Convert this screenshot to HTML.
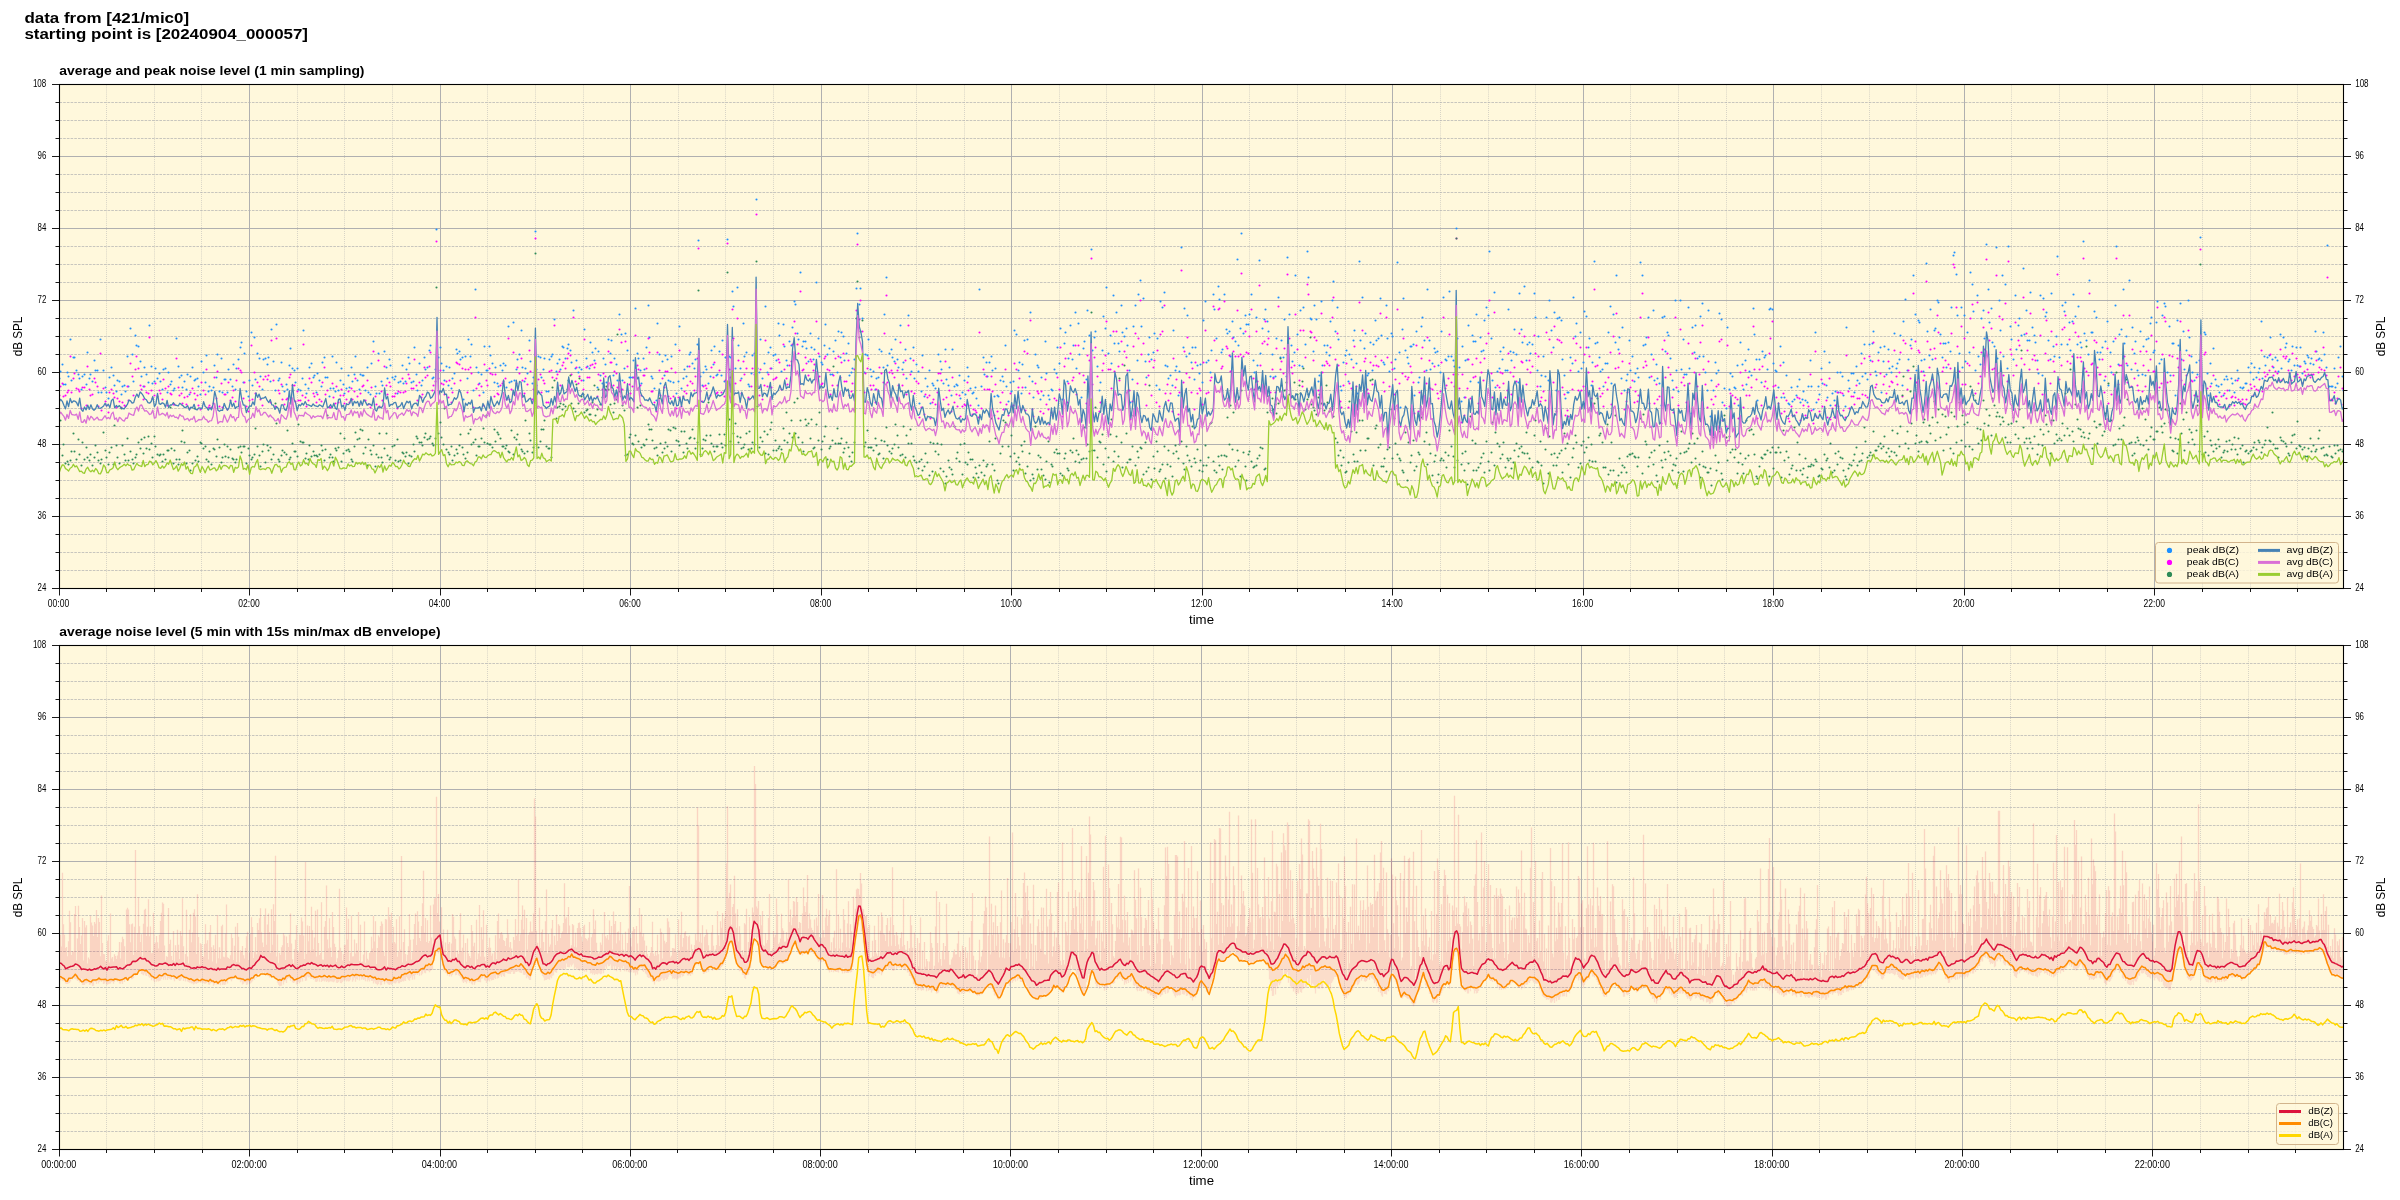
<!DOCTYPE html><html><head><meta charset="utf-8"><style>html,body{margin:0;padding:0;background:#fff}svg{display:block}text{font-family:"Liberation Sans",sans-serif;-webkit-font-smoothing:antialiased}svg{will-change:transform}</style></head><body><svg xmlns="http://www.w3.org/2000/svg" width="2400" height="1200" viewBox="0 0 2400 1200" font-family="Liberation Sans, sans-serif"><rect width="2400" height="1200" fill="#fff"/><text x="24.40" y="22.90" font-size="14" text-anchor="start" font-weight="bold" textLength="164.7" lengthAdjust="spacingAndGlyphs">data from [421/mic0]</text><text x="24.40" y="38.70" font-size="14" text-anchor="start" font-weight="bold" textLength="283.6" lengthAdjust="spacingAndGlyphs">starting point is [20240904_000057]</text><defs><clipPath id="c1"><rect x="59.5" y="84.5" width="2284" height="504"/></clipPath><clipPath id="c2"><rect x="59.5" y="645.5" width="2284" height="504"/></clipPath></defs><rect x="59" y="84.0" width="2285" height="505" fill="#fff8dc"/><path d="M59.5 570.5H2343.5M59.5 552.5H2343.5M59.5 534.5H2343.5M59.5 498.5H2343.5M59.5 480.5H2343.5M59.5 462.5H2343.5M59.5 426.5H2343.5M59.5 408.5H2343.5M59.5 390.5H2343.5M59.5 354.5H2343.5M59.5 336.5H2343.5M59.5 318.5H2343.5M59.5 282.5H2343.5M59.5 264.5H2343.5M59.5 246.5H2343.5M59.5 210.5H2343.5M59.5 192.5H2343.5M59.5 174.5H2343.5M59.5 138.5H2343.5M59.5 120.5H2343.5M59.5 102.5H2343.5" stroke="#b0b0b0" stroke-width="0.7" stroke-dasharray="2.6,1.1" fill="none"/><path d="M106.5 588.5V84.5M154.5 588.5V84.5M201.5 588.5V84.5M297.5 588.5V84.5M344.5 588.5V84.5M392.5 588.5V84.5M487.5 588.5V84.5M535.5 588.5V84.5M583.5 588.5V84.5M678.5 588.5V84.5M725.5 588.5V84.5M773.5 588.5V84.5M868.5 588.5V84.5M916.5 588.5V84.5M964.5 588.5V84.5M1059.5 588.5V84.5M1106.5 588.5V84.5M1154.5 588.5V84.5M1249.5 588.5V84.5M1297.5 588.5V84.5M1345.5 588.5V84.5M1440.5 588.5V84.5M1488.5 588.5V84.5M1535.5 588.5V84.5M1630.5 588.5V84.5M1678.5 588.5V84.5M1726.5 588.5V84.5M1821.5 588.5V84.5M1869.5 588.5V84.5M1916.5 588.5V84.5M2011.5 588.5V84.5M2059.5 588.5V84.5M2107.5 588.5V84.5M2202.5 588.5V84.5M2250.5 588.5V84.5M2297.5 588.5V84.5" stroke="#b0b0b0" stroke-width="0.7" stroke-dasharray="0.7,1.35" fill="none"/><path d="M59.5 516.5H2343.5M59.5 444.5H2343.5M59.5 372.5H2343.5M59.5 300.5H2343.5M59.5 228.5H2343.5M59.5 156.5H2343.5M249.5 84.5V588.5M440.5 84.5V588.5M630.5 84.5V588.5M821.5 84.5V588.5M1011.5 84.5V588.5M1202.5 84.5V588.5M1392.5 84.5V588.5M1583.5 84.5V588.5M1773.5 84.5V588.5M1964.5 84.5V588.5M2154.5 84.5V588.5" stroke="#b0b0b0" stroke-width="1" fill="none"/><g clip-path="url(#c1)"><path d="M59.5 378.5h0M60.5 371.5h0M62.5 364.5h0M63.5 384.5h0M65.5 384.5h0M67.5 372.5h0M68.5 376.5h0M70.5 339.5h0M71.5 380.5h0M73.5 357.5h0M74.5 357.5h0M76.5 370.5h0M78.5 374.5h0M79.5 378.5h0M81.5 389.5h0M82.5 376.5h0M84.5 374.5h0M86.5 384.5h0M87.5 352.5h0M89.5 378.5h0M90.5 374.5h0M92.5 381.5h0M94.5 360.5h0M95.5 370.5h0M97.5 370.5h0M98.5 392.5h0M100.5 339.5h0M101.5 392.5h0M103.5 370.5h0M105.5 387.5h0M106.5 392.5h0M108.5 398.5h0M109.5 377.5h0M111.5 367.5h0M113.5 375.5h0M114.5 385.5h0M116.5 391.5h0M117.5 380.5h0M119.5 381.5h0M121.5 394.5h0M122.5 386.5h0M124.5 385.5h0M125.5 391.5h0M127.5 356.5h0M128.5 386.5h0M130.5 328.5h0M132.5 354.5h0M133.5 381.5h0M135.5 335.5h0M136.5 345.5h0M138.5 346.5h0M140.5 361.5h0M141.5 376.5h0M143.5 386.5h0M144.5 367.5h0M146.5 374.5h0M148.5 382.5h0M149.5 325.5h0M151.5 366.5h0M152.5 383.5h0M154.5 381.5h0M155.5 368.5h0M157.5 378.5h0M159.5 373.5h0M160.5 381.5h0M162.5 389.5h0M163.5 369.5h0M165.5 368.5h0M167.5 392.5h0M168.5 372.5h0M170.5 384.5h0M171.5 381.5h0M173.5 390.5h0M174.5 388.5h0M176.5 338.5h0M178.5 366.5h0M179.5 377.5h0M181.5 375.5h0M182.5 387.5h0M184.5 381.5h0M186.5 389.5h0M187.5 374.5h0M189.5 394.5h0M190.5 376.5h0M192.5 367.5h0M194.5 380.5h0M195.5 379.5h0M197.5 378.5h0M198.5 386.5h0M200.5 394.5h0M201.5 361.5h0M203.5 372.5h0M205.5 382.5h0M206.5 355.5h0M208.5 391.5h0M209.5 386.5h0M211.5 390.5h0M213.5 387.5h0M214.5 365.5h0M216.5 377.5h0M217.5 354.5h0M219.5 391.5h0M221.5 358.5h0M222.5 392.5h0M224.5 379.5h0M225.5 379.5h0M227.5 392.5h0M228.5 369.5h0M230.5 379.5h0M232.5 386.5h0M233.5 364.5h0M235.5 389.5h0M236.5 368.5h0M238.5 359.5h0M240.5 347.5h0M241.5 342.5h0M243.5 382.5h0M244.5 353.5h0M246.5 391.5h0M248.5 396.5h0M249.5 380.5h0M251.5 332.5h0M252.5 385.5h0M254.5 337.5h0M255.5 379.5h0M257.5 353.5h0M259.5 358.5h0M260.5 376.5h0M262.5 389.5h0M263.5 359.5h0M265.5 358.5h0M267.5 364.5h0M268.5 357.5h0M270.5 381.5h0M271.5 329.5h0M273.5 361.5h0M275.5 390.5h0M276.5 324.5h0M278.5 380.5h0M279.5 378.5h0M281.5 362.5h0M282.5 386.5h0M284.5 391.5h0M286.5 384.5h0M287.5 389.5h0M289.5 365.5h0M290.5 348.5h0M292.5 368.5h0M294.5 370.5h0M295.5 382.5h0M297.5 368.5h0M298.5 389.5h0M300.5 390.5h0M302.5 378.5h0M303.5 330.5h0M305.5 384.5h0M306.5 393.5h0M308.5 388.5h0M309.5 367.5h0M311.5 363.5h0M313.5 377.5h0M314.5 375.5h0M316.5 392.5h0M317.5 373.5h0M319.5 380.5h0M321.5 386.5h0M322.5 362.5h0M324.5 357.5h0M325.5 377.5h0M327.5 377.5h0M329.5 396.5h0M330.5 388.5h0M332.5 356.5h0M333.5 388.5h0M335.5 391.5h0M336.5 362.5h0M338.5 390.5h0M340.5 380.5h0M341.5 368.5h0M343.5 384.5h0M344.5 393.5h0M346.5 388.5h0M348.5 375.5h0M349.5 387.5h0M351.5 367.5h0M352.5 381.5h0M354.5 374.5h0M355.5 356.5h0M357.5 380.5h0M359.5 389.5h0M360.5 374.5h0M362.5 375.5h0M363.5 375.5h0M365.5 390.5h0M367.5 367.5h0M368.5 392.5h0M370.5 394.5h0M371.5 363.5h0M373.5 341.5h0M375.5 386.5h0M376.5 393.5h0M378.5 353.5h0M379.5 393.5h0M381.5 381.5h0M382.5 385.5h0M384.5 351.5h0M386.5 367.5h0M387.5 378.5h0M389.5 359.5h0M390.5 365.5h0M392.5 377.5h0M394.5 379.5h0M395.5 376.5h0M397.5 393.5h0M398.5 382.5h0M400.5 381.5h0M402.5 365.5h0M403.5 383.5h0M405.5 381.5h0M406.5 369.5h0M408.5 357.5h0M409.5 363.5h0M411.5 382.5h0M413.5 381.5h0M414.5 347.5h0M416.5 374.5h0M417.5 390.5h0M419.5 363.5h0M421.5 385.5h0M422.5 380.5h0M424.5 357.5h0M425.5 369.5h0M427.5 367.5h0M429.5 350.5h0M430.5 345.5h0M432.5 378.5h0M433.5 377.5h0M435.5 369.5h0M436.5 229.5h0M438.5 357.5h0M440.5 347.5h0M441.5 363.5h0M443.5 370.5h0M444.5 380.5h0M446.5 366.5h0M448.5 385.5h0M449.5 367.5h0M451.5 388.5h0M452.5 378.5h0M454.5 373.5h0M456.5 349.5h0M457.5 353.5h0M459.5 351.5h0M460.5 359.5h0M462.5 357.5h0M463.5 399.5h0M465.5 356.5h0M467.5 378.5h0M468.5 339.5h0M470.5 356.5h0M471.5 344.5h0M473.5 390.5h0M475.5 289.5h0M476.5 367.5h0M478.5 372.5h0M479.5 383.5h0M481.5 374.5h0M483.5 392.5h0M484.5 346.5h0M486.5 370.5h0M487.5 370.5h0M489.5 346.5h0M490.5 355.5h0M492.5 363.5h0M494.5 382.5h0M495.5 367.5h0M497.5 383.5h0M498.5 386.5h0M500.5 365.5h0M502.5 370.5h0M503.5 363.5h0M505.5 365.5h0M506.5 387.5h0M508.5 326.5h0M509.5 382.5h0M511.5 381.5h0M513.5 322.5h0M514.5 380.5h0M516.5 369.5h0M517.5 359.5h0M519.5 354.5h0M521.5 330.5h0M522.5 367.5h0M524.5 381.5h0M525.5 368.5h0M527.5 373.5h0M529.5 340.5h0M530.5 361.5h0M532.5 383.5h0M533.5 377.5h0M535.5 231.5h0M536.5 369.5h0M538.5 356.5h0M540.5 357.5h0M541.5 377.5h0M543.5 369.5h0M544.5 358.5h0M546.5 391.5h0M548.5 391.5h0M549.5 359.5h0M551.5 356.5h0M552.5 354.5h0M554.5 319.5h0M556.5 371.5h0M557.5 363.5h0M559.5 359.5h0M560.5 369.5h0M562.5 346.5h0M563.5 347.5h0M565.5 358.5h0M567.5 348.5h0M568.5 344.5h0M570.5 350.5h0M571.5 362.5h0M573.5 310.5h0M575.5 368.5h0M576.5 360.5h0M578.5 372.5h0M579.5 367.5h0M581.5 369.5h0M583.5 380.5h0M584.5 329.5h0M586.5 358.5h0M587.5 366.5h0M589.5 368.5h0M590.5 342.5h0M592.5 352.5h0M594.5 360.5h0M595.5 348.5h0M597.5 387.5h0M598.5 351.5h0M600.5 375.5h0M602.5 383.5h0M603.5 358.5h0M605.5 364.5h0M606.5 382.5h0M608.5 339.5h0M610.5 353.5h0M611.5 340.5h0M613.5 375.5h0M614.5 358.5h0M616.5 364.5h0M617.5 380.5h0M619.5 314.5h0M621.5 334.5h0M622.5 380.5h0M624.5 368.5h0M625.5 333.5h0M627.5 350.5h0M629.5 377.5h0M630.5 377.5h0M632.5 377.5h0M633.5 360.5h0M635.5 308.5h0M637.5 353.5h0M638.5 358.5h0M640.5 370.5h0M641.5 383.5h0M643.5 358.5h0M644.5 369.5h0M646.5 347.5h0M648.5 305.5h0M649.5 337.5h0M651.5 376.5h0M652.5 378.5h0M654.5 388.5h0M656.5 400.5h0M657.5 323.5h0M659.5 354.5h0M660.5 383.5h0M662.5 361.5h0M664.5 375.5h0M665.5 355.5h0M667.5 359.5h0M668.5 380.5h0M670.5 381.5h0M671.5 356.5h0M673.5 382.5h0M675.5 344.5h0M676.5 393.5h0M678.5 381.5h0M679.5 326.5h0M681.5 388.5h0M683.5 378.5h0M684.5 369.5h0M686.5 376.5h0M687.5 366.5h0M689.5 354.5h0M690.5 352.5h0M692.5 363.5h0M694.5 368.5h0M695.5 359.5h0M697.5 344.5h0M698.5 240.5h0M700.5 376.5h0M702.5 385.5h0M703.5 372.5h0M705.5 366.5h0M706.5 369.5h0M708.5 383.5h0M710.5 376.5h0M711.5 350.5h0M713.5 364.5h0M714.5 346.5h0M716.5 375.5h0M717.5 374.5h0M719.5 351.5h0M721.5 375.5h0M722.5 340.5h0M724.5 381.5h0M725.5 357.5h0M727.5 239.5h0M729.5 356.5h0M730.5 357.5h0M732.5 291.5h0M733.5 306.5h0M735.5 368.5h0M737.5 287.5h0M738.5 345.5h0M740.5 368.5h0M741.5 378.5h0M743.5 323.5h0M744.5 356.5h0M746.5 352.5h0M748.5 384.5h0M749.5 386.5h0M751.5 373.5h0M752.5 355.5h0M754.5 353.5h0M756.5 199.5h0M757.5 368.5h0M759.5 372.5h0M760.5 339.5h0M762.5 378.5h0M764.5 363.5h0M765.5 306.5h0M767.5 372.5h0M768.5 352.5h0M770.5 347.5h0M771.5 368.5h0M773.5 355.5h0M775.5 354.5h0M776.5 360.5h0M778.5 323.5h0M779.5 335.5h0M781.5 371.5h0M783.5 324.5h0M784.5 346.5h0M786.5 360.5h0M787.5 365.5h0M789.5 341.5h0M791.5 345.5h0M792.5 327.5h0M794.5 301.5h0M795.5 304.5h0M797.5 333.5h0M798.5 339.5h0M800.5 272.5h0M802.5 346.5h0M803.5 341.5h0M805.5 341.5h0M806.5 348.5h0M808.5 361.5h0M810.5 333.5h0M811.5 347.5h0M813.5 359.5h0M814.5 349.5h0M816.5 282.5h0M818.5 338.5h0M819.5 356.5h0M821.5 362.5h0M822.5 364.5h0M824.5 345.5h0M825.5 324.5h0M827.5 354.5h0M829.5 348.5h0M830.5 374.5h0M832.5 374.5h0M833.5 351.5h0M835.5 340.5h0M837.5 372.5h0M838.5 331.5h0M840.5 357.5h0M841.5 332.5h0M843.5 336.5h0M844.5 360.5h0M846.5 353.5h0M848.5 343.5h0M849.5 375.5h0M851.5 372.5h0M852.5 368.5h0M854.5 359.5h0M856.5 288.5h0M857.5 233.5h0M859.5 304.5h0M860.5 288.5h0M862.5 318.5h0M864.5 372.5h0M865.5 354.5h0M867.5 355.5h0M868.5 339.5h0M870.5 369.5h0M871.5 376.5h0M873.5 371.5h0M875.5 389.5h0M876.5 378.5h0M878.5 377.5h0M879.5 349.5h0M881.5 351.5h0M883.5 367.5h0M884.5 314.5h0M886.5 277.5h0M887.5 365.5h0M889.5 353.5h0M891.5 349.5h0M892.5 357.5h0M894.5 361.5h0M895.5 339.5h0M897.5 359.5h0M898.5 367.5h0M900.5 325.5h0M902.5 369.5h0M903.5 362.5h0M905.5 349.5h0M906.5 378.5h0M908.5 315.5h0M910.5 358.5h0M911.5 371.5h0M913.5 347.5h0M914.5 378.5h0M916.5 364.5h0M918.5 371.5h0M919.5 403.5h0M921.5 391.5h0M922.5 355.5h0M924.5 396.5h0M925.5 378.5h0M927.5 386.5h0M929.5 370.5h0M930.5 403.5h0M932.5 383.5h0M933.5 385.5h0M935.5 388.5h0M937.5 380.5h0M938.5 354.5h0M940.5 361.5h0M941.5 369.5h0M943.5 383.5h0M945.5 349.5h0M946.5 379.5h0M948.5 385.5h0M949.5 367.5h0M951.5 395.5h0M952.5 349.5h0M954.5 386.5h0M956.5 384.5h0M957.5 385.5h0M959.5 375.5h0M960.5 398.5h0M962.5 392.5h0M964.5 380.5h0M965.5 394.5h0M967.5 367.5h0M968.5 376.5h0M970.5 388.5h0M972.5 393.5h0M973.5 392.5h0M975.5 387.5h0M976.5 398.5h0M978.5 405.5h0M979.5 289.5h0M981.5 386.5h0M983.5 357.5h0M984.5 374.5h0M986.5 362.5h0M987.5 376.5h0M989.5 362.5h0M991.5 356.5h0M992.5 370.5h0M994.5 396.5h0M995.5 368.5h0M997.5 395.5h0M998.5 396.5h0M1000.5 380.5h0M1002.5 376.5h0M1003.5 381.5h0M1005.5 345.5h0M1006.5 386.5h0M1008.5 401.5h0M1010.5 382.5h0M1011.5 391.5h0M1013.5 381.5h0M1014.5 330.5h0M1016.5 334.5h0M1018.5 370.5h0M1019.5 362.5h0M1021.5 393.5h0M1022.5 364.5h0M1024.5 340.5h0M1025.5 387.5h0M1027.5 339.5h0M1029.5 376.5h0M1030.5 312.5h0M1032.5 381.5h0M1033.5 397.5h0M1035.5 354.5h0M1037.5 365.5h0M1038.5 367.5h0M1040.5 399.5h0M1041.5 377.5h0M1043.5 395.5h0M1045.5 341.5h0M1046.5 373.5h0M1048.5 395.5h0M1049.5 399.5h0M1051.5 389.5h0M1052.5 390.5h0M1054.5 369.5h0M1056.5 373.5h0M1057.5 347.5h0M1059.5 363.5h0M1060.5 328.5h0M1062.5 399.5h0M1064.5 343.5h0M1065.5 332.5h0M1067.5 381.5h0M1068.5 358.5h0M1070.5 325.5h0M1072.5 359.5h0M1073.5 345.5h0M1075.5 312.5h0M1076.5 368.5h0M1078.5 323.5h0M1079.5 354.5h0M1081.5 397.5h0M1083.5 348.5h0M1084.5 341.5h0M1086.5 379.5h0M1087.5 310.5h0M1089.5 335.5h0M1091.5 249.5h0M1092.5 350.5h0M1094.5 337.5h0M1095.5 331.5h0M1097.5 366.5h0M1099.5 390.5h0M1100.5 382.5h0M1102.5 350.5h0M1103.5 316.5h0M1105.5 328.5h0M1106.5 287.5h0M1108.5 353.5h0M1110.5 335.5h0M1111.5 363.5h0M1113.5 295.5h0M1114.5 343.5h0M1116.5 312.5h0M1118.5 343.5h0M1119.5 351.5h0M1121.5 305.5h0M1122.5 332.5h0M1124.5 336.5h0M1126.5 328.5h0M1127.5 345.5h0M1129.5 370.5h0M1130.5 402.5h0M1132.5 379.5h0M1133.5 326.5h0M1135.5 305.5h0M1137.5 360.5h0M1138.5 294.5h0M1140.5 280.5h0M1141.5 326.5h0M1143.5 298.5h0M1145.5 361.5h0M1146.5 377.5h0M1148.5 354.5h0M1149.5 337.5h0M1151.5 359.5h0M1153.5 352.5h0M1154.5 333.5h0M1156.5 385.5h0M1157.5 338.5h0M1159.5 389.5h0M1160.5 301.5h0M1162.5 307.5h0M1164.5 292.5h0M1165.5 365.5h0M1167.5 366.5h0M1168.5 378.5h0M1170.5 375.5h0M1172.5 385.5h0M1173.5 330.5h0M1175.5 370.5h0M1176.5 366.5h0M1178.5 395.5h0M1179.5 371.5h0M1181.5 247.5h0M1183.5 347.5h0M1184.5 308.5h0M1186.5 356.5h0M1187.5 315.5h0M1189.5 353.5h0M1191.5 362.5h0M1192.5 347.5h0M1194.5 379.5h0M1195.5 347.5h0M1197.5 365.5h0M1199.5 373.5h0M1200.5 364.5h0M1202.5 382.5h0M1203.5 320.5h0M1205.5 301.5h0M1206.5 362.5h0M1208.5 360.5h0M1210.5 372.5h0M1211.5 350.5h0M1213.5 294.5h0M1214.5 309.5h0M1216.5 338.5h0M1218.5 286.5h0M1219.5 299.5h0M1221.5 352.5h0M1222.5 349.5h0M1224.5 294.5h0M1226.5 329.5h0M1227.5 333.5h0M1229.5 331.5h0M1230.5 356.5h0M1232.5 321.5h0M1233.5 337.5h0M1235.5 341.5h0M1237.5 259.5h0M1238.5 345.5h0M1240.5 328.5h0M1241.5 233.5h0M1243.5 333.5h0M1245.5 315.5h0M1246.5 324.5h0M1248.5 324.5h0M1249.5 314.5h0M1251.5 294.5h0M1253.5 360.5h0M1254.5 372.5h0M1256.5 317.5h0M1257.5 365.5h0M1259.5 260.5h0M1260.5 353.5h0M1262.5 328.5h0M1264.5 319.5h0M1265.5 309.5h0M1267.5 321.5h0M1268.5 331.5h0M1270.5 376.5h0M1272.5 354.5h0M1273.5 377.5h0M1275.5 376.5h0M1276.5 338.5h0M1278.5 297.5h0M1280.5 357.5h0M1281.5 340.5h0M1283.5 357.5h0M1284.5 319.5h0M1286.5 376.5h0M1287.5 257.5h0M1289.5 314.5h0M1291.5 345.5h0M1292.5 361.5h0M1294.5 352.5h0M1295.5 275.5h0M1297.5 334.5h0M1299.5 365.5h0M1300.5 310.5h0M1302.5 366.5h0M1303.5 307.5h0M1305.5 344.5h0M1307.5 251.5h0M1308.5 277.5h0M1310.5 318.5h0M1311.5 319.5h0M1313.5 351.5h0M1314.5 305.5h0M1316.5 319.5h0M1318.5 381.5h0M1319.5 375.5h0M1321.5 301.5h0M1322.5 365.5h0M1324.5 345.5h0M1326.5 352.5h0M1327.5 345.5h0M1329.5 355.5h0M1330.5 321.5h0M1332.5 300.5h0M1333.5 281.5h0M1335.5 331.5h0M1337.5 307.5h0M1338.5 339.5h0M1340.5 386.5h0M1341.5 390.5h0M1343.5 362.5h0M1345.5 355.5h0M1346.5 350.5h0M1348.5 381.5h0M1349.5 354.5h0M1351.5 359.5h0M1353.5 340.5h0M1354.5 330.5h0M1356.5 363.5h0M1357.5 393.5h0M1359.5 261.5h0M1360.5 340.5h0M1362.5 297.5h0M1364.5 348.5h0M1365.5 333.5h0M1367.5 375.5h0M1368.5 373.5h0M1370.5 342.5h0M1372.5 370.5h0M1373.5 344.5h0M1375.5 320.5h0M1376.5 340.5h0M1378.5 338.5h0M1380.5 298.5h0M1381.5 335.5h0M1383.5 362.5h0M1384.5 364.5h0M1386.5 305.5h0M1387.5 338.5h0M1389.5 371.5h0M1391.5 333.5h0M1392.5 336.5h0M1394.5 368.5h0M1395.5 359.5h0M1397.5 262.5h0M1399.5 352.5h0M1400.5 407.5h0M1402.5 329.5h0M1403.5 298.5h0M1405.5 350.5h0M1407.5 357.5h0M1408.5 363.5h0M1410.5 346.5h0M1411.5 346.5h0M1413.5 344.5h0M1414.5 395.5h0M1416.5 331.5h0M1418.5 382.5h0M1419.5 377.5h0M1421.5 326.5h0M1422.5 317.5h0M1424.5 340.5h0M1426.5 370.5h0M1427.5 289.5h0M1429.5 340.5h0M1430.5 369.5h0M1432.5 363.5h0M1434.5 348.5h0M1435.5 352.5h0M1437.5 351.5h0M1438.5 365.5h0M1440.5 372.5h0M1441.5 331.5h0M1443.5 297.5h0M1445.5 359.5h0M1446.5 360.5h0M1448.5 356.5h0M1449.5 291.5h0M1451.5 356.5h0M1453.5 360.5h0M1454.5 366.5h0M1456.5 228.5h0M1457.5 338.5h0M1459.5 367.5h0M1461.5 401.5h0M1462.5 346.5h0M1464.5 397.5h0M1465.5 360.5h0M1467.5 359.5h0M1468.5 325.5h0M1470.5 381.5h0M1472.5 335.5h0M1473.5 341.5h0M1475.5 341.5h0M1476.5 314.5h0M1478.5 382.5h0M1480.5 337.5h0M1481.5 351.5h0M1483.5 350.5h0M1484.5 320.5h0M1486.5 307.5h0M1488.5 315.5h0M1489.5 251.5h0M1491.5 338.5h0M1492.5 380.5h0M1494.5 292.5h0M1495.5 387.5h0M1497.5 371.5h0M1499.5 368.5h0M1500.5 351.5h0M1502.5 359.5h0M1503.5 347.5h0M1505.5 370.5h0M1507.5 370.5h0M1508.5 309.5h0M1510.5 351.5h0M1511.5 360.5h0M1513.5 352.5h0M1514.5 329.5h0M1516.5 354.5h0M1518.5 382.5h0M1519.5 293.5h0M1521.5 329.5h0M1522.5 342.5h0M1524.5 286.5h0M1526.5 360.5h0M1527.5 344.5h0M1529.5 342.5h0M1530.5 353.5h0M1532.5 344.5h0M1534.5 293.5h0M1535.5 317.5h0M1537.5 370.5h0M1538.5 336.5h0M1540.5 386.5h0M1541.5 375.5h0M1543.5 356.5h0M1545.5 376.5h0M1546.5 317.5h0M1548.5 380.5h0M1549.5 300.5h0M1551.5 330.5h0M1553.5 347.5h0M1554.5 312.5h0M1556.5 390.5h0M1557.5 318.5h0M1559.5 317.5h0M1561.5 320.5h0M1562.5 359.5h0M1564.5 375.5h0M1565.5 398.5h0M1567.5 392.5h0M1568.5 392.5h0M1570.5 357.5h0M1572.5 363.5h0M1573.5 297.5h0M1575.5 336.5h0M1576.5 323.5h0M1578.5 371.5h0M1580.5 332.5h0M1581.5 368.5h0M1583.5 362.5h0M1584.5 311.5h0M1586.5 316.5h0M1588.5 347.5h0M1589.5 338.5h0M1591.5 385.5h0M1592.5 362.5h0M1594.5 261.5h0M1595.5 343.5h0M1597.5 342.5h0M1599.5 357.5h0M1600.5 371.5h0M1602.5 369.5h0M1603.5 386.5h0M1605.5 363.5h0M1607.5 363.5h0M1608.5 332.5h0M1610.5 306.5h0M1611.5 383.5h0M1613.5 314.5h0M1615.5 342.5h0M1616.5 275.5h0M1618.5 349.5h0M1619.5 337.5h0M1621.5 378.5h0M1622.5 327.5h0M1624.5 390.5h0M1626.5 380.5h0M1627.5 374.5h0M1629.5 340.5h0M1630.5 370.5h0M1632.5 356.5h0M1634.5 381.5h0M1635.5 373.5h0M1637.5 368.5h0M1638.5 377.5h0M1640.5 262.5h0M1642.5 275.5h0M1643.5 345.5h0M1645.5 344.5h0M1646.5 337.5h0M1648.5 317.5h0M1649.5 377.5h0M1651.5 354.5h0M1653.5 310.5h0M1654.5 380.5h0M1656.5 364.5h0M1657.5 378.5h0M1659.5 383.5h0M1661.5 405.5h0M1662.5 317.5h0M1664.5 316.5h0M1665.5 351.5h0M1667.5 332.5h0M1668.5 335.5h0M1670.5 358.5h0M1672.5 380.5h0M1673.5 389.5h0M1675.5 300.5h0M1676.5 370.5h0M1678.5 391.5h0M1680.5 300.5h0M1681.5 369.5h0M1683.5 339.5h0M1684.5 374.5h0M1686.5 374.5h0M1688.5 307.5h0M1689.5 368.5h0M1691.5 413.5h0M1692.5 327.5h0M1694.5 352.5h0M1695.5 325.5h0M1697.5 358.5h0M1699.5 356.5h0M1700.5 316.5h0M1702.5 303.5h0M1703.5 356.5h0M1705.5 372.5h0M1707.5 390.5h0M1708.5 310.5h0M1710.5 416.5h0M1711.5 380.5h0M1713.5 390.5h0M1715.5 362.5h0M1716.5 373.5h0M1718.5 370.5h0M1719.5 313.5h0M1721.5 319.5h0M1722.5 402.5h0M1724.5 388.5h0M1726.5 408.5h0M1727.5 327.5h0M1729.5 389.5h0M1730.5 373.5h0M1732.5 376.5h0M1734.5 387.5h0M1735.5 388.5h0M1737.5 365.5h0M1738.5 405.5h0M1740.5 342.5h0M1742.5 364.5h0M1743.5 389.5h0M1745.5 360.5h0M1746.5 384.5h0M1748.5 349.5h0M1749.5 371.5h0M1751.5 375.5h0M1753.5 308.5h0M1754.5 334.5h0M1756.5 359.5h0M1757.5 400.5h0M1759.5 359.5h0M1761.5 382.5h0M1762.5 351.5h0M1764.5 357.5h0M1765.5 355.5h0M1767.5 369.5h0M1769.5 309.5h0M1770.5 308.5h0M1772.5 309.5h0M1773.5 363.5h0M1775.5 370.5h0M1776.5 371.5h0M1778.5 387.5h0M1780.5 346.5h0M1781.5 397.5h0M1783.5 362.5h0M1784.5 397.5h0M1786.5 375.5h0M1788.5 403.5h0M1789.5 404.5h0M1791.5 387.5h0M1792.5 401.5h0M1794.5 399.5h0M1796.5 395.5h0M1797.5 386.5h0M1799.5 379.5h0M1800.5 402.5h0M1802.5 399.5h0M1803.5 391.5h0M1805.5 400.5h0M1807.5 402.5h0M1808.5 386.5h0M1810.5 360.5h0M1811.5 386.5h0M1813.5 409.5h0M1815.5 332.5h0M1816.5 402.5h0M1818.5 386.5h0M1819.5 394.5h0M1821.5 368.5h0M1822.5 383.5h0M1824.5 351.5h0M1826.5 385.5h0M1827.5 397.5h0M1829.5 362.5h0M1830.5 405.5h0M1832.5 393.5h0M1834.5 400.5h0M1835.5 391.5h0M1837.5 372.5h0M1838.5 392.5h0M1840.5 372.5h0M1842.5 376.5h0M1843.5 395.5h0M1845.5 406.5h0M1846.5 327.5h0M1848.5 380.5h0M1849.5 388.5h0M1851.5 373.5h0M1853.5 373.5h0M1854.5 392.5h0M1856.5 366.5h0M1857.5 380.5h0M1859.5 383.5h0M1861.5 353.5h0M1862.5 376.5h0M1864.5 344.5h0M1865.5 373.5h0M1867.5 379.5h0M1869.5 344.5h0M1870.5 360.5h0M1872.5 343.5h0M1873.5 331.5h0M1875.5 371.5h0M1876.5 375.5h0M1878.5 352.5h0M1880.5 347.5h0M1881.5 392.5h0M1883.5 361.5h0M1884.5 346.5h0M1886.5 374.5h0M1888.5 349.5h0M1889.5 368.5h0M1891.5 372.5h0M1892.5 366.5h0M1894.5 333.5h0M1896.5 368.5h0M1897.5 363.5h0M1899.5 359.5h0M1900.5 335.5h0M1902.5 385.5h0M1903.5 321.5h0M1905.5 299.5h0M1907.5 370.5h0M1908.5 359.5h0M1910.5 345.5h0M1911.5 339.5h0M1913.5 275.5h0M1915.5 314.5h0M1916.5 370.5h0M1918.5 320.5h0M1919.5 322.5h0M1921.5 360.5h0M1923.5 371.5h0M1924.5 359.5h0M1926.5 263.5h0M1927.5 331.5h0M1929.5 355.5h0M1930.5 309.5h0M1932.5 359.5h0M1934.5 330.5h0M1935.5 328.5h0M1937.5 300.5h0M1938.5 302.5h0M1940.5 334.5h0M1942.5 357.5h0M1943.5 343.5h0M1945.5 343.5h0M1946.5 367.5h0M1948.5 342.5h0M1950.5 351.5h0M1951.5 307.5h0M1953.5 255.5h0M1954.5 252.5h0M1956.5 274.5h0M1957.5 315.5h0M1959.5 353.5h0M1961.5 307.5h0M1962.5 367.5h0M1964.5 315.5h0M1965.5 361.5h0M1967.5 332.5h0M1969.5 352.5h0M1970.5 272.5h0M1972.5 284.5h0M1973.5 311.5h0M1975.5 370.5h0M1977.5 295.5h0M1978.5 356.5h0M1980.5 364.5h0M1981.5 318.5h0M1983.5 310.5h0M1984.5 338.5h0M1986.5 244.5h0M1988.5 289.5h0M1989.5 322.5h0M1991.5 308.5h0M1992.5 342.5h0M1994.5 346.5h0M1996.5 247.5h0M1997.5 358.5h0M1999.5 300.5h0M2000.5 330.5h0M2002.5 275.5h0M2003.5 356.5h0M2005.5 284.5h0M2007.5 368.5h0M2008.5 246.5h0M2010.5 326.5h0M2011.5 339.5h0M2013.5 359.5h0M2015.5 295.5h0M2016.5 349.5h0M2018.5 325.5h0M2019.5 318.5h0M2021.5 335.5h0M2023.5 268.5h0M2024.5 334.5h0M2026.5 310.5h0M2027.5 340.5h0M2029.5 340.5h0M2030.5 292.5h0M2032.5 327.5h0M2034.5 335.5h0M2035.5 342.5h0M2037.5 360.5h0M2038.5 373.5h0M2040.5 295.5h0M2042.5 375.5h0M2043.5 298.5h0M2045.5 316.5h0M2046.5 312.5h0M2048.5 340.5h0M2050.5 359.5h0M2051.5 293.5h0M2053.5 346.5h0M2054.5 356.5h0M2056.5 336.5h0M2057.5 256.5h0M2059.5 357.5h0M2061.5 344.5h0M2062.5 305.5h0M2064.5 311.5h0M2065.5 302.5h0M2067.5 344.5h0M2069.5 322.5h0M2070.5 350.5h0M2072.5 321.5h0M2073.5 294.5h0M2075.5 316.5h0M2077.5 344.5h0M2078.5 306.5h0M2080.5 342.5h0M2081.5 347.5h0M2083.5 241.5h0M2084.5 333.5h0M2086.5 340.5h0M2088.5 354.5h0M2089.5 280.5h0M2091.5 332.5h0M2092.5 332.5h0M2094.5 311.5h0M2096.5 317.5h0M2097.5 352.5h0M2099.5 359.5h0M2100.5 352.5h0M2102.5 347.5h0M2104.5 380.5h0M2105.5 341.5h0M2107.5 321.5h0M2108.5 385.5h0M2110.5 352.5h0M2111.5 372.5h0M2113.5 341.5h0M2115.5 305.5h0M2116.5 246.5h0M2118.5 364.5h0M2119.5 334.5h0M2121.5 329.5h0M2123.5 289.5h0M2124.5 343.5h0M2126.5 336.5h0M2127.5 365.5h0M2129.5 280.5h0M2131.5 369.5h0M2132.5 327.5h0M2134.5 353.5h0M2135.5 341.5h0M2137.5 370.5h0M2138.5 375.5h0M2140.5 331.5h0M2142.5 374.5h0M2143.5 346.5h0M2145.5 375.5h0M2146.5 339.5h0M2148.5 338.5h0M2150.5 323.5h0M2151.5 317.5h0M2153.5 352.5h0M2154.5 350.5h0M2156.5 322.5h0M2157.5 301.5h0M2159.5 363.5h0M2161.5 359.5h0M2162.5 315.5h0M2164.5 303.5h0M2165.5 306.5h0M2167.5 372.5h0M2169.5 326.5h0M2170.5 375.5h0M2172.5 343.5h0M2173.5 343.5h0M2175.5 395.5h0M2177.5 320.5h0M2178.5 345.5h0M2180.5 303.5h0M2181.5 359.5h0M2183.5 331.5h0M2184.5 369.5h0M2186.5 350.5h0M2188.5 300.5h0M2189.5 337.5h0M2191.5 356.5h0M2192.5 372.5h0M2194.5 380.5h0M2196.5 362.5h0M2197.5 374.5h0M2199.5 360.5h0M2200.5 237.5h0M2202.5 385.5h0M2204.5 332.5h0M2205.5 334.5h0M2207.5 373.5h0M2208.5 395.5h0M2210.5 363.5h0M2211.5 383.5h0M2213.5 348.5h0M2215.5 379.5h0M2216.5 385.5h0M2218.5 386.5h0M2219.5 392.5h0M2221.5 384.5h0M2223.5 395.5h0M2224.5 379.5h0M2226.5 376.5h0M2227.5 379.5h0M2229.5 390.5h0M2231.5 378.5h0M2232.5 383.5h0M2234.5 392.5h0M2235.5 380.5h0M2237.5 370.5h0M2238.5 378.5h0M2240.5 387.5h0M2242.5 388.5h0M2243.5 387.5h0M2245.5 383.5h0M2246.5 383.5h0M2248.5 367.5h0M2250.5 372.5h0M2251.5 363.5h0M2253.5 379.5h0M2254.5 367.5h0M2256.5 377.5h0M2258.5 372.5h0M2259.5 368.5h0M2261.5 321.5h0M2262.5 378.5h0M2264.5 356.5h0M2265.5 365.5h0M2267.5 357.5h0M2269.5 355.5h0M2270.5 337.5h0M2272.5 359.5h0M2273.5 367.5h0M2275.5 357.5h0M2277.5 360.5h0M2278.5 371.5h0M2280.5 334.5h0M2281.5 368.5h0M2283.5 337.5h0M2285.5 347.5h0M2286.5 343.5h0M2288.5 361.5h0M2289.5 359.5h0M2291.5 370.5h0M2292.5 346.5h0M2294.5 365.5h0M2296.5 347.5h0M2297.5 365.5h0M2299.5 366.5h0M2300.5 347.5h0M2302.5 373.5h0M2304.5 361.5h0M2305.5 363.5h0M2307.5 355.5h0M2308.5 357.5h0M2310.5 363.5h0M2311.5 358.5h0M2313.5 364.5h0M2315.5 331.5h0M2316.5 351.5h0M2318.5 359.5h0M2319.5 358.5h0M2321.5 360.5h0M2323.5 332.5h0M2324.5 354.5h0M2326.5 367.5h0M2327.5 245.5h0M2329.5 386.5h0M2331.5 386.5h0M2332.5 386.5h0M2334.5 368.5h0M2335.5 387.5h0M2337.5 383.5h0M2338.5 357.5h0M2340.5 346.5h0M2342.5 376.5h0M2343.5 390.5h0M2345.5 362.5h0" stroke="#1e90ff" stroke-width="2.1" stroke-linecap="round" fill="none"/><path d="M59.5 395.5h0M60.5 386.5h0M62.5 383.5h0M63.5 396.5h0M65.5 395.5h0M67.5 392.5h0M68.5 390.5h0M70.5 356.5h0M71.5 392.5h0M73.5 378.5h0M74.5 373.5h0M76.5 388.5h0M78.5 389.5h0M79.5 391.5h0M81.5 408.5h0M82.5 387.5h0M84.5 387.5h0M86.5 405.5h0M87.5 366.5h0M89.5 389.5h0M90.5 395.5h0M92.5 394.5h0M94.5 378.5h0M95.5 382.5h0M97.5 386.5h0M98.5 406.5h0M100.5 353.5h0M101.5 410.5h0M103.5 388.5h0M105.5 401.5h0M106.5 405.5h0M108.5 412.5h0M109.5 392.5h0M111.5 389.5h0M113.5 393.5h0M114.5 397.5h0M116.5 407.5h0M117.5 398.5h0M119.5 401.5h0M121.5 407.5h0M122.5 402.5h0M124.5 405.5h0M125.5 406.5h0M127.5 386.5h0M128.5 400.5h0M130.5 363.5h0M132.5 376.5h0M133.5 395.5h0M135.5 369.5h0M136.5 356.5h0M138.5 368.5h0M140.5 385.5h0M141.5 389.5h0M143.5 399.5h0M144.5 386.5h0M146.5 392.5h0M148.5 393.5h0M149.5 337.5h0M151.5 390.5h0M152.5 398.5h0M154.5 395.5h0M155.5 383.5h0M157.5 396.5h0M159.5 390.5h0M160.5 393.5h0M162.5 399.5h0M163.5 379.5h0M165.5 388.5h0M167.5 405.5h0M168.5 386.5h0M170.5 393.5h0M171.5 394.5h0M173.5 404.5h0M174.5 404.5h0M176.5 358.5h0M178.5 387.5h0M179.5 395.5h0M181.5 393.5h0M182.5 403.5h0M184.5 397.5h0M186.5 404.5h0M187.5 396.5h0M189.5 408.5h0M190.5 392.5h0M192.5 388.5h0M194.5 393.5h0M195.5 399.5h0M197.5 395.5h0M198.5 405.5h0M200.5 409.5h0M201.5 382.5h0M203.5 390.5h0M205.5 394.5h0M206.5 369.5h0M208.5 407.5h0M209.5 405.5h0M211.5 407.5h0M213.5 403.5h0M214.5 377.5h0M216.5 398.5h0M217.5 371.5h0M219.5 406.5h0M221.5 383.5h0M222.5 407.5h0M224.5 394.5h0M225.5 394.5h0M227.5 409.5h0M228.5 382.5h0M230.5 400.5h0M232.5 397.5h0M233.5 390.5h0M235.5 401.5h0M236.5 380.5h0M238.5 368.5h0M240.5 370.5h0M241.5 372.5h0M243.5 398.5h0M244.5 382.5h0M246.5 406.5h0M248.5 411.5h0M249.5 400.5h0M251.5 345.5h0M252.5 399.5h0M254.5 372.5h0M255.5 393.5h0M257.5 382.5h0M259.5 386.5h0M260.5 399.5h0M262.5 405.5h0M263.5 379.5h0M265.5 376.5h0M267.5 379.5h0M268.5 375.5h0M270.5 402.5h0M271.5 340.5h0M273.5 380.5h0M275.5 406.5h0M276.5 338.5h0M278.5 390.5h0M279.5 393.5h0M281.5 384.5h0M282.5 399.5h0M284.5 404.5h0M286.5 399.5h0M287.5 398.5h0M289.5 377.5h0M290.5 374.5h0M292.5 385.5h0M294.5 385.5h0M295.5 401.5h0M297.5 391.5h0M298.5 400.5h0M300.5 400.5h0M302.5 395.5h0M303.5 344.5h0M305.5 397.5h0M306.5 406.5h0M308.5 400.5h0M309.5 378.5h0M311.5 382.5h0M313.5 393.5h0M314.5 396.5h0M316.5 402.5h0M317.5 394.5h0M319.5 399.5h0M321.5 401.5h0M322.5 382.5h0M324.5 367.5h0M325.5 394.5h0M327.5 390.5h0M329.5 407.5h0M330.5 407.5h0M332.5 383.5h0M333.5 397.5h0M335.5 403.5h0M336.5 386.5h0M338.5 402.5h0M340.5 395.5h0M341.5 389.5h0M343.5 395.5h0M344.5 403.5h0M346.5 399.5h0M348.5 391.5h0M349.5 402.5h0M351.5 388.5h0M352.5 399.5h0M354.5 391.5h0M355.5 378.5h0M357.5 396.5h0M359.5 404.5h0M360.5 393.5h0M362.5 386.5h0M363.5 385.5h0M365.5 400.5h0M367.5 380.5h0M368.5 404.5h0M370.5 407.5h0M371.5 387.5h0M373.5 351.5h0M375.5 396.5h0M376.5 404.5h0M378.5 360.5h0M379.5 406.5h0M381.5 391.5h0M382.5 400.5h0M384.5 366.5h0M386.5 385.5h0M387.5 394.5h0M389.5 382.5h0M390.5 386.5h0M392.5 396.5h0M394.5 396.5h0M395.5 393.5h0M397.5 408.5h0M398.5 391.5h0M400.5 392.5h0M402.5 378.5h0M403.5 392.5h0M405.5 391.5h0M406.5 383.5h0M408.5 374.5h0M409.5 378.5h0M411.5 388.5h0M413.5 388.5h0M414.5 359.5h0M416.5 385.5h0M417.5 400.5h0M419.5 382.5h0M421.5 397.5h0M422.5 394.5h0M424.5 367.5h0M425.5 377.5h0M427.5 375.5h0M429.5 366.5h0M430.5 352.5h0M432.5 390.5h0M433.5 385.5h0M435.5 381.5h0M436.5 241.5h0M438.5 378.5h0M440.5 370.5h0M441.5 383.5h0M443.5 384.5h0M444.5 394.5h0M446.5 381.5h0M448.5 397.5h0M449.5 380.5h0M451.5 402.5h0M452.5 392.5h0M454.5 383.5h0M456.5 362.5h0M457.5 363.5h0M459.5 364.5h0M460.5 380.5h0M462.5 368.5h0M463.5 411.5h0M465.5 369.5h0M467.5 392.5h0M468.5 369.5h0M470.5 367.5h0M471.5 373.5h0M473.5 407.5h0M475.5 317.5h0M476.5 388.5h0M478.5 384.5h0M479.5 395.5h0M481.5 386.5h0M483.5 405.5h0M484.5 364.5h0M486.5 380.5h0M487.5 385.5h0M489.5 368.5h0M490.5 373.5h0M492.5 374.5h0M494.5 396.5h0M495.5 374.5h0M497.5 393.5h0M498.5 394.5h0M500.5 385.5h0M502.5 383.5h0M503.5 381.5h0M505.5 378.5h0M506.5 399.5h0M508.5 338.5h0M509.5 399.5h0M511.5 389.5h0M513.5 352.5h0M514.5 394.5h0M516.5 383.5h0M517.5 367.5h0M519.5 373.5h0M521.5 358.5h0M522.5 380.5h0M524.5 393.5h0M525.5 378.5h0M527.5 384.5h0M529.5 350.5h0M530.5 371.5h0M532.5 399.5h0M533.5 389.5h0M535.5 238.5h0M536.5 385.5h0M538.5 379.5h0M540.5 374.5h0M541.5 392.5h0M543.5 380.5h0M544.5 383.5h0M546.5 402.5h0M548.5 402.5h0M549.5 371.5h0M551.5 370.5h0M552.5 377.5h0M554.5 325.5h0M556.5 378.5h0M557.5 374.5h0M559.5 371.5h0M560.5 385.5h0M562.5 365.5h0M563.5 362.5h0M565.5 368.5h0M567.5 358.5h0M568.5 353.5h0M570.5 355.5h0M571.5 374.5h0M573.5 317.5h0M575.5 381.5h0M576.5 367.5h0M578.5 383.5h0M579.5 376.5h0M581.5 380.5h0M583.5 389.5h0M584.5 339.5h0M586.5 367.5h0M587.5 377.5h0M589.5 377.5h0M590.5 365.5h0M592.5 364.5h0M594.5 367.5h0M595.5 363.5h0M597.5 396.5h0M598.5 374.5h0M600.5 380.5h0M602.5 389.5h0M603.5 373.5h0M605.5 376.5h0M606.5 390.5h0M608.5 351.5h0M610.5 362.5h0M611.5 362.5h0M613.5 385.5h0M614.5 371.5h0M616.5 373.5h0M617.5 387.5h0M619.5 329.5h0M621.5 342.5h0M622.5 389.5h0M624.5 382.5h0M625.5 341.5h0M627.5 366.5h0M629.5 384.5h0M630.5 393.5h0M632.5 386.5h0M633.5 377.5h0M635.5 335.5h0M637.5 365.5h0M638.5 369.5h0M640.5 385.5h0M641.5 395.5h0M643.5 375.5h0M644.5 375.5h0M646.5 368.5h0M648.5 338.5h0M649.5 352.5h0M651.5 391.5h0M652.5 391.5h0M654.5 402.5h0M656.5 411.5h0M657.5 352.5h0M659.5 370.5h0M660.5 395.5h0M662.5 378.5h0M664.5 387.5h0M665.5 371.5h0M667.5 371.5h0M668.5 396.5h0M670.5 398.5h0M671.5 368.5h0M673.5 396.5h0M675.5 372.5h0M676.5 408.5h0M678.5 397.5h0M679.5 350.5h0M681.5 406.5h0M683.5 396.5h0M684.5 391.5h0M686.5 393.5h0M687.5 385.5h0M689.5 366.5h0M690.5 381.5h0M692.5 383.5h0M694.5 390.5h0M695.5 376.5h0M697.5 358.5h0M698.5 248.5h0M700.5 391.5h0M702.5 401.5h0M703.5 386.5h0M705.5 385.5h0M706.5 388.5h0M708.5 398.5h0M710.5 395.5h0M711.5 367.5h0M713.5 377.5h0M714.5 362.5h0M716.5 393.5h0M717.5 392.5h0M719.5 370.5h0M721.5 392.5h0M722.5 354.5h0M724.5 396.5h0M725.5 380.5h0M727.5 243.5h0M729.5 369.5h0M730.5 377.5h0M732.5 309.5h0M733.5 338.5h0M735.5 383.5h0M737.5 318.5h0M738.5 360.5h0M740.5 380.5h0M741.5 393.5h0M743.5 361.5h0M744.5 374.5h0M746.5 368.5h0M748.5 397.5h0M749.5 399.5h0M751.5 386.5h0M752.5 368.5h0M754.5 374.5h0M756.5 214.5h0M757.5 386.5h0M759.5 395.5h0M760.5 369.5h0M762.5 399.5h0M764.5 385.5h0M765.5 340.5h0M767.5 386.5h0M768.5 374.5h0M770.5 368.5h0M771.5 387.5h0M773.5 379.5h0M775.5 378.5h0M776.5 377.5h0M778.5 359.5h0M779.5 362.5h0M781.5 389.5h0M783.5 344.5h0M784.5 369.5h0M786.5 378.5h0M787.5 384.5h0M789.5 365.5h0M791.5 361.5h0M792.5 344.5h0M794.5 321.5h0M795.5 333.5h0M797.5 344.5h0M798.5 353.5h0M800.5 291.5h0M802.5 370.5h0M803.5 369.5h0M805.5 357.5h0M806.5 363.5h0M808.5 375.5h0M810.5 359.5h0M811.5 361.5h0M813.5 370.5h0M814.5 364.5h0M816.5 321.5h0M818.5 353.5h0M819.5 376.5h0M821.5 384.5h0M822.5 383.5h0M824.5 358.5h0M825.5 356.5h0M827.5 369.5h0M829.5 370.5h0M830.5 394.5h0M832.5 385.5h0M833.5 375.5h0M835.5 358.5h0M837.5 385.5h0M838.5 356.5h0M840.5 377.5h0M841.5 362.5h0M843.5 353.5h0M844.5 381.5h0M846.5 381.5h0M848.5 360.5h0M849.5 395.5h0M851.5 391.5h0M852.5 383.5h0M854.5 369.5h0M856.5 310.5h0M857.5 244.5h0M859.5 319.5h0M860.5 300.5h0M862.5 331.5h0M864.5 392.5h0M865.5 373.5h0M867.5 368.5h0M868.5 358.5h0M870.5 385.5h0M871.5 389.5h0M873.5 385.5h0M875.5 402.5h0M876.5 389.5h0M878.5 391.5h0M879.5 367.5h0M881.5 373.5h0M883.5 382.5h0M884.5 333.5h0M886.5 295.5h0M887.5 382.5h0M889.5 372.5h0M891.5 370.5h0M892.5 373.5h0M894.5 377.5h0M895.5 363.5h0M897.5 370.5h0M898.5 385.5h0M900.5 342.5h0M902.5 385.5h0M903.5 374.5h0M905.5 360.5h0M906.5 394.5h0M908.5 325.5h0M910.5 374.5h0M911.5 391.5h0M913.5 360.5h0M914.5 393.5h0M916.5 381.5h0M918.5 383.5h0M919.5 417.5h0M921.5 407.5h0M922.5 367.5h0M924.5 414.5h0M925.5 394.5h0M927.5 397.5h0M929.5 395.5h0M930.5 418.5h0M932.5 402.5h0M933.5 399.5h0M935.5 404.5h0M937.5 392.5h0M938.5 373.5h0M940.5 373.5h0M941.5 380.5h0M943.5 399.5h0M945.5 361.5h0M946.5 397.5h0M948.5 404.5h0M949.5 390.5h0M951.5 411.5h0M952.5 377.5h0M954.5 402.5h0M956.5 394.5h0M957.5 406.5h0M959.5 395.5h0M960.5 416.5h0M962.5 406.5h0M964.5 404.5h0M965.5 405.5h0M967.5 382.5h0M968.5 390.5h0M970.5 405.5h0M972.5 414.5h0M973.5 409.5h0M975.5 410.5h0M976.5 412.5h0M978.5 417.5h0M979.5 332.5h0M981.5 408.5h0M983.5 369.5h0M984.5 389.5h0M986.5 376.5h0M987.5 389.5h0M989.5 389.5h0M991.5 376.5h0M992.5 391.5h0M994.5 415.5h0M995.5 384.5h0M997.5 411.5h0M998.5 418.5h0M1000.5 402.5h0M1002.5 392.5h0M1003.5 409.5h0M1005.5 369.5h0M1006.5 404.5h0M1008.5 415.5h0M1010.5 393.5h0M1011.5 406.5h0M1013.5 405.5h0M1014.5 363.5h0M1016.5 369.5h0M1018.5 387.5h0M1019.5 378.5h0M1021.5 409.5h0M1022.5 387.5h0M1024.5 351.5h0M1025.5 410.5h0M1027.5 353.5h0M1029.5 393.5h0M1030.5 320.5h0M1032.5 409.5h0M1033.5 416.5h0M1035.5 383.5h0M1037.5 391.5h0M1038.5 393.5h0M1040.5 411.5h0M1041.5 391.5h0M1043.5 413.5h0M1045.5 379.5h0M1046.5 404.5h0M1048.5 409.5h0M1049.5 424.5h0M1051.5 412.5h0M1052.5 415.5h0M1054.5 398.5h0M1056.5 400.5h0M1057.5 377.5h0M1059.5 389.5h0M1060.5 347.5h0M1062.5 416.5h0M1064.5 366.5h0M1065.5 358.5h0M1067.5 402.5h0M1068.5 383.5h0M1070.5 353.5h0M1072.5 380.5h0M1073.5 377.5h0M1075.5 345.5h0M1076.5 394.5h0M1078.5 345.5h0M1079.5 373.5h0M1081.5 420.5h0M1083.5 375.5h0M1084.5 382.5h0M1086.5 403.5h0M1087.5 355.5h0M1089.5 360.5h0M1091.5 258.5h0M1092.5 384.5h0M1094.5 357.5h0M1095.5 347.5h0M1097.5 376.5h0M1099.5 411.5h0M1100.5 402.5h0M1102.5 370.5h0M1103.5 363.5h0M1105.5 355.5h0M1106.5 321.5h0M1108.5 369.5h0M1110.5 369.5h0M1111.5 388.5h0M1113.5 331.5h0M1114.5 371.5h0M1116.5 331.5h0M1118.5 366.5h0M1119.5 380.5h0M1121.5 341.5h0M1122.5 364.5h0M1124.5 351.5h0M1126.5 357.5h0M1127.5 370.5h0M1129.5 390.5h0M1130.5 419.5h0M1132.5 401.5h0M1133.5 346.5h0M1135.5 333.5h0M1137.5 383.5h0M1138.5 338.5h0M1140.5 300.5h0M1141.5 354.5h0M1143.5 343.5h0M1145.5 384.5h0M1146.5 405.5h0M1148.5 375.5h0M1149.5 361.5h0M1151.5 395.5h0M1153.5 367.5h0M1154.5 360.5h0M1156.5 402.5h0M1157.5 350.5h0M1159.5 406.5h0M1160.5 334.5h0M1162.5 331.5h0M1164.5 305.5h0M1165.5 393.5h0M1167.5 384.5h0M1168.5 400.5h0M1170.5 393.5h0M1172.5 411.5h0M1173.5 358.5h0M1175.5 387.5h0M1176.5 379.5h0M1178.5 414.5h0M1179.5 392.5h0M1181.5 270.5h0M1183.5 382.5h0M1184.5 351.5h0M1186.5 373.5h0M1187.5 337.5h0M1189.5 377.5h0M1191.5 392.5h0M1192.5 368.5h0M1194.5 409.5h0M1195.5 362.5h0M1197.5 393.5h0M1199.5 388.5h0M1200.5 390.5h0M1202.5 404.5h0M1203.5 362.5h0M1205.5 330.5h0M1206.5 393.5h0M1208.5 392.5h0M1210.5 380.5h0M1211.5 377.5h0M1213.5 306.5h0M1214.5 340.5h0M1216.5 360.5h0M1218.5 309.5h0M1219.5 308.5h0M1221.5 368.5h0M1222.5 366.5h0M1224.5 301.5h0M1226.5 346.5h0M1227.5 348.5h0M1229.5 355.5h0M1230.5 371.5h0M1232.5 338.5h0M1233.5 351.5h0M1235.5 356.5h0M1237.5 310.5h0M1238.5 356.5h0M1240.5 354.5h0M1241.5 273.5h0M1243.5 356.5h0M1245.5 331.5h0M1246.5 352.5h0M1248.5 353.5h0M1249.5 336.5h0M1251.5 309.5h0M1253.5 378.5h0M1254.5 389.5h0M1256.5 331.5h0M1257.5 381.5h0M1259.5 285.5h0M1260.5 365.5h0M1262.5 343.5h0M1264.5 341.5h0M1265.5 321.5h0M1267.5 344.5h0M1268.5 338.5h0M1270.5 392.5h0M1272.5 369.5h0M1273.5 378.5h0M1275.5 392.5h0M1276.5 348.5h0M1278.5 306.5h0M1280.5 369.5h0M1281.5 361.5h0M1283.5 373.5h0M1284.5 348.5h0M1286.5 389.5h0M1287.5 274.5h0M1289.5 338.5h0M1291.5 367.5h0M1292.5 373.5h0M1294.5 365.5h0M1295.5 314.5h0M1297.5 349.5h0M1299.5 380.5h0M1300.5 330.5h0M1302.5 386.5h0M1303.5 330.5h0M1305.5 357.5h0M1307.5 284.5h0M1308.5 294.5h0M1310.5 331.5h0M1311.5 332.5h0M1313.5 360.5h0M1314.5 337.5h0M1316.5 340.5h0M1318.5 390.5h0M1319.5 394.5h0M1321.5 313.5h0M1322.5 372.5h0M1324.5 365.5h0M1326.5 361.5h0M1327.5 363.5h0M1329.5 365.5h0M1330.5 347.5h0M1332.5 317.5h0M1333.5 297.5h0M1335.5 359.5h0M1337.5 333.5h0M1338.5 365.5h0M1340.5 401.5h0M1341.5 407.5h0M1343.5 385.5h0M1345.5 374.5h0M1346.5 363.5h0M1348.5 407.5h0M1349.5 383.5h0M1351.5 388.5h0M1353.5 367.5h0M1354.5 346.5h0M1356.5 386.5h0M1357.5 409.5h0M1359.5 302.5h0M1360.5 370.5h0M1362.5 330.5h0M1364.5 361.5h0M1365.5 358.5h0M1367.5 389.5h0M1368.5 393.5h0M1370.5 362.5h0M1372.5 384.5h0M1373.5 365.5h0M1375.5 356.5h0M1376.5 365.5h0M1378.5 366.5h0M1380.5 313.5h0M1381.5 360.5h0M1383.5 382.5h0M1384.5 391.5h0M1386.5 317.5h0M1387.5 357.5h0M1389.5 386.5h0M1391.5 362.5h0M1392.5 369.5h0M1394.5 394.5h0M1395.5 379.5h0M1397.5 309.5h0M1399.5 383.5h0M1400.5 426.5h0M1402.5 373.5h0M1403.5 338.5h0M1405.5 376.5h0M1407.5 379.5h0M1408.5 377.5h0M1410.5 366.5h0M1411.5 372.5h0M1413.5 382.5h0M1414.5 413.5h0M1416.5 345.5h0M1418.5 411.5h0M1419.5 392.5h0M1421.5 358.5h0M1422.5 347.5h0M1424.5 371.5h0M1426.5 383.5h0M1427.5 337.5h0M1429.5 360.5h0M1430.5 388.5h0M1432.5 389.5h0M1434.5 366.5h0M1435.5 384.5h0M1437.5 393.5h0M1438.5 398.5h0M1440.5 391.5h0M1441.5 362.5h0M1443.5 317.5h0M1445.5 388.5h0M1446.5 385.5h0M1448.5 378.5h0M1449.5 334.5h0M1451.5 382.5h0M1453.5 374.5h0M1454.5 386.5h0M1456.5 238.5h0M1457.5 374.5h0M1459.5 388.5h0M1461.5 422.5h0M1462.5 374.5h0M1464.5 415.5h0M1465.5 397.5h0M1467.5 388.5h0M1468.5 359.5h0M1470.5 398.5h0M1472.5 364.5h0M1473.5 377.5h0M1475.5 376.5h0M1476.5 358.5h0M1478.5 403.5h0M1480.5 362.5h0M1481.5 372.5h0M1483.5 380.5h0M1484.5 358.5h0M1486.5 343.5h0M1488.5 333.5h0M1489.5 300.5h0M1491.5 373.5h0M1492.5 397.5h0M1494.5 312.5h0M1495.5 408.5h0M1497.5 385.5h0M1499.5 387.5h0M1500.5 372.5h0M1502.5 373.5h0M1503.5 383.5h0M1505.5 397.5h0M1507.5 390.5h0M1508.5 353.5h0M1510.5 372.5h0M1511.5 394.5h0M1513.5 376.5h0M1514.5 367.5h0M1516.5 381.5h0M1518.5 400.5h0M1519.5 333.5h0M1521.5 361.5h0M1522.5 362.5h0M1524.5 336.5h0M1526.5 384.5h0M1527.5 369.5h0M1529.5 360.5h0M1530.5 372.5h0M1532.5 366.5h0M1534.5 335.5h0M1535.5 353.5h0M1537.5 386.5h0M1538.5 356.5h0M1540.5 401.5h0M1541.5 397.5h0M1543.5 391.5h0M1545.5 400.5h0M1546.5 332.5h0M1548.5 408.5h0M1549.5 339.5h0M1551.5 352.5h0M1553.5 382.5h0M1554.5 326.5h0M1556.5 411.5h0M1557.5 339.5h0M1559.5 340.5h0M1561.5 342.5h0M1562.5 387.5h0M1564.5 394.5h0M1565.5 415.5h0M1567.5 410.5h0M1568.5 416.5h0M1570.5 370.5h0M1572.5 389.5h0M1573.5 338.5h0M1575.5 360.5h0M1576.5 343.5h0M1578.5 390.5h0M1580.5 347.5h0M1581.5 390.5h0M1583.5 386.5h0M1584.5 354.5h0M1586.5 347.5h0M1588.5 372.5h0M1589.5 356.5h0M1591.5 398.5h0M1592.5 381.5h0M1594.5 289.5h0M1595.5 366.5h0M1597.5 365.5h0M1599.5 388.5h0M1600.5 396.5h0M1602.5 393.5h0M1603.5 406.5h0M1605.5 382.5h0M1607.5 389.5h0M1608.5 377.5h0M1610.5 352.5h0M1611.5 404.5h0M1613.5 336.5h0M1615.5 368.5h0M1616.5 313.5h0M1618.5 367.5h0M1619.5 353.5h0M1621.5 393.5h0M1622.5 361.5h0M1624.5 409.5h0M1626.5 401.5h0M1627.5 392.5h0M1629.5 363.5h0M1630.5 387.5h0M1632.5 380.5h0M1634.5 402.5h0M1635.5 391.5h0M1637.5 401.5h0M1638.5 395.5h0M1640.5 317.5h0M1642.5 293.5h0M1643.5 367.5h0M1645.5 361.5h0M1646.5 365.5h0M1648.5 337.5h0M1649.5 403.5h0M1651.5 376.5h0M1653.5 359.5h0M1654.5 403.5h0M1656.5 384.5h0M1657.5 399.5h0M1659.5 396.5h0M1661.5 423.5h0M1662.5 349.5h0M1664.5 340.5h0M1665.5 377.5h0M1667.5 353.5h0M1668.5 367.5h0M1670.5 374.5h0M1672.5 397.5h0M1673.5 412.5h0M1675.5 317.5h0M1676.5 387.5h0M1678.5 405.5h0M1680.5 329.5h0M1681.5 382.5h0M1683.5 377.5h0M1684.5 385.5h0M1686.5 402.5h0M1688.5 343.5h0M1689.5 383.5h0M1691.5 428.5h0M1692.5 353.5h0M1694.5 372.5h0M1695.5 358.5h0M1697.5 386.5h0M1699.5 374.5h0M1700.5 342.5h0M1702.5 325.5h0M1703.5 369.5h0M1705.5 384.5h0M1707.5 407.5h0M1708.5 361.5h0M1710.5 434.5h0M1711.5 399.5h0M1713.5 404.5h0M1715.5 396.5h0M1716.5 386.5h0M1718.5 384.5h0M1719.5 341.5h0M1721.5 339.5h0M1722.5 420.5h0M1724.5 405.5h0M1726.5 426.5h0M1727.5 345.5h0M1729.5 406.5h0M1730.5 393.5h0M1732.5 395.5h0M1734.5 403.5h0M1735.5 397.5h0M1737.5 399.5h0M1738.5 418.5h0M1740.5 372.5h0M1742.5 385.5h0M1743.5 407.5h0M1745.5 370.5h0M1746.5 395.5h0M1748.5 377.5h0M1749.5 395.5h0M1751.5 387.5h0M1753.5 326.5h0M1754.5 369.5h0M1756.5 379.5h0M1757.5 418.5h0M1759.5 369.5h0M1761.5 405.5h0M1762.5 366.5h0M1764.5 386.5h0M1765.5 381.5h0M1767.5 388.5h0M1769.5 353.5h0M1770.5 338.5h0M1772.5 321.5h0M1773.5 386.5h0M1775.5 385.5h0M1776.5 397.5h0M1778.5 403.5h0M1780.5 365.5h0M1781.5 413.5h0M1783.5 393.5h0M1784.5 411.5h0M1786.5 400.5h0M1788.5 418.5h0M1789.5 421.5h0M1791.5 406.5h0M1792.5 415.5h0M1794.5 415.5h0M1796.5 412.5h0M1797.5 397.5h0M1799.5 398.5h0M1800.5 420.5h0M1802.5 415.5h0M1803.5 405.5h0M1805.5 415.5h0M1807.5 417.5h0M1808.5 406.5h0M1810.5 374.5h0M1811.5 410.5h0M1813.5 423.5h0M1815.5 351.5h0M1816.5 416.5h0M1818.5 399.5h0M1819.5 411.5h0M1821.5 379.5h0M1822.5 406.5h0M1824.5 384.5h0M1826.5 400.5h0M1827.5 417.5h0M1829.5 378.5h0M1830.5 419.5h0M1832.5 408.5h0M1834.5 417.5h0M1835.5 405.5h0M1837.5 392.5h0M1838.5 406.5h0M1840.5 392.5h0M1842.5 393.5h0M1843.5 410.5h0M1845.5 417.5h0M1846.5 355.5h0M1848.5 391.5h0M1849.5 408.5h0M1851.5 396.5h0M1853.5 396.5h0M1854.5 404.5h0M1856.5 385.5h0M1857.5 398.5h0M1859.5 398.5h0M1861.5 363.5h0M1862.5 394.5h0M1864.5 358.5h0M1865.5 395.5h0M1867.5 397.5h0M1869.5 356.5h0M1870.5 374.5h0M1872.5 361.5h0M1873.5 342.5h0M1875.5 387.5h0M1876.5 384.5h0M1878.5 360.5h0M1880.5 373.5h0M1881.5 405.5h0M1883.5 384.5h0M1884.5 376.5h0M1886.5 393.5h0M1888.5 361.5h0M1889.5 386.5h0M1891.5 381.5h0M1892.5 382.5h0M1894.5 350.5h0M1896.5 376.5h0M1897.5 384.5h0M1899.5 372.5h0M1900.5 352.5h0M1902.5 396.5h0M1903.5 340.5h0M1905.5 343.5h0M1907.5 389.5h0M1908.5 370.5h0M1910.5 378.5h0M1911.5 348.5h0M1913.5 293.5h0M1915.5 341.5h0M1916.5 382.5h0M1918.5 350.5h0M1919.5 352.5h0M1921.5 371.5h0M1923.5 380.5h0M1924.5 375.5h0M1926.5 281.5h0M1927.5 341.5h0M1929.5 367.5h0M1930.5 349.5h0M1932.5 379.5h0M1934.5 348.5h0M1935.5 358.5h0M1937.5 315.5h0M1938.5 332.5h0M1940.5 343.5h0M1942.5 371.5h0M1943.5 367.5h0M1945.5 360.5h0M1946.5 383.5h0M1948.5 364.5h0M1950.5 368.5h0M1951.5 333.5h0M1953.5 264.5h0M1954.5 267.5h0M1956.5 307.5h0M1957.5 346.5h0M1959.5 371.5h0M1961.5 326.5h0M1962.5 384.5h0M1964.5 338.5h0M1965.5 384.5h0M1967.5 363.5h0M1969.5 365.5h0M1970.5 318.5h0M1972.5 304.5h0M1973.5 347.5h0M1975.5 393.5h0M1977.5 302.5h0M1978.5 383.5h0M1980.5 376.5h0M1981.5 352.5h0M1983.5 327.5h0M1984.5 349.5h0M1986.5 259.5h0M1988.5 312.5h0M1989.5 340.5h0M1991.5 328.5h0M1992.5 369.5h0M1994.5 368.5h0M1996.5 275.5h0M1997.5 373.5h0M1999.5 316.5h0M2000.5 352.5h0M2002.5 319.5h0M2003.5 375.5h0M2005.5 303.5h0M2007.5 381.5h0M2008.5 261.5h0M2010.5 349.5h0M2011.5 354.5h0M2013.5 375.5h0M2015.5 322.5h0M2016.5 365.5h0M2018.5 340.5h0M2019.5 345.5h0M2021.5 358.5h0M2023.5 297.5h0M2024.5 364.5h0M2026.5 333.5h0M2027.5 350.5h0M2029.5 369.5h0M2030.5 313.5h0M2032.5 359.5h0M2034.5 355.5h0M2035.5 360.5h0M2037.5 369.5h0M2038.5 383.5h0M2040.5 335.5h0M2042.5 394.5h0M2043.5 309.5h0M2045.5 353.5h0M2046.5 320.5h0M2048.5 360.5h0M2050.5 383.5h0M2051.5 331.5h0M2053.5 361.5h0M2054.5 371.5h0M2056.5 344.5h0M2057.5 274.5h0M2059.5 379.5h0M2061.5 365.5h0M2062.5 329.5h0M2064.5 327.5h0M2065.5 315.5h0M2067.5 361.5h0M2069.5 339.5h0M2070.5 363.5h0M2072.5 356.5h0M2073.5 323.5h0M2075.5 332.5h0M2077.5 357.5h0M2078.5 336.5h0M2080.5 357.5h0M2081.5 361.5h0M2083.5 258.5h0M2084.5 368.5h0M2086.5 371.5h0M2088.5 375.5h0M2089.5 293.5h0M2091.5 364.5h0M2092.5 363.5h0M2094.5 340.5h0M2096.5 342.5h0M2097.5 367.5h0M2099.5 374.5h0M2100.5 374.5h0M2102.5 359.5h0M2104.5 392.5h0M2105.5 376.5h0M2107.5 348.5h0M2108.5 403.5h0M2110.5 366.5h0M2111.5 394.5h0M2113.5 374.5h0M2115.5 338.5h0M2116.5 258.5h0M2118.5 384.5h0M2119.5 365.5h0M2121.5 365.5h0M2123.5 315.5h0M2124.5 356.5h0M2126.5 363.5h0M2127.5 382.5h0M2129.5 315.5h0M2131.5 386.5h0M2132.5 349.5h0M2134.5 378.5h0M2135.5 363.5h0M2137.5 385.5h0M2138.5 390.5h0M2140.5 351.5h0M2142.5 391.5h0M2143.5 365.5h0M2145.5 386.5h0M2146.5 351.5h0M2148.5 370.5h0M2150.5 359.5h0M2151.5 335.5h0M2153.5 371.5h0M2154.5 371.5h0M2156.5 341.5h0M2157.5 307.5h0M2159.5 387.5h0M2161.5 383.5h0M2162.5 354.5h0M2164.5 317.5h0M2165.5 321.5h0M2167.5 382.5h0M2169.5 355.5h0M2170.5 381.5h0M2172.5 356.5h0M2173.5 375.5h0M2175.5 408.5h0M2177.5 358.5h0M2178.5 367.5h0M2180.5 321.5h0M2181.5 380.5h0M2183.5 360.5h0M2184.5 384.5h0M2186.5 375.5h0M2188.5 330.5h0M2189.5 355.5h0M2191.5 380.5h0M2192.5 381.5h0M2194.5 395.5h0M2196.5 377.5h0M2197.5 396.5h0M2199.5 376.5h0M2200.5 249.5h0M2202.5 404.5h0M2204.5 354.5h0M2205.5 352.5h0M2207.5 388.5h0M2208.5 407.5h0M2210.5 386.5h0M2211.5 400.5h0M2213.5 375.5h0M2215.5 396.5h0M2216.5 396.5h0M2218.5 400.5h0M2219.5 404.5h0M2221.5 396.5h0M2223.5 407.5h0M2224.5 393.5h0M2226.5 398.5h0M2227.5 390.5h0M2229.5 406.5h0M2231.5 397.5h0M2232.5 396.5h0M2234.5 405.5h0M2235.5 397.5h0M2237.5 380.5h0M2238.5 399.5h0M2240.5 401.5h0M2242.5 399.5h0M2243.5 403.5h0M2245.5 404.5h0M2246.5 399.5h0M2248.5 390.5h0M2250.5 384.5h0M2251.5 388.5h0M2253.5 395.5h0M2254.5 386.5h0M2256.5 389.5h0M2258.5 390.5h0M2259.5 379.5h0M2261.5 350.5h0M2262.5 391.5h0M2264.5 372.5h0M2265.5 376.5h0M2267.5 374.5h0M2269.5 370.5h0M2270.5 354.5h0M2272.5 366.5h0M2273.5 375.5h0M2275.5 371.5h0M2277.5 373.5h0M2278.5 380.5h0M2280.5 349.5h0M2281.5 380.5h0M2283.5 356.5h0M2285.5 358.5h0M2286.5 356.5h0M2288.5 370.5h0M2289.5 373.5h0M2291.5 380.5h0M2292.5 353.5h0M2294.5 376.5h0M2296.5 358.5h0M2297.5 374.5h0M2299.5 377.5h0M2300.5 366.5h0M2302.5 383.5h0M2304.5 371.5h0M2305.5 375.5h0M2307.5 369.5h0M2308.5 374.5h0M2310.5 377.5h0M2311.5 374.5h0M2313.5 374.5h0M2315.5 351.5h0M2316.5 360.5h0M2318.5 372.5h0M2319.5 367.5h0M2321.5 369.5h0M2323.5 347.5h0M2324.5 370.5h0M2326.5 375.5h0M2327.5 277.5h0M2329.5 400.5h0M2331.5 399.5h0M2332.5 400.5h0M2334.5 392.5h0M2335.5 403.5h0M2337.5 398.5h0M2338.5 376.5h0M2340.5 367.5h0M2342.5 388.5h0M2343.5 404.5h0M2345.5 378.5h0" stroke="#ff00ff" stroke-width="2.1" stroke-linecap="round" fill="none"/><path d="M59.5 448.5h0M60.5 420.5h0M62.5 455.5h0M63.5 444.5h0M65.5 463.5h0M67.5 461.5h0M68.5 464.5h0M70.5 460.5h0M71.5 451.5h0M73.5 433.5h0M74.5 451.5h0M76.5 459.5h0M78.5 439.5h0M79.5 454.5h0M81.5 465.5h0M82.5 442.5h0M84.5 459.5h0M86.5 447.5h0M87.5 457.5h0M89.5 460.5h0M90.5 454.5h0M92.5 465.5h0M94.5 457.5h0M95.5 445.5h0M97.5 452.5h0M98.5 460.5h0M100.5 463.5h0M101.5 459.5h0M103.5 432.5h0M105.5 450.5h0M106.5 457.5h0M108.5 464.5h0M109.5 452.5h0M111.5 447.5h0M113.5 464.5h0M114.5 425.5h0M116.5 445.5h0M117.5 457.5h0M119.5 463.5h0M121.5 408.5h0M122.5 445.5h0M124.5 454.5h0M125.5 460.5h0M127.5 438.5h0M128.5 460.5h0M130.5 451.5h0M132.5 459.5h0M133.5 463.5h0M135.5 457.5h0M136.5 454.5h0M138.5 442.5h0M140.5 448.5h0M141.5 439.5h0M143.5 453.5h0M144.5 437.5h0M146.5 448.5h0M148.5 436.5h0M149.5 449.5h0M151.5 443.5h0M152.5 457.5h0M154.5 436.5h0M155.5 446.5h0M157.5 454.5h0M159.5 455.5h0M160.5 454.5h0M162.5 461.5h0M163.5 454.5h0M165.5 459.5h0M167.5 450.5h0M168.5 450.5h0M170.5 407.5h0M171.5 448.5h0M173.5 463.5h0M174.5 450.5h0M176.5 459.5h0M178.5 464.5h0M179.5 459.5h0M181.5 441.5h0M182.5 430.5h0M184.5 442.5h0M186.5 463.5h0M187.5 452.5h0M189.5 450.5h0M190.5 470.5h0M192.5 463.5h0M194.5 408.5h0M195.5 460.5h0M197.5 456.5h0M198.5 461.5h0M200.5 442.5h0M201.5 443.5h0M203.5 448.5h0M205.5 446.5h0M206.5 459.5h0M208.5 461.5h0M209.5 451.5h0M211.5 464.5h0M213.5 448.5h0M214.5 449.5h0M216.5 456.5h0M217.5 439.5h0M219.5 447.5h0M221.5 462.5h0M222.5 457.5h0M224.5 444.5h0M225.5 456.5h0M227.5 446.5h0M228.5 457.5h0M230.5 449.5h0M232.5 458.5h0M233.5 459.5h0M235.5 462.5h0M236.5 459.5h0M238.5 447.5h0M240.5 446.5h0M241.5 452.5h0M243.5 446.5h0M244.5 446.5h0M246.5 463.5h0M248.5 448.5h0M249.5 455.5h0M251.5 459.5h0M252.5 457.5h0M254.5 454.5h0M255.5 428.5h0M257.5 446.5h0M259.5 455.5h0M260.5 466.5h0M262.5 451.5h0M263.5 444.5h0M265.5 462.5h0M267.5 445.5h0M268.5 450.5h0M270.5 447.5h0M271.5 459.5h0M273.5 454.5h0M275.5 403.5h0M276.5 423.5h0M278.5 459.5h0M279.5 461.5h0M281.5 455.5h0M282.5 450.5h0M284.5 452.5h0M286.5 454.5h0M287.5 430.5h0M289.5 459.5h0M290.5 457.5h0M292.5 443.5h0M294.5 451.5h0M295.5 451.5h0M297.5 456.5h0M298.5 424.5h0M300.5 441.5h0M302.5 442.5h0M303.5 442.5h0M305.5 458.5h0M306.5 453.5h0M308.5 459.5h0M309.5 445.5h0M311.5 456.5h0M313.5 451.5h0M314.5 455.5h0M316.5 455.5h0M317.5 456.5h0M319.5 454.5h0M321.5 445.5h0M322.5 450.5h0M324.5 460.5h0M325.5 449.5h0M327.5 415.5h0M329.5 457.5h0M330.5 454.5h0M332.5 457.5h0M333.5 461.5h0M335.5 448.5h0M336.5 450.5h0M338.5 447.5h0M340.5 433.5h0M341.5 461.5h0M343.5 453.5h0M344.5 438.5h0M346.5 450.5h0M348.5 449.5h0M349.5 451.5h0M351.5 459.5h0M352.5 461.5h0M354.5 446.5h0M355.5 432.5h0M357.5 439.5h0M359.5 438.5h0M360.5 429.5h0M362.5 430.5h0M363.5 453.5h0M365.5 447.5h0M367.5 465.5h0M368.5 439.5h0M370.5 450.5h0M371.5 454.5h0M373.5 445.5h0M375.5 466.5h0M376.5 454.5h0M378.5 457.5h0M379.5 433.5h0M381.5 457.5h0M382.5 462.5h0M384.5 448.5h0M386.5 433.5h0M387.5 455.5h0M389.5 459.5h0M390.5 457.5h0M392.5 446.5h0M394.5 445.5h0M395.5 460.5h0M397.5 439.5h0M398.5 461.5h0M400.5 460.5h0M402.5 452.5h0M403.5 453.5h0M405.5 456.5h0M406.5 452.5h0M408.5 463.5h0M409.5 455.5h0M411.5 456.5h0M413.5 444.5h0M414.5 451.5h0M416.5 436.5h0M417.5 438.5h0M419.5 442.5h0M421.5 442.5h0M422.5 445.5h0M424.5 437.5h0M425.5 433.5h0M427.5 439.5h0M429.5 438.5h0M430.5 436.5h0M432.5 443.5h0M433.5 445.5h0M435.5 438.5h0M436.5 287.5h0M438.5 433.5h0M440.5 422.5h0M441.5 437.5h0M443.5 444.5h0M444.5 408.5h0M446.5 449.5h0M448.5 452.5h0M449.5 454.5h0M451.5 446.5h0M452.5 460.5h0M454.5 455.5h0M456.5 449.5h0M457.5 453.5h0M459.5 445.5h0M460.5 434.5h0M462.5 447.5h0M463.5 454.5h0M465.5 458.5h0M467.5 452.5h0M468.5 433.5h0M470.5 429.5h0M471.5 444.5h0M473.5 442.5h0M475.5 439.5h0M476.5 455.5h0M478.5 446.5h0M479.5 446.5h0M481.5 438.5h0M483.5 428.5h0M484.5 442.5h0M486.5 415.5h0M487.5 443.5h0M489.5 444.5h0M490.5 444.5h0M492.5 447.5h0M494.5 429.5h0M495.5 441.5h0M497.5 432.5h0M498.5 434.5h0M500.5 438.5h0M502.5 446.5h0M503.5 446.5h0M505.5 448.5h0M506.5 445.5h0M508.5 451.5h0M509.5 452.5h0M511.5 430.5h0M513.5 454.5h0M514.5 437.5h0M516.5 439.5h0M517.5 434.5h0M519.5 444.5h0M521.5 449.5h0M522.5 451.5h0M524.5 453.5h0M525.5 420.5h0M527.5 451.5h0M529.5 433.5h0M530.5 440.5h0M532.5 452.5h0M533.5 447.5h0M535.5 253.5h0M536.5 444.5h0M538.5 447.5h0M540.5 441.5h0M541.5 429.5h0M543.5 429.5h0M544.5 420.5h0M546.5 446.5h0M548.5 448.5h0M549.5 448.5h0M551.5 457.5h0M552.5 387.5h0M554.5 380.5h0M556.5 418.5h0M557.5 407.5h0M559.5 406.5h0M560.5 403.5h0M562.5 409.5h0M563.5 404.5h0M565.5 406.5h0M567.5 389.5h0M568.5 380.5h0M570.5 375.5h0M571.5 403.5h0M573.5 408.5h0M575.5 411.5h0M576.5 384.5h0M578.5 403.5h0M579.5 378.5h0M581.5 396.5h0M583.5 394.5h0M584.5 412.5h0M586.5 410.5h0M587.5 409.5h0M589.5 414.5h0M590.5 414.5h0M592.5 402.5h0M594.5 385.5h0M595.5 415.5h0M597.5 409.5h0M598.5 389.5h0M600.5 404.5h0M602.5 397.5h0M603.5 393.5h0M605.5 389.5h0M606.5 386.5h0M608.5 389.5h0M610.5 404.5h0M611.5 387.5h0M613.5 412.5h0M614.5 403.5h0M616.5 399.5h0M617.5 334.5h0M619.5 391.5h0M621.5 396.5h0M622.5 405.5h0M624.5 410.5h0M625.5 455.5h0M627.5 454.5h0M629.5 437.5h0M630.5 434.5h0M632.5 443.5h0M633.5 444.5h0M635.5 435.5h0M637.5 407.5h0M638.5 441.5h0M640.5 405.5h0M641.5 447.5h0M643.5 444.5h0M644.5 445.5h0M646.5 439.5h0M648.5 424.5h0M649.5 429.5h0M651.5 429.5h0M652.5 440.5h0M654.5 448.5h0M656.5 447.5h0M657.5 455.5h0M659.5 398.5h0M660.5 443.5h0M662.5 452.5h0M664.5 448.5h0M665.5 442.5h0M667.5 446.5h0M668.5 429.5h0M670.5 430.5h0M671.5 451.5h0M673.5 427.5h0M675.5 428.5h0M676.5 440.5h0M678.5 441.5h0M679.5 445.5h0M681.5 431.5h0M683.5 452.5h0M684.5 431.5h0M686.5 443.5h0M687.5 448.5h0M689.5 438.5h0M690.5 437.5h0M692.5 429.5h0M694.5 438.5h0M695.5 448.5h0M697.5 442.5h0M698.5 290.5h0M700.5 454.5h0M702.5 448.5h0M703.5 439.5h0M705.5 440.5h0M706.5 435.5h0M708.5 402.5h0M710.5 435.5h0M711.5 443.5h0M713.5 446.5h0M714.5 451.5h0M716.5 446.5h0M717.5 446.5h0M719.5 434.5h0M721.5 443.5h0M722.5 447.5h0M724.5 434.5h0M725.5 445.5h0M727.5 272.5h0M729.5 419.5h0M730.5 441.5h0M732.5 340.5h0M733.5 433.5h0M735.5 423.5h0M737.5 436.5h0M738.5 442.5h0M740.5 437.5h0M741.5 448.5h0M743.5 447.5h0M744.5 444.5h0M746.5 433.5h0M748.5 449.5h0M749.5 431.5h0M751.5 448.5h0M752.5 442.5h0M754.5 444.5h0M756.5 261.5h0M757.5 406.5h0M759.5 447.5h0M760.5 437.5h0M762.5 441.5h0M764.5 431.5h0M765.5 453.5h0M767.5 434.5h0M768.5 454.5h0M770.5 429.5h0M771.5 422.5h0M773.5 450.5h0M775.5 440.5h0M776.5 450.5h0M778.5 448.5h0M779.5 446.5h0M781.5 449.5h0M783.5 428.5h0M784.5 440.5h0M786.5 412.5h0M787.5 442.5h0M789.5 433.5h0M791.5 420.5h0M792.5 437.5h0M794.5 402.5h0M795.5 433.5h0M797.5 398.5h0M798.5 437.5h0M800.5 420.5h0M802.5 442.5h0M803.5 451.5h0M805.5 419.5h0M806.5 425.5h0M808.5 423.5h0M810.5 438.5h0M811.5 419.5h0M813.5 448.5h0M814.5 447.5h0M816.5 424.5h0M818.5 440.5h0M819.5 412.5h0M821.5 449.5h0M822.5 441.5h0M824.5 436.5h0M825.5 426.5h0M827.5 459.5h0M829.5 448.5h0M830.5 446.5h0M832.5 440.5h0M833.5 366.5h0M835.5 443.5h0M837.5 428.5h0M838.5 443.5h0M840.5 443.5h0M841.5 438.5h0M843.5 452.5h0M844.5 448.5h0M846.5 442.5h0M848.5 447.5h0M849.5 456.5h0M851.5 461.5h0M852.5 452.5h0M854.5 442.5h0M856.5 318.5h0M857.5 281.5h0M859.5 337.5h0M860.5 331.5h0M862.5 320.5h0M864.5 446.5h0M865.5 442.5h0M867.5 430.5h0M868.5 447.5h0M870.5 447.5h0M871.5 447.5h0M873.5 450.5h0M875.5 438.5h0M876.5 445.5h0M878.5 454.5h0M879.5 453.5h0M881.5 440.5h0M883.5 458.5h0M884.5 441.5h0M886.5 427.5h0M887.5 445.5h0M889.5 451.5h0M891.5 453.5h0M892.5 448.5h0M894.5 444.5h0M895.5 424.5h0M897.5 435.5h0M898.5 447.5h0M900.5 455.5h0M902.5 454.5h0M903.5 426.5h0M905.5 457.5h0M906.5 435.5h0M908.5 443.5h0M910.5 429.5h0M911.5 443.5h0M913.5 456.5h0M914.5 460.5h0M916.5 462.5h0M918.5 468.5h0M919.5 461.5h0M921.5 459.5h0M922.5 470.5h0M924.5 466.5h0M925.5 453.5h0M927.5 462.5h0M929.5 475.5h0M930.5 442.5h0M932.5 471.5h0M933.5 443.5h0M935.5 451.5h0M937.5 443.5h0M938.5 454.5h0M940.5 468.5h0M941.5 444.5h0M943.5 471.5h0M945.5 483.5h0M946.5 476.5h0M948.5 460.5h0M949.5 467.5h0M951.5 469.5h0M952.5 474.5h0M954.5 426.5h0M956.5 458.5h0M957.5 452.5h0M959.5 461.5h0M960.5 444.5h0M962.5 474.5h0M964.5 443.5h0M965.5 462.5h0M967.5 464.5h0M968.5 452.5h0M970.5 459.5h0M972.5 459.5h0M973.5 477.5h0M975.5 467.5h0M976.5 473.5h0M978.5 477.5h0M979.5 465.5h0M981.5 472.5h0M983.5 460.5h0M984.5 475.5h0M986.5 466.5h0M987.5 464.5h0M989.5 441.5h0M991.5 418.5h0M992.5 464.5h0M994.5 470.5h0M995.5 438.5h0M997.5 480.5h0M998.5 483.5h0M1000.5 453.5h0M1002.5 446.5h0M1003.5 420.5h0M1005.5 422.5h0M1006.5 424.5h0M1008.5 446.5h0M1010.5 456.5h0M1011.5 435.5h0M1013.5 470.5h0M1014.5 453.5h0M1016.5 461.5h0M1018.5 457.5h0M1019.5 464.5h0M1021.5 445.5h0M1022.5 451.5h0M1024.5 441.5h0M1025.5 473.5h0M1027.5 466.5h0M1029.5 453.5h0M1030.5 480.5h0M1032.5 474.5h0M1033.5 478.5h0M1035.5 426.5h0M1037.5 469.5h0M1038.5 455.5h0M1040.5 457.5h0M1041.5 469.5h0M1043.5 475.5h0M1045.5 479.5h0M1046.5 461.5h0M1048.5 441.5h0M1049.5 482.5h0M1051.5 464.5h0M1052.5 466.5h0M1054.5 452.5h0M1056.5 449.5h0M1057.5 453.5h0M1059.5 453.5h0M1060.5 473.5h0M1062.5 475.5h0M1064.5 458.5h0M1065.5 453.5h0M1067.5 468.5h0M1068.5 470.5h0M1070.5 450.5h0M1072.5 452.5h0M1073.5 438.5h0M1075.5 461.5h0M1076.5 450.5h0M1078.5 454.5h0M1079.5 462.5h0M1081.5 459.5h0M1083.5 458.5h0M1084.5 427.5h0M1086.5 458.5h0M1087.5 444.5h0M1089.5 451.5h0M1091.5 312.5h0M1092.5 450.5h0M1094.5 450.5h0M1095.5 407.5h0M1097.5 457.5h0M1099.5 441.5h0M1100.5 442.5h0M1102.5 434.5h0M1103.5 464.5h0M1105.5 448.5h0M1106.5 471.5h0M1108.5 457.5h0M1110.5 434.5h0M1111.5 419.5h0M1113.5 461.5h0M1114.5 451.5h0M1116.5 436.5h0M1118.5 456.5h0M1119.5 378.5h0M1121.5 442.5h0M1122.5 467.5h0M1124.5 365.5h0M1126.5 433.5h0M1127.5 462.5h0M1129.5 459.5h0M1130.5 459.5h0M1132.5 446.5h0M1133.5 415.5h0M1135.5 465.5h0M1137.5 451.5h0M1138.5 457.5h0M1140.5 447.5h0M1141.5 448.5h0M1143.5 474.5h0M1145.5 442.5h0M1146.5 471.5h0M1148.5 467.5h0M1149.5 385.5h0M1151.5 479.5h0M1153.5 456.5h0M1154.5 468.5h0M1156.5 441.5h0M1157.5 451.5h0M1159.5 471.5h0M1160.5 469.5h0M1162.5 464.5h0M1164.5 446.5h0M1165.5 478.5h0M1167.5 464.5h0M1168.5 450.5h0M1170.5 466.5h0M1172.5 476.5h0M1173.5 453.5h0M1175.5 445.5h0M1176.5 451.5h0M1178.5 458.5h0M1179.5 444.5h0M1181.5 441.5h0M1183.5 463.5h0M1184.5 469.5h0M1186.5 446.5h0M1187.5 455.5h0M1189.5 460.5h0M1191.5 466.5h0M1192.5 426.5h0M1194.5 458.5h0M1195.5 462.5h0M1197.5 449.5h0M1199.5 470.5h0M1200.5 460.5h0M1202.5 471.5h0M1203.5 465.5h0M1205.5 445.5h0M1206.5 465.5h0M1208.5 457.5h0M1210.5 423.5h0M1211.5 422.5h0M1213.5 461.5h0M1214.5 470.5h0M1216.5 472.5h0M1218.5 456.5h0M1219.5 465.5h0M1221.5 455.5h0M1222.5 469.5h0M1224.5 455.5h0M1226.5 456.5h0M1227.5 417.5h0M1229.5 444.5h0M1230.5 405.5h0M1232.5 449.5h0M1233.5 412.5h0M1235.5 466.5h0M1237.5 450.5h0M1238.5 460.5h0M1240.5 476.5h0M1241.5 390.5h0M1243.5 452.5h0M1245.5 466.5h0M1246.5 480.5h0M1248.5 454.5h0M1249.5 451.5h0M1251.5 461.5h0M1253.5 467.5h0M1254.5 466.5h0M1256.5 465.5h0M1257.5 458.5h0M1259.5 455.5h0M1260.5 447.5h0M1262.5 448.5h0M1264.5 469.5h0M1265.5 468.5h0M1267.5 412.5h0M1268.5 396.5h0M1270.5 410.5h0M1272.5 398.5h0M1273.5 409.5h0M1275.5 404.5h0M1276.5 413.5h0M1278.5 403.5h0M1280.5 358.5h0M1281.5 385.5h0M1283.5 396.5h0M1284.5 390.5h0M1286.5 382.5h0M1287.5 354.5h0M1289.5 394.5h0M1291.5 397.5h0M1292.5 396.5h0M1294.5 382.5h0M1295.5 399.5h0M1297.5 394.5h0M1299.5 385.5h0M1300.5 393.5h0M1302.5 381.5h0M1303.5 368.5h0M1305.5 409.5h0M1307.5 399.5h0M1308.5 394.5h0M1310.5 337.5h0M1311.5 404.5h0M1313.5 407.5h0M1314.5 410.5h0M1316.5 414.5h0M1318.5 397.5h0M1319.5 408.5h0M1321.5 403.5h0M1322.5 403.5h0M1324.5 410.5h0M1326.5 385.5h0M1327.5 402.5h0M1329.5 411.5h0M1330.5 408.5h0M1332.5 406.5h0M1333.5 416.5h0M1335.5 438.5h0M1337.5 442.5h0M1338.5 455.5h0M1340.5 450.5h0M1341.5 465.5h0M1343.5 457.5h0M1345.5 472.5h0M1346.5 471.5h0M1348.5 462.5h0M1349.5 401.5h0M1351.5 431.5h0M1353.5 454.5h0M1354.5 461.5h0M1356.5 432.5h0M1357.5 461.5h0M1359.5 420.5h0M1360.5 450.5h0M1362.5 420.5h0M1364.5 395.5h0M1365.5 450.5h0M1367.5 438.5h0M1368.5 438.5h0M1370.5 380.5h0M1372.5 379.5h0M1373.5 465.5h0M1375.5 428.5h0M1376.5 425.5h0M1378.5 447.5h0M1380.5 444.5h0M1381.5 466.5h0M1383.5 466.5h0M1384.5 458.5h0M1386.5 471.5h0M1387.5 449.5h0M1389.5 447.5h0M1391.5 409.5h0M1392.5 458.5h0M1394.5 418.5h0M1395.5 443.5h0M1397.5 454.5h0M1399.5 458.5h0M1400.5 460.5h0M1402.5 470.5h0M1403.5 472.5h0M1405.5 432.5h0M1407.5 480.5h0M1408.5 442.5h0M1410.5 462.5h0M1411.5 455.5h0M1413.5 440.5h0M1414.5 470.5h0M1416.5 466.5h0M1418.5 452.5h0M1419.5 454.5h0M1421.5 417.5h0M1422.5 414.5h0M1424.5 441.5h0M1426.5 432.5h0M1427.5 464.5h0M1429.5 444.5h0M1430.5 453.5h0M1432.5 475.5h0M1434.5 461.5h0M1435.5 455.5h0M1437.5 482.5h0M1438.5 474.5h0M1440.5 460.5h0M1441.5 458.5h0M1443.5 460.5h0M1445.5 452.5h0M1446.5 467.5h0M1448.5 455.5h0M1449.5 430.5h0M1451.5 446.5h0M1453.5 456.5h0M1454.5 467.5h0M1456.5 238.5h0M1457.5 460.5h0M1459.5 408.5h0M1461.5 464.5h0M1462.5 453.5h0M1464.5 470.5h0M1465.5 451.5h0M1467.5 484.5h0M1468.5 463.5h0M1470.5 416.5h0M1472.5 440.5h0M1473.5 470.5h0M1475.5 443.5h0M1476.5 470.5h0M1478.5 467.5h0M1480.5 463.5h0M1481.5 457.5h0M1483.5 453.5h0M1484.5 472.5h0M1486.5 441.5h0M1488.5 461.5h0M1489.5 470.5h0M1491.5 452.5h0M1492.5 422.5h0M1494.5 465.5h0M1495.5 432.5h0M1497.5 443.5h0M1499.5 446.5h0M1500.5 458.5h0M1502.5 454.5h0M1503.5 442.5h0M1505.5 467.5h0M1507.5 458.5h0M1508.5 460.5h0M1510.5 458.5h0M1511.5 468.5h0M1513.5 462.5h0M1514.5 450.5h0M1516.5 443.5h0M1518.5 456.5h0M1519.5 448.5h0M1521.5 446.5h0M1522.5 452.5h0M1524.5 453.5h0M1526.5 432.5h0M1527.5 453.5h0M1529.5 458.5h0M1530.5 407.5h0M1532.5 467.5h0M1534.5 435.5h0M1535.5 420.5h0M1537.5 461.5h0M1538.5 462.5h0M1540.5 441.5h0M1541.5 465.5h0M1543.5 483.5h0M1545.5 449.5h0M1546.5 428.5h0M1548.5 473.5h0M1549.5 436.5h0M1551.5 454.5h0M1553.5 465.5h0M1554.5 453.5h0M1556.5 465.5h0M1557.5 457.5h0M1559.5 453.5h0M1561.5 450.5h0M1562.5 472.5h0M1564.5 433.5h0M1565.5 448.5h0M1567.5 443.5h0M1568.5 464.5h0M1570.5 477.5h0M1572.5 457.5h0M1573.5 448.5h0M1575.5 435.5h0M1576.5 442.5h0M1578.5 467.5h0M1580.5 463.5h0M1581.5 445.5h0M1583.5 441.5h0M1584.5 452.5h0M1586.5 447.5h0M1588.5 437.5h0M1589.5 460.5h0M1591.5 444.5h0M1592.5 461.5h0M1594.5 403.5h0M1595.5 461.5h0M1597.5 398.5h0M1599.5 435.5h0M1600.5 433.5h0M1602.5 442.5h0M1603.5 467.5h0M1605.5 467.5h0M1607.5 424.5h0M1608.5 474.5h0M1610.5 470.5h0M1611.5 442.5h0M1613.5 470.5h0M1615.5 415.5h0M1616.5 482.5h0M1618.5 475.5h0M1619.5 458.5h0M1621.5 472.5h0M1622.5 465.5h0M1624.5 467.5h0M1626.5 472.5h0M1627.5 456.5h0M1629.5 454.5h0M1630.5 454.5h0M1632.5 453.5h0M1634.5 456.5h0M1635.5 457.5h0M1637.5 466.5h0M1638.5 457.5h0M1640.5 418.5h0M1642.5 473.5h0M1643.5 414.5h0M1645.5 441.5h0M1646.5 444.5h0M1648.5 466.5h0M1649.5 457.5h0M1651.5 452.5h0M1653.5 464.5h0M1654.5 450.5h0M1656.5 475.5h0M1657.5 481.5h0M1659.5 445.5h0M1661.5 460.5h0M1662.5 467.5h0M1664.5 452.5h0M1665.5 459.5h0M1667.5 441.5h0M1668.5 451.5h0M1670.5 455.5h0M1672.5 470.5h0M1673.5 464.5h0M1675.5 465.5h0M1676.5 458.5h0M1678.5 472.5h0M1680.5 453.5h0M1681.5 431.5h0M1683.5 471.5h0M1684.5 452.5h0M1686.5 451.5h0M1688.5 448.5h0M1689.5 443.5h0M1691.5 462.5h0M1692.5 433.5h0M1694.5 443.5h0M1695.5 458.5h0M1697.5 438.5h0M1699.5 464.5h0M1700.5 477.5h0M1702.5 451.5h0M1703.5 466.5h0M1705.5 467.5h0M1707.5 472.5h0M1708.5 472.5h0M1710.5 468.5h0M1711.5 485.5h0M1713.5 437.5h0M1715.5 455.5h0M1716.5 470.5h0M1718.5 462.5h0M1719.5 431.5h0M1721.5 473.5h0M1722.5 479.5h0M1724.5 415.5h0M1726.5 437.5h0M1727.5 460.5h0M1729.5 436.5h0M1730.5 452.5h0M1732.5 449.5h0M1734.5 457.5h0M1735.5 449.5h0M1737.5 473.5h0M1738.5 462.5h0M1740.5 453.5h0M1742.5 464.5h0M1743.5 473.5h0M1745.5 458.5h0M1746.5 420.5h0M1748.5 455.5h0M1749.5 430.5h0M1751.5 429.5h0M1753.5 434.5h0M1754.5 454.5h0M1756.5 476.5h0M1757.5 478.5h0M1759.5 466.5h0M1761.5 457.5h0M1762.5 458.5h0M1764.5 454.5h0M1765.5 454.5h0M1767.5 450.5h0M1769.5 476.5h0M1770.5 452.5h0M1772.5 447.5h0M1773.5 468.5h0M1775.5 452.5h0M1776.5 452.5h0M1778.5 447.5h0M1780.5 452.5h0M1781.5 477.5h0M1783.5 430.5h0M1784.5 460.5h0M1786.5 451.5h0M1788.5 457.5h0M1789.5 474.5h0M1791.5 468.5h0M1792.5 465.5h0M1794.5 427.5h0M1796.5 470.5h0M1797.5 442.5h0M1799.5 454.5h0M1800.5 470.5h0M1802.5 474.5h0M1803.5 468.5h0M1805.5 458.5h0M1807.5 477.5h0M1808.5 466.5h0M1810.5 466.5h0M1811.5 464.5h0M1813.5 465.5h0M1815.5 459.5h0M1816.5 461.5h0M1818.5 476.5h0M1819.5 475.5h0M1821.5 468.5h0M1822.5 469.5h0M1824.5 454.5h0M1826.5 460.5h0M1827.5 458.5h0M1829.5 467.5h0M1830.5 443.5h0M1832.5 472.5h0M1834.5 470.5h0M1835.5 453.5h0M1837.5 464.5h0M1838.5 451.5h0M1840.5 457.5h0M1842.5 458.5h0M1843.5 470.5h0M1845.5 476.5h0M1846.5 479.5h0M1848.5 468.5h0M1849.5 464.5h0M1851.5 465.5h0M1853.5 460.5h0M1854.5 454.5h0M1856.5 447.5h0M1857.5 465.5h0M1859.5 461.5h0M1861.5 460.5h0M1862.5 453.5h0M1864.5 427.5h0M1865.5 441.5h0M1867.5 457.5h0M1869.5 455.5h0M1870.5 452.5h0M1872.5 455.5h0M1873.5 431.5h0M1875.5 450.5h0M1876.5 450.5h0M1878.5 446.5h0M1880.5 443.5h0M1881.5 448.5h0M1883.5 446.5h0M1884.5 436.5h0M1886.5 452.5h0M1888.5 448.5h0M1889.5 456.5h0M1891.5 451.5h0M1892.5 430.5h0M1894.5 452.5h0M1896.5 455.5h0M1897.5 433.5h0M1899.5 446.5h0M1900.5 426.5h0M1902.5 395.5h0M1903.5 376.5h0M1905.5 443.5h0M1907.5 431.5h0M1908.5 448.5h0M1910.5 391.5h0M1911.5 423.5h0M1913.5 366.5h0M1915.5 443.5h0M1916.5 435.5h0M1918.5 451.5h0M1919.5 442.5h0M1921.5 441.5h0M1923.5 422.5h0M1924.5 419.5h0M1926.5 441.5h0M1927.5 442.5h0M1929.5 425.5h0M1930.5 433.5h0M1932.5 417.5h0M1934.5 401.5h0M1935.5 440.5h0M1937.5 422.5h0M1938.5 409.5h0M1940.5 437.5h0M1942.5 414.5h0M1943.5 450.5h0M1945.5 416.5h0M1946.5 434.5h0M1948.5 427.5h0M1950.5 448.5h0M1951.5 412.5h0M1953.5 453.5h0M1954.5 416.5h0M1956.5 442.5h0M1957.5 426.5h0M1959.5 402.5h0M1961.5 440.5h0M1962.5 415.5h0M1964.5 424.5h0M1965.5 446.5h0M1967.5 422.5h0M1969.5 446.5h0M1970.5 386.5h0M1972.5 449.5h0M1973.5 395.5h0M1975.5 400.5h0M1977.5 428.5h0M1978.5 443.5h0M1980.5 429.5h0M1981.5 440.5h0M1983.5 400.5h0M1984.5 423.5h0M1986.5 409.5h0M1988.5 425.5h0M1989.5 415.5h0M1991.5 435.5h0M1992.5 398.5h0M1994.5 405.5h0M1996.5 416.5h0M1997.5 412.5h0M1999.5 416.5h0M2000.5 424.5h0M2002.5 417.5h0M2003.5 421.5h0M2005.5 437.5h0M2007.5 442.5h0M2008.5 424.5h0M2010.5 442.5h0M2011.5 423.5h0M2013.5 417.5h0M2015.5 434.5h0M2016.5 421.5h0M2018.5 438.5h0M2019.5 409.5h0M2021.5 350.5h0M2023.5 427.5h0M2024.5 442.5h0M2026.5 438.5h0M2027.5 448.5h0M2029.5 438.5h0M2030.5 442.5h0M2032.5 448.5h0M2034.5 436.5h0M2035.5 410.5h0M2037.5 454.5h0M2038.5 444.5h0M2040.5 429.5h0M2042.5 445.5h0M2043.5 434.5h0M2045.5 415.5h0M2046.5 424.5h0M2048.5 431.5h0M2050.5 453.5h0M2051.5 420.5h0M2053.5 420.5h0M2054.5 443.5h0M2056.5 434.5h0M2057.5 440.5h0M2059.5 438.5h0M2061.5 440.5h0M2062.5 423.5h0M2064.5 435.5h0M2065.5 393.5h0M2067.5 428.5h0M2069.5 435.5h0M2070.5 369.5h0M2072.5 431.5h0M2073.5 441.5h0M2075.5 404.5h0M2077.5 419.5h0M2078.5 428.5h0M2080.5 429.5h0M2081.5 436.5h0M2083.5 432.5h0M2084.5 437.5h0M2086.5 346.5h0M2088.5 438.5h0M2089.5 433.5h0M2091.5 396.5h0M2092.5 448.5h0M2094.5 421.5h0M2096.5 427.5h0M2097.5 443.5h0M2099.5 424.5h0M2100.5 424.5h0M2102.5 435.5h0M2104.5 431.5h0M2105.5 413.5h0M2107.5 419.5h0M2108.5 383.5h0M2110.5 420.5h0M2111.5 420.5h0M2113.5 445.5h0M2115.5 444.5h0M2116.5 372.5h0M2118.5 439.5h0M2119.5 428.5h0M2121.5 439.5h0M2123.5 425.5h0M2124.5 417.5h0M2126.5 379.5h0M2127.5 399.5h0M2129.5 443.5h0M2131.5 442.5h0M2132.5 455.5h0M2134.5 453.5h0M2135.5 442.5h0M2137.5 437.5h0M2138.5 440.5h0M2140.5 444.5h0M2142.5 408.5h0M2143.5 445.5h0M2145.5 419.5h0M2146.5 440.5h0M2148.5 449.5h0M2150.5 436.5h0M2151.5 427.5h0M2153.5 439.5h0M2154.5 439.5h0M2156.5 431.5h0M2157.5 431.5h0M2159.5 407.5h0M2161.5 426.5h0M2162.5 432.5h0M2164.5 423.5h0M2165.5 409.5h0M2167.5 410.5h0M2169.5 422.5h0M2170.5 437.5h0M2172.5 450.5h0M2173.5 451.5h0M2175.5 438.5h0M2177.5 453.5h0M2178.5 439.5h0M2180.5 403.5h0M2181.5 433.5h0M2183.5 419.5h0M2184.5 450.5h0M2186.5 412.5h0M2188.5 442.5h0M2189.5 429.5h0M2191.5 432.5h0M2192.5 439.5h0M2194.5 444.5h0M2196.5 430.5h0M2197.5 405.5h0M2199.5 451.5h0M2200.5 264.5h0M2202.5 454.5h0M2204.5 436.5h0M2205.5 452.5h0M2207.5 431.5h0M2208.5 455.5h0M2210.5 440.5h0M2211.5 445.5h0M2213.5 451.5h0M2215.5 444.5h0M2216.5 448.5h0M2218.5 439.5h0M2219.5 446.5h0M2221.5 457.5h0M2223.5 452.5h0M2224.5 450.5h0M2226.5 441.5h0M2227.5 451.5h0M2229.5 440.5h0M2231.5 449.5h0M2232.5 444.5h0M2234.5 437.5h0M2235.5 449.5h0M2237.5 454.5h0M2238.5 438.5h0M2240.5 448.5h0M2242.5 445.5h0M2243.5 462.5h0M2245.5 451.5h0M2246.5 450.5h0M2248.5 453.5h0M2250.5 451.5h0M2251.5 450.5h0M2253.5 447.5h0M2254.5 442.5h0M2256.5 449.5h0M2258.5 440.5h0M2259.5 442.5h0M2261.5 452.5h0M2262.5 447.5h0M2264.5 444.5h0M2265.5 440.5h0M2267.5 427.5h0M2269.5 440.5h0M2270.5 441.5h0M2272.5 412.5h0M2273.5 444.5h0M2275.5 448.5h0M2277.5 448.5h0M2278.5 457.5h0M2280.5 437.5h0M2281.5 440.5h0M2283.5 441.5h0M2285.5 443.5h0M2286.5 446.5h0M2288.5 453.5h0M2289.5 455.5h0M2291.5 442.5h0M2292.5 435.5h0M2294.5 434.5h0M2296.5 448.5h0M2297.5 421.5h0M2299.5 445.5h0M2300.5 446.5h0M2302.5 449.5h0M2304.5 447.5h0M2305.5 456.5h0M2307.5 456.5h0M2308.5 448.5h0M2310.5 438.5h0M2311.5 451.5h0M2313.5 445.5h0M2315.5 451.5h0M2316.5 449.5h0M2318.5 438.5h0M2319.5 430.5h0M2321.5 448.5h0M2323.5 447.5h0M2324.5 455.5h0M2326.5 454.5h0M2327.5 455.5h0M2329.5 446.5h0M2331.5 456.5h0M2332.5 457.5h0M2334.5 445.5h0M2335.5 453.5h0M2337.5 445.5h0M2338.5 450.5h0M2340.5 449.5h0M2342.5 451.5h0M2343.5 449.5h0M2345.5 443.5h0" stroke="#2e8b57" stroke-width="2.1" stroke-linecap="round" fill="none"/><path d="M59.1 402.2 60.7 399.3 62.3 401.3 63.9 405.2 65.5 408.8 67.0 401.0 68.6 406.7 70.2 398.5 71.8 402.7 73.4 401.0 75.0 401.2 76.6 402.6 78.2 406.0 79.7 398.2 81.3 409.5 82.9 411.2 84.5 407.0 86.1 409.9 87.7 405.1 89.3 409.4 90.9 404.8 92.4 408.7 94.0 410.3 95.6 408.8 97.2 404.7 98.8 408.1 100.4 408.3 102.0 407.3 103.6 406.0 105.1 403.2 106.7 406.1 108.3 404.3 109.9 407.7 111.5 400.4 113.1 398.9 114.7 407.9 116.3 405.5 117.8 407.0 119.4 405.6 121.0 407.8 122.6 408.5 124.2 408.9 125.8 406.5 127.4 404.4 129.0 400.1 130.5 400.9 132.1 403.0 133.7 402.6 135.3 397.2 136.9 394.0 138.5 397.3 140.1 391.9 141.7 393.5 143.2 395.7 144.8 398.8 146.4 399.8 148.0 402.6 149.6 403.2 151.2 401.5 152.8 396.5 154.4 406.7 155.9 404.2 157.5 393.4 159.1 403.6 160.7 404.3 162.3 402.8 163.9 403.6 165.5 407.2 167.1 400.4 168.6 407.3 170.2 405.0 171.8 405.0 173.4 402.6 175.0 405.0 176.6 405.3 178.2 406.0 179.8 403.2 181.4 404.6 182.9 405.6 184.5 407.5 186.1 407.3 187.7 405.7 189.3 410.1 190.9 407.1 192.5 408.0 194.1 404.3 195.6 409.4 197.2 409.8 198.8 407.8 200.4 408.1 202.0 408.8 203.6 401.7 205.2 406.5 206.8 407.7 208.3 410.1 209.9 407.6 211.5 409.8 213.1 404.1 214.7 391.4 216.3 397.7 217.9 410.2 219.5 411.3 221.0 410.1 222.6 410.3 224.2 403.3 225.8 407.4 227.4 410.1 229.0 407.8 230.6 400.3 232.2 406.6 233.7 403.2 235.3 408.5 236.9 406.8 238.5 406.7 240.1 388.5 241.7 399.2 243.3 405.0 244.9 405.2 246.4 412.6 248.0 408.6 249.6 405.9 251.2 406.3 252.8 401.9 254.4 404.9 256.0 392.8 257.6 397.4 259.1 394.1 260.7 399.0 262.3 398.1 263.9 398.1 265.5 396.7 267.1 400.2 268.7 402.5 270.3 399.6 271.8 404.9 273.4 405.1 275.0 409.4 276.6 406.6 278.2 408.5 279.8 413.2 281.4 404.8 283.0 404.9 284.5 409.4 286.1 410.4 287.7 405.3 289.3 390.8 290.9 404.1 292.5 384.3 294.1 399.5 295.7 403.1 297.2 410.6 298.8 404.6 300.4 405.8 302.0 403.3 303.6 405.0 305.2 401.5 306.8 404.7 308.4 404.9 310.0 405.7 311.5 406.4 313.1 403.9 314.7 405.7 316.3 406.1 317.9 406.6 319.5 404.8 321.1 405.7 322.7 406.9 324.2 403.1 325.8 398.5 327.4 407.6 329.0 406.9 330.6 404.5 332.2 407.9 333.8 403.2 335.4 408.2 336.9 409.4 338.5 399.3 340.1 399.0 341.7 407.2 343.3 405.1 344.9 410.4 346.5 403.7 348.1 404.7 349.6 403.6 351.2 398.3 352.8 405.7 354.4 401.3 356.0 403.1 357.6 401.4 359.2 406.4 360.8 400.8 362.3 405.4 363.9 399.7 365.5 401.9 367.1 405.2 368.7 403.6 370.3 404.3 371.9 405.9 373.5 397.8 375.0 409.6 376.6 411.1 378.2 407.0 379.8 407.1 381.4 407.8 383.0 405.4 384.6 388.0 386.2 399.0 387.7 396.5 389.3 406.4 390.9 404.3 392.5 404.7 394.1 402.6 395.7 402.4 397.3 407.9 398.9 406.6 400.4 405.7 402.0 402.5 403.6 408.6 405.2 404.6 406.8 401.2 408.4 402.8 410.0 401.1 411.6 408.8 413.1 404.8 414.7 403.3 416.3 403.2 417.9 405.9 419.5 395.3 421.1 397.6 422.7 402.4 424.3 398.1 425.9 396.1 427.4 392.1 429.0 393.1 430.6 398.3 432.2 397.0 433.8 393.9 435.4 390.3 437.0 317.3 438.6 395.3 440.1 390.7 441.7 392.2 443.3 388.3 444.9 394.3 446.5 394.2 448.1 405.7 449.7 404.3 451.3 404.2 452.8 401.5 454.4 397.7 456.0 399.4 457.6 397.2 459.2 389.6 460.8 392.9 462.4 399.9 464.0 411.6 465.5 403.1 467.1 405.5 468.7 402.5 470.3 404.0 471.9 400.0 473.5 412.3 475.1 407.9 476.7 408.2 478.2 408.0 479.8 406.8 481.4 410.9 483.0 403.5 484.6 406.7 486.2 410.5 487.8 401.0 489.4 408.1 490.9 396.5 492.5 402.6 494.1 406.6 495.7 404.3 497.3 401.2 498.9 404.8 500.5 399.4 502.1 393.5 503.6 379.9 505.2 394.2 506.8 400.2 508.4 395.4 510.0 402.8 511.6 401.3 513.2 390.1 514.8 395.7 516.3 380.1 517.9 390.6 519.5 381.5 521.1 382.2 522.7 397.4 524.3 395.1 525.9 402.0 527.5 401.0 529.0 399.0 530.6 398.2 532.2 403.7 533.8 399.8 535.4 328.1 537.0 394.6 538.6 391.2 540.2 394.0 541.8 395.5 543.3 405.3 544.9 406.5 546.5 408.6 548.1 406.8 549.7 406.0 551.3 398.6 552.9 405.0 554.5 396.3 556.0 402.0 557.6 382.1 559.2 395.2 560.8 392.6 562.4 384.8 564.0 393.9 565.6 392.5 567.2 391.5 568.7 377.0 570.3 387.1 571.9 380.3 573.5 385.6 575.1 391.4 576.7 387.2 578.3 394.6 579.9 396.2 581.4 395.3 583.0 392.8 584.6 399.9 586.2 397.0 587.8 394.3 589.4 400.5 591.0 396.2 592.6 401.8 594.1 397.8 595.7 399.0 597.3 396.7 598.9 400.5 600.5 403.8 602.1 405.3 603.7 378.0 605.3 397.4 606.8 395.6 608.4 377.4 610.0 375.6 611.6 386.1 613.2 388.8 614.8 397.5 616.4 390.0 618.0 397.8 619.5 373.4 621.1 388.7 622.7 400.4 624.3 395.9 625.9 398.3 627.5 383.7 629.1 400.1 630.7 397.4 632.2 398.7 633.8 401.8 635.4 357.7 637.0 379.0 638.6 377.1 640.2 391.5 641.8 395.7 643.4 396.9 644.9 400.2 646.5 399.8 648.1 400.9 649.7 397.9 651.3 401.8 652.9 404.8 654.5 404.7 656.1 410.9 657.7 401.8 659.2 388.9 660.8 397.7 662.4 403.9 664.0 386.5 665.6 382.4 667.2 391.1 668.8 402.1 670.4 404.1 671.9 400.8 673.5 405.7 675.1 397.3 676.7 405.8 678.3 405.4 679.9 396.9 681.5 406.4 683.1 396.1 684.6 400.0 686.2 400.1 687.8 399.7 689.4 403.6 691.0 392.5 692.6 396.7 694.2 393.4 695.8 392.9 697.3 392.3 698.9 338.3 700.5 400.7 702.1 402.0 703.7 402.5 705.3 399.2 706.9 392.0 708.5 400.2 710.0 396.6 711.6 392.6 713.2 386.8 714.8 392.2 716.4 398.2 718.0 394.8 719.6 396.1 721.2 395.3 722.7 394.4 724.3 391.4 725.9 388.3 727.5 324.5 729.1 381.4 730.7 392.2 732.3 327.5 733.9 395.2 735.4 393.0 737.0 393.4 738.6 392.0 740.2 402.5 741.8 392.2 743.4 397.0 745.0 399.6 746.6 408.5 748.1 398.5 749.7 399.2 751.3 398.2 752.9 395.8 754.5 399.7 756.1 277.1 757.7 388.1 759.3 388.3 760.8 384.4 762.4 396.7 764.0 393.0 765.6 393.6 767.2 396.7 768.8 390.1 770.4 382.3 772.0 399.6 773.6 392.9 775.1 394.5 776.7 392.2 778.3 390.3 779.9 385.2 781.5 389.9 783.1 389.5 784.7 380.0 786.3 388.6 787.8 386.8 789.4 387.5 791.0 375.4 792.6 348.5 794.2 337.7 795.8 359.7 797.4 359.8 799.0 364.6 800.5 384.4 802.1 383.6 803.7 384.8 805.3 375.0 806.9 379.8 808.5 381.0 810.1 378.4 811.7 383.1 813.2 379.9 814.8 379.6 816.4 359.4 818.0 375.1 819.6 389.1 821.2 385.6 822.8 387.9 824.4 386.8 825.9 372.7 827.5 389.5 829.1 398.1 830.7 395.4 832.3 400.3 833.9 388.7 835.5 396.6 837.1 396.9 838.6 382.4 840.2 375.7 841.8 387.5 843.4 396.3 845.0 387.4 846.6 391.1 848.2 389.2 849.8 398.2 851.3 398.1 852.9 393.7 854.5 401.0 856.1 338.9 857.7 303.5 859.3 326.8 860.9 332.2 862.5 341.3 864.0 401.8 865.6 402.1 867.2 387.7 868.8 393.0 870.4 402.8 872.0 406.1 873.6 393.6 875.2 400.4 876.7 404.5 878.3 389.9 879.9 397.4 881.5 398.3 883.1 407.7 884.7 370.4 886.3 369.1 887.9 378.7 889.4 382.9 891.0 397.8 892.6 385.6 894.2 391.5 895.8 394.5 897.4 401.1 899.0 383.8 900.6 391.6 902.2 390.7 903.7 397.8 905.3 391.9 906.9 392.7 908.5 390.4 910.1 403.6 911.7 410.2 913.3 395.3 914.9 407.0 916.4 410.3 918.0 415.4 919.6 414.2 921.2 408.9 922.8 406.9 924.4 415.5 926.0 420.7 927.6 416.2 929.1 417.0 930.7 416.9 932.3 417.8 933.9 418.2 935.5 425.5 937.1 416.8 938.7 388.1 940.3 401.1 941.8 410.7 943.4 408.2 945.0 417.3 946.6 412.5 948.2 409.9 949.8 413.9 951.4 411.4 953.0 406.1 954.5 414.0 956.1 418.3 957.7 419.2 959.3 417.5 960.9 422.4 962.5 418.8 964.1 420.0 965.7 418.3 967.2 399.5 968.8 407.4 970.4 415.5 972.0 416.3 973.6 413.9 975.2 414.0 976.8 416.2 978.4 424.2 979.9 414.4 981.5 419.8 983.1 410.0 984.7 413.1 986.3 409.6 987.9 411.7 989.5 417.2 991.1 393.5 992.6 408.9 994.2 415.1 995.8 422.9 997.4 426.2 999.0 430.1 1000.6 421.7 1002.2 414.6 1003.8 415.3 1005.3 408.9 1006.9 409.1 1008.5 414.2 1010.1 412.0 1011.7 402.7 1013.3 412.8 1014.9 394.7 1016.5 408.6 1018.1 391.1 1019.6 404.4 1021.2 412.8 1022.8 405.5 1024.4 409.8 1026.0 413.8 1027.6 414.2 1029.2 416.6 1030.8 430.8 1032.3 408.6 1033.9 420.2 1035.5 423.4 1037.1 421.7 1038.7 416.3 1040.3 424.7 1041.9 417.2 1043.5 423.9 1045.0 421.1 1046.6 424.7 1048.2 422.4 1049.8 424.0 1051.4 407.8 1053.0 419.0 1054.6 407.2 1056.2 420.2 1057.7 411.8 1059.3 393.9 1060.9 400.2 1062.5 414.2 1064.1 380.0 1065.7 385.3 1067.3 411.2 1068.9 401.9 1070.4 385.9 1072.0 390.9 1073.6 392.6 1075.2 388.5 1076.8 393.7 1078.4 405.2 1080.0 399.4 1081.6 422.1 1083.1 409.5 1084.7 414.5 1086.3 428.7 1087.9 376.0 1089.5 405.7 1091.1 332.0 1092.7 409.6 1094.3 421.9 1095.8 412.6 1097.4 421.6 1099.0 413.2 1100.6 412.3 1102.2 396.2 1103.8 414.3 1105.4 399.4 1107.0 414.2 1108.5 423.8 1110.1 404.0 1111.7 410.7 1113.3 397.7 1114.9 372.2 1116.5 378.9 1118.1 395.3 1119.7 394.0 1121.2 394.8 1122.8 410.4 1124.4 404.7 1126.0 376.0 1127.6 373.0 1129.2 398.9 1130.8 418.6 1132.4 408.0 1134.0 390.9 1135.5 415.9 1137.1 392.3 1138.7 396.5 1140.3 414.9 1141.9 422.6 1143.5 415.4 1145.1 416.1 1146.7 421.1 1148.2 418.1 1149.8 427.6 1151.4 430.3 1153.0 413.7 1154.6 417.0 1156.2 421.7 1157.8 422.1 1159.4 410.3 1160.9 416.0 1162.5 421.1 1164.1 407.2 1165.7 401.5 1167.3 409.5 1168.9 412.0 1170.5 403.0 1172.1 403.1 1173.6 414.2 1175.2 421.2 1176.8 418.9 1178.4 418.1 1180.0 432.1 1181.6 380.2 1183.2 408.0 1184.8 394.2 1186.3 388.3 1187.9 411.9 1189.5 408.4 1191.1 421.9 1192.7 414.5 1194.3 428.8 1195.9 426.9 1197.5 419.1 1199.0 418.6 1200.6 397.4 1202.2 413.8 1203.8 407.0 1205.4 398.1 1207.0 416.4 1208.6 411.7 1210.2 415.1 1211.7 412.6 1213.3 408.5 1214.9 373.6 1216.5 381.8 1218.1 382.9 1219.7 382.0 1221.3 375.9 1222.9 393.9 1224.4 400.2 1226.0 398.2 1227.6 388.7 1229.2 401.9 1230.8 387.7 1232.4 352.8 1234.0 390.8 1235.6 402.2 1237.1 387.6 1238.7 399.9 1240.3 395.1 1241.9 357.3 1243.5 376.0 1245.1 365.7 1246.7 383.0 1248.3 389.8 1249.8 376.9 1251.4 376.0 1253.0 391.4 1254.6 401.9 1256.2 371.4 1257.8 390.1 1259.4 386.4 1261.0 391.8 1262.6 370.6 1264.1 395.7 1265.7 375.5 1267.3 396.4 1268.9 386.5 1270.5 405.0 1272.1 406.0 1273.7 417.6 1275.3 400.6 1276.8 386.4 1278.4 387.0 1280.0 392.2 1281.6 378.6 1283.2 394.7 1284.8 399.7 1286.4 395.7 1288.0 326.6 1289.5 371.9 1291.1 397.7 1292.7 395.7 1294.3 399.9 1295.9 393.7 1297.5 395.2 1299.1 409.4 1300.7 392.8 1302.2 395.3 1303.8 401.8 1305.4 395.4 1307.0 388.2 1308.6 397.7 1310.2 391.0 1311.8 386.9 1313.4 395.8 1314.9 378.1 1316.5 397.0 1318.1 408.4 1319.7 401.1 1321.3 372.0 1322.9 405.8 1324.5 403.3 1326.1 409.0 1327.6 403.8 1329.2 403.2 1330.8 394.1 1332.4 410.3 1334.0 395.9 1335.6 375.6 1337.2 364.2 1338.8 394.6 1340.3 411.2 1341.9 414.7 1343.5 411.7 1345.1 422.1 1346.7 428.0 1348.3 419.4 1349.9 427.3 1351.5 408.6 1353.0 382.0 1354.6 416.4 1356.2 386.2 1357.8 409.9 1359.4 384.3 1361.0 391.3 1362.6 374.9 1364.2 398.1 1365.7 370.4 1367.3 404.9 1368.9 394.5 1370.5 399.9 1372.1 401.4 1373.7 393.1 1375.3 380.2 1376.9 391.0 1378.5 392.4 1380.0 408.2 1381.6 395.5 1383.2 420.9 1384.8 412.3 1386.4 412.3 1388.0 437.4 1389.6 410.4 1391.2 396.8 1392.7 384.6 1394.3 409.8 1395.9 392.9 1397.5 390.2 1399.1 420.8 1400.7 425.7 1402.3 417.6 1403.9 414.9 1405.4 406.2 1407.0 408.5 1408.6 419.4 1410.2 429.7 1411.8 386.4 1413.4 407.9 1415.0 420.3 1416.6 425.4 1418.1 412.1 1419.7 420.9 1421.3 390.3 1422.9 404.0 1424.5 376.9 1426.1 407.2 1427.7 399.4 1429.3 378.0 1430.8 404.0 1432.4 403.5 1434.0 421.2 1435.6 426.2 1437.2 437.2 1438.8 429.4 1440.4 414.5 1442.0 396.3 1443.5 373.1 1445.1 388.8 1446.7 398.4 1448.3 407.4 1449.9 409.0 1451.5 400.8 1453.1 413.3 1454.7 419.3 1456.2 290.3 1457.8 409.5 1459.4 398.0 1461.0 414.0 1462.6 422.8 1464.2 415.5 1465.8 420.3 1467.4 422.6 1468.9 399.1 1470.5 412.3 1472.1 396.1 1473.7 413.8 1475.3 414.3 1476.9 411.1 1478.5 414.0 1480.1 376.9 1481.6 396.6 1483.2 400.5 1484.8 406.5 1486.4 385.9 1488.0 369.7 1489.6 375.9 1491.2 408.7 1492.8 409.8 1494.4 391.9 1495.9 414.9 1497.5 398.4 1499.1 410.4 1500.7 392.6 1502.3 408.5 1503.9 398.9 1505.5 404.8 1507.1 405.5 1508.6 381.5 1510.2 410.9 1511.8 406.1 1513.4 386.4 1515.0 381.0 1516.6 385.7 1518.2 408.6 1519.8 378.6 1521.3 402.2 1522.9 385.2 1524.5 400.7 1526.1 408.8 1527.7 415.9 1529.3 408.0 1530.9 408.0 1532.5 399.6 1534.0 405.1 1535.6 399.0 1537.2 391.0 1538.8 406.7 1540.4 403.7 1542.0 406.1 1543.6 421.0 1545.2 406.5 1546.7 414.2 1548.3 423.4 1549.9 370.7 1551.5 390.7 1553.1 424.9 1554.7 413.7 1556.3 415.3 1557.9 369.7 1559.4 374.7 1561.0 408.1 1562.6 428.7 1564.2 421.3 1565.8 424.9 1567.4 416.0 1569.0 425.3 1570.6 414.5 1572.1 419.5 1573.7 404.6 1575.3 396.5 1576.9 400.3 1578.5 397.7 1580.1 391.4 1581.7 409.0 1583.3 401.3 1584.8 408.9 1586.4 368.0 1588.0 396.9 1589.6 390.6 1591.2 411.8 1592.8 385.5 1594.4 395.1 1596.0 396.7 1597.5 393.3 1599.1 414.7 1600.7 412.5 1602.3 413.7 1603.9 419.7 1605.5 424.1 1607.1 411.2 1608.7 418.3 1610.3 417.6 1611.8 412.9 1613.4 386.1 1615.0 384.0 1616.6 396.2 1618.2 405.5 1619.8 420.7 1621.4 418.5 1623.0 423.0 1624.5 425.5 1626.1 407.2 1627.7 388.9 1629.3 389.1 1630.9 411.2 1632.5 411.1 1634.1 413.4 1635.7 422.6 1637.2 417.8 1638.8 406.4 1640.4 389.1 1642.0 403.3 1643.6 403.1 1645.2 409.9 1646.8 406.7 1648.4 389.1 1649.9 410.6 1651.5 412.5 1653.1 426.8 1654.7 426.3 1656.3 408.2 1657.9 410.4 1659.5 424.0 1661.1 422.3 1662.6 366.4 1664.2 402.7 1665.8 410.8 1667.4 386.9 1669.0 387.4 1670.6 409.7 1672.2 410.4 1673.8 409.0 1675.3 420.9 1676.9 435.7 1678.5 408.4 1680.1 413.2 1681.7 410.2 1683.3 420.3 1684.9 421.2 1686.5 410.2 1688.0 383.3 1689.6 410.6 1691.2 427.7 1692.8 393.1 1694.4 399.6 1696.0 372.9 1697.6 400.2 1699.2 417.7 1700.7 421.7 1702.3 385.4 1703.9 414.3 1705.5 424.5 1707.1 424.2 1708.7 426.5 1710.3 435.0 1711.9 410.1 1713.4 435.8 1715.0 414.8 1716.6 430.1 1718.2 410.7 1719.8 429.5 1721.4 411.2 1723.0 421.3 1724.6 418.6 1726.2 433.2 1727.7 428.0 1729.3 429.0 1730.9 395.8 1732.5 418.6 1734.1 412.9 1735.7 437.8 1737.3 434.8 1738.9 433.0 1740.4 397.3 1742.0 421.1 1743.6 423.1 1745.2 422.9 1746.8 418.9 1748.4 416.8 1750.0 416.5 1751.6 414.0 1753.1 407.4 1754.7 414.4 1756.3 401.2 1757.9 410.7 1759.5 414.3 1761.1 420.0 1762.7 410.2 1764.3 405.6 1765.8 396.6 1767.4 408.9 1769.0 406.2 1770.6 409.1 1772.2 400.8 1773.8 389.8 1775.4 407.7 1777.0 419.5 1778.5 403.0 1780.1 415.5 1781.7 420.0 1783.3 422.9 1784.9 424.4 1786.5 416.0 1788.1 416.5 1789.7 413.5 1791.2 409.2 1792.8 416.8 1794.4 415.2 1796.0 419.8 1797.6 422.1 1799.2 425.5 1800.8 421.2 1802.4 413.6 1803.9 420.0 1805.5 417.4 1807.1 418.5 1808.7 409.7 1810.3 412.5 1811.9 420.9 1813.5 420.1 1815.1 413.3 1816.6 417.4 1818.2 418.5 1819.8 413.9 1821.4 417.3 1823.0 419.7 1824.6 406.4 1826.2 419.1 1827.8 425.0 1829.3 418.4 1830.9 416.7 1832.5 409.0 1834.1 415.2 1835.7 418.2 1837.3 395.8 1838.9 411.6 1840.5 415.8 1842.0 415.2 1843.6 418.4 1845.2 420.6 1846.8 417.1 1848.4 415.6 1850.0 410.6 1851.6 406.5 1853.2 409.6 1854.8 414.4 1856.3 411.7 1857.9 412.8 1859.5 407.6 1861.1 408.2 1862.7 401.5 1864.3 404.6 1865.9 407.1 1867.5 406.9 1869.0 401.4 1870.6 386.6 1872.2 385.2 1873.8 394.1 1875.4 397.2 1877.0 399.0 1878.6 398.8 1880.2 399.5 1881.7 402.4 1883.3 402.9 1884.9 402.6 1886.5 398.5 1888.1 401.9 1889.7 396.8 1891.3 397.3 1892.9 397.3 1894.4 389.5 1896.0 402.0 1897.6 395.2 1899.2 403.3 1900.8 403.3 1902.4 402.0 1904.0 405.0 1905.6 401.1 1907.1 400.3 1908.7 410.5 1910.3 413.9 1911.9 398.2 1913.5 398.1 1915.1 374.3 1916.7 412.0 1918.3 365.5 1919.8 388.9 1921.4 398.7 1923.0 412.5 1924.6 402.2 1926.2 381.4 1927.8 408.2 1929.4 386.7 1931.0 381.6 1932.5 374.0 1934.1 386.0 1935.7 405.3 1937.3 368.2 1938.9 376.5 1940.5 397.0 1942.1 397.7 1943.7 394.5 1945.2 394.0 1946.8 394.0 1948.4 401.5 1950.0 385.7 1951.6 386.3 1953.2 381.7 1954.8 367.4 1956.4 406.2 1957.9 362.5 1959.5 400.2 1961.1 387.9 1962.7 403.7 1964.3 395.5 1965.9 404.9 1967.5 401.5 1969.1 400.4 1970.7 395.7 1972.2 389.5 1973.8 400.1 1975.4 401.3 1977.0 403.8 1978.6 404.4 1980.2 394.1 1981.8 386.6 1983.4 346.1 1984.9 365.7 1986.5 331.9 1988.1 341.2 1989.7 376.1 1991.3 384.6 1992.9 392.3 1994.5 388.2 1996.1 349.6 1997.6 375.7 1999.2 397.9 2000.8 360.6 2002.4 384.6 2004.0 388.6 2005.6 402.8 2007.2 393.1 2008.8 374.6 2010.3 390.3 2011.9 393.0 2013.5 410.3 2015.1 394.8 2016.7 403.4 2018.3 406.1 2019.9 382.8 2021.5 369.1 2023.0 392.7 2024.6 388.7 2026.2 379.5 2027.8 408.0 2029.4 400.7 2031.0 413.0 2032.6 399.1 2034.2 387.3 2035.7 403.6 2037.3 410.8 2038.9 407.5 2040.5 399.9 2042.1 411.6 2043.7 409.1 2045.3 378.1 2046.9 402.1 2048.4 399.0 2050.0 409.8 2051.6 414.3 2053.2 395.7 2054.8 392.8 2056.4 409.5 2058.0 376.7 2059.6 388.4 2061.1 389.7 2062.7 396.8 2064.3 406.1 2065.9 381.5 2067.5 392.5 2069.1 387.9 2070.7 391.6 2072.3 396.1 2073.8 353.7 2075.4 384.9 2077.0 396.8 2078.6 390.7 2080.2 402.9 2081.8 387.9 2083.4 362.0 2085.0 399.1 2086.6 391.8 2088.1 408.7 2089.7 404.3 2091.3 393.6 2092.9 400.3 2094.5 350.4 2096.1 366.3 2097.7 395.8 2099.3 396.7 2100.8 386.0 2102.4 395.6 2104.0 410.5 2105.6 419.3 2107.2 405.2 2108.8 421.4 2110.4 421.7 2112.0 411.4 2113.5 406.6 2115.1 374.1 2116.7 400.8 2118.3 380.2 2119.9 403.6 2121.5 398.8 2123.1 343.2 2124.7 384.5 2126.2 374.5 2127.8 379.9 2129.4 387.8 2131.0 387.0 2132.6 386.8 2134.2 400.6 2135.8 402.8 2137.4 398.4 2138.9 409.8 2140.5 396.6 2142.1 404.5 2143.7 400.5 2145.3 401.8 2146.9 395.5 2148.5 403.8 2150.1 375.7 2151.6 385.2 2153.2 381.3 2154.8 390.1 2156.4 365.8 2158.0 404.2 2159.6 401.2 2161.2 410.5 2162.8 407.6 2164.3 358.5 2165.9 385.6 2167.5 402.4 2169.1 408.4 2170.7 425.2 2172.3 407.8 2173.9 413.4 2175.5 414.5 2177.0 407.3 2178.6 385.5 2180.2 339.5 2181.8 402.8 2183.4 385.9 2185.0 391.6 2186.6 375.8 2188.2 372.4 2189.7 364.9 2191.3 400.4 2192.9 408.3 2194.5 400.7 2196.1 391.2 2197.7 402.4 2199.3 399.1 2200.9 320.0 2202.4 403.9 2204.0 380.9 2205.6 383.8 2207.2 398.3 2208.8 410.1 2210.4 392.8 2212.0 402.2 2213.6 396.6 2215.2 402.5 2216.7 402.3 2218.3 406.5 2219.9 407.0 2221.5 406.9 2223.1 407.2 2224.7 404.4 2226.3 410.2 2227.9 408.0 2229.4 404.4 2231.0 405.2 2232.6 401.7 2234.2 403.2 2235.8 401.4 2237.4 403.4 2239.0 401.9 2240.6 404.8 2242.1 403.1 2243.7 407.2 2245.3 409.5 2246.9 405.3 2248.5 403.4 2250.1 402.6 2251.7 396.2 2253.3 396.7 2254.8 392.1 2256.4 397.4 2258.0 396.0 2259.6 391.6 2261.2 386.4 2262.8 389.4 2264.4 380.1 2266.0 380.8 2267.5 381.3 2269.1 377.4 2270.7 377.5 2272.3 376.9 2273.9 380.8 2275.5 379.4 2277.1 382.9 2278.7 377.7 2280.2 382.6 2281.8 381.2 2283.4 378.4 2285.0 382.8 2286.6 381.6 2288.2 383.3 2289.8 372.4 2291.4 384.0 2292.9 382.5 2294.5 381.4 2296.1 371.4 2297.7 382.1 2299.3 380.9 2300.9 378.7 2302.5 386.4 2304.1 379.0 2305.6 380.6 2307.2 376.2 2308.8 375.8 2310.4 375.2 2312.0 374.8 2313.6 381.1 2315.2 382.4 2316.8 380.3 2318.3 378.7 2319.9 380.0 2321.5 377.4 2323.1 376.5 2324.7 372.5 2326.3 379.3 2327.9 379.9 2329.5 400.0 2331.1 400.8 2332.6 399.6 2334.2 395.7 2335.8 404.0 2337.4 400.0 2339.0 398.5 2340.6 399.9 2342.2 409.0 2343.8 407.1 2345.3 400.3" stroke="#4682b4" stroke-width="1.3" fill="none" stroke-linejoin="round"/><path d="M59.1 414.9 60.7 412.2 62.3 414.4 63.9 416.3 65.5 420.2 67.0 414.5 68.6 418.4 70.2 410.5 71.8 414.5 73.4 414.8 75.0 415.1 76.6 414.1 78.2 419.3 79.7 411.8 81.3 422.0 82.9 422.4 84.5 419.6 86.1 423.2 87.7 415.6 89.3 420.1 90.9 416.3 92.4 417.7 94.0 420.1 95.6 418.8 97.2 417.1 98.8 419.8 100.4 419.9 102.0 420.0 103.6 417.7 105.1 415.7 106.7 418.8 108.3 417.4 109.9 418.9 111.5 413.9 113.1 412.1 114.7 419.3 116.3 417.9 117.8 421.7 119.4 417.3 121.0 418.6 122.6 420.4 124.2 421.1 125.8 418.0 127.4 418.4 129.0 413.0 130.5 414.2 132.1 414.8 133.7 415.3 135.3 409.7 136.9 407.0 138.5 411.1 140.1 405.4 141.7 405.0 143.2 408.4 144.8 411.1 146.4 410.6 148.0 412.3 149.6 414.5 151.2 413.8 152.8 410.0 154.4 418.1 155.9 417.7 157.5 407.0 159.1 414.9 160.7 414.6 162.3 413.2 163.9 414.1 165.5 415.9 167.1 412.4 168.6 418.2 170.2 415.0 171.8 416.5 173.4 415.3 175.0 417.3 176.6 417.1 178.2 418.8 179.8 414.4 181.4 416.1 182.9 416.1 184.5 419.8 186.1 419.1 187.7 418.3 189.3 420.9 190.9 418.8 192.5 419.3 194.1 416.3 195.6 422.0 197.2 421.0 198.8 419.5 200.4 419.8 202.0 419.5 203.6 416.2 205.2 419.2 206.8 419.9 208.3 422.4 209.9 420.8 211.5 420.7 213.1 416.3 214.7 403.5 216.3 411.9 217.9 423.6 219.5 421.8 221.0 421.5 222.6 422.1 224.2 414.8 225.8 418.4 227.4 422.2 229.0 418.8 230.6 414.4 232.2 417.6 233.7 416.6 235.3 421.1 236.9 417.7 238.5 417.4 240.1 401.6 241.7 412.2 243.3 416.0 244.9 416.8 246.4 422.6 248.0 419.8 249.6 418.5 251.2 418.1 252.8 413.1 254.4 417.5 256.0 406.6 257.6 411.9 259.1 409.7 260.7 415.2 262.3 414.8 263.9 412.4 265.5 412.5 267.1 414.8 268.7 417.0 270.3 415.0 271.8 417.1 273.4 418.3 275.0 420.9 276.6 420.7 278.2 418.5 279.8 423.3 281.4 414.6 283.0 416.1 284.5 418.2 286.1 419.3 287.7 415.0 289.3 402.7 290.9 417.1 292.5 398.0 294.1 412.1 295.7 415.6 297.2 420.4 298.8 415.1 300.4 415.7 302.0 415.4 303.6 416.3 305.2 412.1 306.8 413.7 308.4 414.8 310.0 415.7 311.5 418.6 313.1 415.7 314.7 417.4 316.3 416.5 317.9 415.9 319.5 416.4 321.1 416.0 322.7 418.7 324.2 414.0 325.8 408.8 327.4 418.8 329.0 417.3 330.6 417.9 332.2 417.6 333.8 412.5 335.4 419.4 336.9 419.5 338.5 409.4 340.1 411.6 341.7 417.2 343.3 416.6 344.9 420.5 346.5 414.6 348.1 414.4 349.6 414.0 351.2 409.9 352.8 415.9 354.4 411.2 356.0 413.1 357.6 411.7 359.2 417.7 360.8 411.7 362.3 416.2 363.9 409.4 365.5 412.3 367.1 414.4 368.7 415.4 370.3 416.6 371.9 417.2 373.5 409.5 375.0 420.0 376.6 420.0 378.2 415.6 379.8 417.9 381.4 417.9 383.0 419.4 384.6 403.1 386.2 412.9 387.7 410.2 389.3 419.5 390.9 416.9 392.5 415.1 394.1 412.5 395.7 413.0 397.3 418.6 398.9 415.1 400.4 414.5 402.0 412.9 403.6 415.4 405.2 412.9 406.8 409.5 408.4 411.2 410.0 410.0 411.6 415.7 413.1 411.8 414.7 412.8 416.3 413.6 417.9 416.5 419.5 407.2 421.1 408.1 422.7 412.7 424.3 407.2 425.9 403.1 427.4 401.1 429.0 401.4 430.6 406.4 432.2 403.5 433.8 402.6 435.4 400.7 437.0 331.1 438.6 404.3 440.1 399.6 441.7 403.1 443.3 400.6 444.9 407.8 446.5 406.3 448.1 418.3 449.7 416.7 451.3 416.4 452.8 413.7 454.4 408.6 456.0 410.9 457.6 408.2 459.2 401.8 460.8 405.5 462.4 411.2 464.0 421.2 465.5 415.7 467.1 417.4 468.7 416.5 470.3 416.1 471.9 413.9 473.5 423.9 475.1 418.6 476.7 419.7 478.2 418.7 479.8 416.8 481.4 420.9 483.0 414.5 484.6 416.2 486.2 417.8 487.8 411.4 489.4 416.3 490.9 406.2 492.5 411.0 494.1 413.0 495.7 413.6 497.3 411.5 498.9 412.7 500.5 410.9 502.1 406.9 503.6 392.3 505.2 404.0 506.8 408.4 508.4 404.0 510.0 413.7 511.6 410.4 513.2 401.4 514.8 405.0 516.3 391.7 517.9 400.0 519.5 392.8 521.1 393.2 522.7 406.0 524.3 404.1 525.9 411.4 527.5 411.5 529.0 410.2 530.6 409.2 532.2 416.4 533.8 411.8 535.4 339.5 537.0 408.0 538.6 406.1 540.2 407.8 541.8 407.1 543.3 415.2 544.9 416.5 546.5 416.8 548.1 416.2 549.7 415.8 551.3 408.0 552.9 413.9 554.5 405.8 556.0 408.2 557.6 392.6 559.2 401.5 560.8 401.7 562.4 394.8 564.0 401.0 565.6 398.9 567.2 399.5 568.7 384.3 570.3 393.6 571.9 388.4 573.5 392.3 575.1 397.3 576.7 394.7 578.3 399.8 579.9 402.1 581.4 399.3 583.0 399.1 584.6 404.7 586.2 403.0 587.8 400.6 589.4 405.7 591.0 403.0 592.6 408.6 594.1 403.7 595.7 405.4 597.3 405.1 598.9 408.2 600.5 409.6 602.1 410.7 603.7 389.0 605.3 403.4 606.8 400.7 608.4 382.7 610.0 383.3 611.6 392.5 613.2 394.5 614.8 400.7 616.4 395.8 618.0 402.7 619.5 382.0 621.1 396.2 622.7 405.0 624.3 401.0 625.9 404.2 627.5 394.4 629.1 407.6 630.7 407.1 632.2 408.8 633.8 412.5 635.4 369.5 637.0 390.4 638.6 387.2 640.2 401.6 641.8 404.8 643.4 406.6 644.9 407.1 646.5 407.7 648.1 410.7 649.7 407.7 651.3 413.9 652.9 415.3 654.5 417.1 656.1 421.1 657.7 413.5 659.2 399.5 660.8 409.3 662.4 413.4 664.0 396.4 665.6 395.4 667.2 402.3 668.8 413.0 670.4 416.2 671.9 410.8 673.5 415.6 675.1 407.2 676.7 417.0 678.3 414.7 679.9 407.1 681.5 418.3 683.1 408.2 684.6 411.6 686.2 412.4 687.8 411.2 689.4 415.2 691.0 407.9 692.6 411.2 694.2 407.4 695.8 405.4 697.3 406.6 698.9 350.3 700.5 413.4 702.1 413.8 703.7 414.3 705.3 410.8 706.9 404.2 708.5 412.5 710.0 409.8 711.6 405.9 713.2 400.4 714.8 405.6 716.4 410.5 718.0 408.9 719.6 408.5 721.2 406.8 722.7 405.1 724.3 404.2 725.9 400.3 727.5 335.3 729.1 394.9 730.7 402.8 732.3 339.5 733.9 407.1 735.4 403.5 737.0 404.6 738.6 404.9 740.2 412.5 741.8 405.4 743.4 410.2 745.0 410.3 746.6 418.5 748.1 408.6 749.7 410.1 751.3 409.6 752.9 408.5 754.5 411.8 756.1 289.1 757.7 403.8 759.3 405.8 760.8 403.1 762.4 413.0 764.0 409.0 765.6 408.6 767.2 410.9 768.8 404.3 770.4 396.7 772.0 414.9 773.6 405.6 775.1 406.9 776.7 406.2 778.3 403.9 779.9 401.6 781.5 403.7 783.1 401.6 784.7 396.6 786.3 402.9 787.8 400.6 789.4 400.4 791.0 391.1 792.6 366.7 794.2 351.5 795.8 375.2 797.4 370.9 799.0 377.7 800.5 395.9 802.1 397.0 803.7 398.4 805.3 390.5 806.9 393.6 808.5 393.6 810.1 392.9 811.7 395.2 813.2 392.4 814.8 392.5 816.4 371.6 818.0 387.7 819.6 400.8 821.2 399.7 822.8 401.7 824.4 400.2 825.9 389.4 827.5 402.7 829.1 412.0 830.7 409.0 832.3 412.3 833.9 403.9 835.5 410.7 837.1 411.0 838.6 397.2 840.2 391.5 841.8 401.8 843.4 408.8 845.0 404.4 846.6 406.2 848.2 403.5 849.8 411.8 851.3 411.6 852.9 408.2 854.5 412.2 856.1 352.1 857.7 315.5 859.3 339.8 860.9 344.6 862.5 352.8 864.0 413.2 865.6 414.0 867.2 400.9 868.8 402.9 870.4 412.9 872.0 417.7 873.6 407.4 875.2 411.4 876.7 413.2 878.3 402.5 879.9 407.7 881.5 409.3 883.1 416.4 884.7 385.5 886.3 383.3 887.9 391.5 889.4 395.3 891.0 407.7 892.6 397.1 894.2 402.5 895.8 405.7 897.4 412.4 899.0 397.2 900.6 403.5 902.2 403.9 903.7 408.8 905.3 404.7 906.9 403.9 908.5 402.6 910.1 414.9 911.7 418.9 913.3 406.5 914.9 417.7 916.4 420.8 918.0 426.1 919.6 424.9 921.2 421.9 922.8 418.9 924.4 427.8 926.0 430.6 927.6 429.1 929.1 428.2 930.7 429.3 932.3 430.6 933.9 429.1 935.5 435.5 937.1 428.4 938.7 401.8 940.3 412.9 941.8 422.0 943.4 420.9 945.0 428.2 946.6 422.5 948.2 423.3 949.8 427.3 951.4 425.7 953.0 421.6 954.5 426.6 956.1 429.4 957.7 429.8 959.3 429.6 960.9 433.0 962.5 429.5 964.1 431.8 965.7 430.3 967.2 415.7 968.8 421.6 970.4 429.0 972.0 431.9 973.6 428.9 975.2 427.4 976.8 431.0 978.4 435.9 979.9 428.2 981.5 433.3 983.1 424.5 984.7 427.9 986.3 424.9 987.9 425.9 989.5 432.0 991.1 408.9 992.6 420.7 994.2 427.8 995.8 435.4 997.4 438.2 999.0 443.8 1000.6 436.7 1002.2 432.3 1003.8 432.4 1005.3 424.6 1006.9 423.8 1008.5 427.2 1010.1 422.3 1011.7 416.9 1013.3 426.9 1014.9 409.1 1016.5 420.6 1018.1 406.0 1019.6 414.3 1021.2 422.5 1022.8 416.4 1024.4 423.8 1026.0 428.7 1027.6 430.7 1029.2 432.0 1030.8 445.3 1032.3 428.4 1033.9 435.5 1035.5 439.2 1037.1 437.0 1038.7 430.8 1040.3 436.8 1041.9 433.1 1043.5 437.1 1045.0 437.5 1046.6 438.9 1048.2 436.8 1049.8 440.3 1051.4 425.9 1053.0 434.4 1054.6 423.6 1056.2 434.7 1057.7 427.5 1059.3 410.8 1060.9 416.3 1062.5 428.9 1064.1 399.4 1065.7 405.7 1067.3 426.8 1068.9 421.4 1070.4 406.1 1072.0 411.8 1073.6 413.5 1075.2 409.8 1076.8 414.4 1078.4 424.8 1080.0 418.2 1081.6 436.5 1083.1 424.7 1084.7 431.8 1086.3 446.2 1087.9 399.1 1089.5 423.1 1091.1 343.7 1092.7 427.2 1094.3 436.2 1095.8 429.2 1097.4 434.3 1099.0 429.9 1100.6 427.5 1102.2 413.6 1103.8 430.0 1105.4 415.9 1107.0 427.4 1108.5 436.8 1110.1 422.3 1111.7 427.3 1113.3 414.9 1114.9 390.7 1116.5 395.8 1118.1 409.6 1119.7 410.2 1121.2 409.4 1122.8 424.5 1124.4 419.6 1126.0 394.1 1127.6 390.2 1129.2 414.0 1130.8 430.1 1132.4 420.3 1134.0 408.9 1135.5 429.3 1137.1 407.1 1138.7 413.1 1140.3 427.0 1141.9 435.8 1143.5 430.8 1145.1 432.8 1146.7 439.4 1148.2 432.4 1149.8 440.6 1151.4 443.8 1153.0 427.5 1154.6 430.6 1156.2 434.2 1157.8 435.2 1159.4 426.5 1160.9 431.0 1162.5 435.9 1164.1 424.2 1165.7 418.6 1167.3 426.8 1168.9 427.3 1170.5 420.8 1172.1 423.6 1173.6 430.0 1175.2 435.0 1176.8 432.1 1178.4 429.9 1180.0 444.4 1181.6 397.8 1183.2 423.0 1184.8 411.3 1186.3 405.9 1187.9 426.3 1189.5 425.3 1191.1 436.0 1192.7 431.5 1194.3 442.8 1195.9 441.2 1197.5 433.8 1199.0 434.7 1200.6 415.1 1202.2 428.0 1203.8 422.3 1205.4 414.8 1207.0 431.6 1208.6 427.4 1210.2 423.5 1211.7 422.1 1213.3 416.7 1214.9 385.0 1216.5 392.4 1218.1 390.5 1219.7 392.5 1221.3 385.9 1222.9 401.1 1224.4 406.5 1226.0 405.8 1227.6 398.1 1229.2 407.9 1230.8 396.8 1232.4 371.0 1234.0 400.8 1235.6 409.5 1237.1 399.7 1238.7 408.5 1240.3 404.0 1241.9 369.8 1243.5 386.6 1245.1 381.0 1246.7 395.7 1248.3 401.6 1249.8 390.2 1251.4 388.2 1253.0 400.5 1254.6 409.9 1256.2 383.4 1257.8 398.5 1259.4 398.3 1261.0 402.2 1262.6 384.5 1264.1 403.1 1265.7 386.3 1267.3 404.2 1268.9 396.4 1270.5 412.2 1272.1 413.6 1273.7 420.4 1275.3 408.5 1276.8 397.3 1278.4 399.9 1280.0 402.7 1281.6 391.7 1283.2 405.3 1284.8 408.2 1286.4 406.1 1288.0 344.3 1289.5 383.2 1291.1 406.0 1292.7 406.1 1294.3 409.5 1295.9 402.8 1297.5 404.4 1299.1 415.7 1300.7 402.8 1302.2 407.2 1303.8 412.0 1305.4 408.1 1307.0 401.4 1308.6 409.2 1310.2 403.4 1311.8 399.1 1313.4 406.9 1314.9 389.9 1316.5 403.9 1318.1 416.3 1319.7 411.5 1321.3 386.7 1322.9 413.9 1324.5 412.7 1326.1 417.6 1327.6 414.2 1329.2 411.1 1330.8 407.9 1332.4 418.1 1334.0 411.0 1335.6 392.8 1337.2 382.5 1338.8 411.3 1340.3 426.9 1341.9 433.0 1343.5 430.6 1345.1 439.1 1346.7 440.9 1348.3 435.7 1349.9 442.5 1351.5 426.5 1353.0 403.9 1354.6 430.5 1356.2 404.4 1357.8 422.2 1359.4 399.4 1361.0 406.5 1362.6 393.1 1364.2 412.6 1365.7 390.9 1367.3 419.3 1368.9 411.2 1370.5 414.9 1372.1 416.4 1373.7 407.1 1375.3 398.4 1376.9 404.1 1378.5 409.2 1380.0 421.6 1381.6 414.1 1383.2 437.1 1384.8 429.6 1386.4 427.6 1388.0 447.9 1389.6 425.8 1391.2 415.1 1392.7 404.2 1394.3 425.2 1395.9 406.5 1397.5 404.6 1399.1 432.5 1400.7 439.8 1402.3 435.3 1403.9 432.0 1405.4 425.2 1407.0 428.3 1408.6 435.8 1410.2 444.1 1411.8 404.8 1413.4 425.1 1415.0 437.1 1416.6 441.5 1418.1 430.4 1419.7 436.8 1421.3 406.1 1422.9 419.4 1424.5 395.5 1426.1 420.5 1427.7 414.0 1429.3 397.8 1430.8 419.3 1432.4 418.7 1434.0 435.5 1435.6 439.3 1437.2 451.0 1438.8 442.0 1440.4 430.8 1442.0 413.3 1443.5 393.6 1445.1 408.9 1446.7 418.3 1448.3 423.6 1449.9 425.1 1451.5 419.7 1453.1 428.7 1454.7 434.5 1456.2 305.3 1457.8 425.7 1459.4 416.1 1461.0 431.4 1462.6 437.3 1464.2 431.2 1465.8 437.2 1467.4 437.8 1468.9 418.0 1470.5 427.6 1472.1 412.8 1473.7 429.0 1475.3 429.8 1476.9 427.8 1478.5 429.8 1480.1 397.4 1481.6 416.8 1483.2 418.5 1484.8 423.8 1486.4 405.8 1488.0 388.3 1489.6 395.4 1491.2 423.4 1492.8 424.9 1494.4 411.8 1495.9 430.2 1497.5 413.2 1499.1 423.8 1500.7 410.5 1502.3 424.4 1503.9 419.6 1505.5 420.3 1507.1 421.5 1508.6 403.2 1510.2 426.6 1511.8 424.1 1513.4 404.3 1515.0 401.8 1516.6 405.3 1518.2 425.9 1519.8 397.4 1521.3 416.8 1522.9 399.5 1524.5 414.4 1526.1 421.3 1527.7 428.7 1529.3 421.4 1530.9 421.6 1532.5 415.0 1534.0 420.4 1535.6 417.2 1537.2 407.4 1538.8 422.9 1540.4 419.8 1542.0 422.7 1543.6 435.4 1545.2 424.9 1546.7 430.9 1548.3 437.5 1549.9 391.0 1551.5 410.1 1553.1 438.7 1554.7 429.8 1556.3 430.2 1557.9 391.0 1559.4 391.6 1561.0 422.7 1562.6 443.2 1564.2 435.0 1565.8 437.7 1567.4 433.0 1569.0 439.6 1570.6 430.1 1572.1 434.7 1573.7 422.2 1575.3 415.1 1576.9 416.3 1578.5 415.1 1580.1 406.8 1581.7 421.5 1583.3 418.8 1584.8 422.5 1586.4 387.4 1588.0 412.6 1589.6 407.3 1591.2 423.9 1592.8 402.9 1594.4 409.6 1596.0 413.3 1597.5 411.9 1599.1 428.1 1600.7 426.3 1602.3 427.1 1603.9 433.6 1605.5 439.2 1607.1 427.8 1608.7 434.6 1610.3 434.7 1611.8 431.4 1613.4 407.6 1615.0 405.9 1616.6 416.3 1618.2 425.9 1619.8 436.4 1621.4 433.3 1623.0 435.7 1624.5 437.9 1626.1 423.7 1627.7 405.0 1629.3 408.9 1630.9 427.4 1632.5 427.6 1634.1 430.4 1635.7 439.1 1637.2 436.2 1638.8 425.3 1640.4 411.0 1642.0 422.3 1643.6 421.6 1645.2 428.0 1646.8 423.4 1648.4 410.0 1649.9 427.6 1651.5 426.2 1653.1 438.7 1654.7 440.1 1656.3 423.0 1657.9 427.1 1659.5 437.8 1661.1 437.0 1662.6 388.0 1664.2 418.7 1665.8 425.0 1667.4 404.8 1669.0 404.5 1670.6 424.5 1672.2 425.5 1673.8 425.3 1675.3 435.8 1676.9 446.0 1678.5 421.6 1680.1 427.3 1681.7 424.4 1683.3 432.4 1684.9 434.0 1686.5 425.9 1688.0 400.9 1689.6 425.7 1691.2 439.0 1692.8 406.6 1694.4 416.9 1696.0 392.7 1697.6 417.1 1699.2 433.3 1700.7 435.9 1702.3 401.7 1703.9 427.8 1705.5 436.5 1707.1 438.1 1708.7 440.3 1710.3 448.8 1711.9 426.7 1713.4 448.1 1715.0 431.1 1716.6 443.0 1718.2 425.8 1719.8 441.6 1721.4 427.9 1723.0 437.3 1724.6 434.2 1726.2 445.8 1727.7 440.3 1729.3 441.0 1730.9 410.0 1732.5 432.0 1734.1 427.5 1735.7 446.8 1737.3 448.4 1738.9 446.5 1740.4 415.3 1742.0 434.3 1743.6 436.6 1745.2 435.2 1746.8 429.2 1748.4 428.3 1750.0 427.6 1751.6 424.5 1753.1 418.0 1754.7 424.2 1756.3 415.4 1757.9 424.4 1759.5 427.1 1761.1 430.1 1762.7 421.0 1764.3 418.6 1765.8 411.8 1767.4 422.0 1769.0 420.0 1770.6 421.8 1772.2 416.4 1773.8 405.4 1775.4 421.1 1777.0 431.1 1778.5 419.1 1780.1 428.6 1781.7 431.5 1783.3 434.4 1784.9 435.5 1786.5 430.1 1788.1 431.5 1789.7 428.9 1791.2 425.4 1792.8 430.6 1794.4 429.8 1796.0 432.7 1797.6 434.4 1799.2 437.0 1800.8 433.3 1802.4 428.5 1803.9 431.7 1805.5 429.3 1807.1 431.2 1808.7 423.6 1810.3 427.0 1811.9 434.4 1813.5 432.5 1815.1 427.4 1816.6 430.5 1818.2 429.6 1819.8 428.0 1821.4 428.7 1823.0 432.0 1824.6 422.4 1826.2 430.3 1827.8 435.6 1829.3 430.5 1830.9 429.5 1832.5 422.7 1834.1 428.3 1835.7 431.2 1837.3 410.6 1838.9 423.5 1840.5 428.0 1842.0 426.7 1843.6 431.3 1845.2 431.3 1846.8 428.3 1848.4 426.5 1850.0 424.4 1851.6 419.8 1853.2 422.5 1854.8 424.8 1856.3 424.9 1857.9 425.2 1859.5 421.8 1861.1 419.6 1862.7 416.1 1864.3 418.4 1865.9 419.8 1867.5 420.5 1869.0 415.1 1870.6 400.7 1872.2 399.6 1873.8 404.5 1875.4 408.0 1877.0 406.7 1878.6 408.7 1880.2 410.7 1881.7 412.8 1883.3 413.6 1884.9 414.8 1886.5 409.7 1888.1 411.6 1889.7 407.5 1891.3 407.0 1892.9 404.9 1894.4 399.8 1896.0 410.8 1897.6 407.7 1899.2 413.8 1900.8 413.0 1902.4 412.6 1904.0 414.2 1905.6 412.4 1907.1 414.3 1908.7 422.7 1910.3 423.4 1911.9 410.1 1913.5 409.0 1915.1 392.5 1916.7 420.5 1918.3 379.8 1919.8 400.8 1921.4 410.8 1923.0 420.2 1924.6 413.6 1926.2 397.0 1927.8 420.6 1929.4 398.4 1931.0 396.4 1932.5 388.9 1934.1 400.3 1935.7 417.0 1937.3 382.1 1938.9 390.5 1940.5 406.8 1942.1 408.5 1943.7 409.0 1945.2 410.4 1946.8 405.6 1948.4 416.1 1950.0 403.1 1951.6 402.5 1953.2 395.7 1954.8 384.8 1956.4 419.6 1957.9 379.0 1959.5 410.4 1961.1 398.5 1962.7 413.5 1964.3 409.6 1965.9 415.8 1967.5 413.7 1969.1 414.4 1970.7 409.5 1972.2 403.2 1973.8 412.7 1975.4 414.0 1977.0 415.2 1978.6 415.6 1980.2 406.2 1981.8 397.7 1983.4 357.5 1984.9 376.9 1986.5 351.0 1988.1 358.5 1989.7 387.5 1991.3 395.8 1992.9 402.4 1994.5 397.5 1996.1 363.3 1997.6 387.0 1999.2 402.8 2000.8 372.6 2002.4 395.5 2004.0 398.5 2005.6 413.5 2007.2 405.5 2008.8 389.7 2010.3 404.1 2011.9 405.6 2013.5 422.1 2015.1 408.3 2016.7 414.5 2018.3 417.3 2019.9 396.9 2021.5 383.9 2023.0 404.7 2024.6 403.9 2026.2 395.9 2027.8 419.0 2029.4 412.9 2031.0 423.6 2032.6 412.6 2034.2 402.7 2035.7 417.1 2037.3 422.5 2038.9 417.7 2040.5 408.8 2042.1 419.8 2043.7 422.5 2045.3 394.0 2046.9 413.3 2048.4 410.7 2050.0 420.7 2051.6 425.4 2053.2 409.4 2054.8 406.0 2056.4 420.7 2058.0 393.7 2059.6 400.1 2061.1 404.7 2062.7 408.9 2064.3 416.0 2065.9 396.1 2067.5 405.5 2069.1 402.1 2070.7 405.0 2072.3 409.0 2073.8 372.5 2075.4 399.0 2077.0 408.1 2078.6 403.6 2080.2 413.8 2081.8 401.8 2083.4 381.0 2085.0 412.1 2086.6 405.1 2088.1 419.8 2089.7 416.7 2091.3 409.0 2092.9 412.5 2094.5 366.2 2096.1 383.0 2097.7 409.2 2099.3 410.4 2100.8 400.5 2102.4 407.7 2104.0 421.4 2105.6 429.3 2107.2 418.5 2108.8 429.5 2110.4 431.0 2112.0 421.9 2113.5 418.4 2115.1 388.0 2116.7 409.9 2118.3 395.8 2119.9 414.3 2121.5 411.4 2123.1 359.9 2124.7 398.1 2126.2 390.3 2127.8 395.4 2129.4 405.0 2131.0 402.4 2132.6 401.6 2134.2 414.5 2135.8 414.7 2137.4 410.2 2138.9 418.7 2140.5 410.0 2142.1 415.1 2143.7 410.6 2145.3 412.3 2146.9 408.0 2148.5 415.3 2150.1 393.5 2151.6 399.8 2153.2 395.6 2154.8 402.3 2156.4 382.4 2158.0 414.8 2159.6 413.8 2161.2 419.7 2162.8 417.6 2164.3 372.7 2165.9 397.4 2167.5 412.9 2169.1 419.3 2170.7 433.2 2172.3 419.2 2173.9 422.9 2175.5 425.0 2177.0 419.7 2178.6 400.4 2180.2 351.5 2181.8 413.6 2183.4 399.5 2185.0 404.8 2186.6 393.0 2188.2 388.9 2189.7 382.1 2191.3 411.8 2192.9 418.6 2194.5 412.8 2196.1 405.5 2197.7 415.7 2199.3 413.0 2200.9 335.0 2202.4 417.6 2204.0 395.3 2205.6 399.4 2207.2 412.4 2208.8 420.2 2210.4 408.0 2212.0 413.5 2213.6 408.5 2215.2 414.1 2216.7 413.8 2218.3 417.8 2219.9 415.9 2221.5 418.0 2223.1 418.2 2224.7 415.4 2226.3 422.0 2227.9 418.7 2229.4 417.0 2231.0 415.4 2232.6 414.1 2234.2 414.9 2235.8 414.8 2237.4 413.3 2239.0 414.9 2240.6 416.9 2242.1 414.9 2243.7 419.3 2245.3 421.2 2246.9 417.9 2248.5 414.9 2250.1 413.9 2251.7 410.3 2253.3 409.5 2254.8 403.9 2256.4 406.9 2258.0 407.2 2259.6 403.2 2261.2 398.9 2262.8 399.6 2264.4 389.5 2266.0 387.6 2267.5 389.7 2269.1 385.4 2270.7 386.0 2272.3 382.1 2273.9 387.0 2275.5 388.8 2277.1 389.4 2278.7 387.4 2280.2 388.3 2281.8 388.8 2283.4 388.2 2285.0 390.9 2286.6 389.6 2288.2 389.4 2289.8 381.9 2291.4 390.9 2292.9 390.8 2294.5 389.8 2296.1 382.8 2297.7 390.4 2299.3 389.4 2300.9 387.5 2302.5 394.3 2304.1 387.9 2305.6 389.7 2307.2 385.9 2308.8 386.7 2310.4 385.6 2312.0 385.6 2313.6 390.6 2315.2 391.2 2316.8 390.0 2318.3 386.6 2319.9 387.7 2321.5 386.0 2323.1 384.8 2324.7 383.4 2326.3 388.3 2327.9 388.6 2329.5 412.2 2331.1 412.4 2332.6 411.4 2334.2 410.3 2335.8 415.6 2337.4 411.0 2339.0 410.7 2340.6 411.7 2342.2 421.4 2343.8 418.7 2345.3 413.8" stroke="#da70d6" stroke-width="1.3" fill="none" stroke-linejoin="round"/><path d="M59.1 473.1 60.7 468.2 62.3 464.9 63.9 465.2 65.5 468.6 67.0 469.5 68.6 471.0 70.2 468.2 71.8 467.3 73.4 464.3 75.0 466.9 76.6 465.9 78.2 468.8 79.7 471.6 81.3 471.1 82.9 472.8 84.5 473.3 86.1 469.1 87.7 467.3 89.3 470.4 90.9 471.7 92.4 470.3 94.0 471.7 95.6 468.5 97.2 470.2 98.8 473.7 100.4 473.9 102.0 470.6 103.6 464.9 105.1 466.8 106.7 472.3 108.3 472.8 109.9 469.8 111.5 469.2 113.1 467.8 114.7 462.0 116.3 467.7 117.8 469.7 119.4 467.9 121.0 466.8 122.6 465.9 124.2 464.2 125.8 465.8 127.4 463.8 129.0 465.4 130.5 465.3 132.1 470.2 133.7 469.7 135.3 466.2 136.9 463.3 138.5 465.3 140.1 465.8 141.7 466.5 143.2 460.5 144.8 466.7 146.4 464.7 148.0 464.6 149.6 461.1 151.2 461.8 152.8 464.9 154.4 463.2 155.9 460.6 157.5 463.5 159.1 467.7 160.7 468.4 162.3 465.9 163.9 468.0 165.5 466.1 167.1 462.9 168.6 464.4 170.2 460.0 171.8 464.7 173.4 469.6 175.0 468.2 176.6 465.8 178.2 471.2 179.8 468.2 181.4 463.7 182.9 465.6 184.5 462.0 186.1 469.2 187.7 466.5 189.3 471.2 190.9 473.3 192.5 473.6 194.1 467.1 195.6 466.5 197.2 463.5 198.8 468.3 200.4 472.4 202.0 466.5 203.6 469.3 205.2 472.9 206.8 468.5 208.3 466.1 209.9 470.1 211.5 469.4 213.1 468.2 214.7 467.8 216.3 470.9 217.9 469.3 219.5 464.7 221.0 469.4 222.6 466.2 224.2 465.3 225.8 465.6 227.4 466.7 229.0 468.7 230.6 465.3 232.2 465.9 233.7 472.3 235.3 467.3 236.9 468.3 238.5 467.0 240.1 455.9 241.7 460.5 243.3 469.3 244.9 468.4 246.4 469.8 248.0 464.8 249.6 474.4 251.2 467.8 252.8 466.5 254.4 467.1 256.0 462.5 257.6 459.5 259.1 468.9 260.7 469.6 262.3 468.8 263.9 468.8 265.5 469.6 267.1 467.6 268.7 467.6 270.3 469.0 271.8 473.3 273.4 468.2 275.0 464.7 276.6 464.5 278.2 466.9 279.8 466.2 281.4 472.3 283.0 468.5 284.5 467.4 286.1 467.2 287.7 463.0 289.3 461.7 290.9 464.5 292.5 463.0 294.1 469.5 295.7 469.8 297.2 464.7 298.8 462.0 300.4 466.1 302.0 464.8 303.6 459.7 305.2 463.8 306.8 463.1 308.4 465.4 310.0 458.5 311.5 462.0 313.1 463.8 314.7 464.3 316.3 467.5 317.9 459.6 319.5 460.4 321.1 458.4 322.7 469.3 324.2 466.1 325.8 467.7 327.4 470.7 329.0 468.1 330.6 462.5 332.2 461.5 333.8 466.1 335.4 457.2 336.9 460.1 338.5 464.4 340.1 468.7 341.7 468.9 343.3 467.8 344.9 468.2 346.5 468.4 348.1 463.8 349.6 466.1 351.2 464.9 352.8 466.7 354.4 466.4 356.0 462.3 357.6 464.0 359.2 462.6 360.8 464.4 362.3 462.0 363.9 464.6 365.5 462.6 367.1 468.8 368.7 464.8 370.3 465.2 371.9 468.8 373.5 469.3 375.0 473.0 376.6 469.5 378.2 465.6 379.8 467.5 381.4 464.2 383.0 472.0 384.6 465.9 386.2 470.3 387.7 468.1 389.3 465.2 390.9 466.3 392.5 462.4 394.1 464.0 395.7 466.6 397.3 466.3 398.9 469.0 400.4 467.8 402.0 464.7 403.6 460.1 405.2 463.3 406.8 464.3 408.4 466.4 410.0 466.5 411.6 462.6 413.1 460.5 414.7 458.7 416.3 459.4 417.9 455.3 419.5 461.0 421.1 457.9 422.7 454.1 424.3 454.8 425.9 452.8 427.4 454.1 429.0 455.0 430.6 453.9 432.2 456.0 433.8 455.3 435.4 453.3 437.0 402.5 438.6 454.4 440.1 451.9 441.7 449.6 443.3 455.6 444.9 454.6 446.5 463.7 448.1 466.8 449.7 463.2 451.3 464.8 452.8 464.7 454.4 464.5 456.0 462.2 457.6 462.9 459.2 461.6 460.8 462.5 462.4 465.4 464.0 465.7 465.5 462.1 467.1 460.8 468.7 462.3 470.3 463.6 471.9 463.9 473.5 465.8 475.1 462.0 476.7 461.1 478.2 457.0 479.8 457.0 481.4 458.7 483.0 454.9 484.6 457.1 486.2 457.7 487.8 455.7 489.4 454.7 490.9 454.6 492.5 451.5 494.1 450.7 495.7 451.4 497.3 452.9 498.9 452.5 500.5 457.7 502.1 452.1 503.6 457.7 505.2 460.0 506.8 462.0 508.4 459.4 510.0 459.9 511.6 457.5 513.2 460.2 514.8 453.4 516.3 447.0 517.9 456.8 519.5 455.0 521.1 460.5 522.7 459.6 524.3 457.5 525.9 459.3 527.5 465.1 529.0 466.5 530.6 460.6 532.2 460.2 533.8 457.9 535.4 356.9 537.0 458.5 538.6 457.0 540.2 459.0 541.8 453.1 543.3 457.9 544.9 458.6 546.5 461.8 548.1 460.5 549.7 459.6 551.3 461.1 552.9 419.4 554.5 418.8 556.0 419.7 557.6 423.4 559.2 416.5 560.8 416.2 562.4 414.7 564.0 417.0 565.6 410.9 567.2 410.2 568.7 405.4 570.3 404.8 571.9 408.8 573.5 414.8 575.1 420.7 576.7 415.6 578.3 415.8 579.9 414.1 581.4 412.0 583.0 415.2 584.6 418.5 586.2 415.9 587.8 418.0 589.4 421.1 591.0 419.7 592.6 421.9 594.1 421.4 595.7 424.6 597.3 422.3 598.9 421.1 600.5 419.3 602.1 419.7 603.7 415.8 605.3 419.3 606.8 415.3 608.4 406.4 610.0 412.1 611.6 415.4 613.2 419.8 614.8 419.1 616.4 418.4 618.0 418.9 619.5 414.5 621.1 416.0 622.7 418.0 624.3 424.6 625.9 461.5 627.5 458.8 629.1 451.2 630.7 451.2 632.2 454.9 633.8 457.6 635.4 448.5 637.0 451.1 638.6 451.8 640.2 453.4 641.8 457.3 643.4 457.9 644.9 459.8 646.5 461.0 648.1 461.2 649.7 457.8 651.3 459.6 652.9 459.2 654.5 464.3 656.1 462.3 657.7 463.2 659.2 456.9 660.8 458.0 662.4 462.6 664.0 456.0 665.6 455.7 667.2 454.9 668.8 458.0 670.4 461.5 671.9 461.6 673.5 460.8 675.1 453.7 676.7 459.4 678.3 459.8 679.9 458.9 681.5 459.1 683.1 458.4 684.6 455.7 686.2 458.3 687.8 452.1 689.4 450.8 691.0 454.2 692.6 452.5 694.2 454.5 695.8 457.2 697.3 460.5 698.9 400.1 700.5 456.7 702.1 456.0 703.7 452.1 705.3 450.6 706.9 452.0 708.5 454.7 710.0 451.0 711.6 454.8 713.2 460.7 714.8 459.5 716.4 457.3 718.0 456.2 719.6 455.3 721.2 453.9 722.7 463.0 724.3 452.6 725.9 453.3 727.5 380.9 729.1 458.7 730.7 454.5 732.3 370.7 733.9 462.5 735.4 456.5 737.0 454.1 738.6 455.2 740.2 458.5 741.8 456.3 743.4 456.8 745.0 455.1 746.6 453.3 748.1 457.3 749.7 448.9 751.3 453.6 752.9 451.1 754.5 453.2 756.1 324.5 757.7 450.3 759.3 453.1 760.8 455.0 762.4 455.4 764.0 450.9 765.6 463.7 767.2 459.2 768.8 459.1 770.4 456.3 772.0 458.7 773.6 459.3 775.1 457.3 776.7 458.0 778.3 460.5 779.9 458.7 781.5 452.6 783.1 453.7 784.7 462.5 786.3 458.4 787.8 457.1 789.4 449.5 791.0 451.0 792.6 441.9 794.2 432.5 795.8 445.2 797.4 446.9 799.0 451.0 800.5 448.9 802.1 454.5 803.7 453.7 805.3 455.5 806.9 454.2 808.5 451.6 810.1 451.7 811.7 450.8 813.2 457.1 814.8 456.5 816.4 452.4 818.0 465.5 819.6 459.7 821.2 459.5 822.8 461.9 824.4 458.3 825.9 456.8 827.5 468.0 829.1 465.3 830.7 459.1 832.3 461.8 833.9 461.1 835.5 468.0 837.1 470.1 838.6 467.3 840.2 456.7 841.8 457.9 843.4 469.0 845.0 463.1 846.6 469.3 848.2 469.8 849.8 466.0 851.3 466.3 852.9 464.5 854.5 463.0 856.1 355.8 857.7 355.7 859.3 359.5 860.9 361.8 862.5 353.3 864.0 457.1 865.6 457.0 867.2 455.0 868.8 458.8 870.4 457.5 872.0 461.5 873.6 467.4 875.2 469.8 876.7 458.1 878.3 464.0 879.9 467.0 881.5 468.5 883.1 464.6 884.7 462.4 886.3 458.3 887.9 458.6 889.4 463.0 891.0 461.4 892.6 458.1 894.2 459.7 895.8 460.5 897.4 459.5 899.0 460.8 900.6 462.4 902.2 463.1 903.7 459.2 905.3 465.0 906.9 465.9 908.5 461.8 910.1 460.3 911.7 464.9 913.3 468.2 914.9 476.8 916.4 475.7 918.0 476.8 919.6 475.8 921.2 475.1 922.8 479.1 924.4 480.0 926.0 478.8 927.6 478.9 929.1 483.6 930.7 484.6 932.3 482.2 933.9 476.7 935.5 471.7 937.1 476.6 938.7 473.9 940.3 477.0 941.8 479.5 943.4 482.8 945.0 490.8 946.6 483.1 948.2 482.1 949.8 480.2 951.4 482.7 953.0 481.9 954.5 480.3 956.1 484.7 957.7 485.0 959.3 481.5 960.9 480.0 962.5 487.9 964.1 483.1 965.7 479.9 967.2 477.9 968.8 480.8 970.4 482.6 972.0 482.1 973.6 484.0 975.2 477.9 976.8 481.9 978.4 488.6 979.9 484.9 981.5 482.1 983.1 479.1 984.7 484.7 986.3 481.0 987.9 489.6 989.5 478.0 991.1 475.5 992.6 485.0 994.2 493.1 995.8 484.1 997.4 487.5 999.0 492.8 1000.6 486.3 1002.2 481.3 1003.8 480.0 1005.3 476.9 1006.9 474.5 1008.5 477.9 1010.1 476.1 1011.7 474.9 1013.3 477.1 1014.9 471.3 1016.5 469.6 1018.1 474.2 1019.6 468.1 1021.2 470.3 1022.8 469.4 1024.4 477.5 1026.0 481.1 1027.6 481.9 1029.2 485.7 1030.8 487.5 1032.3 491.3 1033.9 483.2 1035.5 483.5 1037.1 480.1 1038.7 474.0 1040.3 479.7 1041.9 475.6 1043.5 487.9 1045.0 486.2 1046.6 486.1 1048.2 484.5 1049.8 487.4 1051.4 481.2 1053.0 473.6 1054.6 475.2 1056.2 474.3 1057.7 484.8 1059.3 479.9 1060.9 479.8 1062.5 483.4 1064.1 475.8 1065.7 480.2 1067.3 479.2 1068.9 484.0 1070.4 475.2 1072.0 473.3 1073.6 475.7 1075.2 471.8 1076.8 478.1 1078.4 477.3 1080.0 485.5 1081.6 480.1 1083.1 475.1 1084.7 480.0 1086.3 475.4 1087.9 475.4 1089.5 477.3 1091.1 398.9 1092.7 479.6 1094.3 480.0 1095.8 471.2 1097.4 472.5 1099.0 476.9 1100.6 476.7 1102.2 478.3 1103.8 480.7 1105.4 478.0 1107.0 483.1 1108.5 487.3 1110.1 483.1 1111.7 480.7 1113.3 468.3 1114.9 471.4 1116.5 467.2 1118.1 464.7 1119.7 466.9 1121.2 472.7 1122.8 476.5 1124.4 472.5 1126.0 466.3 1127.6 470.3 1129.2 474.2 1130.8 475.5 1132.4 469.8 1134.0 483.4 1135.5 482.0 1137.1 469.6 1138.7 482.9 1140.3 483.1 1141.9 478.5 1143.5 485.4 1145.1 485.2 1146.7 486.6 1148.2 483.1 1149.8 485.3 1151.4 488.0 1153.0 481.0 1154.6 481.9 1156.2 479.4 1157.8 483.4 1159.4 485.9 1160.9 488.6 1162.5 482.7 1164.1 480.2 1165.7 487.5 1167.3 495.6 1168.9 480.0 1170.5 491.1 1172.1 495.2 1173.6 492.1 1175.2 481.0 1176.8 479.9 1178.4 485.1 1180.0 482.7 1181.6 478.8 1183.2 476.2 1184.8 481.2 1186.3 466.6 1187.9 471.4 1189.5 478.2 1191.1 488.5 1192.7 483.9 1194.3 485.0 1195.9 491.0 1197.5 491.5 1199.0 487.8 1200.6 481.0 1202.2 479.2 1203.8 480.3 1205.4 481.4 1207.0 484.8 1208.6 477.7 1210.2 486.8 1211.7 492.3 1213.3 489.2 1214.9 485.8 1216.5 484.5 1218.1 481.0 1219.7 478.6 1221.3 479.2 1222.9 487.6 1224.4 477.9 1226.0 475.5 1227.6 467.2 1229.2 466.8 1230.8 470.0 1232.4 468.3 1234.0 476.1 1235.6 479.5 1237.1 478.7 1238.7 479.8 1240.3 489.3 1241.9 474.2 1243.5 479.0 1245.1 480.6 1246.7 489.8 1248.3 488.0 1249.8 488.2 1251.4 487.7 1253.0 483.3 1254.6 484.4 1256.2 476.9 1257.8 475.1 1259.4 474.0 1261.0 482.4 1262.6 485.6 1264.1 481.6 1265.7 475.5 1267.3 481.7 1268.9 420.7 1270.5 425.1 1272.1 424.3 1273.7 423.2 1275.3 421.3 1276.8 418.5 1278.4 420.9 1280.0 416.0 1281.6 420.6 1283.2 415.7 1284.8 413.2 1286.4 415.5 1288.0 395.4 1289.5 407.9 1291.1 415.8 1292.7 420.4 1294.3 419.4 1295.9 417.4 1297.5 423.9 1299.1 420.8 1300.7 416.4 1302.2 411.9 1303.8 414.6 1305.4 419.9 1307.0 424.4 1308.6 421.8 1310.2 418.7 1311.8 411.5 1313.4 421.5 1314.9 419.9 1316.5 426.5 1318.1 424.2 1319.7 420.4 1321.3 423.7 1322.9 426.1 1324.5 429.4 1326.1 422.7 1327.6 430.1 1329.2 424.8 1330.8 425.4 1332.4 432.8 1334.0 432.5 1335.6 468.2 1337.2 464.6 1338.8 471.7 1340.3 469.5 1341.9 477.4 1343.5 484.9 1345.1 488.1 1346.7 486.7 1348.3 481.2 1349.9 484.0 1351.5 476.3 1353.0 469.7 1354.6 473.4 1356.2 467.4 1357.8 473.9 1359.4 465.9 1361.0 465.6 1362.6 464.5 1364.2 473.8 1365.7 469.8 1367.3 473.3 1368.9 474.9 1370.5 476.0 1372.1 467.8 1373.7 479.8 1375.3 480.0 1376.9 470.7 1378.5 476.2 1380.0 477.7 1381.6 479.0 1383.2 481.3 1384.8 481.1 1386.4 482.7 1388.0 479.7 1389.6 474.7 1391.2 471.3 1392.7 471.2 1394.3 475.0 1395.9 475.0 1397.5 484.9 1399.1 483.7 1400.7 486.7 1402.3 487.4 1403.9 487.5 1405.4 486.9 1407.0 487.3 1408.6 488.9 1410.2 495.0 1411.8 485.7 1413.4 489.7 1415.0 497.3 1416.6 497.3 1418.1 491.5 1419.7 479.5 1421.3 464.5 1422.9 458.9 1424.5 466.3 1426.1 466.8 1427.7 480.1 1429.3 475.2 1430.8 481.5 1432.4 486.0 1434.0 487.0 1435.6 490.8 1437.2 497.1 1438.8 486.6 1440.4 485.9 1442.0 476.0 1443.5 474.6 1445.1 478.9 1446.7 482.1 1448.3 482.8 1449.9 478.9 1451.5 476.9 1453.1 484.7 1454.7 481.4 1456.2 316.7 1457.8 482.6 1459.4 479.6 1461.0 482.6 1462.6 479.8 1464.2 482.5 1465.8 481.8 1467.4 495.5 1468.9 489.4 1470.5 484.9 1472.1 479.0 1473.7 481.8 1475.3 487.1 1476.9 482.7 1478.5 488.0 1480.1 481.0 1481.6 477.2 1483.2 477.3 1484.8 478.6 1486.4 486.7 1488.0 484.5 1489.6 483.6 1491.2 481.0 1492.8 479.7 1494.4 478.7 1495.9 468.2 1497.5 465.7 1499.1 471.5 1500.7 475.9 1502.3 479.0 1503.9 477.3 1505.5 476.5 1507.1 473.2 1508.6 477.3 1510.2 475.1 1511.8 477.0 1513.4 478.6 1515.0 461.8 1516.6 471.9 1518.2 479.5 1519.8 474.1 1521.3 475.4 1522.9 469.8 1524.5 466.1 1526.1 467.7 1527.7 470.9 1529.3 474.7 1530.9 468.6 1532.5 477.3 1534.0 473.7 1535.6 472.2 1537.2 480.6 1538.8 479.0 1540.4 469.9 1542.0 480.0 1543.6 490.7 1545.2 493.8 1546.7 489.1 1548.3 484.3 1549.9 471.8 1551.5 480.3 1553.1 488.6 1554.7 489.2 1556.3 483.8 1557.9 476.7 1559.4 478.8 1561.0 479.2 1562.6 477.8 1564.2 481.1 1565.8 482.0 1567.4 488.8 1569.0 486.4 1570.6 490.1 1572.1 490.3 1573.7 481.1 1575.3 478.1 1576.9 477.9 1578.5 481.6 1580.1 475.5 1581.7 465.9 1583.3 471.0 1584.8 474.8 1586.4 465.0 1588.0 463.1 1589.6 468.0 1591.2 466.6 1592.8 467.8 1594.4 468.2 1596.0 469.0 1597.5 467.7 1599.1 475.7 1600.7 477.5 1602.3 480.5 1603.9 485.7 1605.5 492.1 1607.1 486.0 1608.7 487.2 1610.3 491.3 1611.8 483.6 1613.4 486.4 1615.0 481.4 1616.6 493.8 1618.2 490.2 1619.8 482.7 1621.4 487.7 1623.0 484.9 1624.5 490.4 1626.1 493.6 1627.7 484.4 1629.3 483.9 1630.9 482.6 1632.5 479.7 1634.1 480.7 1635.7 485.8 1637.2 496.0 1638.8 495.6 1640.4 481.2 1642.0 489.2 1643.6 483.7 1645.2 481.3 1646.8 487.5 1648.4 483.8 1649.9 485.4 1651.5 481.9 1653.1 485.2 1654.7 487.5 1656.3 487.5 1657.9 495.3 1659.5 484.5 1661.1 490.5 1662.6 476.7 1664.2 482.2 1665.8 484.4 1667.4 480.0 1669.0 473.3 1670.6 478.2 1672.2 482.4 1673.8 484.9 1675.3 482.9 1676.9 488.6 1678.5 479.0 1680.1 474.4 1681.7 473.1 1683.3 475.2 1684.9 484.4 1686.5 479.0 1688.0 471.3 1689.6 469.6 1691.2 476.5 1692.8 468.9 1694.4 467.9 1696.0 465.5 1697.6 468.9 1699.2 474.9 1700.7 488.5 1702.3 477.6 1703.9 482.6 1705.5 489.9 1707.1 495.8 1708.7 491.1 1710.3 494.0 1711.9 493.8 1713.4 493.0 1715.0 489.1 1716.6 483.9 1718.2 480.8 1719.8 480.5 1721.4 485.1 1723.0 487.1 1724.6 485.8 1726.2 482.6 1727.7 486.3 1729.3 492.3 1730.9 479.7 1732.5 481.3 1734.1 486.7 1735.7 482.0 1737.3 485.3 1738.9 484.3 1740.4 478.9 1742.0 475.1 1743.6 483.6 1745.2 478.5 1746.8 474.1 1748.4 474.7 1750.0 469.5 1751.6 473.1 1753.1 481.0 1754.7 484.9 1756.3 483.6 1757.9 484.4 1759.5 477.0 1761.1 474.5 1762.7 478.2 1764.3 469.6 1765.8 471.6 1767.4 480.5 1769.0 486.1 1770.6 482.3 1772.2 476.3 1773.8 475.9 1775.4 474.3 1777.0 471.4 1778.5 472.9 1780.1 476.8 1781.7 482.7 1783.3 483.4 1784.9 477.9 1786.5 479.5 1788.1 483.1 1789.7 482.8 1791.2 482.6 1792.8 478.9 1794.4 482.9 1796.0 477.6 1797.6 480.0 1799.2 480.3 1800.8 484.5 1802.4 482.1 1803.9 482.2 1805.5 481.3 1807.1 485.7 1808.7 484.0 1810.3 488.0 1811.9 487.6 1813.5 477.3 1815.1 481.9 1816.6 484.8 1818.2 481.1 1819.8 482.9 1821.4 474.8 1823.0 479.0 1824.6 478.5 1826.2 481.0 1827.8 477.4 1829.3 478.9 1830.9 471.0 1832.5 477.9 1834.1 477.2 1835.7 476.4 1837.3 477.0 1838.9 480.1 1840.5 482.4 1842.0 485.4 1843.6 480.1 1845.2 487.2 1846.8 485.0 1848.4 483.7 1850.0 478.8 1851.6 476.0 1853.2 473.1 1854.8 471.0 1856.3 472.8 1857.9 476.3 1859.5 472.2 1861.1 474.7 1862.7 474.3 1864.3 472.8 1865.9 467.6 1867.5 460.8 1869.0 460.6 1870.6 461.8 1872.2 458.2 1873.8 454.1 1875.4 459.0 1877.0 457.6 1878.6 459.4 1880.2 461.1 1881.7 460.3 1883.3 460.5 1884.9 462.3 1886.5 460.3 1888.1 463.0 1889.7 461.1 1891.3 459.4 1892.9 460.8 1894.4 463.3 1896.0 465.0 1897.6 462.5 1899.2 460.2 1900.8 459.8 1902.4 459.3 1904.0 455.5 1905.6 462.2 1907.1 458.3 1908.7 464.6 1910.3 456.5 1911.9 457.0 1913.5 462.5 1915.1 461.0 1916.7 458.7 1918.3 455.3 1919.8 457.8 1921.4 457.8 1923.0 453.6 1924.6 461.8 1926.2 456.1 1927.8 464.8 1929.4 459.4 1931.0 455.6 1932.5 452.3 1934.1 462.2 1935.7 456.4 1937.3 451.2 1938.9 456.8 1940.5 462.1 1942.1 475.1 1943.7 469.5 1945.2 463.3 1946.8 462.1 1948.4 461.7 1950.0 464.5 1951.6 458.8 1953.2 465.5 1954.8 461.4 1956.4 466.4 1957.9 454.8 1959.5 455.7 1961.1 451.1 1962.7 454.4 1964.3 455.1 1965.9 464.1 1967.5 462.2 1969.1 470.7 1970.7 461.5 1972.2 467.5 1973.8 458.1 1975.4 457.7 1977.0 458.8 1978.6 460.2 1980.2 453.3 1981.8 452.0 1983.4 430.1 1984.9 440.6 1986.5 439.9 1988.1 435.8 1989.7 447.2 1991.3 454.1 1992.9 441.9 1994.5 439.7 1996.1 433.6 1997.6 440.7 1999.2 443.9 2000.8 441.8 2002.4 437.8 2004.0 444.1 2005.6 450.5 2007.2 454.5 2008.8 452.0 2010.3 450.7 2011.9 455.3 2013.5 457.4 2015.1 452.9 2016.7 453.1 2018.3 453.7 2019.9 444.8 2021.5 449.2 2023.0 459.4 2024.6 466.2 2026.2 462.2 2027.8 459.0 2029.4 454.4 2031.0 462.6 2032.6 465.5 2034.2 461.8 2035.7 460.5 2037.3 464.6 2038.9 460.9 2040.5 455.6 2042.1 457.4 2043.7 448.0 2045.3 447.0 2046.9 457.7 2048.4 459.8 2050.0 465.9 2051.6 453.0 2053.2 458.6 2054.8 461.3 2056.4 458.3 2058.0 460.6 2059.6 459.0 2061.1 457.8 2062.7 452.6 2064.3 450.1 2065.9 457.5 2067.5 462.4 2069.1 455.6 2070.7 456.0 2072.3 456.7 2073.8 447.4 2075.4 449.7 2077.0 455.0 2078.6 450.9 2080.2 453.9 2081.8 453.3 2083.4 444.2 2085.0 449.8 2086.6 449.1 2088.1 454.4 2089.7 458.5 2091.3 464.4 2092.9 464.3 2094.5 444.0 2096.1 445.4 2097.7 453.0 2099.3 455.6 2100.8 457.6 2102.4 456.2 2104.0 452.3 2105.6 447.5 2107.2 454.4 2108.8 458.7 2110.4 455.8 2112.0 458.1 2113.5 462.0 2115.1 455.3 2116.7 454.8 2118.3 454.3 2119.9 463.4 2121.5 464.9 2123.1 439.9 2124.7 445.0 2126.2 445.7 2127.8 452.6 2129.4 461.5 2131.0 463.1 2132.6 462.4 2134.2 465.4 2135.8 459.4 2137.4 461.1 2138.9 471.5 2140.5 462.6 2142.1 457.6 2143.7 459.6 2145.3 455.8 2146.9 453.9 2148.5 469.0 2150.1 463.1 2151.6 465.5 2153.2 455.1 2154.8 458.4 2156.4 452.4 2158.0 459.6 2159.6 464.3 2161.2 462.6 2162.8 452.7 2164.3 444.0 2165.9 460.3 2167.5 464.6 2169.1 467.5 2170.7 461.8 2172.3 464.6 2173.9 466.9 2175.5 464.7 2177.0 466.7 2178.6 461.8 2180.2 433.7 2181.8 463.7 2183.4 459.3 2185.0 463.3 2186.6 464.3 2188.2 460.4 2189.7 451.1 2191.3 454.5 2192.9 459.0 2194.5 457.4 2196.1 455.2 2197.7 460.4 2199.3 464.0 2200.9 391.7 2202.4 461.8 2204.0 452.9 2205.6 461.6 2207.2 462.7 2208.8 466.0 2210.4 459.5 2212.0 459.1 2213.6 457.9 2215.2 458.1 2216.7 461.5 2218.3 460.0 2219.9 458.4 2221.5 462.1 2223.1 460.1 2224.7 460.4 2226.3 460.3 2227.9 462.0 2229.4 461.9 2231.0 460.4 2232.6 460.5 2234.2 459.2 2235.8 463.5 2237.4 459.3 2239.0 462.5 2240.6 459.4 2242.1 464.6 2243.7 464.9 2245.3 463.1 2246.9 462.2 2248.5 462.1 2250.1 462.0 2251.7 457.1 2253.3 454.1 2254.8 457.4 2256.4 459.1 2258.0 458.1 2259.6 456.3 2261.2 459.3 2262.8 458.5 2264.4 453.8 2266.0 455.5 2267.5 456.3 2269.1 451.1 2270.7 450.0 2272.3 450.5 2273.9 453.7 2275.5 455.3 2277.1 456.6 2278.7 460.4 2280.2 464.0 2281.8 460.8 2283.4 461.5 2285.0 458.8 2286.6 456.5 2288.2 461.2 2289.8 462.5 2291.4 458.7 2292.9 453.9 2294.5 451.1 2296.1 454.8 2297.7 454.7 2299.3 452.2 2300.9 456.9 2302.5 459.8 2304.1 455.8 2305.6 459.0 2307.2 461.5 2308.8 455.9 2310.4 457.8 2312.0 459.7 2313.6 458.4 2315.2 456.4 2316.8 457.8 2318.3 460.2 2319.9 461.3 2321.5 461.6 2323.1 461.9 2324.7 466.9 2326.3 464.0 2327.9 466.8 2329.5 465.4 2331.1 463.2 2332.6 462.9 2334.2 461.6 2335.8 462.1 2337.4 461.3 2339.0 457.6 2340.6 464.7 2342.2 462.1 2343.8 459.4 2345.3 465.0" stroke="#9acd32" stroke-width="1.3" fill="none" stroke-linejoin="round"/></g><rect x="2155.5" y="542.5" width="183" height="40.5" rx="3" fill="#fff8dc" fill-opacity="0.8" stroke="#d2b48c" stroke-width="1"/><circle cx="2169.5" cy="550.4" r="2.6" fill="#1e90ff"/><text x="2186.80" y="553.10" font-size="9.5" text-anchor="start" textLength="52.1" lengthAdjust="spacingAndGlyphs">peak dB(Z)</text><circle cx="2169.5" cy="562.4" r="2.6" fill="#ff00ff"/><text x="2186.80" y="565.10" font-size="9.5" text-anchor="start" textLength="52.1" lengthAdjust="spacingAndGlyphs">peak dB(C)</text><circle cx="2169.5" cy="574.4" r="2.6" fill="#2e8b57"/><text x="2186.80" y="577.10" font-size="9.5" text-anchor="start" textLength="52.1" lengthAdjust="spacingAndGlyphs">peak dB(A)</text><path d="M2258 550.4H2280" stroke="#4682b4" stroke-width="3"/><text x="2286.50" y="553.10" font-size="9.5" text-anchor="start" textLength="46.5" lengthAdjust="spacingAndGlyphs">avg dB(Z)</text><path d="M2258 562.4H2280" stroke="#da70d6" stroke-width="3"/><text x="2286.50" y="565.10" font-size="9.5" text-anchor="start" textLength="46.5" lengthAdjust="spacingAndGlyphs">avg dB(C)</text><path d="M2258 574.4H2280" stroke="#9acd32" stroke-width="3"/><text x="2286.50" y="577.10" font-size="9.5" text-anchor="start" textLength="46.5" lengthAdjust="spacingAndGlyphs">avg dB(A)</text><rect x="59.5" y="84.5" width="2284" height="504" fill="none" stroke="#000" stroke-width="1.1"/><path d="M52 588.5H59M2344 588.5H2351M52 516.5H59M2344 516.5H2351M52 444.5H59M2344 444.5H2351M52 372.5H59M2344 372.5H2351M52 300.5H59M2344 300.5H2351M52 228.5H59M2344 228.5H2351M52 156.5H59M2344 156.5H2351M52 84.5H59M2344 84.5H2351M59.5 588.5v7M249.5 588.5v7M440.5 588.5v7M630.5 588.5v7M821.5 588.5v7M1011.5 588.5v7M1202.5 588.5v7M1392.5 588.5v7M1583.5 588.5v7M1773.5 588.5v7M1964.5 588.5v7M2154.5 588.5v7" stroke="#000" stroke-width="0.9" fill="none"/><path d="M55.5 570.5H59M2344 570.5H2347.5M55.5 552.5H59M2344 552.5H2347.5M55.5 534.5H59M2344 534.5H2347.5M55.5 498.5H59M2344 498.5H2347.5M55.5 480.5H59M2344 480.5H2347.5M55.5 462.5H59M2344 462.5H2347.5M55.5 426.5H59M2344 426.5H2347.5M55.5 408.5H59M2344 408.5H2347.5M55.5 390.5H59M2344 390.5H2347.5M55.5 354.5H59M2344 354.5H2347.5M55.5 336.5H59M2344 336.5H2347.5M55.5 318.5H59M2344 318.5H2347.5M55.5 282.5H59M2344 282.5H2347.5M55.5 264.5H59M2344 264.5H2347.5M55.5 246.5H59M2344 246.5H2347.5M55.5 210.5H59M2344 210.5H2347.5M55.5 192.5H59M2344 192.5H2347.5M55.5 174.5H59M2344 174.5H2347.5M55.5 138.5H59M2344 138.5H2347.5M55.5 120.5H59M2344 120.5H2347.5M55.5 102.5H59M2344 102.5H2347.5M106.5 588.5v3.5M154.5 588.5v3.5M201.5 588.5v3.5M297.5 588.5v3.5M344.5 588.5v3.5M392.5 588.5v3.5M487.5 588.5v3.5M535.5 588.5v3.5M583.5 588.5v3.5M678.5 588.5v3.5M725.5 588.5v3.5M773.5 588.5v3.5M868.5 588.5v3.5M916.5 588.5v3.5M964.5 588.5v3.5M1059.5 588.5v3.5M1106.5 588.5v3.5M1154.5 588.5v3.5M1249.5 588.5v3.5M1297.5 588.5v3.5M1345.5 588.5v3.5M1440.5 588.5v3.5M1488.5 588.5v3.5M1535.5 588.5v3.5M1630.5 588.5v3.5M1678.5 588.5v3.5M1726.5 588.5v3.5M1821.5 588.5v3.5M1869.5 588.5v3.5M1916.5 588.5v3.5M2011.5 588.5v3.5M2059.5 588.5v3.5M2107.5 588.5v3.5M2202.5 588.5v3.5M2250.5 588.5v3.5M2297.5 588.5v3.5" stroke="#000" stroke-width="0.9" fill="none"/><text x="46.30" y="591.20" font-size="10" text-anchor="end" textLength="8.8" lengthAdjust="spacingAndGlyphs">24</text><text x="2355.20" y="591.20" font-size="10" text-anchor="start" textLength="8.8" lengthAdjust="spacingAndGlyphs">24</text><text x="46.30" y="519.20" font-size="10" text-anchor="end" textLength="8.8" lengthAdjust="spacingAndGlyphs">36</text><text x="2355.20" y="519.20" font-size="10" text-anchor="start" textLength="8.8" lengthAdjust="spacingAndGlyphs">36</text><text x="46.30" y="447.20" font-size="10" text-anchor="end" textLength="8.8" lengthAdjust="spacingAndGlyphs">48</text><text x="2355.20" y="447.20" font-size="10" text-anchor="start" textLength="8.8" lengthAdjust="spacingAndGlyphs">48</text><text x="46.30" y="375.20" font-size="10" text-anchor="end" textLength="8.8" lengthAdjust="spacingAndGlyphs">60</text><text x="2355.20" y="375.20" font-size="10" text-anchor="start" textLength="8.8" lengthAdjust="spacingAndGlyphs">60</text><text x="46.30" y="303.20" font-size="10" text-anchor="end" textLength="8.8" lengthAdjust="spacingAndGlyphs">72</text><text x="2355.20" y="303.20" font-size="10" text-anchor="start" textLength="8.8" lengthAdjust="spacingAndGlyphs">72</text><text x="46.30" y="231.20" font-size="10" text-anchor="end" textLength="8.8" lengthAdjust="spacingAndGlyphs">84</text><text x="2355.20" y="231.20" font-size="10" text-anchor="start" textLength="8.8" lengthAdjust="spacingAndGlyphs">84</text><text x="46.30" y="159.20" font-size="10" text-anchor="end" textLength="8.8" lengthAdjust="spacingAndGlyphs">96</text><text x="2355.20" y="159.20" font-size="10" text-anchor="start" textLength="8.8" lengthAdjust="spacingAndGlyphs">96</text><text x="46.30" y="87.20" font-size="10" text-anchor="end" textLength="13.4" lengthAdjust="spacingAndGlyphs">108</text><text x="2355.20" y="87.20" font-size="10" text-anchor="start" textLength="13.4" lengthAdjust="spacingAndGlyphs">108</text><text x="58.50" y="606.90" font-size="10" text-anchor="middle" textLength="21.4" lengthAdjust="spacingAndGlyphs">00:00</text><text x="249.02" y="606.90" font-size="10" text-anchor="middle" textLength="21.4" lengthAdjust="spacingAndGlyphs">02:00</text><text x="439.54" y="606.90" font-size="10" text-anchor="middle" textLength="21.4" lengthAdjust="spacingAndGlyphs">04:00</text><text x="630.06" y="606.90" font-size="10" text-anchor="middle" textLength="21.4" lengthAdjust="spacingAndGlyphs">06:00</text><text x="820.58" y="606.90" font-size="10" text-anchor="middle" textLength="21.4" lengthAdjust="spacingAndGlyphs">08:00</text><text x="1011.10" y="606.90" font-size="10" text-anchor="middle" textLength="21.4" lengthAdjust="spacingAndGlyphs">10:00</text><text x="1201.62" y="606.90" font-size="10" text-anchor="middle" textLength="21.4" lengthAdjust="spacingAndGlyphs">12:00</text><text x="1392.14" y="606.90" font-size="10" text-anchor="middle" textLength="21.4" lengthAdjust="spacingAndGlyphs">14:00</text><text x="1582.66" y="606.90" font-size="10" text-anchor="middle" textLength="21.4" lengthAdjust="spacingAndGlyphs">16:00</text><text x="1773.18" y="606.90" font-size="10" text-anchor="middle" textLength="21.4" lengthAdjust="spacingAndGlyphs">18:00</text><text x="1963.70" y="606.90" font-size="10" text-anchor="middle" textLength="21.4" lengthAdjust="spacingAndGlyphs">20:00</text><text x="2154.22" y="606.90" font-size="10" text-anchor="middle" textLength="21.4" lengthAdjust="spacingAndGlyphs">22:00</text><text x="1201.50" y="624.00" font-size="12" text-anchor="middle" textLength="25" lengthAdjust="spacingAndGlyphs">time</text><text x="21.50" y="336.50" font-size="12" text-anchor="middle" textLength="39.7" lengthAdjust="spacingAndGlyphs" transform="rotate(-90 21.50 336.50)">dB SPL</text><text x="2385.00" y="336.50" font-size="12" text-anchor="middle" textLength="39.7" lengthAdjust="spacingAndGlyphs" transform="rotate(-90 2385.00 336.50)">dB SPL</text><text x="59.30" y="74.80" font-size="12" text-anchor="start" font-weight="bold" textLength="305.2" lengthAdjust="spacingAndGlyphs">average and peak noise level (1 min sampling)</text><rect x="59" y="645.0" width="2285" height="505" fill="#fff8dc"/><path d="M59.5 1131.5H2343.5M59.5 1113.5H2343.5M59.5 1095.5H2343.5M59.5 1059.5H2343.5M59.5 1041.5H2343.5M59.5 1023.5H2343.5M59.5 987.5H2343.5M59.5 969.5H2343.5M59.5 951.5H2343.5M59.5 915.5H2343.5M59.5 897.5H2343.5M59.5 879.5H2343.5M59.5 843.5H2343.5M59.5 825.5H2343.5M59.5 807.5H2343.5M59.5 771.5H2343.5M59.5 753.5H2343.5M59.5 735.5H2343.5M59.5 699.5H2343.5M59.5 681.5H2343.5M59.5 663.5H2343.5" stroke="#b0b0b0" stroke-width="0.7" stroke-dasharray="2.6,1.1" fill="none"/><path d="M106.5 1149.5V645.5M154.5 1149.5V645.5M202.5 1149.5V645.5M297.5 1149.5V645.5M344.5 1149.5V645.5M392.5 1149.5V645.5M487.5 1149.5V645.5M535.5 1149.5V645.5M582.5 1149.5V645.5M677.5 1149.5V645.5M725.5 1149.5V645.5M773.5 1149.5V645.5M868.5 1149.5V645.5M915.5 1149.5V645.5M963.5 1149.5V645.5M1058.5 1149.5V645.5M1106.5 1149.5V645.5M1153.5 1149.5V645.5M1248.5 1149.5V645.5M1296.5 1149.5V645.5M1344.5 1149.5V645.5M1439.5 1149.5V645.5M1486.5 1149.5V645.5M1534.5 1149.5V645.5M1629.5 1149.5V645.5M1677.5 1149.5V645.5M1724.5 1149.5V645.5M1819.5 1149.5V645.5M1867.5 1149.5V645.5M1915.5 1149.5V645.5M2010.5 1149.5V645.5M2057.5 1149.5V645.5M2105.5 1149.5V645.5M2200.5 1149.5V645.5M2248.5 1149.5V645.5M2295.5 1149.5V645.5" stroke="#b0b0b0" stroke-width="0.7" stroke-dasharray="0.7,1.35" fill="none"/><path d="M59.5 1077.5H2343.5M59.5 1005.5H2343.5M59.5 933.5H2343.5M59.5 861.5H2343.5M59.5 789.5H2343.5M59.5 717.5H2343.5M249.5 645.5V1149.5M440.5 645.5V1149.5M630.5 645.5V1149.5M820.5 645.5V1149.5M1010.5 645.5V1149.5M1201.5 645.5V1149.5M1391.5 645.5V1149.5M1581.5 645.5V1149.5M1772.5 645.5V1149.5M1962.5 645.5V1149.5M2152.5 645.5V1149.5" stroke="#b0b0b0" stroke-width="1" fill="none"/><g clip-path="url(#c2)"><path d="M58.85 945.8h1.3V963.3h-1.3ZM59.85 934.7h1.3V964.0h-1.3ZM60.85 946.6h1.3V964.6h-1.3ZM61.85 872.8h1.3V965.3h-1.3ZM62.85 924.2h1.3V966.0h-1.3ZM63.85 934.8h1.3V966.7h-1.3ZM64.85 948.0h1.3V967.4h-1.3ZM65.85 947.1h1.3V968.0h-1.3ZM66.85 956.2h1.3V968.2h-1.3ZM67.85 941.2h1.3V967.7h-1.3ZM68.85 910.7h1.3V967.2h-1.3ZM69.85 922.2h1.3V966.6h-1.3ZM70.85 955.0h1.3V966.1h-1.3ZM71.85 951.1h1.3V965.6h-1.3ZM72.85 951.5h1.3V965.0h-1.3ZM73.85 914.1h1.3V964.5h-1.3ZM74.85 906.0h1.3V964.2h-1.3ZM75.85 960.5h1.3V964.8h-1.3ZM76.85 938.4h1.3V965.4h-1.3ZM77.85 905.7h1.3V966.1h-1.3ZM78.85 926.9h1.3V966.8h-1.3ZM79.85 944.1h1.3V967.5h-1.3ZM80.85 935.4h1.3V968.2h-1.3ZM81.85 918.0h1.3V968.5h-1.3ZM82.85 960.4h1.3V968.7h-1.3ZM83.85 921.0h1.3V968.9h-1.3ZM84.85 927.5h1.3V969.0h-1.3ZM85.85 925.2h1.3V969.1h-1.3ZM86.85 963.5h1.3V969.3h-1.3ZM87.85 957.6h1.3V969.4h-1.3ZM88.85 959.3h1.3V969.6h-1.3ZM89.85 915.8h1.3V969.7h-1.3ZM90.85 922.4h1.3V969.8h-1.3ZM91.85 925.5h1.3V969.9h-1.3ZM92.85 936.1h1.3V969.6h-1.3ZM93.85 922.0h1.3V969.2h-1.3ZM94.85 923.8h1.3V968.8h-1.3ZM95.85 909.9h1.3V968.4h-1.3ZM96.85 936.9h1.3V968.0h-1.3ZM97.85 918.1h1.3V967.6h-1.3ZM98.85 922.1h1.3V967.3h-1.3ZM99.85 956.2h1.3V967.2h-1.3ZM100.85 895.6h1.3V967.3h-1.3ZM101.85 942.9h1.3V967.6h-1.3ZM102.85 954.0h1.3V967.8h-1.3ZM103.85 954.3h1.3V968.0h-1.3ZM104.85 960.8h1.3V968.3h-1.3ZM105.85 961.1h1.3V968.4h-1.3ZM106.85 940.8h1.3V968.3h-1.3ZM107.85 935.3h1.3V968.1h-1.3ZM108.85 962.6h1.3V968.0h-1.3ZM109.85 913.5h1.3V967.8h-1.3ZM110.85 958.5h1.3V967.6h-1.3ZM111.85 957.0h1.3V967.4h-1.3ZM112.85 961.6h1.3V967.3h-1.3ZM113.85 954.3h1.3V967.1h-1.3ZM114.85 956.1h1.3V967.1h-1.3ZM115.85 958.9h1.3V967.2h-1.3ZM116.85 955.4h1.3V967.3h-1.3ZM117.85 951.3h1.3V967.4h-1.3ZM118.85 942.1h1.3V967.5h-1.3ZM119.85 958.5h1.3V967.6h-1.3ZM120.85 942.2h1.3V967.6h-1.3ZM121.85 936.7h1.3V967.5h-1.3ZM122.85 939.0h1.3V967.2h-1.3ZM123.85 946.3h1.3V966.7h-1.3ZM124.85 964.0h1.3V966.2h-1.3ZM125.85 909.5h1.3V965.7h-1.3ZM126.85 907.7h1.3V965.2h-1.3ZM127.85 909.5h1.3V964.7h-1.3ZM128.85 924.2h1.3V964.2h-1.3ZM129.85 942.2h1.3V963.7h-1.3ZM130.85 924.2h1.3V963.1h-1.3ZM131.85 923.5h1.3V962.6h-1.3ZM132.85 954.9h1.3V962.0h-1.3ZM133.85 926.7h1.3V961.4h-1.3ZM134.85 850.0h1.3V960.9h-1.3ZM135.85 949.9h1.3V960.3h-1.3ZM136.85 933.0h1.3V959.7h-1.3ZM137.85 897.4h1.3V959.1h-1.3ZM138.85 926.3h1.3V958.6h-1.3ZM139.85 942.0h1.3V958.2h-1.3ZM140.85 934.2h1.3V958.3h-1.3ZM141.85 955.9h1.3V958.5h-1.3ZM142.85 923.8h1.3V958.7h-1.3ZM143.85 909.7h1.3V959.0h-1.3ZM144.85 908.8h1.3V959.3h-1.3ZM145.85 935.9h1.3V959.6h-1.3ZM146.85 926.7h1.3V960.3h-1.3ZM147.85 899.3h1.3V961.2h-1.3ZM148.85 936.3h1.3V962.0h-1.3ZM149.85 926.5h1.3V962.9h-1.3ZM150.85 953.3h1.3V963.7h-1.3ZM151.85 952.7h1.3V964.6h-1.3ZM152.85 912.8h1.3V965.4h-1.3ZM153.85 943.7h1.3V966.2h-1.3ZM154.85 942.6h1.3V965.9h-1.3ZM155.85 936.0h1.3V965.5h-1.3ZM156.85 942.2h1.3V965.2h-1.3ZM157.85 948.4h1.3V964.8h-1.3ZM158.85 934.7h1.3V964.5h-1.3ZM159.85 920.9h1.3V964.1h-1.3ZM160.85 912.7h1.3V963.8h-1.3ZM161.85 902.5h1.3V963.4h-1.3ZM162.85 903.7h1.3V963.4h-1.3ZM163.85 945.4h1.3V963.4h-1.3ZM164.85 960.4h1.3V963.6h-1.3ZM165.85 956.3h1.3V963.7h-1.3ZM166.85 957.0h1.3V963.8h-1.3ZM167.85 908.0h1.3V963.9h-1.3ZM168.85 944.1h1.3V964.1h-1.3ZM169.85 939.7h1.3V964.2h-1.3ZM170.85 955.9h1.3V964.3h-1.3ZM171.85 959.9h1.3V964.4h-1.3ZM172.85 931.0h1.3V964.6h-1.3ZM173.85 961.6h1.3V964.7h-1.3ZM174.85 945.2h1.3V964.7h-1.3ZM175.85 951.5h1.3V964.6h-1.3ZM176.85 929.8h1.3V964.5h-1.3ZM177.85 944.7h1.3V964.4h-1.3ZM178.85 958.9h1.3V964.3h-1.3ZM179.85 931.0h1.3V964.2h-1.3ZM180.85 935.7h1.3V964.1h-1.3ZM181.85 898.3h1.3V964.2h-1.3ZM182.85 946.2h1.3V964.4h-1.3ZM183.85 963.0h1.3V964.9h-1.3ZM184.85 954.1h1.3V965.3h-1.3ZM185.85 909.7h1.3V965.7h-1.3ZM186.85 956.6h1.3V966.1h-1.3ZM187.85 963.5h1.3V966.6h-1.3ZM188.85 929.8h1.3V967.0h-1.3ZM189.85 914.2h1.3V967.4h-1.3ZM190.85 942.2h1.3V967.9h-1.3ZM191.85 932.4h1.3V968.3h-1.3ZM192.85 912.7h1.3V968.3h-1.3ZM193.85 909.3h1.3V968.3h-1.3ZM194.85 916.4h1.3V968.1h-1.3ZM195.85 953.9h1.3V967.9h-1.3ZM196.85 894.2h1.3V967.8h-1.3ZM197.85 937.1h1.3V967.6h-1.3ZM198.85 964.6h1.3V967.5h-1.3ZM199.85 943.3h1.3V967.3h-1.3ZM200.85 944.2h1.3V967.2h-1.3ZM201.85 956.0h1.3V967.1h-1.3ZM202.85 957.0h1.3V967.3h-1.3ZM203.85 944.0h1.3V967.5h-1.3ZM204.85 924.2h1.3V967.7h-1.3ZM205.85 943.4h1.3V967.9h-1.3ZM206.85 940.2h1.3V968.2h-1.3ZM207.85 959.6h1.3V968.4h-1.3ZM208.85 932.1h1.3V968.6h-1.3ZM209.85 924.9h1.3V968.9h-1.3ZM210.85 947.2h1.3V969.1h-1.3ZM211.85 961.4h1.3V969.3h-1.3ZM212.85 945.2h1.3V969.5h-1.3ZM213.85 949.0h1.3V969.8h-1.3ZM214.85 934.8h1.3V969.9h-1.3ZM215.85 963.6h1.3V969.9h-1.3ZM216.85 914.9h1.3V969.7h-1.3ZM217.85 958.2h1.3V969.6h-1.3ZM218.85 947.3h1.3V969.4h-1.3ZM219.85 958.8h1.3V969.3h-1.3ZM220.85 926.3h1.3V969.1h-1.3ZM221.85 924.7h1.3V969.0h-1.3ZM222.85 956.7h1.3V968.9h-1.3ZM223.85 957.2h1.3V968.7h-1.3ZM224.85 933.6h1.3V968.6h-1.3ZM225.85 904.5h1.3V968.3h-1.3ZM226.85 957.3h1.3V967.9h-1.3ZM227.85 957.9h1.3V967.5h-1.3ZM228.85 959.0h1.3V967.0h-1.3ZM229.85 955.2h1.3V966.6h-1.3ZM230.85 933.5h1.3V966.2h-1.3ZM231.85 938.1h1.3V965.8h-1.3ZM232.85 959.9h1.3V965.4h-1.3ZM233.85 945.8h1.3V965.1h-1.3ZM234.85 926.8h1.3V965.0h-1.3ZM235.85 962.0h1.3V965.4h-1.3ZM236.85 923.1h1.3V965.8h-1.3ZM237.85 936.7h1.3V966.2h-1.3ZM238.85 962.5h1.3V966.7h-1.3ZM239.85 950.3h1.3V967.1h-1.3ZM240.85 951.0h1.3V967.5h-1.3ZM241.85 946.1h1.3V968.0h-1.3ZM242.85 955.2h1.3V968.4h-1.3ZM243.85 958.4h1.3V968.8h-1.3ZM244.85 948.0h1.3V969.0h-1.3ZM245.85 936.2h1.3V969.0h-1.3ZM246.85 931.7h1.3V968.8h-1.3ZM247.85 959.9h1.3V968.5h-1.3ZM248.85 952.7h1.3V968.2h-1.3ZM249.85 934.0h1.3V967.6h-1.3ZM250.85 917.2h1.3V966.8h-1.3ZM251.85 927.1h1.3V966.1h-1.3ZM252.85 957.9h1.3V965.3h-1.3ZM253.85 952.0h1.3V964.5h-1.3ZM254.85 937.0h1.3V963.4h-1.3ZM255.85 954.2h1.3V962.2h-1.3ZM256.85 923.0h1.3V960.8h-1.3ZM257.85 930.0h1.3V959.5h-1.3ZM258.85 918.3h1.3V958.1h-1.3ZM259.85 908.3h1.3V956.8h-1.3ZM260.85 932.2h1.3V956.7h-1.3ZM261.85 942.5h1.3V957.1h-1.3ZM262.85 947.0h1.3V957.6h-1.3ZM263.85 916.3h1.3V958.1h-1.3ZM264.85 908.4h1.3V958.6h-1.3ZM265.85 944.7h1.3V959.1h-1.3ZM266.85 924.6h1.3V959.7h-1.3ZM267.85 913.5h1.3V960.3h-1.3ZM268.85 932.0h1.3V960.9h-1.3ZM269.85 952.7h1.3V961.6h-1.3ZM270.85 909.3h1.3V962.2h-1.3ZM271.85 944.7h1.3V962.8h-1.3ZM272.85 904.3h1.3V963.5h-1.3ZM273.85 920.9h1.3V964.6h-1.3ZM274.85 855.7h1.3V965.7h-1.3ZM275.85 956.4h1.3V966.8h-1.3ZM276.85 934.6h1.3V967.9h-1.3ZM277.85 963.1h1.3V968.8h-1.3ZM278.85 952.7h1.3V969.3h-1.3ZM279.85 955.0h1.3V969.4h-1.3ZM280.85 947.3h1.3V969.1h-1.3ZM281.85 945.2h1.3V968.9h-1.3ZM282.85 933.3h1.3V968.7h-1.3ZM283.85 935.4h1.3V968.4h-1.3ZM284.85 960.0h1.3V967.5h-1.3ZM285.85 936.5h1.3V966.5h-1.3ZM286.85 942.9h1.3V965.2h-1.3ZM287.85 947.0h1.3V964.8h-1.3ZM288.85 934.4h1.3V964.8h-1.3ZM289.85 913.5h1.3V965.3h-1.3ZM290.85 943.4h1.3V965.9h-1.3ZM291.85 959.2h1.3V966.4h-1.3ZM292.85 963.3h1.3V967.0h-1.3ZM293.85 949.2h1.3V967.5h-1.3ZM294.85 939.8h1.3V968.0h-1.3ZM295.85 925.2h1.3V968.2h-1.3ZM296.85 951.6h1.3V968.2h-1.3ZM297.85 952.5h1.3V967.7h-1.3ZM298.85 934.4h1.3V967.1h-1.3ZM299.85 935.0h1.3V966.6h-1.3ZM300.85 917.4h1.3V966.0h-1.3ZM301.85 921.4h1.3V965.5h-1.3ZM302.85 935.6h1.3V965.0h-1.3ZM303.85 959.1h1.3V964.7h-1.3ZM304.85 862.1h1.3V964.5h-1.3ZM305.85 954.1h1.3V964.2h-1.3ZM306.85 925.4h1.3V964.0h-1.3ZM307.85 941.3h1.3V963.8h-1.3ZM308.85 926.1h1.3V963.5h-1.3ZM309.85 950.4h1.3V963.3h-1.3ZM310.85 906.8h1.3V963.0h-1.3ZM311.85 930.3h1.3V963.5h-1.3ZM312.85 949.3h1.3V964.0h-1.3ZM313.85 937.6h1.3V964.6h-1.3ZM314.85 910.7h1.3V965.2h-1.3ZM315.85 956.5h1.3V965.7h-1.3ZM316.85 909.5h1.3V965.7h-1.3ZM317.85 943.0h1.3V965.7h-1.3ZM318.85 954.9h1.3V965.7h-1.3ZM319.85 953.1h1.3V965.6h-1.3ZM320.85 902.3h1.3V965.5h-1.3ZM321.85 959.6h1.3V965.5h-1.3ZM322.85 959.7h1.3V965.4h-1.3ZM323.85 926.7h1.3V965.4h-1.3ZM324.85 920.9h1.3V965.4h-1.3ZM325.85 885.4h1.3V965.5h-1.3ZM326.85 939.6h1.3V965.6h-1.3ZM327.85 948.3h1.3V965.8h-1.3ZM328.85 918.2h1.3V965.9h-1.3ZM329.85 947.4h1.3V966.0h-1.3ZM330.85 957.0h1.3V966.1h-1.3ZM331.85 911.9h1.3V966.3h-1.3ZM332.85 926.9h1.3V966.4h-1.3ZM333.85 943.8h1.3V966.5h-1.3ZM334.85 947.1h1.3V966.6h-1.3ZM335.85 962.1h1.3V966.8h-1.3ZM336.85 958.2h1.3V966.9h-1.3ZM337.85 950.2h1.3V967.0h-1.3ZM338.85 888.7h1.3V966.9h-1.3ZM339.85 947.8h1.3V966.7h-1.3ZM340.85 951.7h1.3V966.6h-1.3ZM341.85 960.5h1.3V966.5h-1.3ZM342.85 954.2h1.3V966.4h-1.3ZM343.85 945.1h1.3V966.3h-1.3ZM344.85 944.7h1.3V966.2h-1.3ZM345.85 907.6h1.3V966.0h-1.3ZM346.85 939.6h1.3V965.9h-1.3ZM347.85 918.7h1.3V965.8h-1.3ZM348.85 960.9h1.3V965.7h-1.3ZM349.85 952.8h1.3V965.6h-1.3ZM350.85 915.7h1.3V965.6h-1.3ZM351.85 956.4h1.3V965.5h-1.3ZM352.85 956.2h1.3V965.4h-1.3ZM353.85 939.5h1.3V965.3h-1.3ZM354.85 953.6h1.3V965.2h-1.3ZM355.85 943.2h1.3V965.1h-1.3ZM356.85 950.6h1.3V965.0h-1.3ZM357.85 912.1h1.3V964.9h-1.3ZM358.85 960.9h1.3V964.9h-1.3ZM359.85 924.7h1.3V964.8h-1.3ZM360.85 962.3h1.3V964.8h-1.3ZM361.85 961.5h1.3V964.8h-1.3ZM362.85 954.4h1.3V965.0h-1.3ZM363.85 921.6h1.3V965.2h-1.3ZM364.85 962.8h1.3V965.3h-1.3ZM365.85 950.8h1.3V965.5h-1.3ZM366.85 958.7h1.3V965.7h-1.3ZM367.85 960.3h1.3V965.9h-1.3ZM368.85 953.1h1.3V966.2h-1.3ZM369.85 951.4h1.3V966.6h-1.3ZM370.85 936.7h1.3V966.9h-1.3ZM371.85 948.4h1.3V967.2h-1.3ZM372.85 915.9h1.3V967.6h-1.3ZM373.85 941.5h1.3V967.9h-1.3ZM374.85 921.3h1.3V968.2h-1.3ZM375.85 964.0h1.3V968.6h-1.3ZM376.85 947.9h1.3V968.9h-1.3ZM377.85 935.4h1.3V969.1h-1.3ZM378.85 937.3h1.3V968.9h-1.3ZM379.85 926.1h1.3V968.7h-1.3ZM380.85 921.4h1.3V968.5h-1.3ZM381.85 923.7h1.3V968.3h-1.3ZM382.85 951.8h1.3V968.1h-1.3ZM383.85 955.9h1.3V967.9h-1.3ZM384.85 919.0h1.3V967.7h-1.3ZM385.85 919.4h1.3V967.7h-1.3ZM386.85 966.1h1.3V967.9h-1.3ZM387.85 907.2h1.3V968.3h-1.3ZM388.85 916.8h1.3V968.7h-1.3ZM389.85 919.9h1.3V969.1h-1.3ZM390.85 912.7h1.3V969.6h-1.3ZM391.85 942.9h1.3V970.0h-1.3ZM392.85 926.7h1.3V969.5h-1.3ZM393.85 942.0h1.3V969.0h-1.3ZM394.85 943.6h1.3V968.5h-1.3ZM395.85 919.3h1.3V968.1h-1.3ZM396.85 956.8h1.3V967.6h-1.3ZM397.85 951.6h1.3V967.2h-1.3ZM398.85 916.3h1.3V966.9h-1.3ZM399.85 949.6h1.3V966.6h-1.3ZM400.85 856.0h1.3V966.4h-1.3ZM401.85 962.4h1.3V966.1h-1.3ZM402.85 941.9h1.3V965.9h-1.3ZM403.85 929.3h1.3V965.6h-1.3ZM404.85 954.1h1.3V965.4h-1.3ZM405.85 961.2h1.3V965.1h-1.3ZM406.85 954.8h1.3V964.9h-1.3ZM407.85 946.2h1.3V964.6h-1.3ZM408.85 913.9h1.3V964.3h-1.3ZM409.85 939.7h1.3V964.0h-1.3ZM410.85 959.4h1.3V963.6h-1.3ZM411.85 952.3h1.3V963.3h-1.3ZM412.85 939.2h1.3V963.0h-1.3ZM413.85 924.0h1.3V962.7h-1.3ZM414.85 913.6h1.3V962.2h-1.3ZM415.85 945.0h1.3V961.6h-1.3ZM416.85 911.3h1.3V961.0h-1.3ZM417.85 921.5h1.3V960.5h-1.3ZM418.85 938.1h1.3V959.9h-1.3ZM419.85 941.1h1.3V959.3h-1.3ZM420.85 926.0h1.3V958.7h-1.3ZM421.85 903.2h1.3V958.1h-1.3ZM422.85 870.8h1.3V957.5h-1.3ZM423.85 932.7h1.3V957.0h-1.3ZM424.85 917.9h1.3V956.7h-1.3ZM425.85 942.1h1.3V956.5h-1.3ZM426.85 920.3h1.3V956.4h-1.3ZM427.85 942.9h1.3V956.2h-1.3ZM428.85 940.9h1.3V956.1h-1.3ZM429.85 905.4h1.3V956.0h-1.3ZM430.85 937.4h1.3V954.6h-1.3ZM431.85 944.5h1.3V951.9h-1.3ZM432.85 904.5h1.3V947.1h-1.3ZM433.85 898.6h1.3V942.9h-1.3ZM434.85 898.0h1.3V939.6h-1.3ZM435.85 796.7h1.3V938.8h-1.3ZM436.85 913.0h1.3V938.0h-1.3ZM437.85 893.9h1.3V937.3h-1.3ZM438.85 921.6h1.3V936.5h-1.3ZM439.85 934.5h1.3V938.9h-1.3ZM440.85 907.3h1.3V945.1h-1.3ZM441.85 941.3h1.3V950.5h-1.3ZM442.85 929.5h1.3V954.7h-1.3ZM443.85 949.5h1.3V956.1h-1.3ZM444.85 942.5h1.3V957.4h-1.3ZM445.85 954.1h1.3V958.8h-1.3ZM446.85 929.7h1.3V960.2h-1.3ZM447.85 944.1h1.3V960.9h-1.3ZM448.85 942.0h1.3V960.9h-1.3ZM449.85 958.1h1.3V960.6h-1.3ZM450.85 943.6h1.3V960.2h-1.3ZM451.85 914.0h1.3V959.8h-1.3ZM452.85 916.8h1.3V959.5h-1.3ZM453.85 936.4h1.3V959.1h-1.3ZM454.85 938.8h1.3V958.8h-1.3ZM455.85 956.9h1.3V958.9h-1.3ZM456.85 950.4h1.3V959.4h-1.3ZM457.85 954.0h1.3V960.6h-1.3ZM458.85 930.1h1.3V961.8h-1.3ZM459.85 913.2h1.3V963.0h-1.3ZM460.85 951.2h1.3V964.2h-1.3ZM461.85 947.7h1.3V965.5h-1.3ZM462.85 934.5h1.3V966.7h-1.3ZM463.85 965.3h1.3V967.2h-1.3ZM464.85 942.9h1.3V967.2h-1.3ZM465.85 961.7h1.3V967.0h-1.3ZM466.85 938.4h1.3V966.9h-1.3ZM467.85 953.5h1.3V966.8h-1.3ZM468.85 955.9h1.3V967.0h-1.3ZM469.85 958.1h1.3V967.3h-1.3ZM470.85 925.0h1.3V967.6h-1.3ZM471.85 931.1h1.3V967.9h-1.3ZM472.85 946.3h1.3V968.2h-1.3ZM473.85 942.7h1.3V968.5h-1.3ZM474.85 966.1h1.3V968.4h-1.3ZM475.85 919.7h1.3V967.9h-1.3ZM476.85 959.2h1.3V967.3h-1.3ZM477.85 953.4h1.3V966.8h-1.3ZM478.85 905.1h1.3V966.2h-1.3ZM479.85 956.5h1.3V965.7h-1.3ZM480.85 927.2h1.3V965.2h-1.3ZM481.85 939.6h1.3V964.6h-1.3ZM482.85 910.3h1.3V964.8h-1.3ZM483.85 956.7h1.3V965.3h-1.3ZM484.85 960.9h1.3V966.3h-1.3ZM485.85 924.8h1.3V966.9h-1.3ZM486.85 956.4h1.3V966.9h-1.3ZM487.85 947.4h1.3V966.4h-1.3ZM488.85 937.8h1.3V965.7h-1.3ZM489.85 947.8h1.3V965.1h-1.3ZM490.85 955.7h1.3V964.5h-1.3ZM491.85 953.5h1.3V963.9h-1.3ZM492.85 960.4h1.3V963.4h-1.3ZM493.85 952.1h1.3V963.0h-1.3ZM494.85 935.2h1.3V962.7h-1.3ZM495.85 959.1h1.3V962.4h-1.3ZM496.85 921.1h1.3V962.1h-1.3ZM497.85 913.6h1.3V961.8h-1.3ZM498.85 938.5h1.3V961.5h-1.3ZM499.85 933.4h1.3V961.2h-1.3ZM500.85 931.9h1.3V960.9h-1.3ZM501.85 934.4h1.3V960.6h-1.3ZM502.85 940.0h1.3V960.4h-1.3ZM503.85 940.9h1.3V960.1h-1.3ZM504.85 945.9h1.3V959.8h-1.3ZM505.85 938.0h1.3V959.6h-1.3ZM506.85 919.3h1.3V959.3h-1.3ZM507.85 934.3h1.3V959.1h-1.3ZM508.85 947.2h1.3V958.8h-1.3ZM509.85 942.0h1.3V958.5h-1.3ZM510.85 948.4h1.3V958.2h-1.3ZM511.85 955.9h1.3V957.8h-1.3ZM512.85 936.9h1.3V957.5h-1.3ZM513.85 940.1h1.3V957.1h-1.3ZM514.85 918.9h1.3V956.8h-1.3ZM515.85 935.8h1.3V956.5h-1.3ZM516.85 934.1h1.3V956.1h-1.3ZM517.85 879.4h1.3V956.0h-1.3ZM518.85 941.1h1.3V956.1h-1.3ZM519.85 934.3h1.3V956.3h-1.3ZM520.85 919.8h1.3V956.5h-1.3ZM521.85 905.5h1.3V956.7h-1.3ZM522.85 929.5h1.3V958.0h-1.3ZM523.85 909.7h1.3V959.3h-1.3ZM524.85 956.5h1.3V960.7h-1.3ZM525.85 917.9h1.3V962.0h-1.3ZM526.85 949.4h1.3V963.3h-1.3ZM527.85 934.7h1.3V964.7h-1.3ZM528.85 932.2h1.3V964.8h-1.3ZM529.85 921.4h1.3V964.0h-1.3ZM530.85 931.4h1.3V958.7h-1.3ZM531.85 931.6h1.3V954.6h-1.3ZM532.85 913.4h1.3V952.1h-1.3ZM533.85 798.5h1.3V950.5h-1.3ZM534.85 816.5h1.3V949.2h-1.3ZM535.85 930.8h1.3V948.0h-1.3ZM536.85 942.8h1.3V948.3h-1.3ZM537.85 946.3h1.3V949.5h-1.3ZM538.85 907.8h1.3V951.7h-1.3ZM539.85 948.1h1.3V954.5h-1.3ZM540.85 932.0h1.3V957.9h-1.3ZM541.85 929.5h1.3V961.3h-1.3ZM542.85 942.0h1.3V963.6h-1.3ZM543.85 951.2h1.3V963.9h-1.3ZM544.85 921.3h1.3V963.9h-1.3ZM545.85 889.5h1.3V963.8h-1.3ZM546.85 953.2h1.3V963.6h-1.3ZM547.85 934.1h1.3V963.5h-1.3ZM548.85 946.8h1.3V963.4h-1.3ZM549.85 944.4h1.3V962.5h-1.3ZM550.85 928.6h1.3V961.5h-1.3ZM551.85 920.0h1.3V960.3h-1.3ZM552.85 952.3h1.3V959.1h-1.3ZM553.85 935.8h1.3V957.9h-1.3ZM554.85 944.9h1.3V956.7h-1.3ZM555.85 914.7h1.3V955.5h-1.3ZM556.85 940.9h1.3V954.4h-1.3ZM557.85 924.3h1.3V953.7h-1.3ZM558.85 925.8h1.3V953.3h-1.3ZM559.85 938.0h1.3V953.2h-1.3ZM560.85 933.3h1.3V953.2h-1.3ZM561.85 931.5h1.3V953.1h-1.3ZM562.85 923.0h1.3V953.1h-1.3ZM563.85 883.2h1.3V953.0h-1.3ZM564.85 918.7h1.3V952.8h-1.3ZM565.85 917.2h1.3V952.3h-1.3ZM566.85 933.7h1.3V951.9h-1.3ZM567.85 906.9h1.3V951.4h-1.3ZM568.85 925.4h1.3V951.0h-1.3ZM569.85 947.7h1.3V950.5h-1.3ZM570.85 945.3h1.3V950.1h-1.3ZM571.85 924.1h1.3V950.5h-1.3ZM572.85 925.3h1.3V951.1h-1.3ZM573.85 946.7h1.3V951.8h-1.3ZM574.85 932.7h1.3V952.4h-1.3ZM575.85 947.6h1.3V953.0h-1.3ZM576.85 928.0h1.3V953.6h-1.3ZM577.85 923.0h1.3V954.1h-1.3ZM578.85 922.6h1.3V954.4h-1.3ZM579.85 928.1h1.3V954.5h-1.3ZM580.85 936.5h1.3V954.7h-1.3ZM581.85 941.4h1.3V954.9h-1.3ZM582.85 926.3h1.3V955.1h-1.3ZM583.85 924.7h1.3V955.3h-1.3ZM584.85 937.9h1.3V955.6h-1.3ZM585.85 939.0h1.3V955.9h-1.3ZM586.85 940.6h1.3V956.3h-1.3ZM587.85 937.7h1.3V956.7h-1.3ZM588.85 921.9h1.3V957.1h-1.3ZM589.85 954.2h1.3V957.5h-1.3ZM590.85 937.2h1.3V957.9h-1.3ZM591.85 934.0h1.3V958.3h-1.3ZM592.85 909.3h1.3V958.5h-1.3ZM593.85 928.9h1.3V958.5h-1.3ZM594.85 920.4h1.3V958.4h-1.3ZM595.85 942.8h1.3V958.2h-1.3ZM596.85 951.6h1.3V958.1h-1.3ZM597.85 953.4h1.3V957.9h-1.3ZM598.85 951.5h1.3V957.8h-1.3ZM599.85 942.5h1.3V957.6h-1.3ZM600.85 944.8h1.3V957.4h-1.3ZM601.85 933.6h1.3V956.8h-1.3ZM602.85 952.5h1.3V956.0h-1.3ZM603.85 912.0h1.3V955.2h-1.3ZM604.85 936.2h1.3V954.4h-1.3ZM605.85 938.3h1.3V953.6h-1.3ZM606.85 934.9h1.3V952.8h-1.3ZM607.85 939.7h1.3V952.0h-1.3ZM608.85 920.4h1.3V951.2h-1.3ZM609.85 934.6h1.3V951.3h-1.3ZM610.85 925.9h1.3V951.8h-1.3ZM611.85 949.4h1.3V952.4h-1.3ZM612.85 911.6h1.3V953.0h-1.3ZM613.85 924.0h1.3V953.6h-1.3ZM614.85 921.0h1.3V954.3h-1.3ZM615.85 943.6h1.3V954.7h-1.3ZM616.85 931.9h1.3V955.0h-1.3ZM617.85 931.6h1.3V955.0h-1.3ZM618.85 940.5h1.3V955.0h-1.3ZM619.85 922.1h1.3V955.0h-1.3ZM620.85 950.0h1.3V955.0h-1.3ZM621.85 934.2h1.3V955.0h-1.3ZM622.85 949.7h1.3V955.0h-1.3ZM623.85 952.5h1.3V955.0h-1.3ZM624.85 931.7h1.3V955.1h-1.3ZM625.85 951.6h1.3V955.2h-1.3ZM626.85 942.9h1.3V955.4h-1.3ZM627.85 928.6h1.3V955.5h-1.3ZM628.85 885.9h1.3V955.7h-1.3ZM629.85 938.1h1.3V955.9h-1.3ZM630.85 946.6h1.3V956.8h-1.3ZM631.85 931.3h1.3V957.7h-1.3ZM632.85 926.9h1.3V958.6h-1.3ZM633.85 929.0h1.3V959.4h-1.3ZM634.85 953.3h1.3V959.5h-1.3ZM635.85 925.9h1.3V958.6h-1.3ZM636.85 943.5h1.3V957.7h-1.3ZM637.85 952.3h1.3V956.7h-1.3ZM638.85 907.9h1.3V955.8h-1.3ZM639.85 931.7h1.3V955.6h-1.3ZM640.85 914.5h1.3V955.7h-1.3ZM641.85 936.5h1.3V956.0h-1.3ZM642.85 933.5h1.3V956.3h-1.3ZM643.85 940.5h1.3V956.5h-1.3ZM644.85 955.3h1.3V957.5h-1.3ZM645.85 945.7h1.3V958.6h-1.3ZM646.85 954.0h1.3V959.9h-1.3ZM647.85 957.9h1.3V961.2h-1.3ZM648.85 956.0h1.3V962.6h-1.3ZM649.85 952.8h1.3V963.9h-1.3ZM650.85 947.1h1.3V965.2h-1.3ZM651.85 921.8h1.3V966.5h-1.3ZM652.85 953.6h1.3V967.8h-1.3ZM653.85 956.0h1.3V968.4h-1.3ZM654.85 951.0h1.3V967.9h-1.3ZM655.85 955.5h1.3V967.3h-1.3ZM656.85 934.8h1.3V966.7h-1.3ZM657.85 954.3h1.3V966.1h-1.3ZM658.85 961.9h1.3V965.5h-1.3ZM659.85 928.6h1.3V964.9h-1.3ZM660.85 931.9h1.3V964.3h-1.3ZM661.85 958.4h1.3V963.9h-1.3ZM662.85 934.0h1.3V963.6h-1.3ZM663.85 940.7h1.3V963.3h-1.3ZM664.85 943.6h1.3V963.0h-1.3ZM665.85 942.0h1.3V962.7h-1.3ZM666.85 918.3h1.3V962.4h-1.3ZM667.85 921.4h1.3V962.1h-1.3ZM668.85 927.6h1.3V961.8h-1.3ZM669.85 957.5h1.3V961.7h-1.3ZM670.85 955.8h1.3V961.9h-1.3ZM671.85 948.0h1.3V962.1h-1.3ZM672.85 948.2h1.3V962.2h-1.3ZM673.85 948.7h1.3V962.4h-1.3ZM674.85 934.2h1.3V962.5h-1.3ZM675.85 951.9h1.3V962.7h-1.3ZM676.85 960.9h1.3V962.9h-1.3ZM677.85 919.6h1.3V962.6h-1.3ZM678.85 950.2h1.3V962.1h-1.3ZM679.85 934.8h1.3V961.3h-1.3ZM680.85 911.7h1.3V960.6h-1.3ZM681.85 946.7h1.3V959.8h-1.3ZM682.85 938.0h1.3V959.5h-1.3ZM683.85 932.7h1.3V959.3h-1.3ZM684.85 931.2h1.3V959.4h-1.3ZM685.85 936.1h1.3V959.5h-1.3ZM686.85 949.8h1.3V959.6h-1.3ZM687.85 936.8h1.3V959.7h-1.3ZM688.85 935.5h1.3V959.8h-1.3ZM689.85 955.7h1.3V959.9h-1.3ZM690.85 944.5h1.3V959.1h-1.3ZM691.85 949.0h1.3V957.5h-1.3ZM692.85 951.8h1.3V954.5h-1.3ZM693.85 945.0h1.3V952.0h-1.3ZM694.85 934.0h1.3V949.8h-1.3ZM695.85 940.2h1.3V949.5h-1.3ZM696.85 807.5h1.3V949.2h-1.3ZM697.85 825.5h1.3V948.8h-1.3ZM698.85 941.7h1.3V948.8h-1.3ZM699.85 933.2h1.3V949.7h-1.3ZM700.85 942.7h1.3V952.5h-1.3ZM701.85 925.3h1.3V955.2h-1.3ZM702.85 955.2h1.3V957.4h-1.3ZM703.85 936.7h1.3V956.9h-1.3ZM704.85 935.1h1.3V956.4h-1.3ZM705.85 929.5h1.3V955.9h-1.3ZM706.85 932.7h1.3V955.4h-1.3ZM707.85 945.2h1.3V954.9h-1.3ZM708.85 950.5h1.3V954.4h-1.3ZM709.85 950.3h1.3V954.3h-1.3ZM710.85 932.4h1.3V954.4h-1.3ZM711.85 925.1h1.3V954.5h-1.3ZM712.85 945.8h1.3V954.6h-1.3ZM713.85 951.7h1.3V954.7h-1.3ZM714.85 949.4h1.3V954.9h-1.3ZM715.85 945.1h1.3V954.7h-1.3ZM716.85 911.0h1.3V954.3h-1.3ZM717.85 935.2h1.3V953.6h-1.3ZM718.85 946.1h1.3V952.9h-1.3ZM719.85 921.3h1.3V952.1h-1.3ZM720.85 927.8h1.3V951.4h-1.3ZM721.85 912.9h1.3V950.5h-1.3ZM722.85 939.9h1.3V949.2h-1.3ZM723.85 918.6h1.3V947.2h-1.3ZM724.85 910.7h1.3V944.8h-1.3ZM725.85 863.3h1.3V942.4h-1.3ZM726.85 806.3h1.3V938.2h-1.3ZM727.85 898.0h1.3V931.2h-1.3ZM728.85 892.7h1.3V928.2h-1.3ZM729.85 884.4h1.3V926.8h-1.3ZM730.85 924.7h1.3V927.6h-1.3ZM731.85 907.0h1.3V930.3h-1.3ZM732.85 903.9h1.3V934.3h-1.3ZM733.85 875.8h1.3V940.3h-1.3ZM734.85 913.5h1.3V945.3h-1.3ZM735.85 927.7h1.3V949.2h-1.3ZM736.85 909.2h1.3V951.2h-1.3ZM737.85 941.5h1.3V952.9h-1.3ZM738.85 926.2h1.3V954.6h-1.3ZM739.85 934.0h1.3V956.3h-1.3ZM740.85 954.4h1.3V958.0h-1.3ZM741.85 949.9h1.3V959.2h-1.3ZM742.85 955.0h1.3V960.4h-1.3ZM743.85 923.2h1.3V961.5h-1.3ZM744.85 924.4h1.3V962.1h-1.3ZM745.85 908.7h1.3V961.7h-1.3ZM746.85 955.6h1.3V959.8h-1.3ZM747.85 942.0h1.3V957.9h-1.3ZM748.85 917.0h1.3V955.1h-1.3ZM749.85 942.8h1.3V948.6h-1.3ZM750.85 936.7h1.3V940.0h-1.3ZM751.85 907.6h1.3V930.1h-1.3ZM752.85 912.4h1.3V925.0h-1.3ZM753.85 766.1h1.3V922.4h-1.3ZM754.85 784.1h1.3V923.1h-1.3ZM755.85 906.5h1.3V923.8h-1.3ZM756.85 908.4h1.3V925.2h-1.3ZM757.85 900.9h1.3V928.8h-1.3ZM758.85 929.0h1.3V936.7h-1.3ZM759.85 916.0h1.3V946.0h-1.3ZM760.85 925.3h1.3V948.9h-1.3ZM761.85 911.1h1.3V950.5h-1.3ZM762.85 945.2h1.3V950.8h-1.3ZM763.85 945.9h1.3V951.0h-1.3ZM764.85 933.3h1.3V951.3h-1.3ZM765.85 943.2h1.3V951.7h-1.3ZM766.85 940.1h1.3V952.3h-1.3ZM767.85 918.0h1.3V953.0h-1.3ZM768.85 894.1h1.3V953.7h-1.3ZM769.85 951.7h1.3V954.5h-1.3ZM770.85 950.8h1.3V955.2h-1.3ZM771.85 948.6h1.3V954.8h-1.3ZM772.85 931.0h1.3V954.2h-1.3ZM773.85 937.2h1.3V953.6h-1.3ZM774.85 934.8h1.3V952.6h-1.3ZM775.85 898.5h1.3V951.3h-1.3ZM776.85 914.5h1.3V950.0h-1.3ZM777.85 944.1h1.3V948.7h-1.3ZM778.85 942.5h1.3V947.4h-1.3ZM779.85 938.5h1.3V947.0h-1.3ZM780.85 913.8h1.3V946.9h-1.3ZM781.85 928.3h1.3V947.0h-1.3ZM782.85 930.7h1.3V947.1h-1.3ZM783.85 941.8h1.3V947.2h-1.3ZM784.85 941.6h1.3V947.4h-1.3ZM785.85 932.3h1.3V946.5h-1.3ZM786.85 938.6h1.3V945.1h-1.3ZM787.85 879.5h1.3V942.3h-1.3ZM788.85 921.9h1.3V939.5h-1.3ZM789.85 909.4h1.3V936.6h-1.3ZM790.85 925.2h1.3V934.2h-1.3ZM791.85 917.6h1.3V932.1h-1.3ZM792.85 901.0h1.3V930.6h-1.3ZM793.85 901.7h1.3V929.7h-1.3ZM794.85 915.3h1.3V929.6h-1.3ZM795.85 897.0h1.3V932.1h-1.3ZM796.85 902.1h1.3V934.6h-1.3ZM797.85 927.9h1.3V937.1h-1.3ZM798.85 922.0h1.3V939.4h-1.3ZM799.85 923.1h1.3V940.3h-1.3ZM800.85 936.5h1.3V939.3h-1.3ZM801.85 913.4h1.3V938.3h-1.3ZM802.85 887.6h1.3V937.6h-1.3ZM803.85 906.1h1.3V937.7h-1.3ZM804.85 912.0h1.3V937.9h-1.3ZM805.85 902.2h1.3V938.0h-1.3ZM806.85 875.1h1.3V938.2h-1.3ZM807.85 928.6h1.3V937.9h-1.3ZM808.85 913.6h1.3V937.1h-1.3ZM809.85 919.4h1.3V936.2h-1.3ZM810.85 927.8h1.3V935.7h-1.3ZM811.85 929.9h1.3V936.4h-1.3ZM812.85 931.9h1.3V937.8h-1.3ZM813.85 919.6h1.3V939.3h-1.3ZM814.85 935.5h1.3V941.1h-1.3ZM815.85 917.6h1.3V943.0h-1.3ZM816.85 925.8h1.3V945.0h-1.3ZM817.85 894.0h1.3V945.6h-1.3ZM818.85 936.9h1.3V945.7h-1.3ZM819.85 940.7h1.3V944.9h-1.3ZM820.85 937.8h1.3V945.1h-1.3ZM821.85 895.1h1.3V945.6h-1.3ZM822.85 930.2h1.3V946.0h-1.3ZM823.85 937.2h1.3V946.9h-1.3ZM824.85 917.4h1.3V948.0h-1.3ZM825.85 908.8h1.3V950.8h-1.3ZM826.85 925.8h1.3V953.3h-1.3ZM827.85 914.8h1.3V955.6h-1.3ZM828.85 910.2h1.3V955.7h-1.3ZM829.85 949.9h1.3V955.6h-1.3ZM830.85 942.3h1.3V955.4h-1.3ZM831.85 953.1h1.3V955.3h-1.3ZM832.85 937.4h1.3V955.2h-1.3ZM833.85 930.7h1.3V955.1h-1.3ZM834.85 948.2h1.3V955.1h-1.3ZM835.85 869.2h1.3V955.3h-1.3ZM836.85 952.4h1.3V955.5h-1.3ZM837.85 914.6h1.3V955.7h-1.3ZM838.85 948.6h1.3V955.9h-1.3ZM839.85 928.7h1.3V956.1h-1.3ZM840.85 952.2h1.3V956.3h-1.3ZM841.85 942.5h1.3V956.3h-1.3ZM842.85 909.1h1.3V956.4h-1.3ZM843.85 919.7h1.3V956.4h-1.3ZM844.85 933.9h1.3V956.5h-1.3ZM845.85 947.3h1.3V956.5h-1.3ZM846.85 923.4h1.3V956.5h-1.3ZM847.85 901.3h1.3V956.6h-1.3ZM848.85 948.2h1.3V956.6h-1.3ZM849.85 924.3h1.3V956.6h-1.3ZM850.85 931.4h1.3V954.0h-1.3ZM851.85 944.4h1.3V949.6h-1.3ZM852.85 896.8h1.3V941.1h-1.3ZM853.85 922.3h1.3V932.8h-1.3ZM854.85 908.8h1.3V924.8h-1.3ZM855.85 889.6h1.3V917.5h-1.3ZM856.85 888.6h1.3V910.9h-1.3ZM857.85 889.1h1.3V905.8h-1.3ZM858.85 894.7h1.3V905.3h-1.3ZM859.85 872.9h1.3V907.1h-1.3ZM860.85 883.4h1.3V912.3h-1.3ZM861.85 908.7h1.3V918.7h-1.3ZM862.85 909.2h1.3V925.9h-1.3ZM863.85 914.4h1.3V933.2h-1.3ZM864.85 916.1h1.3V941.2h-1.3ZM865.85 915.5h1.3V950.2h-1.3ZM866.85 927.7h1.3V955.8h-1.3ZM867.85 941.8h1.3V959.6h-1.3ZM868.85 924.8h1.3V960.0h-1.3ZM869.85 958.3h1.3V960.5h-1.3ZM870.85 957.4h1.3V960.9h-1.3ZM871.85 940.8h1.3V961.3h-1.3ZM872.85 956.3h1.3V961.3h-1.3ZM873.85 925.8h1.3V960.9h-1.3ZM874.85 940.0h1.3V960.2h-1.3ZM875.85 953.5h1.3V959.6h-1.3ZM876.85 955.7h1.3V958.9h-1.3ZM877.85 916.0h1.3V958.5h-1.3ZM878.85 955.9h1.3V958.3h-1.3ZM879.85 930.7h1.3V958.2h-1.3ZM880.85 912.4h1.3V958.1h-1.3ZM881.85 916.7h1.3V958.1h-1.3ZM882.85 933.5h1.3V957.5h-1.3ZM883.85 934.5h1.3V956.7h-1.3ZM884.85 941.1h1.3V955.6h-1.3ZM885.85 925.1h1.3V954.6h-1.3ZM886.85 918.0h1.3V953.5h-1.3ZM887.85 946.6h1.3V952.4h-1.3ZM888.85 930.7h1.3V952.2h-1.3ZM889.85 917.3h1.3V952.5h-1.3ZM890.85 945.7h1.3V953.1h-1.3ZM891.85 867.3h1.3V953.6h-1.3ZM892.85 925.1h1.3V954.0h-1.3ZM893.85 935.0h1.3V953.7h-1.3ZM894.85 946.0h1.3V953.4h-1.3ZM895.85 932.1h1.3V953.0h-1.3ZM896.85 935.4h1.3V952.6h-1.3ZM897.85 944.5h1.3V952.2h-1.3ZM898.85 948.9h1.3V951.9h-1.3ZM899.85 937.9h1.3V951.9h-1.3ZM900.85 932.2h1.3V952.2h-1.3ZM901.85 946.5h1.3V952.6h-1.3ZM902.85 898.6h1.3V953.0h-1.3ZM903.85 944.9h1.3V953.4h-1.3ZM904.85 949.7h1.3V953.7h-1.3ZM905.85 949.9h1.3V954.3h-1.3ZM906.85 941.0h1.3V955.8h-1.3ZM907.85 954.3h1.3V957.5h-1.3ZM908.85 948.2h1.3V959.4h-1.3ZM909.85 915.2h1.3V961.2h-1.3ZM910.85 925.3h1.3V963.1h-1.3ZM911.85 947.7h1.3V965.0h-1.3ZM912.85 963.0h1.3V967.0h-1.3ZM913.85 932.8h1.3V969.0h-1.3ZM914.85 948.3h1.3V971.0h-1.3ZM915.85 970.0h1.3V972.4h-1.3ZM916.85 938.1h1.3V973.4h-1.3ZM917.85 966.3h1.3V973.6h-1.3ZM918.85 943.0h1.3V973.7h-1.3ZM919.85 917.4h1.3V973.8h-1.3ZM920.85 968.8h1.3V973.9h-1.3ZM921.85 950.4h1.3V974.1h-1.3ZM922.85 970.5h1.3V974.2h-1.3ZM923.85 942.0h1.3V974.3h-1.3ZM924.85 966.7h1.3V974.4h-1.3ZM925.85 959.1h1.3V974.6h-1.3ZM926.85 961.2h1.3V974.7h-1.3ZM927.85 969.9h1.3V974.8h-1.3ZM928.85 961.4h1.3V975.0h-1.3ZM929.85 932.1h1.3V975.2h-1.3ZM930.85 942.9h1.3V975.7h-1.3ZM931.85 947.7h1.3V976.1h-1.3ZM932.85 970.3h1.3V976.6h-1.3ZM933.85 965.8h1.3V977.0h-1.3ZM934.85 926.5h1.3V977.5h-1.3ZM935.85 891.3h1.3V977.8h-1.3ZM936.85 943.1h1.3V976.5h-1.3ZM937.85 962.5h1.3V975.0h-1.3ZM938.85 902.1h1.3V973.3h-1.3ZM939.85 959.1h1.3V972.4h-1.3ZM940.85 965.8h1.3V971.8h-1.3ZM941.85 950.8h1.3V971.2h-1.3ZM942.85 943.0h1.3V970.8h-1.3ZM943.85 959.4h1.3V970.3h-1.3ZM944.85 946.1h1.3V970.4h-1.3ZM945.85 903.8h1.3V970.6h-1.3ZM946.85 934.1h1.3V971.0h-1.3ZM947.85 951.5h1.3V970.8h-1.3ZM948.85 964.8h1.3V970.4h-1.3ZM949.85 964.7h1.3V969.6h-1.3ZM950.85 959.5h1.3V969.5h-1.3ZM951.85 957.4h1.3V969.8h-1.3ZM952.85 952.1h1.3V971.1h-1.3ZM953.85 949.5h1.3V972.4h-1.3ZM954.85 954.5h1.3V973.7h-1.3ZM955.85 954.3h1.3V975.1h-1.3ZM956.85 943.4h1.3V976.3h-1.3ZM957.85 931.2h1.3V977.3h-1.3ZM958.85 957.1h1.3V977.4h-1.3ZM959.85 951.1h1.3V977.2h-1.3ZM960.85 973.5h1.3V977.1h-1.3ZM961.85 945.7h1.3V977.0h-1.3ZM962.85 949.2h1.3V976.9h-1.3ZM963.85 971.5h1.3V976.7h-1.3ZM964.85 947.0h1.3V976.6h-1.3ZM965.85 958.1h1.3V976.4h-1.3ZM966.85 952.5h1.3V976.2h-1.3ZM967.85 969.2h1.3V976.0h-1.3ZM968.85 937.4h1.3V975.8h-1.3ZM969.85 971.5h1.3V975.6h-1.3ZM970.85 921.1h1.3V975.5h-1.3ZM971.85 892.9h1.3V976.0h-1.3ZM972.85 955.8h1.3V976.6h-1.3ZM973.85 969.3h1.3V977.3h-1.3ZM974.85 960.3h1.3V978.0h-1.3ZM975.85 976.3h1.3V978.7h-1.3ZM976.85 974.4h1.3V979.4h-1.3ZM977.85 960.2h1.3V979.5h-1.3ZM978.85 939.8h1.3V979.2h-1.3ZM979.85 962.6h1.3V978.6h-1.3ZM980.85 956.6h1.3V977.9h-1.3ZM981.85 949.8h1.3V977.2h-1.3ZM982.85 923.6h1.3V976.2h-1.3ZM983.85 910.9h1.3V975.0h-1.3ZM984.85 896.5h1.3V973.6h-1.3ZM985.85 907.4h1.3V972.2h-1.3ZM986.85 969.1h1.3V971.0h-1.3ZM987.85 935.5h1.3V970.2h-1.3ZM988.85 836.6h1.3V970.4h-1.3ZM989.85 954.5h1.3V971.0h-1.3ZM990.85 903.8h1.3V972.0h-1.3ZM991.85 934.7h1.3V973.8h-1.3ZM992.85 922.3h1.3V976.2h-1.3ZM993.85 950.3h1.3V978.6h-1.3ZM994.85 905.6h1.3V980.5h-1.3ZM995.85 945.7h1.3V981.5h-1.3ZM996.85 926.1h1.3V982.5h-1.3ZM997.85 934.2h1.3V983.0h-1.3ZM998.85 957.6h1.3V981.3h-1.3ZM999.85 922.3h1.3V979.5h-1.3ZM1000.85 890.4h1.3V977.8h-1.3ZM1001.85 957.5h1.3V976.0h-1.3ZM1002.85 939.3h1.3V974.1h-1.3ZM1003.85 958.3h1.3V972.3h-1.3ZM1004.85 942.4h1.3V970.5h-1.3ZM1005.85 935.1h1.3V969.1h-1.3ZM1006.85 878.0h1.3V969.0h-1.3ZM1007.85 943.0h1.3V968.9h-1.3ZM1008.85 957.0h1.3V968.8h-1.3ZM1009.85 943.3h1.3V967.9h-1.3ZM1010.85 921.9h1.3V967.1h-1.3ZM1011.85 832.6h1.3V966.4h-1.3ZM1012.85 950.6h1.3V965.9h-1.3ZM1013.85 929.3h1.3V965.5h-1.3ZM1014.85 893.0h1.3V965.1h-1.3ZM1015.85 948.7h1.3V964.9h-1.3ZM1016.85 916.7h1.3V964.9h-1.3ZM1017.85 937.0h1.3V965.1h-1.3ZM1018.85 945.4h1.3V965.3h-1.3ZM1019.85 960.6h1.3V965.6h-1.3ZM1020.85 918.2h1.3V966.1h-1.3ZM1021.85 924.5h1.3V966.9h-1.3ZM1022.85 882.9h1.3V968.3h-1.3ZM1023.85 872.4h1.3V969.6h-1.3ZM1024.85 892.5h1.3V970.9h-1.3ZM1025.85 958.7h1.3V972.3h-1.3ZM1026.85 885.8h1.3V973.7h-1.3ZM1027.85 910.5h1.3V975.2h-1.3ZM1028.85 970.7h1.3V976.7h-1.3ZM1029.85 923.6h1.3V978.2h-1.3ZM1030.85 943.8h1.3V979.7h-1.3ZM1031.85 966.5h1.3V980.8h-1.3ZM1032.85 884.8h1.3V981.7h-1.3ZM1033.85 969.9h1.3V982.6h-1.3ZM1034.85 945.3h1.3V983.6h-1.3ZM1035.85 960.9h1.3V984.3h-1.3ZM1036.85 926.3h1.3V984.0h-1.3ZM1037.85 919.2h1.3V983.4h-1.3ZM1038.85 932.0h1.3V982.8h-1.3ZM1039.85 948.8h1.3V982.1h-1.3ZM1040.85 907.4h1.3V981.6h-1.3ZM1041.85 931.0h1.3V981.2h-1.3ZM1042.85 907.8h1.3V981.0h-1.3ZM1043.85 954.3h1.3V980.8h-1.3ZM1044.85 954.8h1.3V980.6h-1.3ZM1045.85 888.8h1.3V980.4h-1.3ZM1046.85 926.4h1.3V980.2h-1.3ZM1047.85 963.4h1.3V979.3h-1.3ZM1048.85 919.3h1.3V978.1h-1.3ZM1049.85 892.1h1.3V976.4h-1.3ZM1050.85 913.4h1.3V974.7h-1.3ZM1051.85 956.4h1.3V973.2h-1.3ZM1052.85 946.6h1.3V972.0h-1.3ZM1053.85 931.5h1.3V971.7h-1.3ZM1054.85 951.5h1.3V971.7h-1.3ZM1055.85 937.6h1.3V971.7h-1.3ZM1056.85 892.0h1.3V971.8h-1.3ZM1057.85 882.5h1.3V972.0h-1.3ZM1058.85 944.7h1.3V973.3h-1.3ZM1059.85 960.8h1.3V974.7h-1.3ZM1060.85 965.1h1.3V976.1h-1.3ZM1061.85 842.4h1.3V976.2h-1.3ZM1062.85 960.1h1.3V975.7h-1.3ZM1063.85 964.4h1.3V973.9h-1.3ZM1064.85 921.8h1.3V972.1h-1.3ZM1065.85 931.4h1.3V970.3h-1.3ZM1066.85 935.2h1.3V966.8h-1.3ZM1067.85 891.7h1.3V963.3h-1.3ZM1068.85 950.4h1.3V959.6h-1.3ZM1069.85 934.6h1.3V955.9h-1.3ZM1070.85 920.0h1.3V953.0h-1.3ZM1071.85 827.9h1.3V952.5h-1.3ZM1072.85 907.9h1.3V952.6h-1.3ZM1073.85 929.2h1.3V953.2h-1.3ZM1074.85 890.0h1.3V955.3h-1.3ZM1075.85 906.6h1.3V957.8h-1.3ZM1076.85 931.8h1.3V960.8h-1.3ZM1077.85 960.3h1.3V964.1h-1.3ZM1078.85 892.5h1.3V967.4h-1.3ZM1079.85 923.4h1.3V970.9h-1.3ZM1080.85 846.0h1.3V974.4h-1.3ZM1081.85 929.8h1.3V977.5h-1.3ZM1082.85 898.3h1.3V977.5h-1.3ZM1083.85 952.3h1.3V974.7h-1.3ZM1084.85 939.8h1.3V969.5h-1.3ZM1085.85 856.1h1.3V965.2h-1.3ZM1086.85 948.8h1.3V961.9h-1.3ZM1087.85 872.7h1.3V960.1h-1.3ZM1088.85 816.5h1.3V958.2h-1.3ZM1089.85 834.5h1.3V956.2h-1.3ZM1090.85 926.2h1.3V953.5h-1.3ZM1091.85 920.8h1.3V953.4h-1.3ZM1092.85 881.9h1.3V955.1h-1.3ZM1093.85 890.2h1.3V959.3h-1.3ZM1094.85 945.2h1.3V962.8h-1.3ZM1095.85 938.2h1.3V965.4h-1.3ZM1096.85 920.8h1.3V966.7h-1.3ZM1097.85 954.4h1.3V967.7h-1.3ZM1098.85 920.4h1.3V968.7h-1.3ZM1099.85 961.2h1.3V969.2h-1.3ZM1100.85 932.4h1.3V969.4h-1.3ZM1101.85 941.6h1.3V969.6h-1.3ZM1102.85 866.8h1.3V969.8h-1.3ZM1103.85 948.5h1.3V969.9h-1.3ZM1104.85 835.8h1.3V969.6h-1.3ZM1105.85 932.4h1.3V969.2h-1.3ZM1106.85 963.1h1.3V968.8h-1.3ZM1107.85 864.4h1.3V968.2h-1.3ZM1108.85 888.1h1.3V967.7h-1.3ZM1109.85 960.4h1.3V967.1h-1.3ZM1110.85 903.0h1.3V966.5h-1.3ZM1111.85 924.3h1.3V965.8h-1.3ZM1112.85 956.3h1.3V965.2h-1.3ZM1113.85 957.9h1.3V964.4h-1.3ZM1114.85 941.1h1.3V963.6h-1.3ZM1115.85 914.8h1.3V962.7h-1.3ZM1116.85 927.5h1.3V961.7h-1.3ZM1117.85 884.1h1.3V960.7h-1.3ZM1118.85 929.3h1.3V960.1h-1.3ZM1119.85 836.7h1.3V959.8h-1.3ZM1120.85 837.6h1.3V960.9h-1.3ZM1121.85 919.7h1.3V962.1h-1.3ZM1122.85 942.6h1.3V963.2h-1.3ZM1123.85 895.7h1.3V964.2h-1.3ZM1124.85 920.3h1.3V964.7h-1.3ZM1125.85 932.9h1.3V964.1h-1.3ZM1126.85 911.9h1.3V963.4h-1.3ZM1127.85 945.6h1.3V962.8h-1.3ZM1128.85 937.6h1.3V962.2h-1.3ZM1129.85 959.3h1.3V961.6h-1.3ZM1130.85 929.5h1.3V960.9h-1.3ZM1131.85 930.6h1.3V962.3h-1.3ZM1132.85 934.4h1.3V963.8h-1.3ZM1133.85 870.2h1.3V965.4h-1.3ZM1134.85 899.8h1.3V967.1h-1.3ZM1135.85 918.3h1.3V968.7h-1.3ZM1136.85 954.8h1.3V970.3h-1.3ZM1137.85 868.6h1.3V971.1h-1.3ZM1138.85 962.0h1.3V971.4h-1.3ZM1139.85 887.7h1.3V971.1h-1.3ZM1140.85 916.9h1.3V970.9h-1.3ZM1141.85 945.9h1.3V970.6h-1.3ZM1142.85 960.0h1.3V970.4h-1.3ZM1143.85 928.3h1.3V970.3h-1.3ZM1144.85 918.1h1.3V970.7h-1.3ZM1145.85 919.9h1.3V971.5h-1.3ZM1146.85 932.8h1.3V972.5h-1.3ZM1147.85 900.1h1.3V973.5h-1.3ZM1148.85 945.2h1.3V974.5h-1.3ZM1149.85 966.2h1.3V975.5h-1.3ZM1150.85 877.9h1.3V976.4h-1.3ZM1151.85 899.3h1.3V977.2h-1.3ZM1152.85 922.0h1.3V977.8h-1.3ZM1153.85 952.2h1.3V978.4h-1.3ZM1154.85 963.4h1.3V979.1h-1.3ZM1155.85 929.0h1.3V979.7h-1.3ZM1156.85 943.5h1.3V980.2h-1.3ZM1157.85 907.7h1.3V980.6h-1.3ZM1158.85 931.2h1.3V979.5h-1.3ZM1159.85 939.3h1.3V978.4h-1.3ZM1160.85 970.1h1.3V977.3h-1.3ZM1161.85 964.3h1.3V976.1h-1.3ZM1162.85 938.7h1.3V975.0h-1.3ZM1163.85 905.3h1.3V973.9h-1.3ZM1164.85 847.4h1.3V973.2h-1.3ZM1165.85 875.9h1.3V972.8h-1.3ZM1166.85 846.8h1.3V972.5h-1.3ZM1167.85 863.9h1.3V972.2h-1.3ZM1168.85 941.4h1.3V971.8h-1.3ZM1169.85 964.9h1.3V972.4h-1.3ZM1170.85 945.4h1.3V973.2h-1.3ZM1171.85 955.3h1.3V974.2h-1.3ZM1172.85 957.7h1.3V975.2h-1.3ZM1173.85 915.3h1.3V976.2h-1.3ZM1174.85 855.0h1.3V977.2h-1.3ZM1175.85 854.9h1.3V977.6h-1.3ZM1176.85 856.4h1.3V977.5h-1.3ZM1177.85 939.0h1.3V976.5h-1.3ZM1178.85 911.6h1.3V975.5h-1.3ZM1179.85 963.2h1.3V974.5h-1.3ZM1180.85 938.3h1.3V974.0h-1.3ZM1181.85 893.7h1.3V973.8h-1.3ZM1182.85 901.6h1.3V974.2h-1.3ZM1183.85 841.0h1.3V974.8h-1.3ZM1184.85 964.5h1.3V975.2h-1.3ZM1185.85 907.6h1.3V975.8h-1.3ZM1186.85 971.0h1.3V976.3h-1.3ZM1187.85 868.1h1.3V976.9h-1.3ZM1188.85 958.4h1.3V977.8h-1.3ZM1189.85 969.9h1.3V978.8h-1.3ZM1190.85 846.0h1.3V979.8h-1.3ZM1191.85 927.9h1.3V980.8h-1.3ZM1192.85 906.5h1.3V981.5h-1.3ZM1193.85 917.9h1.3V980.2h-1.3ZM1194.85 968.7h1.3V979.0h-1.3ZM1195.85 917.9h1.3V977.7h-1.3ZM1196.85 871.3h1.3V974.9h-1.3ZM1197.85 932.0h1.3V972.0h-1.3ZM1198.85 945.7h1.3V969.0h-1.3ZM1199.85 900.4h1.3V967.0h-1.3ZM1200.85 928.9h1.3V965.7h-1.3ZM1201.85 951.3h1.3V966.5h-1.3ZM1202.85 925.0h1.3V967.3h-1.3ZM1203.85 939.0h1.3V968.0h-1.3ZM1204.85 949.1h1.3V970.0h-1.3ZM1205.85 942.3h1.3V972.2h-1.3ZM1206.85 971.2h1.3V974.8h-1.3ZM1207.85 975.4h1.3V977.2h-1.3ZM1208.85 970.3h1.3V978.4h-1.3ZM1209.85 842.4h1.3V976.2h-1.3ZM1210.85 938.3h1.3V974.0h-1.3ZM1211.85 883.0h1.3V971.8h-1.3ZM1212.85 952.5h1.3V968.6h-1.3ZM1213.85 839.0h1.3V964.9h-1.3ZM1214.85 840.2h1.3V960.5h-1.3ZM1215.85 924.0h1.3V956.1h-1.3ZM1216.85 911.8h1.3V952.8h-1.3ZM1217.85 944.8h1.3V952.1h-1.3ZM1218.85 828.0h1.3V952.0h-1.3ZM1219.85 828.4h1.3V952.1h-1.3ZM1220.85 903.1h1.3V952.2h-1.3ZM1221.85 943.1h1.3V952.3h-1.3ZM1222.85 905.3h1.3V952.3h-1.3ZM1223.85 935.5h1.3V951.1h-1.3ZM1224.85 855.6h1.3V950.0h-1.3ZM1225.85 876.6h1.3V948.8h-1.3ZM1226.85 926.9h1.3V947.6h-1.3ZM1227.85 899.5h1.3V946.5h-1.3ZM1228.85 811.7h1.3V945.5h-1.3ZM1229.85 926.8h1.3V944.5h-1.3ZM1230.85 904.5h1.3V943.5h-1.3ZM1231.85 923.4h1.3V943.3h-1.3ZM1232.85 866.3h1.3V943.7h-1.3ZM1233.85 885.3h1.3V944.9h-1.3ZM1234.85 944.0h1.3V946.1h-1.3ZM1235.85 938.3h1.3V947.3h-1.3ZM1236.85 926.3h1.3V948.3h-1.3ZM1237.85 815.5h1.3V949.3h-1.3ZM1238.85 930.9h1.3V950.3h-1.3ZM1239.85 914.8h1.3V951.2h-1.3ZM1240.85 875.4h1.3V951.5h-1.3ZM1241.85 903.6h1.3V951.3h-1.3ZM1242.85 890.9h1.3V951.1h-1.3ZM1243.85 905.5h1.3V951.1h-1.3ZM1244.85 936.2h1.3V951.3h-1.3ZM1245.85 934.2h1.3V951.8h-1.3ZM1246.85 926.4h1.3V952.5h-1.3ZM1247.85 918.3h1.3V953.2h-1.3ZM1248.85 908.0h1.3V953.6h-1.3ZM1249.85 922.2h1.3V954.0h-1.3ZM1250.85 819.6h1.3V953.7h-1.3ZM1251.85 872.8h1.3V953.3h-1.3ZM1252.85 948.6h1.3V953.0h-1.3ZM1253.85 939.7h1.3V952.7h-1.3ZM1254.85 819.2h1.3V952.3h-1.3ZM1255.85 934.3h1.3V952.0h-1.3ZM1256.85 867.9h1.3V951.6h-1.3ZM1257.85 904.6h1.3V951.3h-1.3ZM1258.85 918.3h1.3V951.2h-1.3ZM1259.85 917.0h1.3V951.1h-1.3ZM1260.85 947.0h1.3V951.0h-1.3ZM1261.85 907.0h1.3V950.9h-1.3ZM1262.85 918.5h1.3V951.2h-1.3ZM1263.85 857.6h1.3V952.4h-1.3ZM1264.85 896.1h1.3V953.7h-1.3ZM1265.85 935.8h1.3V955.1h-1.3ZM1266.85 948.4h1.3V956.4h-1.3ZM1267.85 876.9h1.3V957.9h-1.3ZM1268.85 918.4h1.3V959.6h-1.3ZM1269.85 941.6h1.3V961.4h-1.3ZM1270.85 901.3h1.3V963.1h-1.3ZM1271.85 830.7h1.3V964.5h-1.3ZM1272.85 949.4h1.3V963.8h-1.3ZM1273.85 911.8h1.3V962.6h-1.3ZM1274.85 912.6h1.3V961.4h-1.3ZM1275.85 863.8h1.3V959.8h-1.3ZM1276.85 866.6h1.3V958.0h-1.3ZM1277.85 936.2h1.3V955.6h-1.3ZM1278.85 894.0h1.3V953.2h-1.3ZM1279.85 937.6h1.3V950.8h-1.3ZM1280.85 852.4h1.3V949.0h-1.3ZM1281.85 921.0h1.3V947.3h-1.3ZM1282.85 833.3h1.3V945.7h-1.3ZM1283.85 845.5h1.3V944.6h-1.3ZM1284.85 850.2h1.3V944.0h-1.3ZM1285.85 888.7h1.3V945.2h-1.3ZM1286.85 822.4h1.3V946.5h-1.3ZM1287.85 825.7h1.3V948.0h-1.3ZM1288.85 921.7h1.3V950.4h-1.3ZM1289.85 870.2h1.3V952.9h-1.3ZM1290.85 919.2h1.3V955.4h-1.3ZM1291.85 880.5h1.3V957.9h-1.3ZM1292.85 917.8h1.3V960.1h-1.3ZM1293.85 923.4h1.3V961.2h-1.3ZM1294.85 957.0h1.3V962.2h-1.3ZM1295.85 938.3h1.3V963.2h-1.3ZM1296.85 880.7h1.3V964.2h-1.3ZM1297.85 946.5h1.3V964.2h-1.3ZM1298.85 864.1h1.3V963.0h-1.3ZM1299.85 889.1h1.3V961.4h-1.3ZM1300.85 838.4h1.3V959.7h-1.3ZM1301.85 854.4h1.3V958.1h-1.3ZM1302.85 950.0h1.3V956.8h-1.3ZM1303.85 946.0h1.3V955.7h-1.3ZM1304.85 948.6h1.3V954.9h-1.3ZM1305.85 893.5h1.3V954.0h-1.3ZM1306.85 893.4h1.3V953.2h-1.3ZM1307.85 819.3h1.3V953.1h-1.3ZM1308.85 820.7h1.3V953.3h-1.3ZM1309.85 931.1h1.3V953.9h-1.3ZM1310.85 907.9h1.3V954.6h-1.3ZM1311.85 851.1h1.3V955.4h-1.3ZM1312.85 868.6h1.3V956.5h-1.3ZM1313.85 914.5h1.3V958.2h-1.3ZM1314.85 927.8h1.3V960.2h-1.3ZM1315.85 847.6h1.3V961.3h-1.3ZM1316.85 877.1h1.3V961.4h-1.3ZM1317.85 885.8h1.3V960.1h-1.3ZM1318.85 947.6h1.3V958.7h-1.3ZM1319.85 823.8h1.3V957.4h-1.3ZM1320.85 849.0h1.3V956.3h-1.3ZM1321.85 898.0h1.3V956.0h-1.3ZM1322.85 917.6h1.3V956.3h-1.3ZM1323.85 941.5h1.3V956.5h-1.3ZM1324.85 946.3h1.3V956.8h-1.3ZM1325.85 928.6h1.3V957.0h-1.3ZM1326.85 877.8h1.3V957.3h-1.3ZM1327.85 917.5h1.3V957.4h-1.3ZM1328.85 948.1h1.3V957.4h-1.3ZM1329.85 880.6h1.3V957.3h-1.3ZM1330.85 952.6h1.3V957.2h-1.3ZM1331.85 880.9h1.3V957.1h-1.3ZM1332.85 928.9h1.3V957.1h-1.3ZM1333.85 938.5h1.3V957.1h-1.3ZM1334.85 925.0h1.3V957.3h-1.3ZM1335.85 882.6h1.3V957.5h-1.3ZM1336.85 933.0h1.3V958.1h-1.3ZM1337.85 863.4h1.3V960.9h-1.3ZM1338.85 895.5h1.3V964.3h-1.3ZM1339.85 951.4h1.3V967.7h-1.3ZM1340.85 949.5h1.3V970.7h-1.3ZM1341.85 897.9h1.3V973.5h-1.3ZM1342.85 918.2h1.3V975.8h-1.3ZM1343.85 856.5h1.3V977.5h-1.3ZM1344.85 885.8h1.3V978.7h-1.3ZM1345.85 932.0h1.3V978.4h-1.3ZM1346.85 974.9h1.3V977.8h-1.3ZM1347.85 922.1h1.3V976.7h-1.3ZM1348.85 963.3h1.3V974.9h-1.3ZM1349.85 906.7h1.3V972.7h-1.3ZM1350.85 943.8h1.3V970.7h-1.3ZM1351.85 884.2h1.3V969.3h-1.3ZM1352.85 950.5h1.3V968.5h-1.3ZM1353.85 884.6h1.3V967.6h-1.3ZM1354.85 933.1h1.3V966.8h-1.3ZM1355.85 838.5h1.3V966.0h-1.3ZM1356.85 932.2h1.3V965.0h-1.3ZM1357.85 925.7h1.3V964.0h-1.3ZM1358.85 940.2h1.3V963.0h-1.3ZM1359.85 900.6h1.3V962.0h-1.3ZM1360.85 933.1h1.3V961.0h-1.3ZM1361.85 909.9h1.3V960.9h-1.3ZM1362.85 900.3h1.3V960.8h-1.3ZM1363.85 933.7h1.3V960.8h-1.3ZM1364.85 909.8h1.3V960.8h-1.3ZM1365.85 952.1h1.3V960.8h-1.3ZM1366.85 865.5h1.3V960.5h-1.3ZM1367.85 906.7h1.3V960.2h-1.3ZM1368.85 943.3h1.3V959.9h-1.3ZM1369.85 902.7h1.3V959.6h-1.3ZM1370.85 905.0h1.3V959.6h-1.3ZM1371.85 903.9h1.3V960.1h-1.3ZM1372.85 927.2h1.3V961.0h-1.3ZM1373.85 854.8h1.3V962.2h-1.3ZM1374.85 900.6h1.3V963.7h-1.3ZM1375.85 896.7h1.3V965.8h-1.3ZM1376.85 891.4h1.3V967.9h-1.3ZM1377.85 953.2h1.3V970.1h-1.3ZM1378.85 883.0h1.3V972.0h-1.3ZM1379.85 852.4h1.3V973.8h-1.3ZM1380.85 841.0h1.3V974.8h-1.3ZM1381.85 905.9h1.3V975.7h-1.3ZM1382.85 867.7h1.3V976.2h-1.3ZM1383.85 940.2h1.3V975.5h-1.3ZM1384.85 951.3h1.3V974.5h-1.3ZM1385.85 872.5h1.3V973.5h-1.3ZM1386.85 929.3h1.3V972.3h-1.3ZM1387.85 933.3h1.3V971.0h-1.3ZM1388.85 957.3h1.3V966.7h-1.3ZM1389.85 934.9h1.3V962.5h-1.3ZM1390.85 858.5h1.3V958.2h-1.3ZM1391.85 874.6h1.3V958.5h-1.3ZM1392.85 923.3h1.3V959.9h-1.3ZM1393.85 948.2h1.3V962.3h-1.3ZM1394.85 876.5h1.3V964.7h-1.3ZM1395.85 900.2h1.3V967.2h-1.3ZM1396.85 905.2h1.3V970.2h-1.3ZM1397.85 936.6h1.3V973.4h-1.3ZM1398.85 951.9h1.3V976.6h-1.3ZM1399.85 873.0h1.3V979.0h-1.3ZM1400.85 960.4h1.3V980.2h-1.3ZM1401.85 957.5h1.3V979.2h-1.3ZM1402.85 880.4h1.3V978.2h-1.3ZM1403.85 855.8h1.3V977.3h-1.3ZM1404.85 933.0h1.3V977.3h-1.3ZM1405.85 907.6h1.3V977.7h-1.3ZM1406.85 921.8h1.3V978.3h-1.3ZM1407.85 858.9h1.3V979.0h-1.3ZM1408.85 857.7h1.3V979.8h-1.3ZM1409.85 968.7h1.3V980.9h-1.3ZM1410.85 966.2h1.3V982.4h-1.3ZM1411.85 896.6h1.3V984.0h-1.3ZM1412.85 851.8h1.3V985.6h-1.3ZM1413.85 921.3h1.3V984.7h-1.3ZM1414.85 979.9h1.3V982.4h-1.3ZM1415.85 885.8h1.3V979.2h-1.3ZM1416.85 930.2h1.3V976.0h-1.3ZM1417.85 946.9h1.3V972.9h-1.3ZM1418.85 956.1h1.3V969.8h-1.3ZM1419.85 957.2h1.3V966.8h-1.3ZM1420.85 830.0h1.3V963.8h-1.3ZM1421.85 941.0h1.3V960.9h-1.3ZM1422.85 915.4h1.3V958.8h-1.3ZM1423.85 945.5h1.3V961.4h-1.3ZM1424.85 908.5h1.3V964.1h-1.3ZM1425.85 929.6h1.3V966.8h-1.3ZM1426.85 950.8h1.3V969.4h-1.3ZM1427.85 946.8h1.3V972.0h-1.3ZM1428.85 937.5h1.3V974.4h-1.3ZM1429.85 959.4h1.3V976.7h-1.3ZM1430.85 911.1h1.3V979.1h-1.3ZM1431.85 960.4h1.3V981.4h-1.3ZM1432.85 954.6h1.3V982.6h-1.3ZM1433.85 871.1h1.3V983.1h-1.3ZM1434.85 953.9h1.3V983.0h-1.3ZM1435.85 914.1h1.3V982.8h-1.3ZM1436.85 858.4h1.3V982.6h-1.3ZM1437.85 869.8h1.3V981.1h-1.3ZM1438.85 964.9h1.3V979.0h-1.3ZM1439.85 961.6h1.3V976.0h-1.3ZM1440.85 904.3h1.3V973.0h-1.3ZM1441.85 964.9h1.3V970.1h-1.3ZM1442.85 886.0h1.3V968.0h-1.3ZM1443.85 869.7h1.3V966.6h-1.3ZM1444.85 874.9h1.3V965.9h-1.3ZM1445.85 950.9h1.3V965.8h-1.3ZM1446.85 894.7h1.3V966.2h-1.3ZM1447.85 940.9h1.3V967.8h-1.3ZM1448.85 903.2h1.3V967.6h-1.3ZM1449.85 937.3h1.3V965.5h-1.3ZM1450.85 954.0h1.3V956.5h-1.3ZM1451.85 905.4h1.3V947.8h-1.3ZM1452.85 910.6h1.3V939.3h-1.3ZM1453.85 795.8h1.3V935.2h-1.3ZM1454.85 926.1h1.3V932.4h-1.3ZM1455.85 907.6h1.3V931.6h-1.3ZM1456.85 923.6h1.3V933.2h-1.3ZM1457.85 814.8h1.3V938.0h-1.3ZM1458.85 923.9h1.3V950.7h-1.3ZM1459.85 926.4h1.3V960.9h-1.3ZM1460.85 949.6h1.3V969.1h-1.3ZM1461.85 932.1h1.3V970.3h-1.3ZM1462.85 912.5h1.3V971.5h-1.3ZM1463.85 896.3h1.3V972.7h-1.3ZM1464.85 905.8h1.3V973.0h-1.3ZM1465.85 902.3h1.3V973.0h-1.3ZM1466.85 926.3h1.3V972.7h-1.3ZM1467.85 908.5h1.3V972.5h-1.3ZM1468.85 943.4h1.3V972.2h-1.3ZM1469.85 921.6h1.3V972.0h-1.3ZM1470.85 925.1h1.3V972.0h-1.3ZM1471.85 938.7h1.3V972.2h-1.3ZM1472.85 966.0h1.3V972.9h-1.3ZM1473.85 885.8h1.3V973.6h-1.3ZM1474.85 874.2h1.3V974.2h-1.3ZM1475.85 840.3h1.3V974.1h-1.3ZM1476.85 901.9h1.3V973.5h-1.3ZM1477.85 940.6h1.3V971.6h-1.3ZM1478.85 933.3h1.3V969.8h-1.3ZM1479.85 952.7h1.3V968.0h-1.3ZM1480.85 832.5h1.3V966.3h-1.3ZM1481.85 926.4h1.3V965.0h-1.3ZM1482.85 887.5h1.3V964.0h-1.3ZM1483.85 860.9h1.3V963.0h-1.3ZM1484.85 951.7h1.3V962.0h-1.3ZM1485.85 942.2h1.3V961.0h-1.3ZM1486.85 879.6h1.3V960.0h-1.3ZM1487.85 864.2h1.3V959.2h-1.3ZM1488.85 924.0h1.3V959.8h-1.3ZM1489.85 884.9h1.3V960.2h-1.3ZM1490.85 932.7h1.3V960.8h-1.3ZM1491.85 947.9h1.3V961.2h-1.3ZM1492.85 958.6h1.3V962.1h-1.3ZM1493.85 895.0h1.3V963.4h-1.3ZM1494.85 958.5h1.3V964.9h-1.3ZM1495.85 887.9h1.3V966.4h-1.3ZM1496.85 898.8h1.3V967.9h-1.3ZM1497.85 895.8h1.3V968.8h-1.3ZM1498.85 943.7h1.3V969.4h-1.3ZM1499.85 888.4h1.3V969.5h-1.3ZM1500.85 893.8h1.3V969.7h-1.3ZM1501.85 896.1h1.3V969.9h-1.3ZM1502.85 942.1h1.3V969.7h-1.3ZM1503.85 958.1h1.3V969.4h-1.3ZM1504.85 908.9h1.3V968.9h-1.3ZM1505.85 933.2h1.3V968.2h-1.3ZM1506.85 959.9h1.3V967.4h-1.3ZM1507.85 954.1h1.3V966.2h-1.3ZM1508.85 905.5h1.3V965.0h-1.3ZM1509.85 930.2h1.3V963.9h-1.3ZM1510.85 920.2h1.3V963.2h-1.3ZM1511.85 917.4h1.3V963.1h-1.3ZM1512.85 942.3h1.3V963.7h-1.3ZM1513.85 917.4h1.3V964.4h-1.3ZM1514.85 929.0h1.3V965.1h-1.3ZM1515.85 886.4h1.3V965.8h-1.3ZM1516.85 918.1h1.3V966.7h-1.3ZM1517.85 889.5h1.3V967.7h-1.3ZM1518.85 902.7h1.3V968.6h-1.3ZM1519.85 960.8h1.3V969.1h-1.3ZM1520.85 850.5h1.3V968.9h-1.3ZM1521.85 952.4h1.3V968.8h-1.3ZM1522.85 915.5h1.3V968.6h-1.3ZM1523.85 892.7h1.3V968.4h-1.3ZM1524.85 928.5h1.3V967.6h-1.3ZM1525.85 929.6h1.3V966.3h-1.3ZM1526.85 951.6h1.3V965.0h-1.3ZM1527.85 935.2h1.3V963.7h-1.3ZM1528.85 942.8h1.3V962.3h-1.3ZM1529.85 867.8h1.3V961.9h-1.3ZM1530.85 827.6h1.3V961.7h-1.3ZM1531.85 956.5h1.3V961.7h-1.3ZM1532.85 902.1h1.3V961.7h-1.3ZM1533.85 922.4h1.3V961.7h-1.3ZM1534.85 861.0h1.3V962.3h-1.3ZM1535.85 941.1h1.3V963.2h-1.3ZM1536.85 937.9h1.3V964.2h-1.3ZM1537.85 957.8h1.3V966.0h-1.3ZM1538.85 920.4h1.3V968.1h-1.3ZM1539.85 951.8h1.3V970.8h-1.3ZM1540.85 879.2h1.3V973.4h-1.3ZM1541.85 872.0h1.3V976.0h-1.3ZM1542.85 961.5h1.3V977.9h-1.3ZM1543.85 934.0h1.3V978.9h-1.3ZM1544.85 968.3h1.3V979.4h-1.3ZM1545.85 948.6h1.3V979.9h-1.3ZM1546.85 978.2h1.3V980.4h-1.3ZM1547.85 925.4h1.3V980.9h-1.3ZM1548.85 977.1h1.3V981.4h-1.3ZM1549.85 848.1h1.3V981.9h-1.3ZM1550.85 881.3h1.3V982.4h-1.3ZM1551.85 953.5h1.3V982.9h-1.3ZM1552.85 957.3h1.3V983.2h-1.3ZM1553.85 886.2h1.3V982.6h-1.3ZM1554.85 941.2h1.3V981.9h-1.3ZM1555.85 927.7h1.3V981.2h-1.3ZM1556.85 939.2h1.3V980.6h-1.3ZM1557.85 902.5h1.3V979.9h-1.3ZM1558.85 912.8h1.3V979.2h-1.3ZM1559.85 926.8h1.3V978.6h-1.3ZM1560.85 902.9h1.3V977.9h-1.3ZM1561.85 843.4h1.3V977.2h-1.3ZM1562.85 952.4h1.3V976.8h-1.3ZM1563.85 972.0h1.3V976.5h-1.3ZM1564.85 926.2h1.3V976.4h-1.3ZM1565.85 959.3h1.3V976.3h-1.3ZM1566.85 955.5h1.3V976.1h-1.3ZM1567.85 842.2h1.3V976.0h-1.3ZM1568.85 938.0h1.3V975.5h-1.3ZM1569.85 968.1h1.3V973.5h-1.3ZM1570.85 967.2h1.3V970.6h-1.3ZM1571.85 919.0h1.3V967.1h-1.3ZM1572.85 939.2h1.3V963.6h-1.3ZM1573.85 926.9h1.3V960.8h-1.3ZM1574.85 956.2h1.3V958.9h-1.3ZM1575.85 938.1h1.3V959.1h-1.3ZM1576.85 936.2h1.3V959.5h-1.3ZM1577.85 875.9h1.3V959.5h-1.3ZM1578.85 877.9h1.3V959.5h-1.3ZM1579.85 927.3h1.3V959.8h-1.3ZM1580.85 903.5h1.3V962.8h-1.3ZM1581.85 900.3h1.3V965.5h-1.3ZM1582.85 927.0h1.3V967.9h-1.3ZM1583.85 958.5h1.3V966.5h-1.3ZM1584.85 960.3h1.3V964.9h-1.3ZM1585.85 908.3h1.3V963.3h-1.3ZM1586.85 846.3h1.3V961.7h-1.3ZM1587.85 904.4h1.3V960.1h-1.3ZM1588.85 951.3h1.3V958.5h-1.3ZM1589.85 898.5h1.3V956.9h-1.3ZM1590.85 938.9h1.3V955.3h-1.3ZM1591.85 905.5h1.3V955.8h-1.3ZM1592.85 842.8h1.3V956.5h-1.3ZM1593.85 947.6h1.3V957.3h-1.3ZM1594.85 928.0h1.3V958.5h-1.3ZM1595.85 946.8h1.3V960.1h-1.3ZM1596.85 887.5h1.3V962.7h-1.3ZM1597.85 905.7h1.3V965.3h-1.3ZM1598.85 910.9h1.3V967.8h-1.3ZM1599.85 896.2h1.3V970.1h-1.3ZM1600.85 914.5h1.3V972.2h-1.3ZM1601.85 914.1h1.3V974.2h-1.3ZM1602.85 950.2h1.3V976.2h-1.3ZM1603.85 960.2h1.3V977.6h-1.3ZM1604.85 970.5h1.3V977.9h-1.3ZM1605.85 932.4h1.3V976.7h-1.3ZM1606.85 841.2h1.3V975.0h-1.3ZM1607.85 968.0h1.3V973.3h-1.3ZM1608.85 960.5h1.3V971.7h-1.3ZM1609.85 901.6h1.3V970.0h-1.3ZM1610.85 957.4h1.3V968.4h-1.3ZM1611.85 884.3h1.3V966.8h-1.3ZM1612.85 886.2h1.3V965.2h-1.3ZM1613.85 919.0h1.3V965.2h-1.3ZM1614.85 933.2h1.3V965.8h-1.3ZM1615.85 937.0h1.3V967.0h-1.3ZM1616.85 944.9h1.3V968.2h-1.3ZM1617.85 957.3h1.3V969.4h-1.3ZM1618.85 963.5h1.3V970.9h-1.3ZM1619.85 965.6h1.3V972.4h-1.3ZM1620.85 970.4h1.3V973.9h-1.3ZM1621.85 899.2h1.3V975.4h-1.3ZM1622.85 910.8h1.3V976.4h-1.3ZM1623.85 908.9h1.3V976.2h-1.3ZM1624.85 967.8h1.3V975.9h-1.3ZM1625.85 940.5h1.3V975.6h-1.3ZM1626.85 916.9h1.3V975.3h-1.3ZM1627.85 962.4h1.3V974.5h-1.3ZM1628.85 971.0h1.3V973.2h-1.3ZM1629.85 952.3h1.3V971.8h-1.3ZM1630.85 937.7h1.3V970.7h-1.3ZM1631.85 940.1h1.3V970.6h-1.3ZM1632.85 877.5h1.3V970.9h-1.3ZM1633.85 913.2h1.3V971.4h-1.3ZM1634.85 953.3h1.3V971.9h-1.3ZM1635.85 958.9h1.3V972.0h-1.3ZM1636.85 950.6h1.3V971.9h-1.3ZM1637.85 943.7h1.3V971.1h-1.3ZM1638.85 939.7h1.3V970.4h-1.3ZM1639.85 964.9h1.3V969.8h-1.3ZM1640.85 960.4h1.3V969.4h-1.3ZM1641.85 940.6h1.3V968.9h-1.3ZM1642.85 834.7h1.3V968.5h-1.3ZM1643.85 930.0h1.3V968.1h-1.3ZM1644.85 883.6h1.3V967.8h-1.3ZM1645.85 950.3h1.3V969.5h-1.3ZM1646.85 926.9h1.3V971.5h-1.3ZM1647.85 971.2h1.3V973.9h-1.3ZM1648.85 932.3h1.3V976.2h-1.3ZM1649.85 941.7h1.3V978.0h-1.3ZM1650.85 958.2h1.3V979.0h-1.3ZM1651.85 971.6h1.3V980.0h-1.3ZM1652.85 960.0h1.3V981.0h-1.3ZM1653.85 904.8h1.3V982.0h-1.3ZM1654.85 951.4h1.3V983.0h-1.3ZM1655.85 909.1h1.3V984.0h-1.3ZM1656.85 968.3h1.3V983.1h-1.3ZM1657.85 938.7h1.3V982.0h-1.3ZM1658.85 898.1h1.3V980.9h-1.3ZM1659.85 953.8h1.3V979.7h-1.3ZM1660.85 909.5h1.3V978.4h-1.3ZM1661.85 931.2h1.3V976.8h-1.3ZM1662.85 935.0h1.3V975.0h-1.3ZM1663.85 926.5h1.3V973.3h-1.3ZM1664.85 962.5h1.3V971.8h-1.3ZM1665.85 938.7h1.3V971.4h-1.3ZM1666.85 884.1h1.3V972.2h-1.3ZM1667.85 959.2h1.3V973.0h-1.3ZM1668.85 936.3h1.3V973.8h-1.3ZM1669.85 941.9h1.3V974.8h-1.3ZM1670.85 948.6h1.3V975.9h-1.3ZM1671.85 951.2h1.3V977.1h-1.3ZM1672.85 916.6h1.3V978.2h-1.3ZM1673.85 959.2h1.3V979.0h-1.3ZM1674.85 953.7h1.3V979.3h-1.3ZM1675.85 938.2h1.3V978.0h-1.3ZM1676.85 966.0h1.3V976.7h-1.3ZM1677.85 953.5h1.3V975.3h-1.3ZM1678.85 913.8h1.3V974.3h-1.3ZM1679.85 936.8h1.3V973.7h-1.3ZM1680.85 968.7h1.3V974.3h-1.3ZM1681.85 927.1h1.3V975.0h-1.3ZM1682.85 968.4h1.3V975.7h-1.3ZM1683.85 968.9h1.3V976.3h-1.3ZM1684.85 906.9h1.3V977.2h-1.3ZM1685.85 909.4h1.3V978.2h-1.3ZM1686.85 960.8h1.3V979.2h-1.3ZM1687.85 972.1h1.3V980.2h-1.3ZM1688.85 928.6h1.3V981.2h-1.3ZM1689.85 927.7h1.3V981.2h-1.3ZM1690.85 965.3h1.3V980.7h-1.3ZM1691.85 942.3h1.3V980.0h-1.3ZM1692.85 962.4h1.3V979.3h-1.3ZM1693.85 939.2h1.3V978.7h-1.3ZM1694.85 935.1h1.3V978.7h-1.3ZM1695.85 925.0h1.3V978.9h-1.3ZM1696.85 973.7h1.3V979.3h-1.3ZM1697.85 966.7h1.3V979.6h-1.3ZM1698.85 942.5h1.3V980.0h-1.3ZM1699.85 943.5h1.3V980.4h-1.3ZM1700.85 924.0h1.3V980.8h-1.3ZM1701.85 975.3h1.3V981.2h-1.3ZM1702.85 950.6h1.3V981.8h-1.3ZM1703.85 975.9h1.3V982.3h-1.3ZM1704.85 949.8h1.3V982.8h-1.3ZM1705.85 949.9h1.3V983.2h-1.3ZM1706.85 944.3h1.3V983.8h-1.3ZM1707.85 957.2h1.3V984.2h-1.3ZM1708.85 915.3h1.3V984.8h-1.3ZM1709.85 952.7h1.3V985.2h-1.3ZM1710.85 972.9h1.3V985.1h-1.3ZM1711.85 929.3h1.3V984.0h-1.3ZM1712.85 888.6h1.3V981.8h-1.3ZM1713.85 920.4h1.3V979.6h-1.3ZM1714.85 956.9h1.3V977.8h-1.3ZM1715.85 942.4h1.3V976.9h-1.3ZM1716.85 929.3h1.3V976.7h-1.3ZM1717.85 913.9h1.3V976.7h-1.3ZM1718.85 923.9h1.3V976.7h-1.3ZM1719.85 967.4h1.3V977.7h-1.3ZM1720.85 965.8h1.3V979.7h-1.3ZM1721.85 962.7h1.3V981.7h-1.3ZM1722.85 880.4h1.3V983.7h-1.3ZM1723.85 971.2h1.3V985.7h-1.3ZM1724.85 964.5h1.3V986.7h-1.3ZM1725.85 943.9h1.3V987.4h-1.3ZM1726.85 956.9h1.3V987.9h-1.3ZM1727.85 934.5h1.3V988.4h-1.3ZM1728.85 956.2h1.3V988.9h-1.3ZM1729.85 901.0h1.3V988.4h-1.3ZM1730.85 969.6h1.3V987.7h-1.3ZM1731.85 984.1h1.3V986.7h-1.3ZM1732.85 974.8h1.3V985.7h-1.3ZM1733.85 981.7h1.3V984.7h-1.3ZM1734.85 971.7h1.3V983.7h-1.3ZM1735.85 953.1h1.3V982.9h-1.3ZM1736.85 966.5h1.3V982.0h-1.3ZM1737.85 969.5h1.3V981.1h-1.3ZM1738.85 957.0h1.3V980.2h-1.3ZM1739.85 930.4h1.3V979.4h-1.3ZM1740.85 975.4h1.3V978.4h-1.3ZM1741.85 961.7h1.3V977.4h-1.3ZM1742.85 939.1h1.3V976.3h-1.3ZM1743.85 898.8h1.3V975.1h-1.3ZM1744.85 897.4h1.3V974.0h-1.3ZM1745.85 961.5h1.3V972.9h-1.3ZM1746.85 960.4h1.3V971.9h-1.3ZM1747.85 961.4h1.3V970.9h-1.3ZM1748.85 931.1h1.3V971.2h-1.3ZM1749.85 928.0h1.3V971.6h-1.3ZM1750.85 953.2h1.3V971.9h-1.3ZM1751.85 967.4h1.3V972.2h-1.3ZM1752.85 969.4h1.3V972.4h-1.3ZM1753.85 969.1h1.3V972.1h-1.3ZM1754.85 958.7h1.3V971.8h-1.3ZM1755.85 956.9h1.3V971.4h-1.3ZM1756.85 910.0h1.3V971.1h-1.3ZM1757.85 921.5h1.3V970.5h-1.3ZM1758.85 935.1h1.3V969.7h-1.3ZM1759.85 868.5h1.3V968.7h-1.3ZM1760.85 955.4h1.3V968.0h-1.3ZM1761.85 932.9h1.3V968.0h-1.3ZM1762.85 954.6h1.3V968.4h-1.3ZM1763.85 931.7h1.3V968.9h-1.3ZM1764.85 963.6h1.3V969.4h-1.3ZM1765.85 952.9h1.3V970.0h-1.3ZM1766.85 923.1h1.3V970.6h-1.3ZM1767.85 869.0h1.3V971.2h-1.3ZM1768.85 838.1h1.3V971.9h-1.3ZM1769.85 929.5h1.3V972.6h-1.3ZM1770.85 937.1h1.3V973.3h-1.3ZM1771.85 946.3h1.3V973.9h-1.3ZM1772.85 867.1h1.3V973.4h-1.3ZM1773.85 937.5h1.3V973.1h-1.3ZM1774.85 967.3h1.3V972.8h-1.3ZM1775.85 955.6h1.3V973.5h-1.3ZM1776.85 947.4h1.3V974.1h-1.3ZM1777.85 919.4h1.3V974.8h-1.3ZM1778.85 912.2h1.3V975.5h-1.3ZM1779.85 880.2h1.3V976.3h-1.3ZM1780.85 899.3h1.3V977.0h-1.3ZM1781.85 946.6h1.3V977.7h-1.3ZM1782.85 959.8h1.3V978.2h-1.3ZM1783.85 970.8h1.3V977.6h-1.3ZM1784.85 888.5h1.3V976.9h-1.3ZM1785.85 940.4h1.3V976.2h-1.3ZM1786.85 954.5h1.3V975.6h-1.3ZM1787.85 909.6h1.3V975.1h-1.3ZM1788.85 923.8h1.3V975.1h-1.3ZM1789.85 964.1h1.3V975.2h-1.3ZM1790.85 944.8h1.3V975.5h-1.3ZM1791.85 972.5h1.3V976.4h-1.3ZM1792.85 942.6h1.3V977.4h-1.3ZM1793.85 975.4h1.3V978.5h-1.3ZM1794.85 961.4h1.3V979.4h-1.3ZM1795.85 924.6h1.3V979.8h-1.3ZM1796.85 932.9h1.3V979.6h-1.3ZM1797.85 911.4h1.3V979.4h-1.3ZM1798.85 905.7h1.3V979.2h-1.3ZM1799.85 887.7h1.3V978.9h-1.3ZM1800.85 970.7h1.3V978.8h-1.3ZM1801.85 928.4h1.3V978.8h-1.3ZM1802.85 977.0h1.3V978.9h-1.3ZM1803.85 893.5h1.3V979.1h-1.3ZM1804.85 939.5h1.3V979.2h-1.3ZM1805.85 921.0h1.3V979.4h-1.3ZM1806.85 928.6h1.3V979.5h-1.3ZM1807.85 970.7h1.3V979.6h-1.3ZM1808.85 959.9h1.3V979.5h-1.3ZM1809.85 954.0h1.3V979.3h-1.3ZM1810.85 964.5h1.3V979.2h-1.3ZM1811.85 964.7h1.3V979.0h-1.3ZM1812.85 972.2h1.3V978.9h-1.3ZM1813.85 947.2h1.3V978.8h-1.3ZM1814.85 929.6h1.3V978.8h-1.3ZM1815.85 919.2h1.3V979.2h-1.3ZM1816.85 885.1h1.3V979.5h-1.3ZM1817.85 965.4h1.3V979.8h-1.3ZM1818.85 972.6h1.3V980.1h-1.3ZM1819.85 952.8h1.3V980.5h-1.3ZM1820.85 977.3h1.3V980.8h-1.3ZM1821.85 963.3h1.3V981.0h-1.3ZM1822.85 965.1h1.3V981.1h-1.3ZM1823.85 951.9h1.3V981.3h-1.3ZM1824.85 969.5h1.3V981.5h-1.3ZM1825.85 955.1h1.3V981.3h-1.3ZM1826.85 928.5h1.3V980.5h-1.3ZM1827.85 926.6h1.3V979.4h-1.3ZM1828.85 971.1h1.3V978.2h-1.3ZM1829.85 936.0h1.3V977.6h-1.3ZM1830.85 974.3h1.3V977.2h-1.3ZM1831.85 907.3h1.3V977.1h-1.3ZM1832.85 970.5h1.3V976.9h-1.3ZM1833.85 901.0h1.3V976.8h-1.3ZM1834.85 958.2h1.3V976.8h-1.3ZM1835.85 937.5h1.3V976.9h-1.3ZM1836.85 933.6h1.3V977.1h-1.3ZM1837.85 932.5h1.3V977.2h-1.3ZM1838.85 959.9h1.3V977.3h-1.3ZM1839.85 955.9h1.3V977.2h-1.3ZM1840.85 949.3h1.3V976.6h-1.3ZM1841.85 943.0h1.3V976.1h-1.3ZM1842.85 944.0h1.3V975.5h-1.3ZM1843.85 912.1h1.3V974.9h-1.3ZM1844.85 929.5h1.3V974.3h-1.3ZM1845.85 917.0h1.3V973.8h-1.3ZM1846.85 950.9h1.3V973.6h-1.3ZM1847.85 909.2h1.3V973.5h-1.3ZM1848.85 952.4h1.3V973.4h-1.3ZM1849.85 968.7h1.3V973.3h-1.3ZM1850.85 934.6h1.3V973.2h-1.3ZM1851.85 950.3h1.3V973.1h-1.3ZM1852.85 957.1h1.3V972.8h-1.3ZM1853.85 942.9h1.3V972.3h-1.3ZM1854.85 951.2h1.3V971.8h-1.3ZM1855.85 914.2h1.3V971.2h-1.3ZM1856.85 926.1h1.3V970.6h-1.3ZM1857.85 908.7h1.3V970.0h-1.3ZM1858.85 910.3h1.3V969.5h-1.3ZM1859.85 957.0h1.3V968.8h-1.3ZM1860.85 935.7h1.3V968.2h-1.3ZM1861.85 938.1h1.3V967.5h-1.3ZM1862.85 950.1h1.3V966.8h-1.3ZM1863.85 935.6h1.3V966.1h-1.3ZM1864.85 894.4h1.3V965.0h-1.3ZM1865.85 876.8h1.3V963.7h-1.3ZM1866.85 903.6h1.3V962.3h-1.3ZM1867.85 912.9h1.3V960.9h-1.3ZM1868.85 953.7h1.3V959.3h-1.3ZM1869.85 908.0h1.3V957.3h-1.3ZM1870.85 887.8h1.3V955.3h-1.3ZM1871.85 937.1h1.3V953.9h-1.3ZM1872.85 894.0h1.3V953.7h-1.3ZM1873.85 942.0h1.3V953.8h-1.3ZM1874.85 938.1h1.3V954.2h-1.3ZM1875.85 921.3h1.3V955.6h-1.3ZM1876.85 938.3h1.3V957.2h-1.3ZM1877.85 926.1h1.3V959.0h-1.3ZM1878.85 927.8h1.3V960.6h-1.3ZM1879.85 949.9h1.3V961.8h-1.3ZM1880.85 932.2h1.3V962.0h-1.3ZM1881.85 895.7h1.3V962.3h-1.3ZM1882.85 879.3h1.3V962.2h-1.3ZM1883.85 939.6h1.3V960.6h-1.3ZM1884.85 918.7h1.3V958.9h-1.3ZM1885.85 938.5h1.3V957.3h-1.3ZM1886.85 943.5h1.3V956.9h-1.3ZM1887.85 952.8h1.3V956.6h-1.3ZM1888.85 897.6h1.3V956.3h-1.3ZM1889.85 921.7h1.3V956.1h-1.3ZM1890.85 953.2h1.3V956.0h-1.3ZM1891.85 950.0h1.3V956.3h-1.3ZM1892.85 940.2h1.3V956.8h-1.3ZM1893.85 954.4h1.3V957.2h-1.3ZM1894.85 948.2h1.3V957.8h-1.3ZM1895.85 912.6h1.3V958.3h-1.3ZM1896.85 954.6h1.3V959.0h-1.3ZM1897.85 926.9h1.3V959.9h-1.3ZM1898.85 948.2h1.3V960.7h-1.3ZM1899.85 919.9h1.3V961.5h-1.3ZM1900.85 938.2h1.3V961.9h-1.3ZM1901.85 897.1h1.3V962.1h-1.3ZM1902.85 914.8h1.3V961.6h-1.3ZM1903.85 951.0h1.3V961.1h-1.3ZM1904.85 926.3h1.3V960.6h-1.3ZM1905.85 893.4h1.3V960.4h-1.3ZM1906.85 950.3h1.3V960.6h-1.3ZM1907.85 863.1h1.3V961.4h-1.3ZM1908.85 896.6h1.3V962.0h-1.3ZM1909.85 946.2h1.3V962.3h-1.3ZM1910.85 955.4h1.3V962.0h-1.3ZM1911.85 872.7h1.3V961.7h-1.3ZM1912.85 953.3h1.3V961.3h-1.3ZM1913.85 959.0h1.3V961.0h-1.3ZM1914.85 946.2h1.3V960.8h-1.3ZM1915.85 936.5h1.3V960.8h-1.3ZM1916.85 949.3h1.3V960.8h-1.3ZM1917.85 890.1h1.3V960.8h-1.3ZM1918.85 936.4h1.3V960.8h-1.3ZM1919.85 950.3h1.3V960.8h-1.3ZM1920.85 945.6h1.3V960.8h-1.3ZM1921.85 919.0h1.3V960.5h-1.3ZM1922.85 918.8h1.3V960.1h-1.3ZM1923.85 828.9h1.3V959.8h-1.3ZM1924.85 868.4h1.3V959.4h-1.3ZM1925.85 945.0h1.3V959.0h-1.3ZM1926.85 940.0h1.3V958.6h-1.3ZM1927.85 952.6h1.3V958.4h-1.3ZM1928.85 922.4h1.3V958.1h-1.3ZM1929.85 904.8h1.3V958.0h-1.3ZM1930.85 928.3h1.3V957.8h-1.3ZM1931.85 940.5h1.3V957.6h-1.3ZM1932.85 855.8h1.3V957.2h-1.3ZM1933.85 846.3h1.3V956.6h-1.3ZM1934.85 940.8h1.3V955.9h-1.3ZM1935.85 886.6h1.3V954.9h-1.3ZM1936.85 934.8h1.3V953.8h-1.3ZM1937.85 918.2h1.3V952.3h-1.3ZM1938.85 912.5h1.3V952.3h-1.3ZM1939.85 870.3h1.3V953.0h-1.3ZM1940.85 898.8h1.3V954.3h-1.3ZM1941.85 903.5h1.3V955.7h-1.3ZM1942.85 939.7h1.3V957.1h-1.3ZM1943.85 880.0h1.3V959.2h-1.3ZM1944.85 955.9h1.3V961.4h-1.3ZM1945.85 865.2h1.3V963.6h-1.3ZM1946.85 887.6h1.3V964.8h-1.3ZM1947.85 874.0h1.3V965.4h-1.3ZM1948.85 890.6h1.3V965.0h-1.3ZM1949.85 937.8h1.3V964.5h-1.3ZM1950.85 893.0h1.3V964.1h-1.3ZM1951.85 931.4h1.3V963.7h-1.3ZM1952.85 947.2h1.3V963.2h-1.3ZM1953.85 938.1h1.3V962.7h-1.3ZM1954.85 911.1h1.3V962.2h-1.3ZM1955.85 950.4h1.3V961.8h-1.3ZM1956.85 932.2h1.3V961.2h-1.3ZM1957.85 827.2h1.3V961.0h-1.3ZM1958.85 894.2h1.3V961.0h-1.3ZM1959.85 884.9h1.3V961.1h-1.3ZM1960.85 894.3h1.3V961.2h-1.3ZM1961.85 922.5h1.3V961.3h-1.3ZM1962.85 924.1h1.3V961.5h-1.3ZM1963.85 959.1h1.3V961.4h-1.3ZM1964.85 943.4h1.3V961.0h-1.3ZM1965.85 845.2h1.3V960.2h-1.3ZM1966.85 931.3h1.3V959.2h-1.3ZM1967.85 912.4h1.3V958.4h-1.3ZM1968.85 925.9h1.3V957.8h-1.3ZM1969.85 908.8h1.3V957.2h-1.3ZM1970.85 945.6h1.3V956.8h-1.3ZM1971.85 952.3h1.3V956.2h-1.3ZM1972.85 905.3h1.3V955.7h-1.3ZM1973.85 886.4h1.3V954.9h-1.3ZM1974.85 921.3h1.3V954.1h-1.3ZM1975.85 875.3h1.3V953.3h-1.3ZM1976.85 870.6h1.3V952.0h-1.3ZM1977.85 882.4h1.3V950.5h-1.3ZM1978.85 904.0h1.3V948.5h-1.3ZM1979.85 944.3h1.3V946.7h-1.3ZM1980.85 927.6h1.3V945.2h-1.3ZM1981.85 857.1h1.3V944.2h-1.3ZM1982.85 878.9h1.3V943.1h-1.3ZM1983.85 889.9h1.3V942.0h-1.3ZM1984.85 851.6h1.3V940.7h-1.3ZM1985.85 902.1h1.3V939.7h-1.3ZM1986.85 929.4h1.3V941.1h-1.3ZM1987.85 908.8h1.3V942.8h-1.3ZM1988.85 873.0h1.3V944.8h-1.3ZM1989.85 881.8h1.3V946.2h-1.3ZM1990.85 917.8h1.3V947.3h-1.3ZM1991.85 881.8h1.3V948.3h-1.3ZM1992.85 947.2h1.3V949.1h-1.3ZM1993.85 893.6h1.3V949.5h-1.3ZM1994.85 895.9h1.3V947.9h-1.3ZM1995.85 924.7h1.3V946.3h-1.3ZM1996.85 894.5h1.3V944.7h-1.3ZM1997.85 810.8h1.3V944.6h-1.3ZM1998.85 810.7h1.3V944.5h-1.3ZM1999.85 917.3h1.3V944.4h-1.3ZM2000.85 933.9h1.3V944.3h-1.3ZM2001.85 939.7h1.3V944.5h-1.3ZM2002.85 865.0h1.3V945.6h-1.3ZM2003.85 910.9h1.3V946.7h-1.3ZM2004.85 884.0h1.3V947.7h-1.3ZM2005.85 937.0h1.3V948.0h-1.3ZM2006.85 896.2h1.3V948.3h-1.3ZM2007.85 860.8h1.3V948.7h-1.3ZM2008.85 866.4h1.3V949.1h-1.3ZM2009.85 898.4h1.3V950.0h-1.3ZM2010.85 892.1h1.3V951.8h-1.3ZM2011.85 935.8h1.3V953.5h-1.3ZM2012.85 896.4h1.3V955.3h-1.3ZM2013.85 949.2h1.3V957.0h-1.3ZM2014.85 935.7h1.3V958.8h-1.3ZM2015.85 921.8h1.3V960.5h-1.3ZM2016.85 883.1h1.3V959.2h-1.3ZM2017.85 906.8h1.3V957.6h-1.3ZM2018.85 887.1h1.3V955.9h-1.3ZM2019.85 930.5h1.3V955.3h-1.3ZM2020.85 952.5h1.3V955.0h-1.3ZM2021.85 915.8h1.3V955.0h-1.3ZM2022.85 948.1h1.3V955.0h-1.3ZM2023.85 917.4h1.3V955.0h-1.3ZM2024.85 934.1h1.3V955.3h-1.3ZM2025.85 947.6h1.3V955.6h-1.3ZM2026.85 889.1h1.3V956.0h-1.3ZM2027.85 907.7h1.3V956.4h-1.3ZM2028.85 901.0h1.3V956.8h-1.3ZM2029.85 941.6h1.3V957.0h-1.3ZM2030.85 942.2h1.3V957.1h-1.3ZM2031.85 945.7h1.3V957.2h-1.3ZM2032.85 823.5h1.3V957.3h-1.3ZM2033.85 955.6h1.3V957.5h-1.3ZM2034.85 953.9h1.3V957.8h-1.3ZM2035.85 916.8h1.3V958.2h-1.3ZM2036.85 863.8h1.3V958.6h-1.3ZM2037.85 927.6h1.3V958.6h-1.3ZM2038.85 895.3h1.3V957.4h-1.3ZM2039.85 887.3h1.3V956.0h-1.3ZM2040.85 946.2h1.3V954.7h-1.3ZM2041.85 923.3h1.3V954.5h-1.3ZM2042.85 910.9h1.3V954.9h-1.3ZM2043.85 899.2h1.3V955.3h-1.3ZM2044.85 895.6h1.3V955.7h-1.3ZM2045.85 891.9h1.3V956.2h-1.3ZM2046.85 915.7h1.3V956.8h-1.3ZM2047.85 926.5h1.3V957.4h-1.3ZM2048.85 909.5h1.3V958.0h-1.3ZM2049.85 937.3h1.3V958.6h-1.3ZM2050.85 948.4h1.3V959.1h-1.3ZM2051.85 916.4h1.3V959.6h-1.3ZM2052.85 862.6h1.3V959.6h-1.3ZM2053.85 941.2h1.3V959.0h-1.3ZM2054.85 921.5h1.3V958.2h-1.3ZM2055.85 834.9h1.3V957.4h-1.3ZM2056.85 936.5h1.3V956.5h-1.3ZM2057.85 881.7h1.3V955.9h-1.3ZM2058.85 940.8h1.3V955.3h-1.3ZM2059.85 880.4h1.3V954.8h-1.3ZM2060.85 890.1h1.3V954.3h-1.3ZM2061.85 887.2h1.3V953.8h-1.3ZM2062.85 947.3h1.3V952.9h-1.3ZM2063.85 846.8h1.3V952.0h-1.3ZM2064.85 924.0h1.3V950.8h-1.3ZM2065.85 941.9h1.3V949.6h-1.3ZM2066.85 847.3h1.3V948.6h-1.3ZM2067.85 932.9h1.3V948.0h-1.3ZM2068.85 922.0h1.3V948.1h-1.3ZM2069.85 920.3h1.3V948.6h-1.3ZM2070.85 937.2h1.3V949.2h-1.3ZM2071.85 894.4h1.3V949.9h-1.3ZM2072.85 913.8h1.3V950.7h-1.3ZM2073.85 820.1h1.3V951.5h-1.3ZM2074.85 844.9h1.3V952.3h-1.3ZM2075.85 830.1h1.3V952.9h-1.3ZM2076.85 946.1h1.3V951.7h-1.3ZM2077.85 861.0h1.3V949.7h-1.3ZM2078.85 940.9h1.3V947.7h-1.3ZM2079.85 907.4h1.3V947.2h-1.3ZM2080.85 856.4h1.3V948.2h-1.3ZM2081.85 937.6h1.3V949.2h-1.3ZM2082.85 923.9h1.3V950.3h-1.3ZM2083.85 940.6h1.3V951.8h-1.3ZM2084.85 894.8h1.3V954.0h-1.3ZM2085.85 912.0h1.3V956.4h-1.3ZM2086.85 933.5h1.3V958.8h-1.3ZM2087.85 877.8h1.3V960.3h-1.3ZM2088.85 914.7h1.3V961.2h-1.3ZM2089.85 945.3h1.3V961.6h-1.3ZM2090.85 838.4h1.3V961.9h-1.3ZM2091.85 884.3h1.3V962.2h-1.3ZM2092.85 859.5h1.3V962.0h-1.3ZM2093.85 865.7h1.3V961.5h-1.3ZM2094.85 871.2h1.3V960.7h-1.3ZM2095.85 924.8h1.3V959.9h-1.3ZM2096.85 914.5h1.3V959.1h-1.3ZM2097.85 956.2h1.3V958.9h-1.3ZM2098.85 894.5h1.3V959.3h-1.3ZM2099.85 933.0h1.3V960.1h-1.3ZM2100.85 956.0h1.3V960.9h-1.3ZM2101.85 937.6h1.3V961.8h-1.3ZM2102.85 931.5h1.3V963.1h-1.3ZM2103.85 937.0h1.3V964.5h-1.3ZM2104.85 913.1h1.3V965.8h-1.3ZM2105.85 890.0h1.3V966.7h-1.3ZM2106.85 944.8h1.3V966.4h-1.3ZM2107.85 886.2h1.3V965.1h-1.3ZM2108.85 890.6h1.3V963.7h-1.3ZM2109.85 945.5h1.3V962.4h-1.3ZM2110.85 916.4h1.3V961.1h-1.3ZM2111.85 912.4h1.3V959.5h-1.3ZM2112.85 931.3h1.3V958.0h-1.3ZM2113.85 813.5h1.3V956.4h-1.3ZM2114.85 831.5h1.3V954.8h-1.3ZM2115.85 944.7h1.3V953.3h-1.3ZM2116.85 916.4h1.3V952.8h-1.3ZM2117.85 930.0h1.3V953.3h-1.3ZM2118.85 908.4h1.3V954.9h-1.3ZM2119.85 885.7h1.3V956.5h-1.3ZM2120.85 912.9h1.3V958.0h-1.3ZM2121.85 850.7h1.3V959.4h-1.3ZM2122.85 885.2h1.3V960.8h-1.3ZM2123.85 939.7h1.3V962.1h-1.3ZM2124.85 861.0h1.3V963.4h-1.3ZM2125.85 872.2h1.3V964.5h-1.3ZM2126.85 943.0h1.3V965.3h-1.3ZM2127.85 923.9h1.3V965.6h-1.3ZM2128.85 935.0h1.3V965.9h-1.3ZM2129.85 932.9h1.3V966.3h-1.3ZM2130.85 962.4h1.3V966.3h-1.3ZM2131.85 902.3h1.3V966.2h-1.3ZM2132.85 901.8h1.3V965.7h-1.3ZM2133.85 939.0h1.3V965.0h-1.3ZM2134.85 894.8h1.3V964.0h-1.3ZM2135.85 945.8h1.3V962.0h-1.3ZM2136.85 934.6h1.3V960.1h-1.3ZM2137.85 890.7h1.3V958.2h-1.3ZM2138.85 879.9h1.3V956.9h-1.3ZM2139.85 941.3h1.3V955.7h-1.3ZM2140.85 949.4h1.3V954.5h-1.3ZM2141.85 883.6h1.3V954.1h-1.3ZM2142.85 920.7h1.3V954.1h-1.3ZM2143.85 894.6h1.3V954.9h-1.3ZM2144.85 928.4h1.3V955.7h-1.3ZM2145.85 899.8h1.3V956.5h-1.3ZM2146.85 938.1h1.3V957.5h-1.3ZM2147.85 918.5h1.3V958.5h-1.3ZM2148.85 886.6h1.3V959.5h-1.3ZM2149.85 921.7h1.3V960.3h-1.3ZM2150.85 932.6h1.3V960.8h-1.3ZM2151.85 941.5h1.3V960.9h-1.3ZM2152.85 924.7h1.3V961.2h-1.3ZM2153.85 955.7h1.3V961.5h-1.3ZM2154.85 948.0h1.3V961.5h-1.3ZM2155.85 863.1h1.3V961.5h-1.3ZM2156.85 889.3h1.3V961.5h-1.3ZM2157.85 874.1h1.3V962.0h-1.3ZM2158.85 907.4h1.3V962.7h-1.3ZM2159.85 929.6h1.3V963.4h-1.3ZM2160.85 917.0h1.3V964.3h-1.3ZM2161.85 907.9h1.3V965.3h-1.3ZM2162.85 900.2h1.3V966.6h-1.3ZM2163.85 947.8h1.3V967.9h-1.3ZM2164.85 952.7h1.3V969.3h-1.3ZM2165.85 892.6h1.3V970.2h-1.3ZM2166.85 902.4h1.3V970.9h-1.3ZM2167.85 941.8h1.3V971.0h-1.3ZM2168.85 925.6h1.3V971.1h-1.3ZM2169.85 886.0h1.3V971.0h-1.3ZM2170.85 921.5h1.3V969.8h-1.3ZM2171.85 935.8h1.3V965.2h-1.3ZM2172.85 933.5h1.3V957.8h-1.3ZM2173.85 878.8h1.3V950.6h-1.3ZM2174.85 907.3h1.3V944.4h-1.3ZM2175.85 873.7h1.3V939.9h-1.3ZM2176.85 900.6h1.3V935.4h-1.3ZM2177.85 894.7h1.3V931.9h-1.3ZM2178.85 861.2h1.3V932.5h-1.3ZM2179.85 914.9h1.3V934.1h-1.3ZM2180.85 836.4h1.3V936.5h-1.3ZM2181.85 902.2h1.3V941.3h-1.3ZM2182.85 942.1h1.3V946.1h-1.3ZM2183.85 946.7h1.3V950.9h-1.3ZM2184.85 884.0h1.3V954.1h-1.3ZM2185.85 883.3h1.3V956.8h-1.3ZM2186.85 916.7h1.3V959.2h-1.3ZM2187.85 956.7h1.3V961.5h-1.3ZM2188.85 961.1h1.3V963.7h-1.3ZM2189.85 945.3h1.3V964.4h-1.3ZM2190.85 931.5h1.3V964.6h-1.3ZM2191.85 942.7h1.3V964.4h-1.3ZM2192.85 901.1h1.3V962.2h-1.3ZM2193.85 873.3h1.3V959.2h-1.3ZM2194.85 945.3h1.3V955.0h-1.3ZM2195.85 891.3h1.3V952.2h-1.3ZM2196.85 941.5h1.3V950.4h-1.3ZM2197.85 804.5h1.3V950.9h-1.3ZM2198.85 881.4h1.3V951.4h-1.3ZM2199.85 939.0h1.3V951.9h-1.3ZM2200.85 942.3h1.3V953.3h-1.3ZM2201.85 915.0h1.3V955.6h-1.3ZM2202.85 946.1h1.3V959.4h-1.3ZM2203.85 885.9h1.3V962.6h-1.3ZM2204.85 905.7h1.3V965.1h-1.3ZM2205.85 943.3h1.3V965.2h-1.3ZM2206.85 942.5h1.3V965.3h-1.3ZM2207.85 957.6h1.3V965.4h-1.3ZM2208.85 915.0h1.3V965.6h-1.3ZM2209.85 943.5h1.3V965.7h-1.3ZM2210.85 947.2h1.3V965.8h-1.3ZM2211.85 913.8h1.3V966.0h-1.3ZM2212.85 931.7h1.3V966.2h-1.3ZM2213.85 932.2h1.3V966.3h-1.3ZM2214.85 948.0h1.3V966.5h-1.3ZM2215.85 950.6h1.3V966.7h-1.3ZM2216.85 896.7h1.3V966.9h-1.3ZM2217.85 898.5h1.3V966.9h-1.3ZM2218.85 911.8h1.3V966.9h-1.3ZM2219.85 928.0h1.3V966.8h-1.3ZM2220.85 932.0h1.3V966.7h-1.3ZM2221.85 958.3h1.3V966.6h-1.3ZM2222.85 934.2h1.3V966.5h-1.3ZM2223.85 950.0h1.3V966.3h-1.3ZM2224.85 942.0h1.3V965.8h-1.3ZM2225.85 898.5h1.3V965.2h-1.3ZM2226.85 936.0h1.3V964.4h-1.3ZM2227.85 908.7h1.3V963.7h-1.3ZM2228.85 927.0h1.3V963.1h-1.3ZM2229.85 958.5h1.3V962.7h-1.3ZM2230.85 949.0h1.3V962.8h-1.3ZM2231.85 952.9h1.3V962.9h-1.3ZM2232.85 923.2h1.3V963.1h-1.3ZM2233.85 920.8h1.3V963.3h-1.3ZM2234.85 934.6h1.3V963.6h-1.3ZM2235.85 950.4h1.3V964.2h-1.3ZM2236.85 956.6h1.3V964.7h-1.3ZM2237.85 962.8h1.3V965.3h-1.3ZM2238.85 956.3h1.3V965.8h-1.3ZM2239.85 945.2h1.3V966.3h-1.3ZM2240.85 918.0h1.3V966.9h-1.3ZM2241.85 948.2h1.3V966.7h-1.3ZM2242.85 935.8h1.3V966.4h-1.3ZM2243.85 949.7h1.3V966.0h-1.3ZM2244.85 951.4h1.3V965.2h-1.3ZM2245.85 953.8h1.3V964.1h-1.3ZM2246.85 952.8h1.3V962.9h-1.3ZM2247.85 918.5h1.3V961.8h-1.3ZM2248.85 951.4h1.3V960.6h-1.3ZM2249.85 925.0h1.3V959.8h-1.3ZM2250.85 952.0h1.3V959.1h-1.3ZM2251.85 930.7h1.3V958.5h-1.3ZM2252.85 945.2h1.3V957.9h-1.3ZM2253.85 933.8h1.3V957.3h-1.3ZM2254.85 949.2h1.3V956.4h-1.3ZM2255.85 922.8h1.3V955.4h-1.3ZM2256.85 942.4h1.3V954.3h-1.3ZM2257.85 904.2h1.3V953.3h-1.3ZM2258.85 945.8h1.3V951.8h-1.3ZM2259.85 930.9h1.3V949.4h-1.3ZM2260.85 933.2h1.3V946.0h-1.3ZM2261.85 939.4h1.3V942.2h-1.3ZM2262.85 929.4h1.3V938.4h-1.3ZM2263.85 912.3h1.3V936.5h-1.3ZM2264.85 918.8h1.3V936.1h-1.3ZM2265.85 908.5h1.3V936.3h-1.3ZM2266.85 907.3h1.3V936.5h-1.3ZM2267.85 897.1h1.3V936.8h-1.3ZM2268.85 925.9h1.3V937.4h-1.3ZM2269.85 914.7h1.3V938.1h-1.3ZM2270.85 923.2h1.3V938.8h-1.3ZM2271.85 922.8h1.3V939.4h-1.3ZM2272.85 923.8h1.3V940.0h-1.3ZM2273.85 920.0h1.3V940.2h-1.3ZM2274.85 916.5h1.3V940.4h-1.3ZM2275.85 937.3h1.3V940.5h-1.3ZM2276.85 922.8h1.3V940.7h-1.3ZM2277.85 926.5h1.3V940.9h-1.3ZM2278.85 893.8h1.3V941.4h-1.3ZM2279.85 934.9h1.3V941.9h-1.3ZM2280.85 929.1h1.3V942.4h-1.3ZM2281.85 901.9h1.3V942.9h-1.3ZM2282.85 910.5h1.3V943.1h-1.3ZM2283.85 926.8h1.3V943.1h-1.3ZM2284.85 939.6h1.3V943.0h-1.3ZM2285.85 937.6h1.3V942.8h-1.3ZM2286.85 897.8h1.3V942.6h-1.3ZM2287.85 938.5h1.3V942.5h-1.3ZM2288.85 927.2h1.3V942.4h-1.3ZM2289.85 922.4h1.3V942.2h-1.3ZM2290.85 936.8h1.3V942.1h-1.3ZM2291.85 902.2h1.3V942.0h-1.3ZM2292.85 887.5h1.3V941.9h-1.3ZM2293.85 908.7h1.3V941.8h-1.3ZM2294.85 925.1h1.3V941.8h-1.3ZM2295.85 929.4h1.3V942.0h-1.3ZM2296.85 919.2h1.3V942.3h-1.3ZM2297.85 935.9h1.3V942.5h-1.3ZM2298.85 918.3h1.3V942.8h-1.3ZM2299.85 863.4h1.3V943.0h-1.3ZM2300.85 940.4h1.3V943.2h-1.3ZM2301.85 928.7h1.3V943.2h-1.3ZM2302.85 926.8h1.3V943.0h-1.3ZM2303.85 921.4h1.3V942.9h-1.3ZM2304.85 934.2h1.3V942.7h-1.3ZM2305.85 939.4h1.3V942.5h-1.3ZM2306.85 930.3h1.3V942.3h-1.3ZM2307.85 925.6h1.3V942.1h-1.3ZM2308.85 910.2h1.3V941.8h-1.3ZM2309.85 920.7h1.3V941.6h-1.3ZM2310.85 915.8h1.3V941.4h-1.3ZM2311.85 926.7h1.3V941.2h-1.3ZM2312.85 928.9h1.3V941.1h-1.3ZM2313.85 937.4h1.3V941.0h-1.3ZM2314.85 935.5h1.3V940.8h-1.3ZM2315.85 925.1h1.3V940.7h-1.3ZM2316.85 926.5h1.3V940.6h-1.3ZM2317.85 898.5h1.3V940.4h-1.3ZM2318.85 930.5h1.3V940.3h-1.3ZM2319.85 938.1h1.3V940.2h-1.3ZM2320.85 913.9h1.3V940.7h-1.3ZM2321.85 929.9h1.3V942.1h-1.3ZM2322.85 894.3h1.3V944.3h-1.3ZM2323.85 930.1h1.3V946.6h-1.3ZM2324.85 911.0h1.3V948.9h-1.3ZM2325.85 906.4h1.3V951.2h-1.3ZM2326.85 946.8h1.3V953.5h-1.3ZM2327.85 924.8h1.3V955.6h-1.3ZM2328.85 954.9h1.3V957.8h-1.3ZM2329.85 946.1h1.3V960.0h-1.3ZM2330.85 955.6h1.3V961.6h-1.3ZM2331.85 939.2h1.3V962.8h-1.3ZM2332.85 958.2h1.3V963.1h-1.3ZM2333.85 928.2h1.3V963.4h-1.3ZM2334.85 934.6h1.3V963.8h-1.3ZM2335.85 961.2h1.3V964.2h-1.3ZM2336.85 941.2h1.3V964.7h-1.3ZM2337.85 945.4h1.3V965.3h-1.3ZM2338.85 939.3h1.3V965.9h-1.3ZM2339.85 957.1h1.3V966.3h-1.3ZM2340.85 959.2h1.3V966.5h-1.3ZM2341.85 937.1h1.3V966.4h-1.3Z" fill="#dc143c" fill-opacity="0.155"/><path d="M58.85 963.3h1.3V978.6h-1.3ZM59.85 964.0h1.3V980.0h-1.3ZM60.85 964.6h1.3V978.9h-1.3ZM61.85 965.3h1.3V980.7h-1.3ZM62.85 966.0h1.3V981.3h-1.3ZM63.85 966.7h1.3V978.8h-1.3ZM64.85 967.4h1.3V983.5h-1.3ZM65.85 968.0h1.3V983.9h-1.3ZM66.85 968.2h1.3V983.9h-1.3ZM67.85 967.7h1.3V983.4h-1.3ZM68.85 967.2h1.3V982.9h-1.3ZM69.85 966.6h1.3V981.6h-1.3ZM70.85 966.1h1.3V978.9h-1.3ZM71.85 965.6h1.3V979.4h-1.3ZM72.85 965.0h1.3V975.4h-1.3ZM73.85 964.5h1.3V978.8h-1.3ZM74.85 964.2h1.3V979.3h-1.3ZM75.85 964.8h1.3V979.5h-1.3ZM76.85 965.4h1.3V981.1h-1.3ZM77.85 966.1h1.3V980.4h-1.3ZM78.85 966.8h1.3V982.4h-1.3ZM79.85 967.5h1.3V981.9h-1.3ZM80.85 968.2h1.3V978.5h-1.3ZM81.85 968.5h1.3V985.0h-1.3ZM82.85 968.7h1.3V985.0h-1.3ZM83.85 968.9h1.3V985.1h-1.3ZM84.85 969.0h1.3V983.2h-1.3ZM85.85 969.1h1.3V983.5h-1.3ZM86.85 969.3h1.3V982.8h-1.3ZM87.85 969.4h1.3V982.6h-1.3ZM88.85 969.6h1.3V984.7h-1.3ZM89.85 969.7h1.3V984.4h-1.3ZM90.85 969.8h1.3V983.2h-1.3ZM91.85 969.9h1.3V986.0h-1.3ZM92.85 969.6h1.3V985.8h-1.3ZM93.85 969.2h1.3V981.5h-1.3ZM94.85 968.8h1.3V981.9h-1.3ZM95.85 968.4h1.3V983.9h-1.3ZM96.85 968.0h1.3V980.6h-1.3ZM97.85 967.6h1.3V983.6h-1.3ZM98.85 967.3h1.3V982.1h-1.3ZM99.85 967.2h1.3V980.1h-1.3ZM100.85 967.3h1.3V982.1h-1.3ZM101.85 967.6h1.3V978.7h-1.3ZM102.85 967.8h1.3V983.9h-1.3ZM103.85 968.0h1.3V983.5h-1.3ZM104.85 968.3h1.3V982.1h-1.3ZM105.85 968.4h1.3V984.4h-1.3ZM106.85 968.3h1.3V984.8h-1.3ZM107.85 968.1h1.3V984.0h-1.3ZM108.85 968.0h1.3V983.7h-1.3ZM109.85 967.8h1.3V983.5h-1.3ZM110.85 967.6h1.3V982.0h-1.3ZM111.85 967.4h1.3V981.8h-1.3ZM112.85 967.3h1.3V983.7h-1.3ZM113.85 967.1h1.3V981.9h-1.3ZM114.85 967.1h1.3V980.2h-1.3ZM115.85 967.2h1.3V980.7h-1.3ZM116.85 967.3h1.3V981.7h-1.3ZM117.85 967.4h1.3V979.1h-1.3ZM118.85 967.5h1.3V983.6h-1.3ZM119.85 967.6h1.3V983.8h-1.3ZM120.85 967.6h1.3V981.8h-1.3ZM121.85 967.5h1.3V984.0h-1.3ZM122.85 967.2h1.3V977.8h-1.3ZM123.85 966.7h1.3V982.0h-1.3ZM124.85 966.2h1.3V979.7h-1.3ZM125.85 965.7h1.3V980.0h-1.3ZM126.85 965.2h1.3V978.6h-1.3ZM127.85 964.7h1.3V981.0h-1.3ZM128.85 964.2h1.3V978.0h-1.3ZM129.85 963.7h1.3V977.9h-1.3ZM130.85 963.1h1.3V979.3h-1.3ZM131.85 962.6h1.3V978.9h-1.3ZM132.85 962.0h1.3V978.0h-1.3ZM133.85 961.4h1.3V973.3h-1.3ZM134.85 960.9h1.3V975.8h-1.3ZM135.85 960.3h1.3V975.1h-1.3ZM136.85 959.7h1.3V971.0h-1.3ZM137.85 959.1h1.3V970.6h-1.3ZM138.85 958.6h1.3V970.8h-1.3ZM139.85 958.2h1.3V969.1h-1.3ZM140.85 958.3h1.3V974.1h-1.3ZM141.85 958.5h1.3V974.5h-1.3ZM142.85 958.7h1.3V975.3h-1.3ZM143.85 959.0h1.3V973.5h-1.3ZM144.85 959.3h1.3V975.6h-1.3ZM145.85 959.6h1.3V976.0h-1.3ZM146.85 960.3h1.3V973.7h-1.3ZM147.85 961.2h1.3V976.6h-1.3ZM148.85 962.0h1.3V977.7h-1.3ZM149.85 962.9h1.3V977.5h-1.3ZM150.85 963.7h1.3V980.2h-1.3ZM151.85 964.6h1.3V978.4h-1.3ZM152.85 965.4h1.3V980.7h-1.3ZM153.85 966.2h1.3V982.2h-1.3ZM154.85 965.9h1.3V978.5h-1.3ZM155.85 965.5h1.3V981.8h-1.3ZM156.85 965.2h1.3V980.4h-1.3ZM157.85 964.8h1.3V981.4h-1.3ZM158.85 964.5h1.3V980.9h-1.3ZM159.85 964.1h1.3V980.5h-1.3ZM160.85 963.8h1.3V979.0h-1.3ZM161.85 963.4h1.3V977.1h-1.3ZM162.85 963.4h1.3V979.7h-1.3ZM163.85 963.4h1.3V977.4h-1.3ZM164.85 963.6h1.3V979.8h-1.3ZM165.85 963.7h1.3V975.0h-1.3ZM166.85 963.8h1.3V980.0h-1.3ZM167.85 963.9h1.3V978.0h-1.3ZM168.85 964.1h1.3V978.8h-1.3ZM169.85 964.2h1.3V979.6h-1.3ZM170.85 964.3h1.3V979.7h-1.3ZM171.85 964.4h1.3V977.1h-1.3ZM172.85 964.6h1.3V979.2h-1.3ZM173.85 964.7h1.3V981.2h-1.3ZM174.85 964.7h1.3V978.9h-1.3ZM175.85 964.6h1.3V979.3h-1.3ZM176.85 964.5h1.3V977.7h-1.3ZM177.85 964.4h1.3V979.7h-1.3ZM178.85 964.3h1.3V980.9h-1.3ZM179.85 964.2h1.3V980.7h-1.3ZM180.85 964.1h1.3V979.2h-1.3ZM181.85 964.2h1.3V977.8h-1.3ZM182.85 964.4h1.3V981.0h-1.3ZM183.85 964.9h1.3V977.2h-1.3ZM184.85 965.3h1.3V981.4h-1.3ZM185.85 965.7h1.3V977.3h-1.3ZM186.85 966.1h1.3V981.4h-1.3ZM187.85 966.6h1.3V982.0h-1.3ZM188.85 967.0h1.3V982.7h-1.3ZM189.85 967.4h1.3V982.5h-1.3ZM190.85 967.9h1.3V983.6h-1.3ZM191.85 968.3h1.3V983.2h-1.3ZM192.85 968.3h1.3V984.4h-1.3ZM193.85 968.3h1.3V983.7h-1.3ZM194.85 968.1h1.3V983.3h-1.3ZM195.85 967.9h1.3V983.9h-1.3ZM196.85 967.8h1.3V982.9h-1.3ZM197.85 967.6h1.3V982.8h-1.3ZM198.85 967.5h1.3V978.0h-1.3ZM199.85 967.3h1.3V982.8h-1.3ZM200.85 967.2h1.3V982.2h-1.3ZM201.85 967.1h1.3V982.8h-1.3ZM202.85 967.3h1.3V982.9h-1.3ZM203.85 967.5h1.3V983.7h-1.3ZM204.85 967.7h1.3V983.8h-1.3ZM205.85 967.9h1.3V983.1h-1.3ZM206.85 968.2h1.3V981.7h-1.3ZM207.85 968.4h1.3V984.6h-1.3ZM208.85 968.6h1.3V984.7h-1.3ZM209.85 968.9h1.3V983.2h-1.3ZM210.85 969.1h1.3V982.5h-1.3ZM211.85 969.3h1.3V983.1h-1.3ZM212.85 969.5h1.3V985.7h-1.3ZM213.85 969.8h1.3V984.6h-1.3ZM214.85 969.9h1.3V982.3h-1.3ZM215.85 969.9h1.3V984.4h-1.3ZM216.85 969.7h1.3V984.6h-1.3ZM217.85 969.6h1.3V984.8h-1.3ZM218.85 969.4h1.3V983.5h-1.3ZM219.85 969.3h1.3V985.2h-1.3ZM220.85 969.1h1.3V981.5h-1.3ZM221.85 969.0h1.3V985.0h-1.3ZM222.85 968.9h1.3V984.6h-1.3ZM223.85 968.7h1.3V985.0h-1.3ZM224.85 968.6h1.3V984.5h-1.3ZM225.85 968.3h1.3V980.1h-1.3ZM226.85 967.9h1.3V983.6h-1.3ZM227.85 967.5h1.3V978.5h-1.3ZM228.85 967.0h1.3V979.6h-1.3ZM229.85 966.6h1.3V979.8h-1.3ZM230.85 966.2h1.3V981.3h-1.3ZM231.85 965.8h1.3V979.3h-1.3ZM232.85 965.4h1.3V977.5h-1.3ZM233.85 965.1h1.3V978.7h-1.3ZM234.85 965.0h1.3V978.1h-1.3ZM235.85 965.4h1.3V978.1h-1.3ZM236.85 965.8h1.3V979.7h-1.3ZM237.85 966.2h1.3V979.5h-1.3ZM238.85 966.7h1.3V980.1h-1.3ZM239.85 967.1h1.3V982.3h-1.3ZM240.85 967.5h1.3V981.2h-1.3ZM241.85 968.0h1.3V984.6h-1.3ZM242.85 968.4h1.3V983.8h-1.3ZM243.85 968.8h1.3V982.3h-1.3ZM244.85 969.0h1.3V982.6h-1.3ZM245.85 969.0h1.3V984.9h-1.3ZM246.85 968.8h1.3V984.6h-1.3ZM247.85 968.5h1.3V981.8h-1.3ZM248.85 968.2h1.3V983.7h-1.3ZM249.85 967.6h1.3V983.5h-1.3ZM250.85 966.8h1.3V982.6h-1.3ZM251.85 966.1h1.3V981.3h-1.3ZM252.85 965.3h1.3V977.4h-1.3ZM253.85 964.5h1.3V980.1h-1.3ZM254.85 963.4h1.3V976.3h-1.3ZM255.85 962.2h1.3V978.1h-1.3ZM256.85 960.8h1.3V976.0h-1.3ZM257.85 959.5h1.3V973.4h-1.3ZM258.85 958.1h1.3V973.8h-1.3ZM259.85 956.8h1.3V972.5h-1.3ZM260.85 956.7h1.3V972.4h-1.3ZM261.85 957.1h1.3V973.1h-1.3ZM262.85 957.6h1.3V971.6h-1.3ZM263.85 958.1h1.3V974.0h-1.3ZM264.85 958.6h1.3V972.6h-1.3ZM265.85 959.1h1.3V974.2h-1.3ZM266.85 959.7h1.3V975.9h-1.3ZM267.85 960.3h1.3V974.3h-1.3ZM268.85 960.9h1.3V977.5h-1.3ZM269.85 961.6h1.3V977.0h-1.3ZM270.85 962.2h1.3V977.8h-1.3ZM271.85 962.8h1.3V975.9h-1.3ZM272.85 963.5h1.3V976.8h-1.3ZM273.85 964.6h1.3V978.4h-1.3ZM274.85 965.7h1.3V978.0h-1.3ZM275.85 966.8h1.3V978.9h-1.3ZM276.85 967.9h1.3V982.8h-1.3ZM277.85 968.8h1.3V984.7h-1.3ZM278.85 969.3h1.3V986.2h-1.3ZM279.85 969.4h1.3V985.9h-1.3ZM280.85 969.1h1.3V985.7h-1.3ZM281.85 968.9h1.3V980.8h-1.3ZM282.85 968.7h1.3V984.5h-1.3ZM283.85 968.4h1.3V981.5h-1.3ZM284.85 967.5h1.3V980.3h-1.3ZM285.85 966.5h1.3V982.9h-1.3ZM286.85 965.2h1.3V979.0h-1.3ZM287.85 964.8h1.3V978.1h-1.3ZM288.85 964.8h1.3V978.3h-1.3ZM289.85 965.3h1.3V980.8h-1.3ZM290.85 965.9h1.3V979.0h-1.3ZM291.85 966.4h1.3V982.2h-1.3ZM292.85 967.0h1.3V983.1h-1.3ZM293.85 967.5h1.3V982.3h-1.3ZM294.85 968.0h1.3V980.6h-1.3ZM295.85 968.2h1.3V984.5h-1.3ZM296.85 968.2h1.3V984.2h-1.3ZM297.85 967.7h1.3V981.8h-1.3ZM298.85 967.1h1.3V983.2h-1.3ZM299.85 966.6h1.3V982.1h-1.3ZM300.85 966.0h1.3V978.7h-1.3ZM301.85 965.5h1.3V981.4h-1.3ZM302.85 965.0h1.3V977.4h-1.3ZM303.85 964.7h1.3V978.0h-1.3ZM304.85 964.5h1.3V981.0h-1.3ZM305.85 964.2h1.3V980.5h-1.3ZM306.85 964.0h1.3V976.4h-1.3ZM307.85 963.8h1.3V977.5h-1.3ZM308.85 963.5h1.3V977.0h-1.3ZM309.85 963.3h1.3V978.8h-1.3ZM310.85 963.0h1.3V979.1h-1.3ZM311.85 963.5h1.3V978.6h-1.3ZM312.85 964.0h1.3V979.7h-1.3ZM313.85 964.6h1.3V977.4h-1.3ZM314.85 965.2h1.3V981.8h-1.3ZM315.85 965.7h1.3V982.0h-1.3ZM316.85 965.7h1.3V981.3h-1.3ZM317.85 965.7h1.3V978.6h-1.3ZM318.85 965.7h1.3V981.7h-1.3ZM319.85 965.6h1.3V978.4h-1.3ZM320.85 965.5h1.3V982.0h-1.3ZM321.85 965.5h1.3V981.0h-1.3ZM322.85 965.4h1.3V980.6h-1.3ZM323.85 965.4h1.3V981.4h-1.3ZM324.85 965.4h1.3V980.6h-1.3ZM325.85 965.5h1.3V982.1h-1.3ZM326.85 965.6h1.3V981.0h-1.3ZM327.85 965.8h1.3V982.2h-1.3ZM328.85 965.9h1.3V981.7h-1.3ZM329.85 966.0h1.3V981.3h-1.3ZM330.85 966.1h1.3V981.5h-1.3ZM331.85 966.3h1.3V981.7h-1.3ZM332.85 966.4h1.3V982.2h-1.3ZM333.85 966.5h1.3V981.4h-1.3ZM334.85 966.6h1.3V979.7h-1.3ZM335.85 966.8h1.3V982.7h-1.3ZM336.85 966.9h1.3V983.0h-1.3ZM337.85 967.0h1.3V982.1h-1.3ZM338.85 966.9h1.3V980.4h-1.3ZM339.85 966.7h1.3V983.0h-1.3ZM340.85 966.6h1.3V983.2h-1.3ZM341.85 966.5h1.3V981.9h-1.3ZM342.85 966.4h1.3V980.6h-1.3ZM343.85 966.3h1.3V980.8h-1.3ZM344.85 966.2h1.3V980.1h-1.3ZM345.85 966.0h1.3V981.4h-1.3ZM346.85 965.9h1.3V980.8h-1.3ZM347.85 965.8h1.3V981.6h-1.3ZM348.85 965.7h1.3V981.3h-1.3ZM349.85 965.6h1.3V979.7h-1.3ZM350.85 965.6h1.3V976.8h-1.3ZM351.85 965.5h1.3V981.8h-1.3ZM352.85 965.4h1.3V980.3h-1.3ZM353.85 965.3h1.3V977.9h-1.3ZM354.85 965.2h1.3V981.8h-1.3ZM355.85 965.1h1.3V979.0h-1.3ZM356.85 965.0h1.3V979.8h-1.3ZM357.85 964.9h1.3V976.5h-1.3ZM358.85 964.9h1.3V980.5h-1.3ZM359.85 964.8h1.3V977.3h-1.3ZM360.85 964.8h1.3V979.8h-1.3ZM361.85 964.8h1.3V978.8h-1.3ZM362.85 965.0h1.3V979.9h-1.3ZM363.85 965.2h1.3V979.5h-1.3ZM364.85 965.3h1.3V981.3h-1.3ZM365.85 965.5h1.3V977.8h-1.3ZM366.85 965.7h1.3V981.5h-1.3ZM367.85 965.9h1.3V979.9h-1.3ZM368.85 966.2h1.3V981.4h-1.3ZM369.85 966.6h1.3V978.9h-1.3ZM370.85 966.9h1.3V981.1h-1.3ZM371.85 967.2h1.3V981.1h-1.3ZM372.85 967.6h1.3V983.6h-1.3ZM373.85 967.9h1.3V981.4h-1.3ZM374.85 968.2h1.3V983.5h-1.3ZM375.85 968.6h1.3V984.0h-1.3ZM376.85 968.9h1.3V985.3h-1.3ZM377.85 969.1h1.3V983.9h-1.3ZM378.85 968.9h1.3V981.7h-1.3ZM379.85 968.7h1.3V985.3h-1.3ZM380.85 968.5h1.3V985.1h-1.3ZM381.85 968.3h1.3V982.1h-1.3ZM382.85 968.1h1.3V981.5h-1.3ZM383.85 967.9h1.3V984.2h-1.3ZM384.85 967.7h1.3V981.5h-1.3ZM385.85 967.7h1.3V982.5h-1.3ZM386.85 967.9h1.3V983.4h-1.3ZM387.85 968.3h1.3V984.4h-1.3ZM388.85 968.7h1.3V985.0h-1.3ZM389.85 969.1h1.3V984.0h-1.3ZM390.85 969.6h1.3V984.9h-1.3ZM391.85 970.0h1.3V982.2h-1.3ZM392.85 969.5h1.3V982.8h-1.3ZM393.85 969.0h1.3V983.3h-1.3ZM394.85 968.5h1.3V983.4h-1.3ZM395.85 968.1h1.3V982.6h-1.3ZM396.85 967.6h1.3V981.0h-1.3ZM397.85 967.2h1.3V983.2h-1.3ZM398.85 966.9h1.3V983.2h-1.3ZM399.85 966.6h1.3V982.1h-1.3ZM400.85 966.4h1.3V982.0h-1.3ZM401.85 966.1h1.3V980.9h-1.3ZM402.85 965.9h1.3V981.6h-1.3ZM403.85 965.6h1.3V980.5h-1.3ZM404.85 965.4h1.3V980.9h-1.3ZM405.85 965.1h1.3V976.9h-1.3ZM406.85 964.9h1.3V978.5h-1.3ZM407.85 964.6h1.3V980.0h-1.3ZM408.85 964.3h1.3V980.7h-1.3ZM409.85 964.0h1.3V978.0h-1.3ZM410.85 963.6h1.3V976.5h-1.3ZM411.85 963.3h1.3V979.8h-1.3ZM412.85 963.0h1.3V976.1h-1.3ZM413.85 962.7h1.3V979.4h-1.3ZM414.85 962.2h1.3V975.1h-1.3ZM415.85 961.6h1.3V973.8h-1.3ZM416.85 961.0h1.3V974.9h-1.3ZM417.85 960.5h1.3V973.3h-1.3ZM418.85 959.9h1.3V975.7h-1.3ZM419.85 959.3h1.3V970.9h-1.3ZM420.85 958.7h1.3V975.2h-1.3ZM421.85 958.1h1.3V973.8h-1.3ZM422.85 957.5h1.3V970.7h-1.3ZM423.85 957.0h1.3V972.7h-1.3ZM424.85 956.7h1.3V973.2h-1.3ZM425.85 956.5h1.3V970.8h-1.3ZM426.85 956.4h1.3V970.7h-1.3ZM427.85 956.2h1.3V971.0h-1.3ZM428.85 956.1h1.3V972.3h-1.3ZM429.85 956.0h1.3V970.9h-1.3ZM430.85 954.6h1.3V969.7h-1.3ZM431.85 951.9h1.3V970.1h-1.3ZM432.85 947.1h1.3V960.9h-1.3ZM433.85 942.9h1.3V957.6h-1.3ZM434.85 939.6h1.3V955.8h-1.3ZM435.85 938.8h1.3V952.4h-1.3ZM436.85 938.0h1.3V951.5h-1.3ZM437.85 937.3h1.3V953.6h-1.3ZM438.85 936.5h1.3V947.7h-1.3ZM439.85 938.9h1.3V953.0h-1.3ZM440.85 945.1h1.3V960.0h-1.3ZM441.85 950.5h1.3V966.2h-1.3ZM442.85 954.7h1.3V971.2h-1.3ZM443.85 956.1h1.3V970.4h-1.3ZM444.85 957.4h1.3V973.0h-1.3ZM445.85 958.8h1.3V973.3h-1.3ZM446.85 960.2h1.3V975.6h-1.3ZM447.85 960.9h1.3V973.5h-1.3ZM448.85 960.9h1.3V976.6h-1.3ZM449.85 960.6h1.3V974.4h-1.3ZM450.85 960.2h1.3V976.5h-1.3ZM451.85 959.8h1.3V974.9h-1.3ZM452.85 959.5h1.3V971.5h-1.3ZM453.85 959.1h1.3V972.0h-1.3ZM454.85 958.8h1.3V975.2h-1.3ZM455.85 958.9h1.3V975.0h-1.3ZM456.85 959.4h1.3V972.6h-1.3ZM457.85 960.6h1.3V975.2h-1.3ZM458.85 961.8h1.3V976.0h-1.3ZM459.85 963.0h1.3V977.4h-1.3ZM460.85 964.2h1.3V978.7h-1.3ZM461.85 965.5h1.3V981.6h-1.3ZM462.85 966.7h1.3V982.9h-1.3ZM463.85 967.2h1.3V981.4h-1.3ZM464.85 967.2h1.3V981.9h-1.3ZM465.85 967.0h1.3V983.5h-1.3ZM466.85 966.9h1.3V981.3h-1.3ZM467.85 966.8h1.3V980.3h-1.3ZM468.85 967.0h1.3V982.8h-1.3ZM469.85 967.3h1.3V981.7h-1.3ZM470.85 967.6h1.3V983.8h-1.3ZM471.85 967.9h1.3V984.8h-1.3ZM472.85 968.2h1.3V981.2h-1.3ZM473.85 968.5h1.3V984.7h-1.3ZM474.85 968.4h1.3V982.5h-1.3ZM475.85 967.9h1.3V980.2h-1.3ZM476.85 967.3h1.3V981.4h-1.3ZM477.85 966.8h1.3V981.9h-1.3ZM478.85 966.2h1.3V982.1h-1.3ZM479.85 965.7h1.3V982.2h-1.3ZM480.85 965.2h1.3V978.8h-1.3ZM481.85 964.6h1.3V978.5h-1.3ZM482.85 964.8h1.3V976.6h-1.3ZM483.85 965.3h1.3V980.3h-1.3ZM484.85 966.3h1.3V980.7h-1.3ZM485.85 966.9h1.3V983.0h-1.3ZM486.85 966.9h1.3V981.0h-1.3ZM487.85 966.4h1.3V980.3h-1.3ZM488.85 965.7h1.3V981.4h-1.3ZM489.85 965.1h1.3V979.0h-1.3ZM490.85 964.5h1.3V980.5h-1.3ZM491.85 963.9h1.3V980.1h-1.3ZM492.85 963.4h1.3V980.1h-1.3ZM493.85 963.0h1.3V978.1h-1.3ZM494.85 962.7h1.3V979.1h-1.3ZM495.85 962.4h1.3V974.8h-1.3ZM496.85 962.1h1.3V978.4h-1.3ZM497.85 961.8h1.3V978.0h-1.3ZM498.85 961.5h1.3V975.9h-1.3ZM499.85 961.2h1.3V975.3h-1.3ZM500.85 960.9h1.3V977.1h-1.3ZM501.85 960.6h1.3V974.4h-1.3ZM502.85 960.4h1.3V976.1h-1.3ZM503.85 960.1h1.3V976.8h-1.3ZM504.85 959.8h1.3V972.8h-1.3ZM505.85 959.6h1.3V973.1h-1.3ZM506.85 959.3h1.3V973.5h-1.3ZM507.85 959.1h1.3V973.8h-1.3ZM508.85 958.8h1.3V973.8h-1.3ZM509.85 958.5h1.3V973.9h-1.3ZM510.85 958.2h1.3V971.9h-1.3ZM511.85 957.8h1.3V971.6h-1.3ZM512.85 957.5h1.3V974.1h-1.3ZM513.85 957.1h1.3V973.7h-1.3ZM514.85 956.8h1.3V971.7h-1.3ZM515.85 956.5h1.3V971.9h-1.3ZM516.85 956.1h1.3V971.6h-1.3ZM517.85 956.0h1.3V971.3h-1.3ZM518.85 956.1h1.3V972.3h-1.3ZM519.85 956.3h1.3V972.8h-1.3ZM520.85 956.5h1.3V972.9h-1.3ZM521.85 956.7h1.3V970.6h-1.3ZM522.85 958.0h1.3V974.8h-1.3ZM523.85 959.3h1.3V975.1h-1.3ZM524.85 960.7h1.3V974.6h-1.3ZM525.85 962.0h1.3V978.2h-1.3ZM526.85 963.3h1.3V976.8h-1.3ZM527.85 964.7h1.3V978.5h-1.3ZM528.85 964.8h1.3V980.0h-1.3ZM529.85 964.0h1.3V980.1h-1.3ZM530.85 958.7h1.3V975.6h-1.3ZM531.85 954.6h1.3V968.0h-1.3ZM532.85 952.1h1.3V963.9h-1.3ZM533.85 950.5h1.3V964.4h-1.3ZM534.85 949.2h1.3V964.5h-1.3ZM535.85 948.0h1.3V960.5h-1.3ZM536.85 948.3h1.3V962.9h-1.3ZM537.85 949.5h1.3V962.8h-1.3ZM538.85 951.7h1.3V969.0h-1.3ZM539.85 954.5h1.3V971.4h-1.3ZM540.85 957.9h1.3V973.8h-1.3ZM541.85 961.3h1.3V976.1h-1.3ZM542.85 963.6h1.3V977.6h-1.3ZM543.85 963.9h1.3V980.5h-1.3ZM544.85 963.9h1.3V980.1h-1.3ZM545.85 963.8h1.3V979.9h-1.3ZM546.85 963.6h1.3V979.1h-1.3ZM547.85 963.5h1.3V979.1h-1.3ZM548.85 963.4h1.3V979.7h-1.3ZM549.85 962.5h1.3V977.3h-1.3ZM550.85 961.5h1.3V978.2h-1.3ZM551.85 960.3h1.3V975.8h-1.3ZM552.85 959.1h1.3V975.3h-1.3ZM553.85 957.9h1.3V971.2h-1.3ZM554.85 956.7h1.3V972.2h-1.3ZM555.85 955.5h1.3V972.7h-1.3ZM556.85 954.4h1.3V969.3h-1.3ZM557.85 953.7h1.3V969.9h-1.3ZM558.85 953.3h1.3V969.1h-1.3ZM559.85 953.2h1.3V969.8h-1.3ZM560.85 953.2h1.3V968.6h-1.3ZM561.85 953.1h1.3V969.5h-1.3ZM562.85 953.1h1.3V969.7h-1.3ZM563.85 953.0h1.3V968.3h-1.3ZM564.85 952.8h1.3V969.1h-1.3ZM565.85 952.3h1.3V963.6h-1.3ZM566.85 951.9h1.3V967.1h-1.3ZM567.85 951.4h1.3V967.2h-1.3ZM568.85 951.0h1.3V967.2h-1.3ZM569.85 950.5h1.3V964.7h-1.3ZM570.85 950.1h1.3V966.4h-1.3ZM571.85 950.5h1.3V964.7h-1.3ZM572.85 951.1h1.3V963.6h-1.3ZM573.85 951.8h1.3V968.7h-1.3ZM574.85 952.4h1.3V967.3h-1.3ZM575.85 953.0h1.3V968.9h-1.3ZM576.85 953.6h1.3V968.4h-1.3ZM577.85 954.1h1.3V970.1h-1.3ZM578.85 954.4h1.3V970.9h-1.3ZM579.85 954.5h1.3V970.0h-1.3ZM580.85 954.7h1.3V968.7h-1.3ZM581.85 954.9h1.3V970.5h-1.3ZM582.85 955.1h1.3V970.4h-1.3ZM583.85 955.3h1.3V971.5h-1.3ZM584.85 955.6h1.3V968.7h-1.3ZM585.85 955.9h1.3V971.8h-1.3ZM586.85 956.3h1.3V968.9h-1.3ZM587.85 956.7h1.3V970.1h-1.3ZM588.85 957.1h1.3V969.8h-1.3ZM589.85 957.5h1.3V973.6h-1.3ZM590.85 957.9h1.3V973.1h-1.3ZM591.85 958.3h1.3V974.4h-1.3ZM592.85 958.5h1.3V973.3h-1.3ZM593.85 958.5h1.3V975.0h-1.3ZM594.85 958.4h1.3V973.7h-1.3ZM595.85 958.2h1.3V974.0h-1.3ZM596.85 958.1h1.3V974.4h-1.3ZM597.85 957.9h1.3V973.4h-1.3ZM598.85 957.8h1.3V973.6h-1.3ZM599.85 957.6h1.3V974.2h-1.3ZM600.85 957.4h1.3V973.8h-1.3ZM601.85 956.8h1.3V970.4h-1.3ZM602.85 956.0h1.3V973.2h-1.3ZM603.85 955.2h1.3V969.0h-1.3ZM604.85 954.4h1.3V966.6h-1.3ZM605.85 953.6h1.3V968.8h-1.3ZM606.85 952.8h1.3V964.6h-1.3ZM607.85 952.0h1.3V966.2h-1.3ZM608.85 951.2h1.3V966.0h-1.3ZM609.85 951.3h1.3V964.6h-1.3ZM610.85 951.8h1.3V968.8h-1.3ZM611.85 952.4h1.3V969.1h-1.3ZM612.85 953.0h1.3V966.3h-1.3ZM613.85 953.6h1.3V970.2h-1.3ZM614.85 954.3h1.3V966.3h-1.3ZM615.85 954.7h1.3V971.2h-1.3ZM616.85 955.0h1.3V968.9h-1.3ZM617.85 955.0h1.3V967.1h-1.3ZM618.85 955.0h1.3V969.9h-1.3ZM619.85 955.0h1.3V971.7h-1.3ZM620.85 955.0h1.3V967.8h-1.3ZM621.85 955.0h1.3V968.6h-1.3ZM622.85 955.0h1.3V966.1h-1.3ZM623.85 955.0h1.3V971.2h-1.3ZM624.85 955.1h1.3V969.1h-1.3ZM625.85 955.2h1.3V971.5h-1.3ZM626.85 955.4h1.3V969.9h-1.3ZM627.85 955.5h1.3V972.0h-1.3ZM628.85 955.7h1.3V972.5h-1.3ZM629.85 955.9h1.3V971.6h-1.3ZM630.85 956.8h1.3V972.3h-1.3ZM631.85 957.7h1.3V970.2h-1.3ZM632.85 958.6h1.3V972.8h-1.3ZM633.85 959.4h1.3V972.5h-1.3ZM634.85 959.5h1.3V975.6h-1.3ZM635.85 958.6h1.3V972.4h-1.3ZM636.85 957.7h1.3V974.6h-1.3ZM637.85 956.7h1.3V971.0h-1.3ZM638.85 955.8h1.3V969.3h-1.3ZM639.85 955.6h1.3V967.7h-1.3ZM640.85 955.7h1.3V968.0h-1.3ZM641.85 956.0h1.3V971.1h-1.3ZM642.85 956.3h1.3V971.9h-1.3ZM643.85 956.5h1.3V970.3h-1.3ZM644.85 957.5h1.3V973.5h-1.3ZM645.85 958.6h1.3V974.6h-1.3ZM646.85 959.9h1.3V977.1h-1.3ZM647.85 961.2h1.3V978.1h-1.3ZM648.85 962.6h1.3V977.7h-1.3ZM649.85 963.9h1.3V978.5h-1.3ZM650.85 965.2h1.3V979.6h-1.3ZM651.85 966.5h1.3V981.8h-1.3ZM652.85 967.8h1.3V981.7h-1.3ZM653.85 968.4h1.3V984.6h-1.3ZM654.85 967.9h1.3V978.6h-1.3ZM655.85 967.3h1.3V981.6h-1.3ZM656.85 966.7h1.3V981.0h-1.3ZM657.85 966.1h1.3V981.7h-1.3ZM658.85 965.5h1.3V981.5h-1.3ZM659.85 964.9h1.3V981.0h-1.3ZM660.85 964.3h1.3V979.1h-1.3ZM661.85 963.9h1.3V978.4h-1.3ZM662.85 963.6h1.3V980.6h-1.3ZM663.85 963.3h1.3V980.3h-1.3ZM664.85 963.0h1.3V978.0h-1.3ZM665.85 962.7h1.3V979.8h-1.3ZM666.85 962.4h1.3V978.9h-1.3ZM667.85 962.1h1.3V976.8h-1.3ZM668.85 961.8h1.3V974.7h-1.3ZM669.85 961.7h1.3V975.1h-1.3ZM670.85 961.9h1.3V975.9h-1.3ZM671.85 962.1h1.3V978.8h-1.3ZM672.85 962.2h1.3V977.9h-1.3ZM673.85 962.4h1.3V979.0h-1.3ZM674.85 962.5h1.3V978.0h-1.3ZM675.85 962.7h1.3V979.5h-1.3ZM676.85 962.9h1.3V978.8h-1.3ZM677.85 962.6h1.3V978.4h-1.3ZM678.85 962.1h1.3V977.4h-1.3ZM679.85 961.3h1.3V977.4h-1.3ZM680.85 960.6h1.3V975.0h-1.3ZM681.85 959.8h1.3V976.5h-1.3ZM682.85 959.5h1.3V976.1h-1.3ZM683.85 959.3h1.3V973.7h-1.3ZM684.85 959.4h1.3V972.4h-1.3ZM685.85 959.5h1.3V973.5h-1.3ZM686.85 959.6h1.3V975.5h-1.3ZM687.85 959.7h1.3V975.6h-1.3ZM688.85 959.8h1.3V974.4h-1.3ZM689.85 959.9h1.3V976.1h-1.3ZM690.85 959.1h1.3V974.0h-1.3ZM691.85 957.5h1.3V974.2h-1.3ZM692.85 954.5h1.3V969.8h-1.3ZM693.85 952.0h1.3V967.9h-1.3ZM694.85 949.8h1.3V964.9h-1.3ZM695.85 949.5h1.3V964.7h-1.3ZM696.85 949.2h1.3V960.9h-1.3ZM697.85 948.8h1.3V965.4h-1.3ZM698.85 948.8h1.3V962.0h-1.3ZM699.85 949.7h1.3V965.6h-1.3ZM700.85 952.5h1.3V969.5h-1.3ZM701.85 955.2h1.3V969.4h-1.3ZM702.85 957.4h1.3V974.1h-1.3ZM703.85 956.9h1.3V973.6h-1.3ZM704.85 956.4h1.3V968.1h-1.3ZM705.85 955.9h1.3V972.8h-1.3ZM706.85 955.4h1.3V970.2h-1.3ZM707.85 954.9h1.3V971.7h-1.3ZM708.85 954.4h1.3V966.0h-1.3ZM709.85 954.3h1.3V967.5h-1.3ZM710.85 954.4h1.3V967.0h-1.3ZM711.85 954.5h1.3V970.8h-1.3ZM712.85 954.6h1.3V967.4h-1.3ZM713.85 954.7h1.3V969.9h-1.3ZM714.85 954.9h1.3V968.6h-1.3ZM715.85 954.7h1.3V970.6h-1.3ZM716.85 954.3h1.3V969.4h-1.3ZM717.85 953.6h1.3V966.7h-1.3ZM718.85 952.9h1.3V969.6h-1.3ZM719.85 952.1h1.3V968.5h-1.3ZM720.85 951.4h1.3V967.1h-1.3ZM721.85 950.5h1.3V965.8h-1.3ZM722.85 949.2h1.3V964.4h-1.3ZM723.85 947.2h1.3V961.4h-1.3ZM724.85 944.8h1.3V959.0h-1.3ZM725.85 942.4h1.3V957.5h-1.3ZM726.85 938.2h1.3V953.5h-1.3ZM727.85 931.2h1.3V945.1h-1.3ZM728.85 928.2h1.3V945.8h-1.3ZM729.85 926.8h1.3V941.6h-1.3ZM730.85 927.6h1.3V942.3h-1.3ZM731.85 930.3h1.3V943.7h-1.3ZM732.85 934.3h1.3V949.0h-1.3ZM733.85 940.3h1.3V952.7h-1.3ZM734.85 945.3h1.3V959.0h-1.3ZM735.85 949.2h1.3V964.3h-1.3ZM736.85 951.2h1.3V963.6h-1.3ZM737.85 952.9h1.3V967.2h-1.3ZM738.85 954.6h1.3V971.2h-1.3ZM739.85 956.3h1.3V970.9h-1.3ZM740.85 958.0h1.3V970.0h-1.3ZM741.85 959.2h1.3V974.8h-1.3ZM742.85 960.4h1.3V975.0h-1.3ZM743.85 961.5h1.3V978.1h-1.3ZM744.85 962.1h1.3V979.0h-1.3ZM745.85 961.7h1.3V975.2h-1.3ZM746.85 959.8h1.3V974.9h-1.3ZM747.85 957.9h1.3V974.7h-1.3ZM748.85 955.1h1.3V967.6h-1.3ZM749.85 948.6h1.3V967.9h-1.3ZM750.85 940.0h1.3V958.5h-1.3ZM751.85 930.1h1.3V949.8h-1.3ZM752.85 925.0h1.3V937.2h-1.3ZM753.85 922.4h1.3V938.5h-1.3ZM754.85 923.1h1.3V936.9h-1.3ZM755.85 923.8h1.3V939.4h-1.3ZM756.85 925.2h1.3V937.5h-1.3ZM757.85 928.8h1.3V943.3h-1.3ZM758.85 936.7h1.3V954.2h-1.3ZM759.85 946.0h1.3V961.8h-1.3ZM760.85 948.9h1.3V966.0h-1.3ZM761.85 950.5h1.3V966.4h-1.3ZM762.85 950.8h1.3V967.0h-1.3ZM763.85 951.0h1.3V965.3h-1.3ZM764.85 951.3h1.3V967.7h-1.3ZM765.85 951.7h1.3V966.6h-1.3ZM766.85 952.3h1.3V969.5h-1.3ZM767.85 953.0h1.3V969.4h-1.3ZM768.85 953.7h1.3V969.5h-1.3ZM769.85 954.5h1.3V969.5h-1.3ZM770.85 955.2h1.3V969.8h-1.3ZM771.85 954.8h1.3V966.6h-1.3ZM772.85 954.2h1.3V969.5h-1.3ZM773.85 953.6h1.3V968.4h-1.3ZM774.85 952.6h1.3V968.4h-1.3ZM775.85 951.3h1.3V967.5h-1.3ZM776.85 950.0h1.3V964.2h-1.3ZM777.85 948.7h1.3V964.3h-1.3ZM778.85 947.4h1.3V964.1h-1.3ZM779.85 947.0h1.3V962.6h-1.3ZM780.85 946.9h1.3V963.5h-1.3ZM781.85 947.0h1.3V963.9h-1.3ZM782.85 947.1h1.3V963.7h-1.3ZM783.85 947.2h1.3V960.3h-1.3ZM784.85 947.4h1.3V962.9h-1.3ZM785.85 946.5h1.3V962.5h-1.3ZM786.85 945.1h1.3V960.9h-1.3ZM787.85 942.3h1.3V960.1h-1.3ZM788.85 939.5h1.3V955.4h-1.3ZM789.85 936.6h1.3V949.6h-1.3ZM790.85 934.2h1.3V947.0h-1.3ZM791.85 932.1h1.3V949.0h-1.3ZM792.85 930.6h1.3V945.9h-1.3ZM793.85 929.7h1.3V944.4h-1.3ZM794.85 929.6h1.3V944.0h-1.3ZM795.85 932.1h1.3V947.0h-1.3ZM796.85 934.6h1.3V950.4h-1.3ZM797.85 937.1h1.3V953.7h-1.3ZM798.85 939.4h1.3V953.4h-1.3ZM799.85 940.3h1.3V953.7h-1.3ZM800.85 939.3h1.3V954.2h-1.3ZM801.85 938.3h1.3V955.4h-1.3ZM802.85 937.6h1.3V953.7h-1.3ZM803.85 937.7h1.3V953.8h-1.3ZM804.85 937.9h1.3V951.6h-1.3ZM805.85 938.0h1.3V951.6h-1.3ZM806.85 938.2h1.3V951.7h-1.3ZM807.85 937.9h1.3V951.1h-1.3ZM808.85 937.1h1.3V951.7h-1.3ZM809.85 936.2h1.3V952.6h-1.3ZM810.85 935.7h1.3V952.2h-1.3ZM811.85 936.4h1.3V951.8h-1.3ZM812.85 937.8h1.3V954.1h-1.3ZM813.85 939.3h1.3V953.9h-1.3ZM814.85 941.1h1.3V956.2h-1.3ZM815.85 943.0h1.3V957.2h-1.3ZM816.85 945.0h1.3V959.5h-1.3ZM817.85 945.6h1.3V961.7h-1.3ZM818.85 945.7h1.3V960.9h-1.3ZM819.85 944.9h1.3V960.8h-1.3ZM820.85 945.1h1.3V962.3h-1.3ZM821.85 945.6h1.3V960.0h-1.3ZM822.85 946.0h1.3V962.1h-1.3ZM823.85 946.9h1.3V959.9h-1.3ZM824.85 948.0h1.3V964.3h-1.3ZM825.85 950.8h1.3V966.4h-1.3ZM826.85 953.3h1.3V968.6h-1.3ZM827.85 955.6h1.3V970.5h-1.3ZM828.85 955.7h1.3V972.5h-1.3ZM829.85 955.6h1.3V969.8h-1.3ZM830.85 955.4h1.3V972.1h-1.3ZM831.85 955.3h1.3V968.9h-1.3ZM832.85 955.2h1.3V972.2h-1.3ZM833.85 955.1h1.3V970.5h-1.3ZM834.85 955.1h1.3V971.7h-1.3ZM835.85 955.3h1.3V972.0h-1.3ZM836.85 955.5h1.3V971.8h-1.3ZM837.85 955.7h1.3V972.4h-1.3ZM838.85 955.9h1.3V969.9h-1.3ZM839.85 956.1h1.3V968.8h-1.3ZM840.85 956.3h1.3V971.3h-1.3ZM841.85 956.3h1.3V973.4h-1.3ZM842.85 956.4h1.3V968.0h-1.3ZM843.85 956.4h1.3V973.3h-1.3ZM844.85 956.5h1.3V972.3h-1.3ZM845.85 956.5h1.3V973.0h-1.3ZM846.85 956.5h1.3V973.1h-1.3ZM847.85 956.6h1.3V972.9h-1.3ZM848.85 956.6h1.3V971.7h-1.3ZM849.85 956.6h1.3V972.5h-1.3ZM850.85 954.0h1.3V972.0h-1.3ZM851.85 949.6h1.3V967.1h-1.3ZM852.85 941.1h1.3V959.6h-1.3ZM853.85 932.8h1.3V949.2h-1.3ZM854.85 924.8h1.3V939.8h-1.3ZM855.85 917.5h1.3V931.9h-1.3ZM856.85 910.9h1.3V924.6h-1.3ZM857.85 905.8h1.3V918.2h-1.3ZM858.85 905.3h1.3V920.8h-1.3ZM859.85 907.1h1.3V920.0h-1.3ZM860.85 912.3h1.3V931.2h-1.3ZM861.85 918.7h1.3V930.7h-1.3ZM862.85 925.9h1.3V942.4h-1.3ZM863.85 933.2h1.3V947.9h-1.3ZM864.85 941.2h1.3V956.0h-1.3ZM865.85 950.2h1.3V966.1h-1.3ZM866.85 955.8h1.3V970.6h-1.3ZM867.85 959.6h1.3V972.1h-1.3ZM868.85 960.0h1.3V976.3h-1.3ZM869.85 960.5h1.3V974.0h-1.3ZM870.85 960.9h1.3V977.1h-1.3ZM871.85 961.3h1.3V978.1h-1.3ZM872.85 961.3h1.3V978.2h-1.3ZM873.85 960.9h1.3V974.8h-1.3ZM874.85 960.2h1.3V976.1h-1.3ZM875.85 959.6h1.3V972.6h-1.3ZM876.85 958.9h1.3V973.3h-1.3ZM877.85 958.5h1.3V973.0h-1.3ZM878.85 958.3h1.3V973.7h-1.3ZM879.85 958.2h1.3V970.7h-1.3ZM880.85 958.1h1.3V975.2h-1.3ZM881.85 958.1h1.3V973.3h-1.3ZM882.85 957.5h1.3V970.4h-1.3ZM883.85 956.7h1.3V970.1h-1.3ZM884.85 955.6h1.3V969.8h-1.3ZM885.85 954.6h1.3V969.3h-1.3ZM886.85 953.5h1.3V965.5h-1.3ZM887.85 952.4h1.3V969.1h-1.3ZM888.85 952.2h1.3V967.9h-1.3ZM889.85 952.5h1.3V968.8h-1.3ZM890.85 953.1h1.3V969.2h-1.3ZM891.85 953.6h1.3V970.4h-1.3ZM892.85 954.0h1.3V971.0h-1.3ZM893.85 953.7h1.3V970.2h-1.3ZM894.85 953.4h1.3V965.3h-1.3ZM895.85 953.0h1.3V969.4h-1.3ZM896.85 952.6h1.3V967.5h-1.3ZM897.85 952.2h1.3V967.5h-1.3ZM898.85 951.9h1.3V967.8h-1.3ZM899.85 951.9h1.3V965.6h-1.3ZM900.85 952.2h1.3V969.4h-1.3ZM901.85 952.6h1.3V968.3h-1.3ZM902.85 953.0h1.3V968.4h-1.3ZM903.85 953.4h1.3V970.1h-1.3ZM904.85 953.7h1.3V970.6h-1.3ZM905.85 954.3h1.3V965.0h-1.3ZM906.85 955.8h1.3V972.6h-1.3ZM907.85 957.5h1.3V972.2h-1.3ZM908.85 959.4h1.3V975.9h-1.3ZM909.85 961.2h1.3V975.9h-1.3ZM910.85 963.1h1.3V977.8h-1.3ZM911.85 965.0h1.3V979.2h-1.3ZM912.85 967.0h1.3V984.1h-1.3ZM913.85 969.0h1.3V984.2h-1.3ZM914.85 971.0h1.3V986.2h-1.3ZM915.85 972.4h1.3V986.4h-1.3ZM916.85 973.4h1.3V990.3h-1.3ZM917.85 973.6h1.3V989.9h-1.3ZM918.85 973.7h1.3V985.0h-1.3ZM919.85 973.8h1.3V989.5h-1.3ZM920.85 973.9h1.3V990.8h-1.3ZM921.85 974.1h1.3V990.1h-1.3ZM922.85 974.2h1.3V990.2h-1.3ZM923.85 974.3h1.3V986.5h-1.3ZM924.85 974.4h1.3V988.1h-1.3ZM925.85 974.6h1.3V991.3h-1.3ZM926.85 974.7h1.3V986.8h-1.3ZM927.85 974.8h1.3V990.8h-1.3ZM928.85 975.0h1.3V990.1h-1.3ZM929.85 975.2h1.3V989.9h-1.3ZM930.85 975.7h1.3V992.4h-1.3ZM931.85 976.1h1.3V990.5h-1.3ZM932.85 976.6h1.3V990.5h-1.3ZM933.85 977.0h1.3V990.3h-1.3ZM934.85 977.5h1.3V990.5h-1.3ZM935.85 977.8h1.3V993.5h-1.3ZM936.85 976.5h1.3V993.3h-1.3ZM937.85 975.0h1.3V992.5h-1.3ZM938.85 973.3h1.3V986.4h-1.3ZM939.85 972.4h1.3V988.0h-1.3ZM940.85 971.8h1.3V985.8h-1.3ZM941.85 971.2h1.3V987.9h-1.3ZM942.85 970.8h1.3V987.6h-1.3ZM943.85 970.3h1.3V984.4h-1.3ZM944.85 970.4h1.3V986.9h-1.3ZM945.85 970.6h1.3V986.6h-1.3ZM946.85 971.0h1.3V986.7h-1.3ZM947.85 970.8h1.3V986.3h-1.3ZM948.85 970.4h1.3V985.5h-1.3ZM949.85 969.6h1.3V984.9h-1.3ZM950.85 969.5h1.3V986.4h-1.3ZM951.85 969.8h1.3V985.9h-1.3ZM952.85 971.1h1.3V986.6h-1.3ZM953.85 972.4h1.3V989.0h-1.3ZM954.85 973.7h1.3V989.4h-1.3ZM955.85 975.1h1.3V990.1h-1.3ZM956.85 976.3h1.3V993.2h-1.3ZM957.85 977.3h1.3V994.0h-1.3ZM958.85 977.4h1.3V994.5h-1.3ZM959.85 977.2h1.3V991.2h-1.3ZM960.85 977.1h1.3V993.8h-1.3ZM961.85 977.0h1.3V993.6h-1.3ZM962.85 976.9h1.3V990.6h-1.3ZM963.85 976.7h1.3V993.6h-1.3ZM964.85 976.6h1.3V991.5h-1.3ZM965.85 976.4h1.3V991.3h-1.3ZM966.85 976.2h1.3V991.7h-1.3ZM967.85 976.0h1.3V988.5h-1.3ZM968.85 975.8h1.3V992.5h-1.3ZM969.85 975.6h1.3V989.9h-1.3ZM970.85 975.5h1.3V991.3h-1.3ZM971.85 976.0h1.3V991.8h-1.3ZM972.85 976.6h1.3V993.8h-1.3ZM973.85 977.3h1.3V993.2h-1.3ZM974.85 978.0h1.3V993.9h-1.3ZM975.85 978.7h1.3V995.0h-1.3ZM976.85 979.4h1.3V995.7h-1.3ZM977.85 979.5h1.3V994.6h-1.3ZM978.85 979.2h1.3V995.7h-1.3ZM979.85 978.6h1.3V993.8h-1.3ZM980.85 977.9h1.3V994.4h-1.3ZM981.85 977.2h1.3V994.0h-1.3ZM982.85 976.2h1.3V991.9h-1.3ZM983.85 975.0h1.3V990.5h-1.3ZM984.85 973.6h1.3V988.7h-1.3ZM985.85 972.2h1.3V988.1h-1.3ZM986.85 971.0h1.3V987.0h-1.3ZM987.85 970.2h1.3V987.5h-1.3ZM988.85 970.4h1.3V985.2h-1.3ZM989.85 971.0h1.3V986.6h-1.3ZM990.85 972.0h1.3V988.6h-1.3ZM991.85 973.8h1.3V989.1h-1.3ZM992.85 976.2h1.3V992.0h-1.3ZM993.85 978.6h1.3V995.4h-1.3ZM994.85 980.5h1.3V995.4h-1.3ZM995.85 981.5h1.3V996.7h-1.3ZM996.85 982.5h1.3V998.8h-1.3ZM997.85 983.0h1.3V1000.1h-1.3ZM998.85 981.3h1.3V994.8h-1.3ZM999.85 979.5h1.3V995.5h-1.3ZM1000.85 977.8h1.3V994.9h-1.3ZM1001.85 976.0h1.3V991.9h-1.3ZM1002.85 974.1h1.3V989.7h-1.3ZM1003.85 972.3h1.3V987.4h-1.3ZM1004.85 970.5h1.3V987.4h-1.3ZM1005.85 969.1h1.3V981.2h-1.3ZM1006.85 969.0h1.3V982.1h-1.3ZM1007.85 968.9h1.3V983.3h-1.3ZM1008.85 968.8h1.3V985.9h-1.3ZM1009.85 967.9h1.3V983.1h-1.3ZM1010.85 967.1h1.3V980.2h-1.3ZM1011.85 966.4h1.3V982.8h-1.3ZM1012.85 965.9h1.3V980.9h-1.3ZM1013.85 965.5h1.3V980.0h-1.3ZM1014.85 965.1h1.3V981.5h-1.3ZM1015.85 964.9h1.3V976.9h-1.3ZM1016.85 964.9h1.3V980.6h-1.3ZM1017.85 965.1h1.3V979.1h-1.3ZM1018.85 965.3h1.3V978.9h-1.3ZM1019.85 965.6h1.3V982.1h-1.3ZM1020.85 966.1h1.3V982.0h-1.3ZM1021.85 966.9h1.3V979.3h-1.3ZM1022.85 968.3h1.3V981.7h-1.3ZM1023.85 969.6h1.3V985.5h-1.3ZM1024.85 970.9h1.3V982.7h-1.3ZM1025.85 972.3h1.3V986.6h-1.3ZM1026.85 973.7h1.3V986.3h-1.3ZM1027.85 975.2h1.3V991.6h-1.3ZM1028.85 976.7h1.3V993.1h-1.3ZM1029.85 978.2h1.3V995.4h-1.3ZM1030.85 979.7h1.3V996.6h-1.3ZM1031.85 980.8h1.3V998.2h-1.3ZM1032.85 981.7h1.3V996.0h-1.3ZM1033.85 982.6h1.3V998.1h-1.3ZM1034.85 983.6h1.3V1000.0h-1.3ZM1035.85 984.3h1.3V999.1h-1.3ZM1036.85 984.0h1.3V999.0h-1.3ZM1037.85 983.4h1.3V999.0h-1.3ZM1038.85 982.8h1.3V997.6h-1.3ZM1039.85 982.1h1.3V999.1h-1.3ZM1040.85 981.6h1.3V998.3h-1.3ZM1041.85 981.2h1.3V994.7h-1.3ZM1042.85 981.0h1.3V996.6h-1.3ZM1043.85 980.8h1.3V992.9h-1.3ZM1044.85 980.6h1.3V997.0h-1.3ZM1045.85 980.4h1.3V996.2h-1.3ZM1046.85 980.2h1.3V995.9h-1.3ZM1047.85 979.3h1.3V993.8h-1.3ZM1048.85 978.1h1.3V991.8h-1.3ZM1049.85 976.4h1.3V988.2h-1.3ZM1050.85 974.7h1.3V991.3h-1.3ZM1051.85 973.2h1.3V990.0h-1.3ZM1052.85 972.0h1.3V987.2h-1.3ZM1053.85 971.7h1.3V988.6h-1.3ZM1054.85 971.7h1.3V986.8h-1.3ZM1055.85 971.7h1.3V987.5h-1.3ZM1056.85 971.8h1.3V987.4h-1.3ZM1057.85 972.0h1.3V987.5h-1.3ZM1058.85 973.3h1.3V987.5h-1.3ZM1059.85 974.7h1.3V987.5h-1.3ZM1060.85 976.1h1.3V992.6h-1.3ZM1061.85 976.2h1.3V992.2h-1.3ZM1062.85 975.7h1.3V992.6h-1.3ZM1063.85 973.9h1.3V987.9h-1.3ZM1064.85 972.1h1.3V984.2h-1.3ZM1065.85 970.3h1.3V987.1h-1.3ZM1066.85 966.8h1.3V982.7h-1.3ZM1067.85 963.3h1.3V978.6h-1.3ZM1068.85 959.6h1.3V975.8h-1.3ZM1069.85 955.9h1.3V972.6h-1.3ZM1070.85 953.0h1.3V965.2h-1.3ZM1071.85 952.5h1.3V969.6h-1.3ZM1072.85 952.6h1.3V969.2h-1.3ZM1073.85 953.2h1.3V969.5h-1.3ZM1074.85 955.3h1.3V971.1h-1.3ZM1075.85 957.8h1.3V975.0h-1.3ZM1076.85 960.8h1.3V974.8h-1.3ZM1077.85 964.1h1.3V978.9h-1.3ZM1078.85 967.4h1.3V986.1h-1.3ZM1079.85 970.9h1.3V986.9h-1.3ZM1080.85 974.4h1.3V990.2h-1.3ZM1081.85 977.5h1.3V994.9h-1.3ZM1082.85 977.5h1.3V995.8h-1.3ZM1083.85 974.7h1.3V991.7h-1.3ZM1084.85 969.5h1.3V988.9h-1.3ZM1085.85 965.2h1.3V982.3h-1.3ZM1086.85 961.9h1.3V979.9h-1.3ZM1087.85 960.1h1.3V973.9h-1.3ZM1088.85 958.2h1.3V977.8h-1.3ZM1089.85 956.2h1.3V974.0h-1.3ZM1090.85 953.5h1.3V972.4h-1.3ZM1091.85 953.4h1.3V971.0h-1.3ZM1092.85 955.1h1.3V973.2h-1.3ZM1093.85 959.3h1.3V975.1h-1.3ZM1094.85 962.8h1.3V984.0h-1.3ZM1095.85 965.4h1.3V986.6h-1.3ZM1096.85 966.7h1.3V986.7h-1.3ZM1097.85 967.7h1.3V984.8h-1.3ZM1098.85 968.7h1.3V988.8h-1.3ZM1099.85 969.2h1.3V983.3h-1.3ZM1100.85 969.4h1.3V984.9h-1.3ZM1101.85 969.6h1.3V987.1h-1.3ZM1102.85 969.8h1.3V984.7h-1.3ZM1103.85 969.9h1.3V990.8h-1.3ZM1104.85 969.6h1.3V986.9h-1.3ZM1105.85 969.2h1.3V989.9h-1.3ZM1106.85 968.8h1.3V987.8h-1.3ZM1107.85 968.2h1.3V984.3h-1.3ZM1108.85 967.7h1.3V984.2h-1.3ZM1109.85 967.1h1.3V987.4h-1.3ZM1110.85 966.5h1.3V984.0h-1.3ZM1111.85 965.8h1.3V984.0h-1.3ZM1112.85 965.2h1.3V983.8h-1.3ZM1113.85 964.4h1.3V983.1h-1.3ZM1114.85 963.6h1.3V978.9h-1.3ZM1115.85 962.7h1.3V978.3h-1.3ZM1116.85 961.7h1.3V979.2h-1.3ZM1117.85 960.7h1.3V977.2h-1.3ZM1118.85 960.1h1.3V978.5h-1.3ZM1119.85 959.8h1.3V977.2h-1.3ZM1120.85 960.9h1.3V978.9h-1.3ZM1121.85 962.1h1.3V981.1h-1.3ZM1122.85 963.2h1.3V977.4h-1.3ZM1123.85 964.2h1.3V984.8h-1.3ZM1124.85 964.7h1.3V982.5h-1.3ZM1125.85 964.1h1.3V983.7h-1.3ZM1126.85 963.4h1.3V981.0h-1.3ZM1127.85 962.8h1.3V983.1h-1.3ZM1128.85 962.2h1.3V978.4h-1.3ZM1129.85 961.6h1.3V981.7h-1.3ZM1130.85 960.9h1.3V980.4h-1.3ZM1131.85 962.3h1.3V978.2h-1.3ZM1132.85 963.8h1.3V985.3h-1.3ZM1133.85 965.4h1.3V986.3h-1.3ZM1134.85 967.1h1.3V985.3h-1.3ZM1135.85 968.7h1.3V989.7h-1.3ZM1136.85 970.3h1.3V991.2h-1.3ZM1137.85 971.1h1.3V987.9h-1.3ZM1138.85 971.4h1.3V990.9h-1.3ZM1139.85 971.1h1.3V990.5h-1.3ZM1140.85 970.9h1.3V991.6h-1.3ZM1141.85 970.6h1.3V984.7h-1.3ZM1142.85 970.4h1.3V990.8h-1.3ZM1143.85 970.3h1.3V989.4h-1.3ZM1144.85 970.7h1.3V988.6h-1.3ZM1145.85 971.5h1.3V989.8h-1.3ZM1146.85 972.5h1.3V993.3h-1.3ZM1147.85 973.5h1.3V993.8h-1.3ZM1148.85 974.5h1.3V993.1h-1.3ZM1149.85 975.5h1.3V995.5h-1.3ZM1150.85 976.4h1.3V994.9h-1.3ZM1151.85 977.2h1.3V996.2h-1.3ZM1152.85 977.8h1.3V998.0h-1.3ZM1153.85 978.4h1.3V999.2h-1.3ZM1154.85 979.1h1.3V997.0h-1.3ZM1155.85 979.7h1.3V998.6h-1.3ZM1156.85 980.2h1.3V994.6h-1.3ZM1157.85 980.6h1.3V995.3h-1.3ZM1158.85 979.5h1.3V994.9h-1.3ZM1159.85 978.4h1.3V996.8h-1.3ZM1160.85 977.3h1.3V995.2h-1.3ZM1161.85 976.1h1.3V994.8h-1.3ZM1162.85 975.0h1.3V991.8h-1.3ZM1163.85 973.9h1.3V992.2h-1.3ZM1164.85 973.2h1.3V994.1h-1.3ZM1165.85 972.8h1.3V989.1h-1.3ZM1166.85 972.5h1.3V993.2h-1.3ZM1167.85 972.2h1.3V992.5h-1.3ZM1168.85 971.8h1.3V989.1h-1.3ZM1169.85 972.4h1.3V987.7h-1.3ZM1170.85 973.2h1.3V989.0h-1.3ZM1171.85 974.2h1.3V991.6h-1.3ZM1172.85 975.2h1.3V993.5h-1.3ZM1173.85 976.2h1.3V995.8h-1.3ZM1174.85 977.2h1.3V997.6h-1.3ZM1175.85 977.6h1.3V995.2h-1.3ZM1176.85 977.5h1.3V995.7h-1.3ZM1177.85 976.5h1.3V995.1h-1.3ZM1178.85 975.5h1.3V995.6h-1.3ZM1179.85 974.5h1.3V995.0h-1.3ZM1180.85 974.0h1.3V990.3h-1.3ZM1181.85 973.8h1.3V993.9h-1.3ZM1182.85 974.2h1.3V994.4h-1.3ZM1183.85 974.8h1.3V994.4h-1.3ZM1184.85 975.2h1.3V992.6h-1.3ZM1185.85 975.8h1.3V996.1h-1.3ZM1186.85 976.3h1.3V995.5h-1.3ZM1187.85 976.9h1.3V994.1h-1.3ZM1188.85 977.8h1.3V995.5h-1.3ZM1189.85 978.8h1.3V998.0h-1.3ZM1190.85 979.8h1.3V997.8h-1.3ZM1191.85 980.8h1.3V1000.5h-1.3ZM1192.85 981.5h1.3V997.6h-1.3ZM1193.85 980.2h1.3V997.0h-1.3ZM1194.85 979.0h1.3V997.4h-1.3ZM1195.85 977.7h1.3V994.7h-1.3ZM1196.85 974.9h1.3V989.8h-1.3ZM1197.85 972.0h1.3V991.3h-1.3ZM1198.85 969.0h1.3V987.8h-1.3ZM1199.85 967.0h1.3V987.3h-1.3ZM1200.85 965.7h1.3V986.3h-1.3ZM1201.85 966.5h1.3V985.7h-1.3ZM1202.85 967.3h1.3V987.7h-1.3ZM1203.85 968.0h1.3V986.4h-1.3ZM1204.85 970.0h1.3V985.3h-1.3ZM1205.85 972.2h1.3V992.1h-1.3ZM1206.85 974.8h1.3V991.0h-1.3ZM1207.85 977.2h1.3V992.0h-1.3ZM1208.85 978.4h1.3V989.9h-1.3ZM1209.85 976.2h1.3V985.6h-1.3ZM1210.85 974.0h1.3V981.8h-1.3ZM1211.85 971.8h1.3V980.7h-1.3ZM1212.85 968.6h1.3V976.7h-1.3ZM1213.85 964.9h1.3V973.3h-1.3ZM1214.85 960.5h1.3V970.1h-1.3ZM1215.85 956.1h1.3V964.5h-1.3ZM1216.85 952.8h1.3V959.9h-1.3ZM1217.85 952.1h1.3V960.3h-1.3ZM1218.85 952.0h1.3V959.1h-1.3ZM1219.85 952.1h1.3V961.4h-1.3ZM1220.85 952.2h1.3V960.5h-1.3ZM1221.85 952.3h1.3V960.6h-1.3ZM1222.85 952.3h1.3V960.9h-1.3ZM1223.85 951.1h1.3V958.7h-1.3ZM1224.85 950.0h1.3V959.9h-1.3ZM1225.85 948.8h1.3V956.2h-1.3ZM1226.85 947.6h1.3V957.0h-1.3ZM1227.85 946.5h1.3V955.5h-1.3ZM1228.85 945.5h1.3V955.2h-1.3ZM1229.85 944.5h1.3V954.0h-1.3ZM1230.85 943.5h1.3V952.3h-1.3ZM1231.85 943.3h1.3V951.5h-1.3ZM1232.85 943.7h1.3V951.2h-1.3ZM1233.85 944.9h1.3V952.0h-1.3ZM1234.85 946.1h1.3V956.0h-1.3ZM1235.85 947.3h1.3V957.0h-1.3ZM1236.85 948.3h1.3V957.6h-1.3ZM1237.85 949.3h1.3V958.4h-1.3ZM1238.85 950.3h1.3V959.3h-1.3ZM1239.85 951.2h1.3V960.8h-1.3ZM1240.85 951.5h1.3V960.7h-1.3ZM1241.85 951.3h1.3V960.0h-1.3ZM1242.85 951.1h1.3V957.4h-1.3ZM1243.85 951.1h1.3V959.5h-1.3ZM1244.85 951.3h1.3V960.0h-1.3ZM1245.85 951.8h1.3V960.1h-1.3ZM1246.85 952.5h1.3V960.8h-1.3ZM1247.85 953.2h1.3V961.7h-1.3ZM1248.85 953.6h1.3V961.8h-1.3ZM1249.85 954.0h1.3V962.6h-1.3ZM1250.85 953.7h1.3V962.9h-1.3ZM1251.85 953.3h1.3V961.5h-1.3ZM1252.85 953.0h1.3V962.3h-1.3ZM1253.85 952.7h1.3V961.4h-1.3ZM1254.85 952.3h1.3V960.3h-1.3ZM1255.85 952.0h1.3V961.5h-1.3ZM1256.85 951.6h1.3V961.3h-1.3ZM1257.85 951.3h1.3V959.5h-1.3ZM1258.85 951.2h1.3V960.5h-1.3ZM1259.85 951.1h1.3V959.2h-1.3ZM1260.85 951.0h1.3V960.7h-1.3ZM1261.85 950.9h1.3V959.4h-1.3ZM1262.85 951.2h1.3V960.6h-1.3ZM1263.85 952.4h1.3V961.4h-1.3ZM1264.85 953.7h1.3V960.6h-1.3ZM1265.85 955.1h1.3V962.5h-1.3ZM1266.85 956.4h1.3V966.0h-1.3ZM1267.85 957.9h1.3V970.6h-1.3ZM1268.85 959.6h1.3V979.2h-1.3ZM1269.85 961.4h1.3V984.5h-1.3ZM1270.85 963.1h1.3V990.8h-1.3ZM1271.85 964.5h1.3V995.9h-1.3ZM1272.85 963.8h1.3V995.8h-1.3ZM1273.85 962.6h1.3V986.7h-1.3ZM1274.85 961.4h1.3V994.6h-1.3ZM1275.85 959.8h1.3V985.8h-1.3ZM1276.85 958.0h1.3V988.4h-1.3ZM1277.85 955.6h1.3V983.0h-1.3ZM1278.85 953.2h1.3V985.2h-1.3ZM1279.85 950.8h1.3V983.2h-1.3ZM1280.85 949.0h1.3V980.5h-1.3ZM1281.85 947.3h1.3V979.6h-1.3ZM1282.85 945.7h1.3V969.1h-1.3ZM1283.85 944.6h1.3V977.2h-1.3ZM1284.85 944.0h1.3V974.2h-1.3ZM1285.85 945.2h1.3V973.9h-1.3ZM1286.85 946.5h1.3V972.1h-1.3ZM1287.85 948.0h1.3V982.8h-1.3ZM1288.85 950.4h1.3V975.3h-1.3ZM1289.85 952.9h1.3V986.2h-1.3ZM1290.85 955.4h1.3V988.2h-1.3ZM1291.85 957.9h1.3V986.7h-1.3ZM1292.85 960.1h1.3V991.6h-1.3ZM1293.85 961.2h1.3V989.2h-1.3ZM1294.85 962.2h1.3V993.5h-1.3ZM1295.85 963.2h1.3V994.9h-1.3ZM1296.85 964.2h1.3V992.8h-1.3ZM1297.85 964.2h1.3V993.5h-1.3ZM1298.85 963.0h1.3V989.4h-1.3ZM1299.85 961.4h1.3V992.1h-1.3ZM1300.85 959.7h1.3V992.7h-1.3ZM1301.85 958.1h1.3V989.2h-1.3ZM1302.85 956.8h1.3V988.7h-1.3ZM1303.85 955.7h1.3V981.3h-1.3ZM1304.85 954.9h1.3V987.6h-1.3ZM1305.85 954.0h1.3V986.7h-1.3ZM1306.85 953.2h1.3V978.3h-1.3ZM1307.85 953.1h1.3V984.0h-1.3ZM1308.85 953.3h1.3V983.2h-1.3ZM1309.85 953.9h1.3V975.1h-1.3ZM1310.85 954.6h1.3V987.1h-1.3ZM1311.85 955.4h1.3V983.5h-1.3ZM1312.85 956.5h1.3V984.4h-1.3ZM1313.85 958.2h1.3V988.8h-1.3ZM1314.85 960.2h1.3V993.6h-1.3ZM1315.85 961.3h1.3V986.3h-1.3ZM1316.85 961.4h1.3V988.6h-1.3ZM1317.85 960.1h1.3V988.9h-1.3ZM1318.85 958.7h1.3V989.0h-1.3ZM1319.85 957.4h1.3V984.5h-1.3ZM1320.85 956.3h1.3V988.0h-1.3ZM1321.85 956.0h1.3V988.4h-1.3ZM1322.85 956.3h1.3V980.3h-1.3ZM1323.85 956.5h1.3V979.8h-1.3ZM1324.85 956.8h1.3V983.7h-1.3ZM1325.85 957.0h1.3V987.1h-1.3ZM1326.85 957.3h1.3V987.9h-1.3ZM1327.85 957.4h1.3V988.1h-1.3ZM1328.85 957.4h1.3V984.2h-1.3ZM1329.85 957.3h1.3V989.2h-1.3ZM1330.85 957.2h1.3V983.0h-1.3ZM1331.85 957.1h1.3V981.5h-1.3ZM1332.85 957.1h1.3V979.6h-1.3ZM1333.85 957.1h1.3V977.1h-1.3ZM1334.85 957.3h1.3V977.1h-1.3ZM1335.85 957.5h1.3V977.1h-1.3ZM1336.85 958.1h1.3V972.5h-1.3ZM1337.85 960.9h1.3V980.0h-1.3ZM1338.85 964.3h1.3V983.9h-1.3ZM1339.85 967.7h1.3V985.9h-1.3ZM1340.85 970.7h1.3V986.0h-1.3ZM1341.85 973.5h1.3V990.1h-1.3ZM1342.85 975.8h1.3V995.9h-1.3ZM1343.85 977.5h1.3V998.9h-1.3ZM1344.85 978.7h1.3V996.9h-1.3ZM1345.85 978.4h1.3V998.3h-1.3ZM1346.85 977.8h1.3V994.3h-1.3ZM1347.85 976.7h1.3V995.3h-1.3ZM1348.85 974.9h1.3V990.0h-1.3ZM1349.85 972.7h1.3V993.1h-1.3ZM1350.85 970.7h1.3V988.8h-1.3ZM1351.85 969.3h1.3V990.2h-1.3ZM1352.85 968.5h1.3V987.7h-1.3ZM1353.85 967.6h1.3V985.8h-1.3ZM1354.85 966.8h1.3V984.1h-1.3ZM1355.85 966.0h1.3V981.8h-1.3ZM1356.85 965.0h1.3V985.2h-1.3ZM1357.85 964.0h1.3V984.2h-1.3ZM1358.85 963.0h1.3V982.6h-1.3ZM1359.85 962.0h1.3V977.2h-1.3ZM1360.85 961.0h1.3V980.7h-1.3ZM1361.85 960.9h1.3V978.8h-1.3ZM1362.85 960.8h1.3V978.3h-1.3ZM1363.85 960.8h1.3V981.3h-1.3ZM1364.85 960.8h1.3V981.7h-1.3ZM1365.85 960.8h1.3V981.0h-1.3ZM1366.85 960.5h1.3V979.3h-1.3ZM1367.85 960.2h1.3V976.4h-1.3ZM1368.85 959.9h1.3V980.0h-1.3ZM1369.85 959.6h1.3V976.7h-1.3ZM1370.85 959.6h1.3V978.2h-1.3ZM1371.85 960.1h1.3V978.7h-1.3ZM1372.85 961.0h1.3V979.7h-1.3ZM1373.85 962.2h1.3V983.2h-1.3ZM1374.85 963.7h1.3V981.5h-1.3ZM1375.85 965.8h1.3V985.9h-1.3ZM1376.85 967.9h1.3V983.1h-1.3ZM1377.85 970.1h1.3V991.8h-1.3ZM1378.85 972.0h1.3V989.0h-1.3ZM1379.85 973.8h1.3V993.1h-1.3ZM1380.85 974.8h1.3V995.6h-1.3ZM1381.85 975.7h1.3V996.7h-1.3ZM1382.85 976.2h1.3V991.1h-1.3ZM1383.85 975.5h1.3V993.9h-1.3ZM1384.85 974.5h1.3V994.1h-1.3ZM1385.85 973.5h1.3V994.4h-1.3ZM1386.85 972.3h1.3V990.2h-1.3ZM1387.85 971.0h1.3V991.2h-1.3ZM1388.85 966.7h1.3V980.8h-1.3ZM1389.85 962.5h1.3V979.2h-1.3ZM1390.85 958.2h1.3V971.9h-1.3ZM1391.85 958.5h1.3V972.6h-1.3ZM1392.85 959.9h1.3V977.4h-1.3ZM1393.85 962.3h1.3V978.8h-1.3ZM1394.85 964.7h1.3V981.9h-1.3ZM1395.85 967.2h1.3V984.0h-1.3ZM1396.85 970.2h1.3V986.1h-1.3ZM1397.85 973.4h1.3V991.7h-1.3ZM1398.85 976.6h1.3V995.6h-1.3ZM1399.85 979.0h1.3V997.0h-1.3ZM1400.85 980.2h1.3V998.3h-1.3ZM1401.85 979.2h1.3V998.6h-1.3ZM1402.85 978.2h1.3V996.6h-1.3ZM1403.85 977.3h1.3V996.2h-1.3ZM1404.85 977.3h1.3V997.1h-1.3ZM1405.85 977.7h1.3V997.8h-1.3ZM1406.85 978.3h1.3V998.8h-1.3ZM1407.85 979.0h1.3V998.6h-1.3ZM1408.85 979.8h1.3V999.2h-1.3ZM1409.85 980.9h1.3V999.9h-1.3ZM1410.85 982.4h1.3V1003.2h-1.3ZM1411.85 984.0h1.3V1004.2h-1.3ZM1412.85 985.6h1.3V1006.2h-1.3ZM1413.85 984.7h1.3V1004.3h-1.3ZM1414.85 982.4h1.3V1003.5h-1.3ZM1415.85 979.2h1.3V999.7h-1.3ZM1416.85 976.0h1.3V994.3h-1.3ZM1417.85 972.9h1.3V991.6h-1.3ZM1418.85 969.8h1.3V989.9h-1.3ZM1419.85 966.8h1.3V988.6h-1.3ZM1420.85 963.8h1.3V983.1h-1.3ZM1421.85 960.9h1.3V976.6h-1.3ZM1422.85 958.8h1.3V978.0h-1.3ZM1423.85 961.4h1.3V978.7h-1.3ZM1424.85 964.1h1.3V985.3h-1.3ZM1425.85 966.8h1.3V986.3h-1.3ZM1426.85 969.4h1.3V987.0h-1.3ZM1427.85 972.0h1.3V986.6h-1.3ZM1428.85 974.4h1.3V993.7h-1.3ZM1429.85 976.7h1.3V994.0h-1.3ZM1430.85 979.1h1.3V997.1h-1.3ZM1431.85 981.4h1.3V1001.9h-1.3ZM1432.85 982.6h1.3V1002.9h-1.3ZM1433.85 983.1h1.3V1001.0h-1.3ZM1434.85 983.0h1.3V999.2h-1.3ZM1435.85 982.8h1.3V1003.2h-1.3ZM1436.85 982.6h1.3V1002.4h-1.3ZM1437.85 981.1h1.3V996.9h-1.3ZM1438.85 979.0h1.3V994.1h-1.3ZM1439.85 976.0h1.3V995.5h-1.3ZM1440.85 973.0h1.3V992.9h-1.3ZM1441.85 970.1h1.3V990.5h-1.3ZM1442.85 968.0h1.3V988.4h-1.3ZM1443.85 966.6h1.3V982.8h-1.3ZM1444.85 965.9h1.3V985.3h-1.3ZM1445.85 965.8h1.3V982.1h-1.3ZM1446.85 966.2h1.3V983.2h-1.3ZM1447.85 967.8h1.3V983.5h-1.3ZM1448.85 967.6h1.3V988.7h-1.3ZM1449.85 965.5h1.3V983.8h-1.3ZM1450.85 956.5h1.3V974.8h-1.3ZM1451.85 947.8h1.3V969.6h-1.3ZM1452.85 939.3h1.3V959.6h-1.3ZM1453.85 935.2h1.3V956.2h-1.3ZM1454.85 932.4h1.3V951.6h-1.3ZM1455.85 931.6h1.3V951.0h-1.3ZM1456.85 933.2h1.3V950.7h-1.3ZM1457.85 938.0h1.3V955.8h-1.3ZM1458.85 950.7h1.3V970.9h-1.3ZM1459.85 960.9h1.3V982.0h-1.3ZM1460.85 969.1h1.3V988.8h-1.3ZM1461.85 970.3h1.3V983.6h-1.3ZM1462.85 971.5h1.3V989.7h-1.3ZM1463.85 972.7h1.3V990.7h-1.3ZM1464.85 973.0h1.3V991.8h-1.3ZM1465.85 973.0h1.3V990.4h-1.3ZM1466.85 972.7h1.3V993.4h-1.3ZM1467.85 972.5h1.3V993.4h-1.3ZM1468.85 972.2h1.3V987.0h-1.3ZM1469.85 972.0h1.3V991.2h-1.3ZM1470.85 972.0h1.3V987.5h-1.3ZM1471.85 972.2h1.3V987.9h-1.3ZM1472.85 972.9h1.3V989.5h-1.3ZM1473.85 973.6h1.3V993.6h-1.3ZM1474.85 974.2h1.3V991.1h-1.3ZM1475.85 974.1h1.3V993.5h-1.3ZM1476.85 973.5h1.3V993.1h-1.3ZM1477.85 971.6h1.3V990.9h-1.3ZM1478.85 969.8h1.3V988.1h-1.3ZM1479.85 968.0h1.3V986.6h-1.3ZM1480.85 966.3h1.3V982.1h-1.3ZM1481.85 965.0h1.3V984.0h-1.3ZM1482.85 964.0h1.3V982.2h-1.3ZM1483.85 963.0h1.3V980.1h-1.3ZM1484.85 962.0h1.3V978.6h-1.3ZM1485.85 961.0h1.3V978.4h-1.3ZM1486.85 960.0h1.3V978.6h-1.3ZM1487.85 959.2h1.3V976.4h-1.3ZM1488.85 959.8h1.3V980.0h-1.3ZM1489.85 960.2h1.3V981.0h-1.3ZM1490.85 960.8h1.3V980.8h-1.3ZM1491.85 961.2h1.3V981.9h-1.3ZM1492.85 962.1h1.3V978.9h-1.3ZM1493.85 963.4h1.3V981.8h-1.3ZM1494.85 964.9h1.3V982.1h-1.3ZM1495.85 966.4h1.3V984.1h-1.3ZM1496.85 967.9h1.3V987.6h-1.3ZM1497.85 968.8h1.3V982.5h-1.3ZM1498.85 969.4h1.3V989.9h-1.3ZM1499.85 969.5h1.3V987.0h-1.3ZM1500.85 969.7h1.3V990.0h-1.3ZM1501.85 969.9h1.3V988.6h-1.3ZM1502.85 969.7h1.3V989.6h-1.3ZM1503.85 969.4h1.3V988.6h-1.3ZM1504.85 968.9h1.3V989.2h-1.3ZM1505.85 968.2h1.3V986.6h-1.3ZM1506.85 967.4h1.3V984.9h-1.3ZM1507.85 966.2h1.3V985.6h-1.3ZM1508.85 965.0h1.3V985.3h-1.3ZM1509.85 963.9h1.3V984.5h-1.3ZM1510.85 963.2h1.3V980.2h-1.3ZM1511.85 963.1h1.3V983.1h-1.3ZM1512.85 963.7h1.3V980.5h-1.3ZM1513.85 964.4h1.3V983.6h-1.3ZM1514.85 965.1h1.3V982.7h-1.3ZM1515.85 965.8h1.3V985.6h-1.3ZM1516.85 966.7h1.3V986.6h-1.3ZM1517.85 967.7h1.3V988.1h-1.3ZM1518.85 968.6h1.3V988.1h-1.3ZM1519.85 969.1h1.3V987.2h-1.3ZM1520.85 968.9h1.3V989.5h-1.3ZM1521.85 968.8h1.3V986.7h-1.3ZM1522.85 968.6h1.3V982.5h-1.3ZM1523.85 968.4h1.3V988.2h-1.3ZM1524.85 967.6h1.3V984.3h-1.3ZM1525.85 966.3h1.3V984.7h-1.3ZM1526.85 965.0h1.3V984.4h-1.3ZM1527.85 963.7h1.3V982.2h-1.3ZM1528.85 962.3h1.3V983.1h-1.3ZM1529.85 961.9h1.3V981.0h-1.3ZM1530.85 961.7h1.3V979.4h-1.3ZM1531.85 961.7h1.3V980.8h-1.3ZM1532.85 961.7h1.3V982.6h-1.3ZM1533.85 961.7h1.3V978.4h-1.3ZM1534.85 962.3h1.3V983.5h-1.3ZM1535.85 963.2h1.3V983.8h-1.3ZM1536.85 964.2h1.3V983.5h-1.3ZM1537.85 966.0h1.3V982.1h-1.3ZM1538.85 968.1h1.3V989.6h-1.3ZM1539.85 970.8h1.3V986.2h-1.3ZM1540.85 973.4h1.3V992.5h-1.3ZM1541.85 976.0h1.3V996.1h-1.3ZM1542.85 977.9h1.3V997.0h-1.3ZM1543.85 978.9h1.3V997.7h-1.3ZM1544.85 979.4h1.3V998.0h-1.3ZM1545.85 979.9h1.3V999.8h-1.3ZM1546.85 980.4h1.3V999.3h-1.3ZM1547.85 980.9h1.3V999.8h-1.3ZM1548.85 981.4h1.3V998.7h-1.3ZM1549.85 981.9h1.3V1002.5h-1.3ZM1550.85 982.4h1.3V1002.8h-1.3ZM1551.85 982.9h1.3V1001.5h-1.3ZM1552.85 983.2h1.3V999.7h-1.3ZM1553.85 982.6h1.3V1002.9h-1.3ZM1554.85 981.9h1.3V998.3h-1.3ZM1555.85 981.2h1.3V1001.2h-1.3ZM1556.85 980.6h1.3V997.2h-1.3ZM1557.85 979.9h1.3V1000.1h-1.3ZM1558.85 979.2h1.3V999.8h-1.3ZM1559.85 978.6h1.3V996.7h-1.3ZM1560.85 977.9h1.3V993.4h-1.3ZM1561.85 977.2h1.3V996.5h-1.3ZM1562.85 976.8h1.3V996.2h-1.3ZM1563.85 976.5h1.3V996.2h-1.3ZM1564.85 976.4h1.3V991.5h-1.3ZM1565.85 976.3h1.3V996.8h-1.3ZM1566.85 976.1h1.3V992.1h-1.3ZM1567.85 976.0h1.3V992.2h-1.3ZM1568.85 975.5h1.3V993.2h-1.3ZM1569.85 973.5h1.3V988.5h-1.3ZM1570.85 970.6h1.3V988.0h-1.3ZM1571.85 967.1h1.3V986.8h-1.3ZM1572.85 963.6h1.3V982.9h-1.3ZM1573.85 960.8h1.3V980.0h-1.3ZM1574.85 958.9h1.3V977.2h-1.3ZM1575.85 959.1h1.3V978.5h-1.3ZM1576.85 959.5h1.3V976.1h-1.3ZM1577.85 959.5h1.3V980.4h-1.3ZM1578.85 959.5h1.3V978.0h-1.3ZM1579.85 959.8h1.3V980.0h-1.3ZM1580.85 962.8h1.3V983.6h-1.3ZM1581.85 965.5h1.3V985.6h-1.3ZM1582.85 967.9h1.3V988.2h-1.3ZM1583.85 966.5h1.3V985.0h-1.3ZM1584.85 964.9h1.3V982.3h-1.3ZM1585.85 963.3h1.3V979.9h-1.3ZM1586.85 961.7h1.3V980.3h-1.3ZM1587.85 960.1h1.3V977.4h-1.3ZM1588.85 958.5h1.3V978.9h-1.3ZM1589.85 956.9h1.3V972.0h-1.3ZM1590.85 955.3h1.3V973.6h-1.3ZM1591.85 955.8h1.3V976.4h-1.3ZM1592.85 956.5h1.3V976.2h-1.3ZM1593.85 957.3h1.3V977.5h-1.3ZM1594.85 958.5h1.3V975.6h-1.3ZM1595.85 960.1h1.3V979.9h-1.3ZM1596.85 962.7h1.3V982.0h-1.3ZM1597.85 965.3h1.3V984.9h-1.3ZM1598.85 967.8h1.3V984.9h-1.3ZM1599.85 970.1h1.3V990.5h-1.3ZM1600.85 972.2h1.3V985.5h-1.3ZM1601.85 974.2h1.3V994.0h-1.3ZM1602.85 976.2h1.3V996.2h-1.3ZM1603.85 977.6h1.3V997.0h-1.3ZM1604.85 977.9h1.3V994.3h-1.3ZM1605.85 976.7h1.3V996.7h-1.3ZM1606.85 975.0h1.3V990.0h-1.3ZM1607.85 973.3h1.3V988.3h-1.3ZM1608.85 971.7h1.3V987.1h-1.3ZM1609.85 970.0h1.3V988.9h-1.3ZM1610.85 968.4h1.3V986.3h-1.3ZM1611.85 966.8h1.3V987.0h-1.3ZM1612.85 965.2h1.3V984.9h-1.3ZM1613.85 965.2h1.3V982.8h-1.3ZM1614.85 965.8h1.3V986.4h-1.3ZM1615.85 967.0h1.3V983.0h-1.3ZM1616.85 968.2h1.3V986.5h-1.3ZM1617.85 969.4h1.3V988.7h-1.3ZM1618.85 970.9h1.3V985.7h-1.3ZM1619.85 972.4h1.3V987.9h-1.3ZM1620.85 973.9h1.3V989.4h-1.3ZM1621.85 975.4h1.3V993.0h-1.3ZM1622.85 976.4h1.3V996.7h-1.3ZM1623.85 976.2h1.3V996.7h-1.3ZM1624.85 975.9h1.3V990.5h-1.3ZM1625.85 975.6h1.3V994.6h-1.3ZM1626.85 975.3h1.3V995.3h-1.3ZM1627.85 974.5h1.3V994.5h-1.3ZM1628.85 973.2h1.3V991.5h-1.3ZM1629.85 971.8h1.3V990.5h-1.3ZM1630.85 970.7h1.3V987.4h-1.3ZM1631.85 970.6h1.3V989.1h-1.3ZM1632.85 970.9h1.3V988.8h-1.3ZM1633.85 971.4h1.3V990.0h-1.3ZM1634.85 971.9h1.3V990.1h-1.3ZM1635.85 972.0h1.3V992.4h-1.3ZM1636.85 971.9h1.3V991.2h-1.3ZM1637.85 971.1h1.3V991.2h-1.3ZM1638.85 970.4h1.3V987.1h-1.3ZM1639.85 969.8h1.3V989.9h-1.3ZM1640.85 969.4h1.3V989.0h-1.3ZM1641.85 968.9h1.3V988.8h-1.3ZM1642.85 968.5h1.3V988.2h-1.3ZM1643.85 968.1h1.3V986.6h-1.3ZM1644.85 967.8h1.3V985.3h-1.3ZM1645.85 969.5h1.3V987.6h-1.3ZM1646.85 971.5h1.3V990.0h-1.3ZM1647.85 973.9h1.3V990.9h-1.3ZM1648.85 976.2h1.3V992.0h-1.3ZM1649.85 978.0h1.3V995.8h-1.3ZM1650.85 979.0h1.3V995.4h-1.3ZM1651.85 980.0h1.3V999.0h-1.3ZM1652.85 981.0h1.3V998.5h-1.3ZM1653.85 982.0h1.3V1002.3h-1.3ZM1654.85 983.0h1.3V996.3h-1.3ZM1655.85 984.0h1.3V1003.8h-1.3ZM1656.85 983.1h1.3V1000.7h-1.3ZM1657.85 982.0h1.3V995.6h-1.3ZM1658.85 980.9h1.3V997.4h-1.3ZM1659.85 979.7h1.3V999.9h-1.3ZM1660.85 978.4h1.3V993.3h-1.3ZM1661.85 976.8h1.3V994.4h-1.3ZM1662.85 975.0h1.3V992.8h-1.3ZM1663.85 973.3h1.3V992.3h-1.3ZM1664.85 971.8h1.3V989.2h-1.3ZM1665.85 971.4h1.3V990.1h-1.3ZM1666.85 972.2h1.3V989.7h-1.3ZM1667.85 973.0h1.3V990.6h-1.3ZM1668.85 973.8h1.3V993.4h-1.3ZM1669.85 974.8h1.3V988.7h-1.3ZM1670.85 975.9h1.3V995.2h-1.3ZM1671.85 977.1h1.3V994.7h-1.3ZM1672.85 978.2h1.3V996.8h-1.3ZM1673.85 979.0h1.3V998.2h-1.3ZM1674.85 979.3h1.3V997.2h-1.3ZM1675.85 978.0h1.3V997.6h-1.3ZM1676.85 976.7h1.3V993.6h-1.3ZM1677.85 975.3h1.3V992.4h-1.3ZM1678.85 974.3h1.3V993.5h-1.3ZM1679.85 973.7h1.3V993.6h-1.3ZM1680.85 974.3h1.3V991.6h-1.3ZM1681.85 975.0h1.3V993.8h-1.3ZM1682.85 975.7h1.3V993.3h-1.3ZM1683.85 976.3h1.3V991.2h-1.3ZM1684.85 977.2h1.3V994.8h-1.3ZM1685.85 978.2h1.3V996.8h-1.3ZM1686.85 979.2h1.3V998.7h-1.3ZM1687.85 980.2h1.3V997.5h-1.3ZM1688.85 981.2h1.3V999.1h-1.3ZM1689.85 981.2h1.3V1000.9h-1.3ZM1690.85 980.7h1.3V999.6h-1.3ZM1691.85 980.0h1.3V997.3h-1.3ZM1692.85 979.3h1.3V995.4h-1.3ZM1693.85 978.7h1.3V996.0h-1.3ZM1694.85 978.7h1.3V998.5h-1.3ZM1695.85 978.9h1.3V998.0h-1.3ZM1696.85 979.3h1.3V995.9h-1.3ZM1697.85 979.6h1.3V996.9h-1.3ZM1698.85 980.0h1.3V998.3h-1.3ZM1699.85 980.4h1.3V999.9h-1.3ZM1700.85 980.8h1.3V999.6h-1.3ZM1701.85 981.2h1.3V999.8h-1.3ZM1702.85 981.8h1.3V1001.4h-1.3ZM1703.85 982.3h1.3V998.6h-1.3ZM1704.85 982.8h1.3V996.4h-1.3ZM1705.85 983.2h1.3V1002.4h-1.3ZM1706.85 983.8h1.3V1002.0h-1.3ZM1707.85 984.2h1.3V1001.6h-1.3ZM1708.85 984.8h1.3V1004.0h-1.3ZM1709.85 985.2h1.3V1003.5h-1.3ZM1710.85 985.1h1.3V1001.4h-1.3ZM1711.85 984.0h1.3V1002.5h-1.3ZM1712.85 981.8h1.3V998.0h-1.3ZM1713.85 979.6h1.3V992.8h-1.3ZM1714.85 977.8h1.3V993.7h-1.3ZM1715.85 976.9h1.3V992.1h-1.3ZM1716.85 976.7h1.3V996.3h-1.3ZM1717.85 976.7h1.3V994.6h-1.3ZM1718.85 976.7h1.3V994.4h-1.3ZM1719.85 977.7h1.3V990.8h-1.3ZM1720.85 979.7h1.3V994.7h-1.3ZM1721.85 981.7h1.3V999.3h-1.3ZM1722.85 983.7h1.3V1000.6h-1.3ZM1723.85 985.7h1.3V1004.6h-1.3ZM1724.85 986.7h1.3V1002.4h-1.3ZM1725.85 987.4h1.3V1005.6h-1.3ZM1726.85 987.9h1.3V1006.7h-1.3ZM1727.85 988.4h1.3V1005.4h-1.3ZM1728.85 988.9h1.3V1006.2h-1.3ZM1729.85 988.4h1.3V1004.4h-1.3ZM1730.85 987.7h1.3V1004.7h-1.3ZM1731.85 986.7h1.3V999.8h-1.3ZM1732.85 985.7h1.3V1002.3h-1.3ZM1733.85 984.7h1.3V1003.2h-1.3ZM1734.85 983.7h1.3V999.5h-1.3ZM1735.85 982.9h1.3V1000.8h-1.3ZM1736.85 982.0h1.3V998.8h-1.3ZM1737.85 981.1h1.3V997.9h-1.3ZM1738.85 980.2h1.3V995.9h-1.3ZM1739.85 979.4h1.3V995.7h-1.3ZM1740.85 978.4h1.3V994.6h-1.3ZM1741.85 977.4h1.3V996.3h-1.3ZM1742.85 976.3h1.3V992.2h-1.3ZM1743.85 975.1h1.3V991.8h-1.3ZM1744.85 974.0h1.3V990.4h-1.3ZM1745.85 972.9h1.3V992.8h-1.3ZM1746.85 971.9h1.3V990.0h-1.3ZM1747.85 970.9h1.3V984.5h-1.3ZM1748.85 971.2h1.3V989.1h-1.3ZM1749.85 971.6h1.3V990.6h-1.3ZM1750.85 971.9h1.3V988.0h-1.3ZM1751.85 972.2h1.3V990.7h-1.3ZM1752.85 972.4h1.3V990.6h-1.3ZM1753.85 972.1h1.3V990.8h-1.3ZM1754.85 971.8h1.3V988.3h-1.3ZM1755.85 971.4h1.3V990.5h-1.3ZM1756.85 971.1h1.3V987.2h-1.3ZM1757.85 970.5h1.3V987.8h-1.3ZM1758.85 969.7h1.3V985.9h-1.3ZM1759.85 968.7h1.3V985.6h-1.3ZM1760.85 968.0h1.3V986.9h-1.3ZM1761.85 968.0h1.3V986.9h-1.3ZM1762.85 968.4h1.3V982.7h-1.3ZM1763.85 968.9h1.3V988.3h-1.3ZM1764.85 969.4h1.3V988.7h-1.3ZM1765.85 970.0h1.3V987.7h-1.3ZM1766.85 970.6h1.3V989.3h-1.3ZM1767.85 971.2h1.3V986.9h-1.3ZM1768.85 971.9h1.3V990.8h-1.3ZM1769.85 972.6h1.3V989.7h-1.3ZM1770.85 973.3h1.3V988.1h-1.3ZM1771.85 973.9h1.3V993.2h-1.3ZM1772.85 973.4h1.3V989.6h-1.3ZM1773.85 973.1h1.3V988.4h-1.3ZM1774.85 972.8h1.3V990.7h-1.3ZM1775.85 973.5h1.3V990.4h-1.3ZM1776.85 974.1h1.3V993.0h-1.3ZM1777.85 974.8h1.3V993.3h-1.3ZM1778.85 975.5h1.3V994.5h-1.3ZM1779.85 976.3h1.3V992.7h-1.3ZM1780.85 977.0h1.3V995.3h-1.3ZM1781.85 977.7h1.3V994.2h-1.3ZM1782.85 978.2h1.3V996.9h-1.3ZM1783.85 977.6h1.3V996.3h-1.3ZM1784.85 976.9h1.3V994.9h-1.3ZM1785.85 976.2h1.3V995.3h-1.3ZM1786.85 975.6h1.3V991.5h-1.3ZM1787.85 975.1h1.3V993.2h-1.3ZM1788.85 975.1h1.3V993.7h-1.3ZM1789.85 975.2h1.3V990.9h-1.3ZM1790.85 975.5h1.3V991.1h-1.3ZM1791.85 976.4h1.3V995.7h-1.3ZM1792.85 977.4h1.3V994.8h-1.3ZM1793.85 978.5h1.3V994.4h-1.3ZM1794.85 979.4h1.3V995.5h-1.3ZM1795.85 979.8h1.3V997.3h-1.3ZM1796.85 979.6h1.3V992.0h-1.3ZM1797.85 979.4h1.3V993.1h-1.3ZM1798.85 979.2h1.3V994.4h-1.3ZM1799.85 978.9h1.3V997.0h-1.3ZM1800.85 978.8h1.3V996.8h-1.3ZM1801.85 978.8h1.3V993.0h-1.3ZM1802.85 978.9h1.3V993.1h-1.3ZM1803.85 979.1h1.3V996.1h-1.3ZM1804.85 979.2h1.3V997.6h-1.3ZM1805.85 979.4h1.3V995.9h-1.3ZM1806.85 979.5h1.3V996.8h-1.3ZM1807.85 979.6h1.3V998.0h-1.3ZM1808.85 979.5h1.3V997.7h-1.3ZM1809.85 979.3h1.3V996.1h-1.3ZM1810.85 979.2h1.3V996.8h-1.3ZM1811.85 979.0h1.3V997.2h-1.3ZM1812.85 978.9h1.3V996.0h-1.3ZM1813.85 978.8h1.3V996.8h-1.3ZM1814.85 978.8h1.3V996.1h-1.3ZM1815.85 979.2h1.3V997.3h-1.3ZM1816.85 979.5h1.3V998.0h-1.3ZM1817.85 979.8h1.3V997.2h-1.3ZM1818.85 980.1h1.3V998.1h-1.3ZM1819.85 980.5h1.3V994.6h-1.3ZM1820.85 980.8h1.3V999.5h-1.3ZM1821.85 981.0h1.3V998.3h-1.3ZM1822.85 981.1h1.3V997.8h-1.3ZM1823.85 981.3h1.3V996.2h-1.3ZM1824.85 981.5h1.3V1000.0h-1.3ZM1825.85 981.3h1.3V999.7h-1.3ZM1826.85 980.5h1.3V995.6h-1.3ZM1827.85 979.4h1.3V997.6h-1.3ZM1828.85 978.2h1.3V993.7h-1.3ZM1829.85 977.6h1.3V993.9h-1.3ZM1830.85 977.2h1.3V992.4h-1.3ZM1831.85 977.1h1.3V994.8h-1.3ZM1832.85 976.9h1.3V993.2h-1.3ZM1833.85 976.8h1.3V992.3h-1.3ZM1834.85 976.8h1.3V993.1h-1.3ZM1835.85 976.9h1.3V990.8h-1.3ZM1836.85 977.1h1.3V993.2h-1.3ZM1837.85 977.2h1.3V995.8h-1.3ZM1838.85 977.3h1.3V993.7h-1.3ZM1839.85 977.2h1.3V995.3h-1.3ZM1840.85 976.6h1.3V995.1h-1.3ZM1841.85 976.1h1.3V992.2h-1.3ZM1842.85 975.5h1.3V992.9h-1.3ZM1843.85 974.9h1.3V989.3h-1.3ZM1844.85 974.3h1.3V989.6h-1.3ZM1845.85 973.8h1.3V991.8h-1.3ZM1846.85 973.6h1.3V991.3h-1.3ZM1847.85 973.5h1.3V991.5h-1.3ZM1848.85 973.4h1.3V990.1h-1.3ZM1849.85 973.3h1.3V988.5h-1.3ZM1850.85 973.2h1.3V990.2h-1.3ZM1851.85 973.1h1.3V987.4h-1.3ZM1852.85 972.8h1.3V989.9h-1.3ZM1853.85 972.3h1.3V986.5h-1.3ZM1854.85 971.8h1.3V988.4h-1.3ZM1855.85 971.2h1.3V985.6h-1.3ZM1856.85 970.6h1.3V986.5h-1.3ZM1857.85 970.0h1.3V985.1h-1.3ZM1858.85 969.5h1.3V987.7h-1.3ZM1859.85 968.8h1.3V987.0h-1.3ZM1860.85 968.2h1.3V985.7h-1.3ZM1861.85 967.5h1.3V979.5h-1.3ZM1862.85 966.8h1.3V983.0h-1.3ZM1863.85 966.1h1.3V978.7h-1.3ZM1864.85 965.0h1.3V982.6h-1.3ZM1865.85 963.7h1.3V976.3h-1.3ZM1866.85 962.3h1.3V978.3h-1.3ZM1867.85 960.9h1.3V979.1h-1.3ZM1868.85 959.3h1.3V977.9h-1.3ZM1869.85 957.3h1.3V969.8h-1.3ZM1870.85 955.3h1.3V970.2h-1.3ZM1871.85 953.9h1.3V970.0h-1.3ZM1872.85 953.7h1.3V970.7h-1.3ZM1873.85 953.8h1.3V969.4h-1.3ZM1874.85 954.2h1.3V972.1h-1.3ZM1875.85 955.6h1.3V973.2h-1.3ZM1876.85 957.2h1.3V974.0h-1.3ZM1877.85 959.0h1.3V975.8h-1.3ZM1878.85 960.6h1.3V974.6h-1.3ZM1879.85 961.8h1.3V975.8h-1.3ZM1880.85 962.0h1.3V979.1h-1.3ZM1881.85 962.3h1.3V979.5h-1.3ZM1882.85 962.2h1.3V978.2h-1.3ZM1883.85 960.6h1.3V976.1h-1.3ZM1884.85 958.9h1.3V973.7h-1.3ZM1885.85 957.3h1.3V973.0h-1.3ZM1886.85 956.9h1.3V973.5h-1.3ZM1887.85 956.6h1.3V973.1h-1.3ZM1888.85 956.3h1.3V974.0h-1.3ZM1889.85 956.1h1.3V973.6h-1.3ZM1890.85 956.0h1.3V973.0h-1.3ZM1891.85 956.3h1.3V973.6h-1.3ZM1892.85 956.8h1.3V974.0h-1.3ZM1893.85 957.2h1.3V975.3h-1.3ZM1894.85 957.8h1.3V974.5h-1.3ZM1895.85 958.3h1.3V972.0h-1.3ZM1896.85 959.0h1.3V974.9h-1.3ZM1897.85 959.9h1.3V977.0h-1.3ZM1898.85 960.7h1.3V978.3h-1.3ZM1899.85 961.5h1.3V978.6h-1.3ZM1900.85 961.9h1.3V979.0h-1.3ZM1901.85 962.1h1.3V980.0h-1.3ZM1902.85 961.6h1.3V979.6h-1.3ZM1903.85 961.1h1.3V976.1h-1.3ZM1904.85 960.6h1.3V977.1h-1.3ZM1905.85 960.4h1.3V975.6h-1.3ZM1906.85 960.6h1.3V977.0h-1.3ZM1907.85 961.4h1.3V979.0h-1.3ZM1908.85 962.0h1.3V979.6h-1.3ZM1909.85 962.3h1.3V979.6h-1.3ZM1910.85 962.0h1.3V977.5h-1.3ZM1911.85 961.7h1.3V977.4h-1.3ZM1912.85 961.3h1.3V978.5h-1.3ZM1913.85 961.0h1.3V973.3h-1.3ZM1914.85 960.8h1.3V974.4h-1.3ZM1915.85 960.8h1.3V977.5h-1.3ZM1916.85 960.8h1.3V977.8h-1.3ZM1917.85 960.8h1.3V978.8h-1.3ZM1918.85 960.8h1.3V974.4h-1.3ZM1919.85 960.8h1.3V977.9h-1.3ZM1920.85 960.8h1.3V977.3h-1.3ZM1921.85 960.5h1.3V977.6h-1.3ZM1922.85 960.1h1.3V975.3h-1.3ZM1923.85 959.8h1.3V974.8h-1.3ZM1924.85 959.4h1.3V976.7h-1.3ZM1925.85 959.0h1.3V974.4h-1.3ZM1926.85 958.6h1.3V975.7h-1.3ZM1927.85 958.4h1.3V974.7h-1.3ZM1928.85 958.1h1.3V974.2h-1.3ZM1929.85 958.0h1.3V974.3h-1.3ZM1930.85 957.8h1.3V975.5h-1.3ZM1931.85 957.6h1.3V973.6h-1.3ZM1932.85 957.2h1.3V974.2h-1.3ZM1933.85 956.6h1.3V972.4h-1.3ZM1934.85 955.9h1.3V974.2h-1.3ZM1935.85 954.9h1.3V972.5h-1.3ZM1936.85 953.8h1.3V971.2h-1.3ZM1937.85 952.3h1.3V969.6h-1.3ZM1938.85 952.3h1.3V969.8h-1.3ZM1939.85 953.0h1.3V966.0h-1.3ZM1940.85 954.3h1.3V970.2h-1.3ZM1941.85 955.7h1.3V971.0h-1.3ZM1942.85 957.1h1.3V970.2h-1.3ZM1943.85 959.2h1.3V972.9h-1.3ZM1944.85 961.4h1.3V979.1h-1.3ZM1945.85 963.6h1.3V978.6h-1.3ZM1946.85 964.8h1.3V979.5h-1.3ZM1947.85 965.4h1.3V982.9h-1.3ZM1948.85 965.0h1.3V982.7h-1.3ZM1949.85 964.5h1.3V977.5h-1.3ZM1950.85 964.1h1.3V979.8h-1.3ZM1951.85 963.7h1.3V978.4h-1.3ZM1952.85 963.2h1.3V978.4h-1.3ZM1953.85 962.7h1.3V978.8h-1.3ZM1954.85 962.2h1.3V979.9h-1.3ZM1955.85 961.8h1.3V975.4h-1.3ZM1956.85 961.2h1.3V979.4h-1.3ZM1957.85 961.0h1.3V974.6h-1.3ZM1958.85 961.0h1.3V978.4h-1.3ZM1959.85 961.1h1.3V977.1h-1.3ZM1960.85 961.2h1.3V977.6h-1.3ZM1961.85 961.3h1.3V974.4h-1.3ZM1962.85 961.5h1.3V976.4h-1.3ZM1963.85 961.4h1.3V978.8h-1.3ZM1964.85 961.0h1.3V976.8h-1.3ZM1965.85 960.2h1.3V975.6h-1.3ZM1966.85 959.2h1.3V977.2h-1.3ZM1967.85 958.4h1.3V975.4h-1.3ZM1968.85 957.8h1.3V969.1h-1.3ZM1969.85 957.2h1.3V973.4h-1.3ZM1970.85 956.8h1.3V970.9h-1.3ZM1971.85 956.2h1.3V973.4h-1.3ZM1972.85 955.7h1.3V973.5h-1.3ZM1973.85 954.9h1.3V969.3h-1.3ZM1974.85 954.1h1.3V972.0h-1.3ZM1975.85 953.3h1.3V966.4h-1.3ZM1976.85 952.0h1.3V967.9h-1.3ZM1977.85 950.5h1.3V966.1h-1.3ZM1978.85 948.5h1.3V966.0h-1.3ZM1979.85 946.7h1.3V962.1h-1.3ZM1980.85 945.2h1.3V960.6h-1.3ZM1981.85 944.2h1.3V961.6h-1.3ZM1982.85 943.1h1.3V957.0h-1.3ZM1983.85 942.0h1.3V956.8h-1.3ZM1984.85 940.7h1.3V957.7h-1.3ZM1985.85 939.7h1.3V953.4h-1.3ZM1986.85 941.1h1.3V958.6h-1.3ZM1987.85 942.8h1.3V959.1h-1.3ZM1988.85 944.8h1.3V962.0h-1.3ZM1989.85 946.2h1.3V964.3h-1.3ZM1990.85 947.3h1.3V962.9h-1.3ZM1991.85 948.3h1.3V964.0h-1.3ZM1992.85 949.1h1.3V962.8h-1.3ZM1993.85 949.5h1.3V967.2h-1.3ZM1994.85 947.9h1.3V966.3h-1.3ZM1995.85 946.3h1.3V961.2h-1.3ZM1996.85 944.7h1.3V961.3h-1.3ZM1997.85 944.6h1.3V958.9h-1.3ZM1998.85 944.5h1.3V959.4h-1.3ZM1999.85 944.4h1.3V961.4h-1.3ZM2000.85 944.3h1.3V959.0h-1.3ZM2001.85 944.5h1.3V958.6h-1.3ZM2002.85 945.6h1.3V963.2h-1.3ZM2003.85 946.7h1.3V965.0h-1.3ZM2004.85 947.7h1.3V965.6h-1.3ZM2005.85 948.0h1.3V962.5h-1.3ZM2006.85 948.3h1.3V964.5h-1.3ZM2007.85 948.7h1.3V965.5h-1.3ZM2008.85 949.1h1.3V966.1h-1.3ZM2009.85 950.0h1.3V965.5h-1.3ZM2010.85 951.8h1.3V967.5h-1.3ZM2011.85 953.5h1.3V969.6h-1.3ZM2012.85 955.3h1.3V973.1h-1.3ZM2013.85 957.0h1.3V975.9h-1.3ZM2014.85 958.8h1.3V977.0h-1.3ZM2015.85 960.5h1.3V977.9h-1.3ZM2016.85 959.2h1.3V974.3h-1.3ZM2017.85 957.6h1.3V970.3h-1.3ZM2018.85 955.9h1.3V973.2h-1.3ZM2019.85 955.3h1.3V971.3h-1.3ZM2020.85 955.0h1.3V970.8h-1.3ZM2021.85 955.0h1.3V968.6h-1.3ZM2022.85 955.0h1.3V969.1h-1.3ZM2023.85 955.0h1.3V972.0h-1.3ZM2024.85 955.3h1.3V971.0h-1.3ZM2025.85 955.6h1.3V972.5h-1.3ZM2026.85 956.0h1.3V971.2h-1.3ZM2027.85 956.4h1.3V974.6h-1.3ZM2028.85 956.8h1.3V973.2h-1.3ZM2029.85 957.0h1.3V974.0h-1.3ZM2030.85 957.1h1.3V975.1h-1.3ZM2031.85 957.2h1.3V975.8h-1.3ZM2032.85 957.3h1.3V975.8h-1.3ZM2033.85 957.5h1.3V972.9h-1.3ZM2034.85 957.8h1.3V976.0h-1.3ZM2035.85 958.2h1.3V976.5h-1.3ZM2036.85 958.6h1.3V977.2h-1.3ZM2037.85 958.6h1.3V973.1h-1.3ZM2038.85 957.4h1.3V975.6h-1.3ZM2039.85 956.0h1.3V973.0h-1.3ZM2040.85 954.7h1.3V972.3h-1.3ZM2041.85 954.5h1.3V970.0h-1.3ZM2042.85 954.9h1.3V968.9h-1.3ZM2043.85 955.3h1.3V973.6h-1.3ZM2044.85 955.7h1.3V973.1h-1.3ZM2045.85 956.2h1.3V973.3h-1.3ZM2046.85 956.8h1.3V975.0h-1.3ZM2047.85 957.4h1.3V970.5h-1.3ZM2048.85 958.0h1.3V976.0h-1.3ZM2049.85 958.6h1.3V973.8h-1.3ZM2050.85 959.1h1.3V976.8h-1.3ZM2051.85 959.6h1.3V972.0h-1.3ZM2052.85 959.6h1.3V977.5h-1.3ZM2053.85 959.0h1.3V976.5h-1.3ZM2054.85 958.2h1.3V975.8h-1.3ZM2055.85 957.4h1.3V974.6h-1.3ZM2056.85 956.5h1.3V971.3h-1.3ZM2057.85 955.9h1.3V972.8h-1.3ZM2058.85 955.3h1.3V969.9h-1.3ZM2059.85 954.8h1.3V973.5h-1.3ZM2060.85 954.3h1.3V970.7h-1.3ZM2061.85 953.8h1.3V970.7h-1.3ZM2062.85 952.9h1.3V971.9h-1.3ZM2063.85 952.0h1.3V970.1h-1.3ZM2064.85 950.8h1.3V968.6h-1.3ZM2065.85 949.6h1.3V967.8h-1.3ZM2066.85 948.6h1.3V965.5h-1.3ZM2067.85 948.0h1.3V962.6h-1.3ZM2068.85 948.1h1.3V965.6h-1.3ZM2069.85 948.6h1.3V963.7h-1.3ZM2070.85 949.2h1.3V967.0h-1.3ZM2071.85 949.9h1.3V965.0h-1.3ZM2072.85 950.7h1.3V968.8h-1.3ZM2073.85 951.5h1.3V968.7h-1.3ZM2074.85 952.3h1.3V970.3h-1.3ZM2075.85 952.9h1.3V970.4h-1.3ZM2076.85 951.7h1.3V968.4h-1.3ZM2077.85 949.7h1.3V968.0h-1.3ZM2078.85 947.7h1.3V966.4h-1.3ZM2079.85 947.2h1.3V964.6h-1.3ZM2080.85 948.2h1.3V963.6h-1.3ZM2081.85 949.2h1.3V967.5h-1.3ZM2082.85 950.3h1.3V969.1h-1.3ZM2083.85 951.8h1.3V967.7h-1.3ZM2084.85 954.0h1.3V972.1h-1.3ZM2085.85 956.4h1.3V973.1h-1.3ZM2086.85 958.8h1.3V976.0h-1.3ZM2087.85 960.3h1.3V976.9h-1.3ZM2088.85 961.2h1.3V980.1h-1.3ZM2089.85 961.6h1.3V978.0h-1.3ZM2090.85 961.9h1.3V979.2h-1.3ZM2091.85 962.2h1.3V978.7h-1.3ZM2092.85 962.0h1.3V980.1h-1.3ZM2093.85 961.5h1.3V979.1h-1.3ZM2094.85 960.7h1.3V977.9h-1.3ZM2095.85 959.9h1.3V978.3h-1.3ZM2096.85 959.1h1.3V974.7h-1.3ZM2097.85 958.9h1.3V974.2h-1.3ZM2098.85 959.3h1.3V977.8h-1.3ZM2099.85 960.1h1.3V978.5h-1.3ZM2100.85 960.9h1.3V973.2h-1.3ZM2101.85 961.8h1.3V976.6h-1.3ZM2102.85 963.1h1.3V978.5h-1.3ZM2103.85 964.5h1.3V983.1h-1.3ZM2104.85 965.8h1.3V983.5h-1.3ZM2105.85 966.7h1.3V985.1h-1.3ZM2106.85 966.4h1.3V981.2h-1.3ZM2107.85 965.1h1.3V981.2h-1.3ZM2108.85 963.7h1.3V981.9h-1.3ZM2109.85 962.4h1.3V980.7h-1.3ZM2110.85 961.1h1.3V978.7h-1.3ZM2111.85 959.5h1.3V976.9h-1.3ZM2112.85 958.0h1.3V972.4h-1.3ZM2113.85 956.4h1.3V972.6h-1.3ZM2114.85 954.8h1.3V971.1h-1.3ZM2115.85 953.3h1.3V969.0h-1.3ZM2116.85 952.8h1.3V967.4h-1.3ZM2117.85 953.3h1.3V969.8h-1.3ZM2118.85 954.9h1.3V973.1h-1.3ZM2119.85 956.5h1.3V970.9h-1.3ZM2120.85 958.0h1.3V972.3h-1.3ZM2121.85 959.4h1.3V978.1h-1.3ZM2122.85 960.8h1.3V979.0h-1.3ZM2123.85 962.1h1.3V977.3h-1.3ZM2124.85 963.4h1.3V980.9h-1.3ZM2125.85 964.5h1.3V978.3h-1.3ZM2126.85 965.3h1.3V983.6h-1.3ZM2127.85 965.6h1.3V984.2h-1.3ZM2128.85 965.9h1.3V984.9h-1.3ZM2129.85 966.3h1.3V985.2h-1.3ZM2130.85 966.3h1.3V984.7h-1.3ZM2131.85 966.2h1.3V981.9h-1.3ZM2132.85 965.7h1.3V985.1h-1.3ZM2133.85 965.0h1.3V980.6h-1.3ZM2134.85 964.0h1.3V981.6h-1.3ZM2135.85 962.0h1.3V981.6h-1.3ZM2136.85 960.1h1.3V979.3h-1.3ZM2137.85 958.2h1.3V975.5h-1.3ZM2138.85 956.9h1.3V975.7h-1.3ZM2139.85 955.7h1.3V970.8h-1.3ZM2140.85 954.5h1.3V973.2h-1.3ZM2141.85 954.1h1.3V973.4h-1.3ZM2142.85 954.1h1.3V973.0h-1.3ZM2143.85 954.9h1.3V971.5h-1.3ZM2144.85 955.7h1.3V974.0h-1.3ZM2145.85 956.5h1.3V974.9h-1.3ZM2146.85 957.5h1.3V977.0h-1.3ZM2147.85 958.5h1.3V976.8h-1.3ZM2148.85 959.5h1.3V977.6h-1.3ZM2149.85 960.3h1.3V978.4h-1.3ZM2150.85 960.8h1.3V974.9h-1.3ZM2151.85 960.9h1.3V976.2h-1.3ZM2152.85 961.2h1.3V977.5h-1.3ZM2153.85 961.5h1.3V980.4h-1.3ZM2154.85 961.5h1.3V978.1h-1.3ZM2155.85 961.5h1.3V977.6h-1.3ZM2156.85 961.5h1.3V979.3h-1.3ZM2157.85 962.0h1.3V980.7h-1.3ZM2158.85 962.7h1.3V981.7h-1.3ZM2159.85 963.4h1.3V977.9h-1.3ZM2160.85 964.3h1.3V982.1h-1.3ZM2161.85 965.3h1.3V981.2h-1.3ZM2162.85 966.6h1.3V985.6h-1.3ZM2163.85 967.9h1.3V987.4h-1.3ZM2164.85 969.3h1.3V986.4h-1.3ZM2165.85 970.2h1.3V987.7h-1.3ZM2166.85 970.9h1.3V987.9h-1.3ZM2167.85 971.0h1.3V989.7h-1.3ZM2168.85 971.1h1.3V989.9h-1.3ZM2169.85 971.0h1.3V989.9h-1.3ZM2170.85 969.8h1.3V984.8h-1.3ZM2171.85 965.2h1.3V979.7h-1.3ZM2172.85 957.8h1.3V979.9h-1.3ZM2173.85 950.6h1.3V965.5h-1.3ZM2174.85 944.4h1.3V963.7h-1.3ZM2175.85 939.9h1.3V958.4h-1.3ZM2176.85 935.4h1.3V953.5h-1.3ZM2177.85 931.9h1.3V949.9h-1.3ZM2178.85 932.5h1.3V951.1h-1.3ZM2179.85 934.1h1.3V951.3h-1.3ZM2180.85 936.5h1.3V954.1h-1.3ZM2181.85 941.3h1.3V959.2h-1.3ZM2182.85 946.1h1.3V962.6h-1.3ZM2183.85 950.9h1.3V967.5h-1.3ZM2184.85 954.1h1.3V970.4h-1.3ZM2185.85 956.8h1.3V974.5h-1.3ZM2186.85 959.2h1.3V978.0h-1.3ZM2187.85 961.5h1.3V979.5h-1.3ZM2188.85 963.7h1.3V979.3h-1.3ZM2189.85 964.4h1.3V981.1h-1.3ZM2190.85 964.6h1.3V979.9h-1.3ZM2191.85 964.4h1.3V978.5h-1.3ZM2192.85 962.2h1.3V978.0h-1.3ZM2193.85 959.2h1.3V974.5h-1.3ZM2194.85 955.0h1.3V970.6h-1.3ZM2195.85 952.2h1.3V967.3h-1.3ZM2196.85 950.4h1.3V962.3h-1.3ZM2197.85 950.9h1.3V967.5h-1.3ZM2198.85 951.4h1.3V964.2h-1.3ZM2199.85 951.9h1.3V968.0h-1.3ZM2200.85 953.3h1.3V966.0h-1.3ZM2201.85 955.6h1.3V973.8h-1.3ZM2202.85 959.4h1.3V975.1h-1.3ZM2203.85 962.6h1.3V978.4h-1.3ZM2204.85 965.1h1.3V980.2h-1.3ZM2205.85 965.2h1.3V982.0h-1.3ZM2206.85 965.3h1.3V982.1h-1.3ZM2207.85 965.4h1.3V982.6h-1.3ZM2208.85 965.6h1.3V978.1h-1.3ZM2209.85 965.7h1.3V982.5h-1.3ZM2210.85 965.8h1.3V982.0h-1.3ZM2211.85 966.0h1.3V980.6h-1.3ZM2212.85 966.2h1.3V979.0h-1.3ZM2213.85 966.3h1.3V980.3h-1.3ZM2214.85 966.5h1.3V982.9h-1.3ZM2215.85 966.7h1.3V978.7h-1.3ZM2216.85 966.9h1.3V982.1h-1.3ZM2217.85 966.9h1.3V980.2h-1.3ZM2218.85 966.9h1.3V981.7h-1.3ZM2219.85 966.8h1.3V978.2h-1.3ZM2220.85 966.7h1.3V982.1h-1.3ZM2221.85 966.6h1.3V979.5h-1.3ZM2222.85 966.5h1.3V980.6h-1.3ZM2223.85 966.3h1.3V981.8h-1.3ZM2224.85 965.8h1.3V981.0h-1.3ZM2225.85 965.2h1.3V980.5h-1.3ZM2226.85 964.4h1.3V977.3h-1.3ZM2227.85 963.7h1.3V976.9h-1.3ZM2228.85 963.1h1.3V976.7h-1.3ZM2229.85 962.7h1.3V976.1h-1.3ZM2230.85 962.8h1.3V977.6h-1.3ZM2231.85 962.9h1.3V977.7h-1.3ZM2232.85 963.1h1.3V976.5h-1.3ZM2233.85 963.3h1.3V977.6h-1.3ZM2234.85 963.6h1.3V977.4h-1.3ZM2235.85 964.2h1.3V976.3h-1.3ZM2236.85 964.7h1.3V978.0h-1.3ZM2237.85 965.3h1.3V976.8h-1.3ZM2238.85 965.8h1.3V976.3h-1.3ZM2239.85 966.3h1.3V977.6h-1.3ZM2240.85 966.9h1.3V981.1h-1.3ZM2241.85 966.7h1.3V980.0h-1.3ZM2242.85 966.4h1.3V979.0h-1.3ZM2243.85 966.0h1.3V978.7h-1.3ZM2244.85 965.2h1.3V977.4h-1.3ZM2245.85 964.1h1.3V975.5h-1.3ZM2246.85 962.9h1.3V975.0h-1.3ZM2247.85 961.8h1.3V972.9h-1.3ZM2248.85 960.6h1.3V970.8h-1.3ZM2249.85 959.8h1.3V972.9h-1.3ZM2250.85 959.1h1.3V971.4h-1.3ZM2251.85 958.5h1.3V969.6h-1.3ZM2252.85 957.9h1.3V968.4h-1.3ZM2253.85 957.3h1.3V970.0h-1.3ZM2254.85 956.4h1.3V968.7h-1.3ZM2255.85 955.4h1.3V967.2h-1.3ZM2256.85 954.3h1.3V967.1h-1.3ZM2257.85 953.3h1.3V965.3h-1.3ZM2258.85 951.8h1.3V962.0h-1.3ZM2259.85 949.4h1.3V961.3h-1.3ZM2260.85 946.0h1.3V957.7h-1.3ZM2261.85 942.2h1.3V952.5h-1.3ZM2262.85 938.4h1.3V951.8h-1.3ZM2263.85 936.5h1.3V948.6h-1.3ZM2264.85 936.1h1.3V944.9h-1.3ZM2265.85 936.3h1.3V948.0h-1.3ZM2266.85 936.5h1.3V946.0h-1.3ZM2267.85 936.8h1.3V947.1h-1.3ZM2268.85 937.4h1.3V947.4h-1.3ZM2269.85 938.1h1.3V949.3h-1.3ZM2270.85 938.8h1.3V951.0h-1.3ZM2271.85 939.4h1.3V948.8h-1.3ZM2272.85 940.0h1.3V950.9h-1.3ZM2273.85 940.2h1.3V949.3h-1.3ZM2274.85 940.4h1.3V948.3h-1.3ZM2275.85 940.5h1.3V950.3h-1.3ZM2276.85 940.7h1.3V951.1h-1.3ZM2277.85 940.9h1.3V951.9h-1.3ZM2278.85 941.4h1.3V952.2h-1.3ZM2279.85 941.9h1.3V952.1h-1.3ZM2280.85 942.4h1.3V951.7h-1.3ZM2281.85 942.9h1.3V952.5h-1.3ZM2282.85 943.1h1.3V952.8h-1.3ZM2283.85 943.1h1.3V954.7h-1.3ZM2284.85 943.0h1.3V954.1h-1.3ZM2285.85 942.8h1.3V954.7h-1.3ZM2286.85 942.6h1.3V954.3h-1.3ZM2287.85 942.5h1.3V953.2h-1.3ZM2288.85 942.4h1.3V954.1h-1.3ZM2289.85 942.2h1.3V953.5h-1.3ZM2290.85 942.1h1.3V952.9h-1.3ZM2291.85 942.0h1.3V952.6h-1.3ZM2292.85 941.9h1.3V953.6h-1.3ZM2293.85 941.8h1.3V952.3h-1.3ZM2294.85 941.8h1.3V951.6h-1.3ZM2295.85 942.0h1.3V953.9h-1.3ZM2296.85 942.3h1.3V953.6h-1.3ZM2297.85 942.5h1.3V953.6h-1.3ZM2298.85 942.8h1.3V952.9h-1.3ZM2299.85 943.0h1.3V954.5h-1.3ZM2300.85 943.2h1.3V955.1h-1.3ZM2301.85 943.2h1.3V952.8h-1.3ZM2302.85 943.0h1.3V952.5h-1.3ZM2303.85 942.9h1.3V954.6h-1.3ZM2304.85 942.7h1.3V951.5h-1.3ZM2305.85 942.5h1.3V952.5h-1.3ZM2306.85 942.3h1.3V954.1h-1.3ZM2307.85 942.1h1.3V954.1h-1.3ZM2308.85 941.8h1.3V953.8h-1.3ZM2309.85 941.6h1.3V951.6h-1.3ZM2310.85 941.4h1.3V952.5h-1.3ZM2311.85 941.2h1.3V951.6h-1.3ZM2312.85 941.1h1.3V952.2h-1.3ZM2313.85 941.0h1.3V949.7h-1.3ZM2314.85 940.8h1.3V951.8h-1.3ZM2315.85 940.7h1.3V952.0h-1.3ZM2316.85 940.6h1.3V951.7h-1.3ZM2317.85 940.4h1.3V949.4h-1.3ZM2318.85 940.3h1.3V951.9h-1.3ZM2319.85 940.2h1.3V948.1h-1.3ZM2320.85 940.7h1.3V951.5h-1.3ZM2321.85 942.1h1.3V951.1h-1.3ZM2322.85 944.3h1.3V954.3h-1.3ZM2323.85 946.6h1.3V954.9h-1.3ZM2324.85 948.9h1.3V960.0h-1.3ZM2325.85 951.2h1.3V963.5h-1.3ZM2326.85 953.5h1.3V963.7h-1.3ZM2327.85 955.6h1.3V968.6h-1.3ZM2328.85 957.8h1.3V968.4h-1.3ZM2329.85 960.0h1.3V972.2h-1.3ZM2330.85 961.6h1.3V972.9h-1.3ZM2331.85 962.8h1.3V974.0h-1.3ZM2332.85 963.1h1.3V973.5h-1.3ZM2333.85 963.4h1.3V975.2h-1.3ZM2334.85 963.8h1.3V975.6h-1.3ZM2335.85 964.2h1.3V974.6h-1.3ZM2336.85 964.7h1.3V975.8h-1.3ZM2337.85 965.3h1.3V974.3h-1.3ZM2338.85 965.9h1.3V976.2h-1.3ZM2339.85 966.3h1.3V976.6h-1.3ZM2340.85 966.5h1.3V978.2h-1.3ZM2341.85 966.4h1.3V978.3h-1.3Z" fill="#dc143c" fill-opacity="0.115"/><path d="M59.4 962.9 61.0 963.2 62.6 964.8 64.2 966.0 65.7 968.8 67.3 968.0 68.9 967.3 70.5 966.5 72.1 966.3 73.7 965.8 75.3 964.0 76.8 964.4 78.4 965.3 80.0 966.9 81.6 969.5 83.2 968.9 84.8 969.2 86.4 969.6 87.9 970.2 89.5 969.1 91.1 970.3 92.7 969.8 94.3 968.8 95.9 969.2 97.5 968.2 99.0 967.8 100.6 966.3 102.2 968.0 103.8 969.0 105.4 967.5 107.0 970.2 108.6 967.0 110.2 967.5 111.7 967.2 113.3 966.9 114.9 966.9 116.5 966.8 118.1 969.1 119.7 967.7 121.3 968.5 122.8 968.9 124.4 967.7 126.0 966.2 127.6 965.0 129.2 965.0 130.8 964.3 132.4 961.6 133.9 961.3 135.5 961.5 137.1 960.6 138.7 959.0 140.3 957.6 141.9 958.8 143.5 958.9 145.0 958.5 146.6 960.8 148.2 960.9 149.8 962.6 151.4 964.5 153.0 964.9 154.6 965.7 156.1 966.0 157.7 965.6 159.3 963.7 160.9 963.9 162.5 964.2 164.1 963.3 165.7 963.1 167.2 964.0 168.8 965.4 170.4 964.7 172.0 965.3 173.6 963.5 175.2 965.4 176.8 963.3 178.3 964.5 179.9 964.3 181.5 964.0 183.1 963.1 184.7 965.8 186.3 966.0 187.9 966.6 189.5 966.8 191.0 968.1 192.6 968.3 194.2 967.7 195.8 968.4 197.4 966.9 199.0 967.6 200.6 967.5 202.1 966.6 203.7 967.6 205.3 967.4 206.9 968.5 208.5 969.3 210.1 968.6 211.7 968.6 213.2 969.6 214.8 969.3 216.4 970.2 218.0 968.1 219.6 969.7 221.2 968.9 222.8 969.0 224.3 968.9 225.9 969.2 227.5 966.9 229.1 967.4 230.7 967.0 232.3 965.1 233.9 964.5 235.4 965.5 237.0 965.2 238.6 965.5 240.2 966.8 241.8 968.6 243.4 968.4 245.0 969.6 246.5 969.9 248.1 968.5 249.7 967.7 251.3 968.6 252.9 966.1 254.5 965.2 256.1 962.5 257.6 961.0 259.2 959.5 260.8 955.4 262.4 957.2 264.0 956.9 265.6 958.5 267.2 960.1 268.8 961.5 270.3 962.5 271.9 962.7 273.5 963.4 275.1 964.3 276.7 967.9 278.3 968.7 279.9 969.0 281.4 968.2 283.0 968.1 284.6 968.0 286.2 966.4 287.8 965.8 289.4 964.7 291.0 966.5 292.5 964.9 294.1 966.6 295.7 968.3 297.3 968.5 298.9 967.7 300.5 966.1 302.1 965.9 303.6 965.0 305.2 965.2 306.8 963.8 308.4 963.3 310.0 964.1 311.6 962.5 313.2 963.9 314.7 964.1 316.3 964.9 317.9 966.1 319.5 965.2 321.1 964.8 322.7 966.3 324.3 965.3 325.8 966.2 327.4 965.2 329.0 967.0 330.6 965.4 332.2 966.5 333.8 965.9 335.4 965.1 336.9 966.8 338.5 967.7 340.1 967.6 341.7 966.1 343.3 967.4 344.9 967.3 346.5 965.8 348.1 964.9 349.6 965.5 351.2 964.2 352.8 964.5 354.4 964.7 356.0 964.8 357.6 964.7 359.2 964.5 360.7 964.0 362.3 964.7 363.9 966.1 365.5 966.6 367.1 966.4 368.7 965.9 370.3 967.6 371.8 967.2 373.4 967.3 375.0 967.2 376.6 969.3 378.2 969.8 379.8 969.8 381.4 969.5 382.9 968.6 384.5 966.9 386.1 970.0 387.7 968.0 389.3 968.5 390.9 968.4 392.5 969.1 394.0 969.1 395.6 969.8 397.2 968.4 398.8 967.4 400.4 967.3 402.0 965.8 403.6 966.3 405.1 966.4 406.7 965.2 408.3 964.1 409.9 964.6 411.5 964.5 413.1 963.8 414.7 962.6 416.2 961.6 417.8 961.4 419.4 960.5 421.0 958.5 422.6 956.5 424.2 955.3 425.8 954.9 427.4 956.9 428.9 956.1 430.5 956.0 432.1 954.1 433.7 946.6 435.3 939.8 436.9 938.2 438.5 936.3 440.0 935.1 441.6 946.1 443.2 954.5 444.8 955.8 446.4 958.1 448.0 961.2 449.6 960.8 451.1 961.6 452.7 959.5 454.3 960.0 455.9 958.4 457.5 961.4 459.1 961.2 460.7 964.1 462.2 965.5 463.8 967.0 465.4 967.7 467.0 965.8 468.6 966.0 470.2 967.5 471.8 966.4 473.3 968.2 474.9 968.5 476.5 966.6 478.1 965.6 479.7 966.1 481.3 964.7 482.9 964.5 484.4 964.5 486.0 967.0 487.6 966.0 489.2 967.1 490.8 964.6 492.4 963.0 494.0 963.0 495.5 963.9 497.1 962.0 498.7 962.5 500.3 961.6 501.9 960.7 503.5 959.1 505.1 960.1 506.7 960.4 508.2 957.9 509.8 958.9 511.4 958.7 513.0 957.9 514.6 957.3 516.2 955.7 517.8 957.6 519.3 956.7 520.9 955.9 522.5 956.7 524.1 959.0 525.7 962.4 527.3 962.5 528.9 965.6 530.4 963.4 532.0 957.6 533.6 951.6 535.2 949.3 536.8 946.5 538.4 949.2 540.0 953.3 541.5 958.0 543.1 963.8 544.7 964.0 546.3 965.4 547.9 963.7 549.5 963.4 551.1 962.0 552.6 960.2 554.2 957.0 555.8 955.0 557.4 953.7 559.0 953.3 560.6 952.2 562.2 953.1 563.7 953.4 565.3 953.3 566.9 952.2 568.5 950.4 570.1 949.8 571.7 949.1 573.3 950.7 574.9 952.4 576.4 952.7 578.0 954.0 579.6 954.8 581.2 953.9 582.8 956.1 584.4 956.2 586.0 956.6 587.5 956.7 589.1 957.1 590.7 957.1 592.3 957.6 593.9 958.9 595.5 958.8 597.1 958.1 598.6 957.1 600.2 957.3 601.8 956.9 603.4 955.4 605.0 954.5 606.6 953.5 608.2 953.7 609.7 951.3 611.3 952.5 612.9 953.2 614.5 953.8 616.1 954.1 617.7 954.2 619.3 955.5 620.8 954.5 622.4 954.5 624.0 956.3 625.6 954.7 627.2 955.3 628.8 956.8 630.4 955.6 631.9 956.5 633.5 957.9 635.1 960.1 636.7 957.7 638.3 956.0 639.9 954.8 641.5 956.6 643.0 955.3 644.6 956.8 646.2 958.5 647.8 959.3 649.4 961.2 651.0 963.2 652.6 968.5 654.1 967.5 655.7 969.1 657.3 966.2 658.9 966.6 660.5 964.5 662.1 963.1 663.7 962.7 665.3 963.2 666.8 964.4 668.4 962.5 670.0 962.0 671.6 961.8 673.2 961.4 674.8 962.9 676.4 962.0 677.9 963.4 679.5 962.4 681.1 960.5 682.7 959.0 684.3 958.4 685.9 959.7 687.5 958.9 689.0 960.4 690.6 958.2 692.2 957.7 693.8 953.4 695.4 950.3 697.0 949.6 698.6 948.5 700.1 949.1 701.7 952.9 703.3 958.0 704.9 957.1 706.5 955.0 708.1 955.7 709.7 954.5 711.2 954.8 712.8 954.0 714.4 955.3 716.0 955.0 717.6 954.1 719.2 953.2 720.8 951.4 722.3 950.4 723.9 948.3 725.5 945.0 727.1 941.0 728.7 930.3 730.3 927.1 731.9 928.4 733.4 932.8 735.0 942.8 736.6 950.3 738.2 952.3 739.8 954.4 741.4 957.8 743.0 958.4 744.6 962.3 746.1 962.2 747.7 960.8 749.3 955.3 750.9 946.4 752.5 929.9 754.1 921.3 755.7 923.2 757.2 924.5 758.8 930.3 760.4 944.6 762.0 949.0 763.6 951.0 765.2 950.1 766.8 952.0 768.3 954.4 769.9 954.4 771.5 955.7 773.1 954.2 774.7 953.1 776.3 952.1 777.9 950.0 779.4 947.5 781.0 948.5 782.6 946.5 784.2 946.4 785.8 947.3 787.4 946.5 789.0 941.1 790.5 937.1 792.1 933.1 793.7 929.1 795.3 929.3 796.9 933.5 798.5 936.6 800.1 941.8 801.6 937.9 803.2 937.3 804.8 937.6 806.4 937.8 808.0 939.3 809.6 936.7 811.2 935.1 812.8 936.6 814.3 939.6 815.9 941.9 817.5 944.0 819.1 946.5 820.7 944.5 822.3 944.8 823.9 947.0 825.4 948.2 827.0 952.0 828.6 954.9 830.2 955.4 831.8 955.8 833.4 955.2 835.0 956.3 836.5 955.0 838.1 955.7 839.7 956.1 841.3 956.2 842.9 956.3 844.5 957.2 846.1 955.0 847.6 957.3 849.2 956.5 850.8 956.6 852.4 951.7 854.0 937.2 855.6 924.9 857.2 913.7 858.7 905.9 860.3 906.3 861.9 913.8 863.5 925.4 865.1 937.6 866.7 951.5 868.3 961.2 869.8 960.0 871.4 961.3 873.0 961.1 874.6 960.4 876.2 959.8 877.8 959.0 879.4 958.5 880.9 956.9 882.5 958.4 884.1 957.0 885.7 954.9 887.3 952.8 888.9 953.1 890.5 952.4 892.0 954.3 893.6 954.4 895.2 953.0 896.8 954.2 898.4 952.2 900.0 951.8 901.6 951.7 903.2 952.9 904.7 953.4 906.3 954.3 907.9 955.7 909.5 958.9 911.1 962.1 912.7 967.7 914.3 968.1 915.8 972.2 917.4 973.0 919.0 973.4 920.6 973.5 922.2 974.3 923.8 974.1 925.4 974.6 926.9 975.8 928.5 974.6 930.1 975.7 931.7 975.8 933.3 975.9 934.9 976.3 936.5 977.6 938.0 975.6 939.6 973.2 941.2 972.6 942.8 970.8 944.4 970.1 946.0 970.9 947.6 970.7 949.1 971.6 950.7 969.2 952.3 970.1 953.9 972.3 955.5 974.4 957.1 976.2 958.7 978.2 960.2 977.3 961.8 977.0 963.4 974.8 965.0 977.9 966.6 976.7 968.2 975.5 969.8 974.7 971.4 975.4 972.9 975.6 974.5 977.6 976.1 977.9 977.7 980.0 979.3 980.3 980.9 978.3 982.5 977.5 984.0 975.7 985.6 973.9 987.2 972.4 988.8 970.3 990.4 971.4 992.0 973.4 993.6 977.1 995.1 980.3 996.7 981.8 998.3 984.1 999.9 981.5 1001.5 978.4 1003.1 975.6 1004.7 972.3 1006.2 968.1 1007.8 969.3 1009.4 970.3 1011.0 966.5 1012.6 966.5 1014.2 966.1 1015.8 964.8 1017.3 965.3 1018.9 964.1 1020.5 965.7 1022.1 966.6 1023.7 968.9 1025.3 970.5 1026.9 973.1 1028.4 975.6 1030.0 977.8 1031.6 980.7 1033.2 981.0 1034.8 982.1 1036.4 985.3 1038.0 984.2 1039.5 982.6 1041.1 982.7 1042.7 981.8 1044.3 980.6 1045.9 980.6 1047.5 980.1 1049.1 980.3 1050.6 975.5 1052.2 973.5 1053.8 971.9 1055.4 970.5 1057.0 971.1 1058.6 973.2 1060.2 973.0 1061.8 977.0 1063.3 976.2 1064.9 974.1 1066.5 969.3 1068.1 964.9 1069.7 958.6 1071.3 952.5 1072.9 952.3 1074.4 954.5 1076.0 955.3 1077.6 961.4 1079.2 967.5 1080.8 972.2 1082.4 977.7 1084.0 977.9 1085.5 969.3 1087.1 962.2 1088.7 958.4 1090.3 956.1 1091.9 952.4 1093.5 953.4 1095.1 961.7 1096.6 964.1 1098.2 967.4 1099.8 970.2 1101.4 968.4 1103.0 969.8 1104.6 970.1 1106.2 969.5 1107.7 968.6 1109.3 967.4 1110.9 966.9 1112.5 966.7 1114.1 964.5 1115.7 963.1 1117.3 962.1 1118.8 960.1 1120.4 959.2 1122.0 962.8 1123.6 964.8 1125.2 965.5 1126.8 963.2 1128.4 964.0 1130.0 961.1 1131.5 961.3 1133.1 962.9 1134.7 966.1 1136.3 968.8 1137.9 971.2 1139.5 972.0 1141.1 971.8 1142.6 971.2 1144.2 970.5 1145.8 971.1 1147.4 973.5 1149.0 974.4 1150.6 975.8 1152.2 976.6 1153.7 977.6 1155.3 978.9 1156.9 979.8 1158.5 981.6 1160.1 979.3 1161.7 976.6 1163.3 975.0 1164.8 972.4 1166.4 971.3 1168.0 971.0 1169.6 972.3 1171.2 973.3 1172.8 974.7 1174.4 975.1 1175.9 977.4 1177.5 977.7 1179.1 976.7 1180.7 974.4 1182.3 973.9 1183.9 973.5 1185.5 973.4 1187.0 977.0 1188.6 978.1 1190.2 977.9 1191.8 979.6 1193.4 982.0 1195.0 979.4 1196.6 977.4 1198.1 973.9 1199.7 967.8 1201.3 966.0 1202.9 966.7 1204.5 967.0 1206.1 971.9 1207.7 974.6 1209.2 978.4 1210.8 974.3 1212.4 972.6 1214.0 966.7 1215.6 961.2 1217.2 953.1 1218.8 950.8 1220.4 950.7 1221.9 951.8 1223.5 953.0 1225.1 951.6 1226.7 948.3 1228.3 947.2 1229.9 944.8 1231.5 943.5 1233.0 943.1 1234.6 943.8 1236.2 948.0 1237.8 948.8 1239.4 949.6 1241.0 950.5 1242.6 952.1 1244.1 951.9 1245.7 951.7 1247.3 953.7 1248.9 954.3 1250.5 953.0 1252.1 954.1 1253.7 954.0 1255.2 952.8 1256.8 951.8 1258.4 951.9 1260.0 951.2 1261.6 950.4 1263.2 950.3 1264.8 953.0 1266.3 954.0 1267.9 955.8 1269.5 959.3 1271.1 963.9 1272.7 964.1 1274.3 963.1 1275.9 960.3 1277.4 958.6 1279.0 954.9 1280.6 951.0 1282.2 948.2 1283.8 944.1 1285.4 944.3 1287.0 946.2 1288.5 948.0 1290.1 952.9 1291.7 956.4 1293.3 960.7 1294.9 960.9 1296.5 964.3 1298.1 964.9 1299.7 962.7 1301.2 959.3 1302.8 957.0 1304.4 955.6 1306.0 955.2 1307.6 951.4 1309.2 952.1 1310.8 953.8 1312.3 956.3 1313.9 957.4 1315.5 961.1 1317.1 962.9 1318.7 960.5 1320.3 958.9 1321.9 957.0 1323.4 956.8 1325.0 957.0 1326.6 958.7 1328.2 957.8 1329.8 956.3 1331.4 957.5 1333.0 957.6 1334.5 957.7 1336.1 955.9 1337.7 957.8 1339.3 963.2 1340.9 968.7 1342.5 973.6 1344.1 975.8 1345.6 979.1 1347.2 979.8 1348.8 976.1 1350.4 972.3 1352.0 969.6 1353.6 968.1 1355.2 966.8 1356.7 965.6 1358.3 962.7 1359.9 961.5 1361.5 960.6 1363.1 960.7 1364.7 961.2 1366.3 961.7 1367.9 961.4 1369.4 960.8 1371.0 959.6 1372.6 960.4 1374.2 961.2 1375.8 964.1 1377.4 969.2 1379.0 972.4 1380.5 974.4 1382.1 973.7 1383.7 976.7 1385.3 974.3 1386.9 973.0 1388.5 971.5 1390.1 963.9 1391.6 959.2 1393.2 960.0 1394.8 964.3 1396.4 966.6 1398.0 970.2 1399.6 977.2 1401.2 981.4 1402.7 979.8 1404.3 977.4 1405.9 977.5 1407.5 978.1 1409.1 979.9 1410.7 981.7 1412.3 982.8 1413.8 985.3 1415.4 982.2 1417.0 978.3 1418.6 971.7 1420.2 965.5 1421.8 963.8 1423.4 957.8 1424.9 962.8 1426.5 966.6 1428.1 970.9 1429.7 974.4 1431.3 979.0 1432.9 982.1 1434.5 983.6 1436.0 982.7 1437.6 982.6 1439.2 980.4 1440.8 975.2 1442.4 970.7 1444.0 966.8 1445.6 965.7 1447.2 965.6 1448.7 969.8 1450.3 967.3 1451.9 953.4 1453.5 939.8 1455.1 932.2 1456.7 930.9 1458.3 934.8 1459.8 954.0 1461.4 968.1 1463.0 970.7 1464.6 972.1 1466.2 971.7 1467.8 973.4 1469.4 973.2 1470.9 972.6 1472.5 972.5 1474.1 973.3 1475.7 973.4 1477.3 974.3 1478.9 969.9 1480.5 967.1 1482.0 964.5 1483.6 963.8 1485.2 962.8 1486.8 959.8 1488.4 958.8 1490.0 960.1 1491.6 960.1 1493.1 961.3 1494.7 964.3 1496.3 965.7 1497.9 968.4 1499.5 969.5 1501.1 969.3 1502.7 970.4 1504.2 969.5 1505.8 969.1 1507.4 966.9 1509.0 965.5 1510.6 963.9 1512.2 962.2 1513.8 964.3 1515.3 965.5 1516.9 965.3 1518.5 968.3 1520.1 968.1 1521.7 968.1 1523.3 968.8 1524.9 968.8 1526.5 964.9 1528.0 964.2 1529.6 962.4 1531.2 962.0 1532.8 962.3 1534.4 960.0 1536.0 962.1 1537.6 964.1 1539.1 967.4 1540.7 971.6 1542.3 974.8 1543.9 980.1 1545.5 979.8 1547.1 980.7 1548.7 981.9 1550.2 981.1 1551.8 982.9 1553.4 982.3 1555.0 981.3 1556.6 981.7 1558.2 979.2 1559.8 978.7 1561.3 978.0 1562.9 975.9 1564.5 976.2 1566.1 976.0 1567.7 977.0 1569.3 975.1 1570.9 972.8 1572.4 966.2 1574.0 961.7 1575.6 957.8 1577.2 959.2 1578.8 958.9 1580.4 960.8 1582.0 964.0 1583.5 968.0 1585.1 965.5 1586.7 963.6 1588.3 961.6 1589.9 957.2 1591.5 955.2 1593.1 955.9 1594.6 956.5 1596.2 959.7 1597.8 962.4 1599.4 967.0 1601.0 970.8 1602.6 974.1 1604.2 976.1 1605.8 977.4 1607.3 974.6 1608.9 973.2 1610.5 969.6 1612.1 968.1 1613.7 965.3 1615.3 965.1 1616.9 967.5 1618.4 970.6 1620.0 972.4 1621.6 974.4 1623.2 976.0 1624.8 976.5 1626.4 974.8 1628.0 975.0 1629.5 973.8 1631.1 969.5 1632.7 970.5 1634.3 971.6 1635.9 972.5 1637.5 971.9 1639.1 970.9 1640.6 969.5 1642.2 968.4 1643.8 968.2 1645.4 968.1 1647.0 969.4 1648.6 974.2 1650.2 977.3 1651.7 980.7 1653.3 979.9 1654.9 982.8 1656.5 983.3 1658.1 983.3 1659.7 980.7 1661.3 977.7 1662.8 975.3 1664.4 973.0 1666.0 970.3 1667.6 973.7 1669.2 973.9 1670.8 975.1 1672.4 978.3 1673.9 979.1 1675.5 979.1 1677.1 976.4 1678.7 975.1 1680.3 972.5 1681.9 972.6 1683.5 975.6 1685.0 976.1 1686.6 977.7 1688.2 978.8 1689.8 982.9 1691.4 980.4 1693.0 980.0 1694.6 979.5 1696.2 979.6 1697.7 979.6 1699.3 979.6 1700.9 980.9 1702.5 982.3 1704.1 982.2 1705.7 981.8 1707.3 984.3 1708.8 983.9 1710.4 984.3 1712.0 985.1 1713.6 982.1 1715.2 978.7 1716.8 975.7 1718.4 976.1 1719.9 976.7 1721.5 979.5 1723.1 983.3 1724.7 986.2 1726.3 986.1 1727.9 987.6 1729.5 988.5 1731.0 987.6 1732.6 986.9 1734.2 984.7 1735.8 984.3 1737.4 983.8 1739.0 980.7 1740.6 979.6 1742.1 978.2 1743.7 977.1 1745.3 974.5 1746.9 972.7 1748.5 971.6 1750.1 972.0 1751.7 972.9 1753.2 973.0 1754.8 971.5 1756.4 972.3 1758.0 970.5 1759.6 970.6 1761.2 968.6 1762.8 966.0 1764.4 969.9 1765.9 969.0 1767.5 971.3 1769.1 971.5 1770.7 972.4 1772.3 973.4 1773.9 973.4 1775.5 973.3 1777.0 972.1 1778.6 974.4 1780.2 975.6 1781.8 977.8 1783.4 979.1 1785.0 976.8 1786.6 975.2 1788.1 975.6 1789.7 976.0 1791.3 974.7 1792.9 977.2 1794.5 978.2 1796.1 980.8 1797.7 979.6 1799.2 979.8 1800.8 979.2 1802.4 979.4 1804.0 978.9 1805.6 979.5 1807.2 979.3 1808.8 980.0 1810.3 978.6 1811.9 979.7 1813.5 979.2 1815.1 978.0 1816.7 979.1 1818.3 980.3 1819.9 980.7 1821.4 981.4 1823.0 980.3 1824.6 981.3 1826.2 981.6 1827.8 981.4 1829.4 977.7 1831.0 976.7 1832.5 976.2 1834.1 977.6 1835.7 976.0 1837.3 977.5 1838.9 977.1 1840.5 977.1 1842.1 975.7 1843.7 976.4 1845.2 974.5 1846.8 973.1 1848.4 972.2 1850.0 973.5 1851.6 972.8 1853.2 972.0 1854.8 972.5 1856.3 971.5 1857.9 970.4 1859.5 968.5 1861.1 968.7 1862.7 967.2 1864.3 966.6 1865.9 964.5 1867.4 961.1 1869.0 959.7 1870.6 956.7 1872.2 954.2 1873.8 954.1 1875.4 953.4 1877.0 955.3 1878.5 959.5 1880.1 961.9 1881.7 962.4 1883.3 962.7 1884.9 959.3 1886.5 958.1 1888.1 955.9 1889.6 955.2 1891.2 956.9 1892.8 956.3 1894.4 957.3 1896.0 958.7 1897.6 957.7 1899.2 959.3 1900.7 962.1 1902.3 962.5 1903.9 961.2 1905.5 959.6 1907.1 959.5 1908.7 961.3 1910.3 963.2 1911.8 963.0 1913.4 961.4 1915.0 960.3 1916.6 960.2 1918.2 959.7 1919.8 960.8 1921.4 960.9 1922.9 959.5 1924.5 959.8 1926.1 958.5 1927.7 960.2 1929.3 957.2 1930.9 957.6 1932.5 957.3 1934.1 956.2 1935.6 955.6 1937.2 955.2 1938.8 952.1 1940.4 951.6 1942.0 955.0 1943.6 957.1 1945.2 961.0 1946.7 964.2 1948.3 965.9 1949.9 965.5 1951.5 964.1 1953.1 963.9 1954.7 963.4 1956.3 961.0 1957.8 961.2 1959.4 960.7 1961.0 960.0 1962.6 960.1 1964.2 961.9 1965.8 960.5 1967.4 959.3 1968.9 958.5 1970.5 957.0 1972.1 956.8 1973.7 956.0 1975.3 954.2 1976.9 952.8 1978.5 950.1 1980.0 947.4 1981.6 944.3 1983.2 943.7 1984.8 941.9 1986.4 939.0 1988.0 942.3 1989.6 944.5 1991.1 946.4 1992.7 948.9 1994.3 950.1 1995.9 947.1 1997.5 944.3 1999.1 944.8 2000.7 944.6 2002.3 945.2 2003.8 945.7 2005.4 947.1 2007.0 947.5 2008.6 948.7 2010.2 949.1 2011.8 951.2 2013.4 954.4 2014.9 957.6 2016.5 960.5 2018.1 957.9 2019.7 955.2 2021.3 955.1 2022.9 954.2 2024.5 954.9 2026.0 954.8 2027.6 956.2 2029.2 955.7 2030.8 956.9 2032.4 957.5 2034.0 957.8 2035.6 956.4 2037.1 958.1 2038.7 957.8 2040.3 956.4 2041.9 954.3 2043.5 955.1 2045.1 955.1 2046.7 956.4 2048.2 957.0 2049.8 958.9 2051.4 957.4 2053.0 960.5 2054.6 955.7 2056.2 957.3 2057.8 955.3 2059.3 955.2 2060.9 953.6 2062.5 953.3 2064.1 953.1 2065.7 951.1 2067.3 949.4 2068.9 947.0 2070.4 948.6 2072.0 949.4 2073.6 950.6 2075.2 952.1 2076.8 953.0 2078.4 950.4 2080.0 947.3 2081.5 947.8 2083.1 949.5 2084.7 952.1 2086.3 955.4 2087.9 959.3 2089.5 960.8 2091.1 960.7 2092.7 963.6 2094.2 961.3 2095.8 961.9 2097.4 958.4 2099.0 958.2 2100.6 960.1 2102.2 961.3 2103.8 962.8 2105.3 965.8 2106.9 967.2 2108.5 964.4 2110.1 964.5 2111.7 960.5 2113.3 957.9 2114.9 955.2 2116.4 952.9 2118.0 953.5 2119.6 954.1 2121.2 958.2 2122.8 961.5 2124.4 961.7 2126.0 963.9 2127.5 965.0 2129.1 965.3 2130.7 965.2 2132.3 965.6 2133.9 966.5 2135.5 963.6 2137.1 960.5 2138.6 958.0 2140.2 955.9 2141.8 954.2 2143.4 953.5 2145.0 955.9 2146.6 958.2 2148.2 958.2 2149.7 960.3 2151.3 961.0 2152.9 960.4 2154.5 962.2 2156.1 961.4 2157.7 962.2 2159.3 963.2 2160.8 964.0 2162.4 965.8 2164.0 967.0 2165.6 970.1 2167.2 970.9 2168.8 971.1 2170.4 971.4 2172.0 968.6 2173.5 956.7 2175.1 945.6 2176.7 938.0 2178.3 931.8 2179.9 931.8 2181.5 935.7 2183.1 943.9 2184.6 950.7 2186.2 956.7 2187.8 960.5 2189.4 964.4 2191.0 964.4 2192.6 965.2 2194.2 960.0 2195.7 954.8 2197.3 950.5 2198.9 951.1 2200.5 951.5 2202.1 954.5 2203.7 959.5 2205.3 964.4 2206.8 965.2 2208.4 966.6 2210.0 964.9 2211.6 966.1 2213.2 966.6 2214.8 966.2 2216.4 968.0 2217.9 966.3 2219.5 967.7 2221.1 966.4 2222.7 966.5 2224.3 966.9 2225.9 965.4 2227.5 964.2 2229.0 963.3 2230.6 962.5 2232.2 962.6 2233.8 963.6 2235.4 964.2 2237.0 964.4 2238.6 966.5 2240.2 966.9 2241.7 966.5 2243.3 966.0 2244.9 966.0 2246.5 963.7 2248.1 962.3 2249.7 960.9 2251.3 958.8 2252.8 958.3 2254.4 957.3 2256.0 956.0 2257.6 952.6 2259.2 952.1 2260.8 948.1 2262.4 942.8 2263.9 936.3 2265.5 936.5 2267.1 936.6 2268.7 937.0 2270.3 938.0 2271.9 937.8 2273.5 940.5 2275.0 939.6 2276.6 940.3 2278.2 940.7 2279.8 940.1 2281.4 942.5 2283.0 944.3 2284.6 942.3 2286.1 942.4 2287.7 943.7 2289.3 941.9 2290.9 942.8 2292.5 942.0 2294.1 940.9 2295.7 942.5 2297.2 942.4 2298.8 941.7 2300.4 943.0 2302.0 943.6 2303.6 942.4 2305.2 942.0 2306.8 941.7 2308.3 940.4 2309.9 942.9 2311.5 942.5 2313.1 941.5 2314.7 942.0 2316.3 941.3 2317.9 941.4 2319.4 939.8 2321.0 939.4 2322.6 942.7 2324.2 944.4 2325.8 948.4 2327.4 953.7 2329.0 956.9 2330.6 960.2 2332.1 962.2 2333.7 962.7 2335.3 963.6 2336.9 964.1 2338.5 965.1 2340.1 965.7 2341.7 967.0 2343.2 966.3" stroke="#dc143c" stroke-width="1.5" fill="none" stroke-linejoin="round"/><path d="M59.4 976.6 61.0 976.8 62.6 978.0 64.2 978.7 65.7 981.0 67.3 981.3 68.9 978.2 70.5 978.3 72.1 978.1 73.7 976.3 75.3 974.2 76.8 976.0 78.4 978.7 80.0 979.7 81.6 981.8 83.2 981.4 84.8 979.9 86.4 979.5 87.9 980.4 89.5 981.4 91.1 981.9 92.7 980.0 94.3 980.0 95.9 979.9 97.5 979.6 99.0 978.0 100.6 979.6 102.2 979.5 103.8 979.5 105.4 979.2 107.0 980.5 108.6 980.2 110.2 979.4 111.7 979.6 113.3 980.0 114.9 979.0 116.5 979.2 118.1 979.7 119.7 980.2 121.3 979.8 122.8 979.5 124.4 978.3 126.0 977.6 127.6 980.0 129.2 977.6 130.8 977.1 132.4 975.7 133.9 974.2 135.5 974.1 137.1 974.3 138.7 971.0 140.3 970.3 141.9 969.7 143.5 970.1 145.0 970.8 146.6 970.4 148.2 972.5 149.8 973.6 151.4 975.9 153.0 976.7 154.6 978.0 156.1 978.0 157.7 976.8 159.3 974.9 160.9 975.7 162.5 975.6 164.1 973.7 165.7 973.5 167.2 975.1 168.8 975.3 170.4 975.4 172.0 976.4 173.6 975.9 175.2 976.9 176.8 978.2 178.3 976.7 179.9 976.0 181.5 974.8 183.1 976.4 184.7 977.4 186.3 977.6 187.9 978.4 189.5 979.4 191.0 978.8 192.6 980.0 194.2 980.9 195.8 980.0 197.4 979.2 199.0 980.6 200.6 980.4 202.1 979.2 203.7 979.7 205.3 980.4 206.9 980.4 208.5 981.4 210.1 979.4 211.7 980.9 213.2 981.1 214.8 982.3 216.4 981.4 218.0 983.2 219.6 981.5 221.2 980.3 222.8 980.6 224.3 979.8 225.9 980.8 227.5 979.1 229.1 978.2 230.7 977.6 232.3 977.6 233.9 977.6 235.4 976.0 237.0 978.1 238.6 978.4 240.2 978.6 241.8 978.9 243.4 979.2 245.0 980.6 246.5 979.5 248.1 979.2 249.7 980.0 251.3 977.9 252.9 978.1 254.5 975.7 256.1 974.6 257.6 975.9 259.2 975.7 260.8 974.0 262.4 973.9 264.0 974.0 265.6 974.5 267.2 973.6 268.8 974.6 270.3 974.7 271.9 976.9 273.5 976.4 275.1 978.1 276.7 979.0 278.3 980.2 279.9 979.6 281.4 980.4 283.0 978.1 284.6 979.0 286.2 976.3 287.8 975.7 289.4 975.1 291.0 977.3 292.5 978.0 294.1 980.0 295.7 979.5 297.3 978.8 298.9 978.1 300.5 977.3 302.1 976.2 303.6 976.2 305.2 974.6 306.8 973.0 308.4 972.5 310.0 973.6 311.6 976.0 313.2 976.5 314.7 977.6 316.3 977.0 317.9 976.7 319.5 976.0 321.1 976.7 322.7 976.6 324.3 975.4 325.8 976.3 327.4 977.2 329.0 975.8 330.6 977.1 332.2 976.6 333.8 976.3 335.4 977.0 336.9 978.2 338.5 978.1 340.1 978.3 341.7 976.6 343.3 976.6 344.9 976.7 346.5 976.1 348.1 975.4 349.6 976.2 351.2 975.3 352.8 974.5 354.4 975.6 356.0 974.4 357.6 974.7 359.2 975.6 360.7 974.9 362.3 975.8 363.9 974.8 365.5 976.3 367.1 976.2 368.7 976.7 370.3 975.7 371.8 977.0 373.4 977.7 375.0 977.1 376.6 979.2 378.2 978.6 379.8 979.0 381.4 979.3 382.9 979.1 384.5 980.5 386.1 978.9 387.7 980.0 389.3 980.1 390.9 980.4 392.5 980.2 394.0 977.4 395.6 978.6 397.2 978.3 398.8 977.1 400.4 977.9 402.0 974.7 403.6 974.4 405.1 973.4 406.7 973.7 408.3 972.6 409.9 971.6 411.5 973.5 413.1 972.1 414.7 972.2 416.2 972.1 417.8 972.3 419.4 970.7 421.0 968.9 422.6 968.5 424.2 968.4 425.8 965.3 427.4 965.6 428.9 963.9 430.5 964.9 432.1 964.0 433.7 959.9 435.3 951.2 436.9 950.3 438.5 948.5 440.0 948.2 441.6 956.4 443.2 964.3 444.8 968.9 446.4 969.8 448.0 973.3 449.6 973.2 451.1 972.1 452.7 971.8 454.3 970.7 455.9 969.5 457.5 969.9 459.1 971.3 460.7 973.9 462.2 975.8 463.8 978.7 465.4 977.4 467.0 978.0 468.6 978.5 470.2 980.2 471.8 979.1 473.3 980.6 474.9 980.2 476.5 979.4 478.1 978.8 479.7 976.7 481.3 974.7 482.9 975.4 484.4 974.9 486.0 976.9 487.6 976.8 489.2 975.0 490.8 973.5 492.4 973.0 494.0 972.5 495.5 972.1 497.1 973.7 498.7 973.8 500.3 972.2 501.9 971.4 503.5 971.1 505.1 970.7 506.7 970.2 508.2 969.7 509.8 968.5 511.4 967.8 513.0 967.3 514.6 966.4 516.2 965.3 517.8 966.2 519.3 966.1 520.9 963.8 522.5 965.5 524.1 967.7 525.7 969.5 527.3 972.5 528.9 974.1 530.4 975.4 532.0 970.3 533.6 966.1 535.2 961.3 536.8 958.2 538.4 964.2 540.0 967.9 541.5 971.6 543.1 972.9 544.7 974.0 546.3 973.9 547.9 972.2 549.5 973.5 551.1 972.0 552.6 968.9 554.2 967.2 555.8 964.8 557.4 962.5 559.0 960.6 560.6 960.8 562.2 959.2 563.7 960.1 565.3 958.8 566.9 958.4 568.5 956.4 570.1 957.1 571.7 954.0 573.3 957.2 574.9 957.1 576.4 958.0 578.0 958.5 579.6 959.1 581.2 960.7 582.8 961.2 584.4 960.7 586.0 961.2 587.5 962.8 589.1 962.8 590.7 962.9 592.3 964.6 593.9 964.7 595.5 965.3 597.1 962.8 598.6 964.0 600.2 963.5 601.8 963.0 603.4 962.1 605.0 960.6 606.6 959.2 608.2 958.8 609.7 956.3 611.3 957.0 612.9 958.7 614.5 960.2 616.1 960.7 617.7 961.5 619.3 959.6 620.8 960.1 622.4 961.0 624.0 961.4 625.6 961.0 627.2 962.6 628.8 963.0 630.4 967.0 631.9 966.4 633.5 969.0 635.1 967.5 636.7 968.9 638.3 966.9 639.9 965.4 641.5 965.2 643.0 965.5 644.6 965.0 646.2 967.7 647.8 969.9 649.4 972.2 651.0 975.9 652.6 976.3 654.1 980.4 655.7 977.8 657.3 976.5 658.9 976.4 660.5 973.5 662.1 972.8 663.7 972.6 665.3 972.4 666.8 972.0 668.4 971.4 670.0 970.8 671.6 973.3 673.2 970.7 674.8 972.1 676.4 972.3 677.9 973.2 679.5 972.8 681.1 971.6 682.7 972.1 684.3 972.4 685.9 971.3 687.5 972.1 689.0 972.9 690.6 971.7 692.2 971.4 693.8 966.5 695.4 963.2 697.0 962.8 698.6 963.2 700.1 961.7 701.7 967.8 703.3 971.1 704.9 971.1 706.5 969.0 708.1 967.6 709.7 966.7 711.2 966.6 712.8 968.0 714.4 967.9 716.0 969.3 717.6 968.5 719.2 966.0 720.8 963.3 722.3 963.4 723.9 960.1 725.5 956.5 727.1 952.2 728.7 944.5 730.3 941.4 731.9 941.3 733.4 947.7 735.0 957.0 736.6 963.2 738.2 965.9 739.8 967.3 741.4 968.1 743.0 971.8 744.6 972.8 746.1 974.3 747.7 970.4 749.3 967.1 750.9 959.9 752.5 945.5 754.1 938.9 755.7 940.2 757.2 941.6 758.8 946.3 760.4 962.2 762.0 965.5 763.6 967.1 765.2 966.6 766.8 967.2 768.3 967.8 769.9 966.8 771.5 968.2 773.1 968.2 774.7 967.0 776.3 965.0 777.9 962.2 779.4 960.7 781.0 960.9 782.6 961.8 784.2 961.3 785.8 960.0 787.4 960.2 789.0 955.9 790.5 953.2 792.1 947.7 793.7 944.4 795.3 941.1 796.9 947.4 798.5 950.5 800.1 954.0 801.6 952.1 803.2 952.0 804.8 952.8 806.4 951.4 808.0 953.8 809.6 949.6 811.2 948.4 812.8 950.7 814.3 951.7 815.9 954.8 817.5 957.2 819.1 958.5 820.7 959.0 822.3 957.9 823.9 959.8 825.4 960.7 827.0 965.2 828.6 968.9 830.2 968.7 831.8 969.0 833.4 969.3 835.0 969.4 836.5 969.2 838.1 968.8 839.7 968.4 841.3 969.7 842.9 970.0 844.5 969.9 846.1 969.6 847.6 970.4 849.2 970.1 850.8 969.0 852.4 962.4 854.0 949.0 855.6 937.4 857.2 927.8 858.7 916.1 860.3 915.0 861.9 919.3 863.5 933.6 865.1 950.7 866.7 963.0 868.3 971.3 869.8 971.6 871.4 972.2 873.0 972.8 874.6 971.8 876.2 970.3 877.8 968.2 879.4 968.7 880.9 969.7 882.5 970.9 884.1 968.1 885.7 965.5 887.3 965.6 888.9 962.5 890.5 961.9 892.0 964.6 893.6 965.2 895.2 964.0 896.8 965.0 898.4 965.2 900.0 964.3 901.6 966.6 903.2 965.3 904.7 964.2 906.3 965.2 907.9 967.3 909.5 969.7 911.1 972.7 912.7 976.1 914.3 979.4 915.8 983.8 917.4 984.6 919.0 985.2 920.6 984.9 922.2 986.0 923.8 984.7 925.4 986.1 926.9 986.7 928.5 985.8 930.1 987.4 931.7 986.4 933.3 986.6 934.9 989.7 936.5 990.6 938.0 986.8 939.6 983.5 941.2 982.7 942.8 983.6 944.4 983.6 946.0 984.3 947.6 982.9 949.1 983.9 950.7 984.7 952.3 983.4 953.9 984.6 955.5 986.3 957.1 988.4 958.7 988.7 960.2 991.2 961.8 989.5 963.4 989.4 965.0 990.2 966.6 990.6 968.2 990.4 969.8 989.0 971.4 990.6 972.9 992.3 974.5 991.4 976.1 993.4 977.7 993.2 979.3 993.5 980.9 992.4 982.5 992.7 984.0 990.1 985.6 988.0 987.2 986.3 988.8 984.6 990.4 983.8 992.0 984.4 993.6 988.1 995.1 991.5 996.7 994.5 998.3 997.6 999.9 997.7 1001.5 994.9 1003.1 990.4 1004.7 987.0 1006.2 982.9 1007.8 982.9 1009.4 980.9 1011.0 979.3 1012.6 977.9 1014.2 977.5 1015.8 976.5 1017.3 974.9 1018.9 975.2 1020.5 978.2 1022.1 978.2 1023.7 982.8 1025.3 986.8 1026.9 988.6 1028.4 991.4 1030.0 994.2 1031.6 996.1 1033.2 997.5 1034.8 998.1 1036.4 998.8 1038.0 999.1 1039.5 996.0 1041.1 996.0 1042.7 996.2 1044.3 995.5 1045.9 995.9 1047.5 994.9 1049.1 993.6 1050.6 992.0 1052.2 989.8 1053.8 985.3 1055.4 987.7 1057.0 985.9 1058.6 987.5 1060.2 989.2 1061.8 990.3 1063.3 991.6 1064.9 987.4 1066.5 986.3 1068.1 982.9 1069.7 977.2 1071.3 974.8 1072.9 972.6 1074.4 973.9 1076.0 976.0 1077.6 980.1 1079.2 984.7 1080.8 989.3 1082.4 993.0 1084.0 995.4 1085.5 992.5 1087.1 988.8 1088.7 984.2 1090.3 976.2 1091.9 970.6 1093.5 973.0 1095.1 978.1 1096.6 981.3 1098.2 983.2 1099.8 984.2 1101.4 984.5 1103.0 984.4 1104.6 984.9 1106.2 984.2 1107.7 983.9 1109.3 984.1 1110.9 983.0 1112.5 981.8 1114.1 979.4 1115.7 977.0 1117.3 975.8 1118.8 973.5 1120.4 972.3 1122.0 976.0 1123.6 977.9 1125.2 979.1 1126.8 978.4 1128.4 976.6 1130.0 976.1 1131.5 973.7 1133.1 976.6 1134.7 979.8 1136.3 982.7 1137.9 983.4 1139.5 985.6 1141.1 986.2 1142.6 987.2 1144.2 988.2 1145.8 987.0 1147.4 988.7 1149.0 988.9 1150.6 990.2 1152.2 991.0 1153.7 991.5 1155.3 992.9 1156.9 993.1 1158.5 994.2 1160.1 992.6 1161.7 989.9 1163.3 989.2 1164.8 988.1 1166.4 987.0 1168.0 986.7 1169.6 988.4 1171.2 987.7 1172.8 988.9 1174.4 989.9 1175.9 991.6 1177.5 990.8 1179.1 990.1 1180.7 988.0 1182.3 989.2 1183.9 988.7 1185.5 989.3 1187.0 991.1 1188.6 992.1 1190.2 993.7 1191.8 994.4 1193.4 995.9 1195.0 994.6 1196.6 993.6 1198.1 988.9 1199.7 982.9 1201.3 980.8 1202.9 982.9 1204.5 984.9 1206.1 987.2 1207.7 991.6 1209.2 994.5 1210.8 988.9 1212.4 983.7 1214.0 977.9 1215.6 968.7 1217.2 962.2 1218.8 959.0 1220.4 961.1 1221.9 961.2 1223.5 961.3 1225.1 960.3 1226.7 957.5 1228.3 957.2 1229.9 955.7 1231.5 954.5 1233.0 953.5 1234.6 955.2 1236.2 956.1 1237.8 957.8 1239.4 961.0 1241.0 960.5 1242.6 961.1 1244.1 960.7 1245.7 961.2 1247.3 961.5 1248.9 964.6 1250.5 963.6 1252.1 963.4 1253.7 963.5 1255.2 962.1 1256.8 961.1 1258.4 960.9 1260.0 960.5 1261.6 960.7 1263.2 959.8 1264.8 961.5 1266.3 963.8 1267.9 963.3 1269.5 967.4 1271.1 967.5 1272.7 970.4 1274.3 969.9 1275.9 968.3 1277.4 967.7 1279.0 965.5 1280.6 962.5 1282.2 958.7 1283.8 958.0 1285.4 954.2 1287.0 956.3 1288.5 958.1 1290.1 961.9 1291.7 966.3 1293.3 969.4 1294.9 969.6 1296.5 970.1 1298.1 971.0 1299.7 970.5 1301.2 969.5 1302.8 966.1 1304.4 967.6 1306.0 965.6 1307.6 965.5 1309.2 963.7 1310.8 965.7 1312.3 965.7 1313.9 966.1 1315.5 970.7 1317.1 970.4 1318.7 969.8 1320.3 968.0 1321.9 966.9 1323.4 966.9 1325.0 965.8 1326.6 967.2 1328.2 967.2 1329.8 967.1 1331.4 968.9 1333.0 969.9 1334.5 970.3 1336.1 972.6 1337.7 975.7 1339.3 982.6 1340.9 987.6 1342.5 991.0 1344.1 993.6 1345.6 993.6 1347.2 992.4 1348.8 991.7 1350.4 991.0 1352.0 986.5 1353.6 984.5 1355.2 980.8 1356.7 978.7 1358.3 977.8 1359.9 976.5 1361.5 975.4 1363.1 976.3 1364.7 976.0 1366.3 977.2 1367.9 976.1 1369.4 974.0 1371.0 973.9 1372.6 973.4 1374.2 975.0 1375.8 978.1 1377.4 980.4 1379.0 984.6 1380.5 987.1 1382.1 989.8 1383.7 990.4 1385.3 989.2 1386.9 988.1 1388.5 986.6 1390.1 978.6 1391.6 974.3 1393.2 975.0 1394.8 977.3 1396.4 979.8 1398.0 986.1 1399.6 991.9 1401.2 997.0 1402.7 994.3 1404.3 992.2 1405.9 994.3 1407.5 994.9 1409.1 995.4 1410.7 998.2 1412.3 1000.2 1413.8 1002.5 1415.4 997.6 1417.0 993.5 1418.6 989.6 1420.2 983.4 1421.8 977.9 1423.4 972.5 1424.9 978.4 1426.5 981.6 1428.1 985.9 1429.7 989.5 1431.3 993.6 1432.9 997.9 1434.5 998.4 1436.0 996.9 1437.6 994.8 1439.2 995.0 1440.8 989.7 1442.4 985.6 1444.0 983.7 1445.6 984.7 1447.2 981.7 1448.7 984.0 1450.3 982.2 1451.9 965.5 1453.5 952.0 1455.1 948.9 1456.7 948.2 1458.3 952.4 1459.8 971.6 1461.4 985.3 1463.0 987.5 1464.6 989.0 1466.2 988.5 1467.8 987.4 1469.4 987.3 1470.9 986.3 1472.5 987.4 1474.1 987.4 1475.7 987.9 1477.3 987.7 1478.9 986.8 1480.5 986.1 1482.0 983.4 1483.6 980.8 1485.2 980.0 1486.8 977.9 1488.4 974.4 1490.0 977.6 1491.6 978.4 1493.1 978.1 1494.7 979.9 1496.3 980.1 1497.9 983.3 1499.5 984.2 1501.1 985.2 1502.7 987.3 1504.2 987.4 1505.8 986.4 1507.4 984.3 1509.0 983.8 1510.6 980.4 1512.2 980.4 1513.8 981.3 1515.3 982.5 1516.9 984.1 1518.5 985.8 1520.1 985.5 1521.7 983.7 1523.3 983.9 1524.9 981.9 1526.5 981.2 1528.0 978.4 1529.6 977.0 1531.2 977.3 1532.8 977.4 1534.4 977.4 1536.0 979.0 1537.6 980.0 1539.1 982.2 1540.7 986.6 1542.3 990.7 1543.9 993.8 1545.5 995.1 1547.1 996.3 1548.7 996.3 1550.2 996.8 1551.8 997.5 1553.4 996.7 1555.0 995.2 1556.6 994.7 1558.2 994.0 1559.8 992.6 1561.3 992.3 1562.9 991.3 1564.5 991.3 1566.1 990.2 1567.7 991.3 1569.3 990.2 1570.9 987.7 1572.4 982.8 1574.0 979.0 1575.6 975.7 1577.2 974.6 1578.8 972.7 1580.4 973.0 1582.0 977.0 1583.5 981.7 1585.1 979.5 1586.7 977.3 1588.3 976.7 1589.9 972.8 1591.5 970.1 1593.1 971.7 1594.6 973.9 1596.2 975.3 1597.8 977.7 1599.4 982.1 1601.0 985.7 1602.6 988.7 1604.2 992.7 1605.8 994.1 1607.3 992.3 1608.9 991.6 1610.5 987.4 1612.1 984.9 1613.7 983.6 1615.3 983.1 1616.9 985.2 1618.4 985.5 1620.0 987.7 1621.6 989.8 1623.2 991.6 1624.8 990.6 1626.4 991.5 1628.0 991.2 1629.5 990.7 1631.1 986.2 1632.7 987.7 1634.3 989.7 1635.9 988.6 1637.5 990.4 1639.1 987.9 1640.6 987.1 1642.2 985.3 1643.8 985.7 1645.4 985.5 1647.0 986.0 1648.6 989.0 1650.2 992.3 1651.7 993.7 1653.3 993.7 1654.9 995.3 1656.5 997.9 1658.1 996.2 1659.7 996.3 1661.3 994.6 1662.8 993.0 1664.4 989.2 1666.0 986.7 1667.6 987.8 1669.2 987.2 1670.8 988.2 1672.4 990.6 1673.9 993.2 1675.5 991.5 1677.1 990.6 1678.7 988.7 1680.3 987.3 1681.9 987.5 1683.5 990.3 1685.0 990.8 1686.6 993.1 1688.2 992.8 1689.8 995.5 1691.4 995.3 1693.0 993.6 1694.6 993.2 1696.2 993.0 1697.7 993.6 1699.3 993.1 1700.9 995.4 1702.5 995.1 1704.1 995.7 1705.7 996.7 1707.3 996.7 1708.8 997.5 1710.4 998.4 1712.0 997.6 1713.6 996.1 1715.2 992.6 1716.8 992.1 1718.4 990.9 1719.9 992.5 1721.5 995.0 1723.1 996.7 1724.7 999.5 1726.3 1001.0 1727.9 1000.4 1729.5 999.9 1731.0 1000.3 1732.6 1000.4 1734.2 998.9 1735.8 998.5 1737.4 997.2 1739.0 994.8 1740.6 993.8 1742.1 991.5 1743.7 990.0 1745.3 986.7 1746.9 984.3 1748.5 980.3 1750.1 982.4 1751.7 983.2 1753.2 984.1 1754.8 982.9 1756.4 983.1 1758.0 983.2 1759.6 980.9 1761.2 979.7 1762.8 980.2 1764.4 979.0 1765.9 981.7 1767.5 982.9 1769.1 983.2 1770.7 985.6 1772.3 986.4 1773.9 987.3 1775.5 986.4 1777.0 986.9 1778.6 986.6 1780.2 988.7 1781.8 989.8 1783.4 992.1 1785.0 991.3 1786.6 990.3 1788.1 990.9 1789.7 990.6 1791.3 989.2 1792.9 991.3 1794.5 990.6 1796.1 992.7 1797.7 992.3 1799.2 992.4 1800.8 991.6 1802.4 991.7 1804.0 993.2 1805.6 993.0 1807.2 993.3 1808.8 992.6 1810.3 993.0 1811.9 994.2 1813.5 991.9 1815.1 991.8 1816.7 991.5 1818.3 991.9 1819.9 993.2 1821.4 993.6 1823.0 993.2 1824.6 993.7 1826.2 993.3 1827.8 992.9 1829.4 991.4 1831.0 990.3 1832.5 990.6 1834.1 990.5 1835.7 989.5 1837.3 988.9 1838.9 988.9 1840.5 990.0 1842.1 988.0 1843.7 987.5 1845.2 985.8 1846.8 987.6 1848.4 986.1 1850.0 986.2 1851.6 986.1 1853.2 986.9 1854.8 986.1 1856.3 984.7 1857.9 984.9 1859.5 982.7 1861.1 982.9 1862.7 981.3 1864.3 979.1 1865.9 977.5 1867.4 975.0 1869.0 971.9 1870.6 968.9 1872.2 965.4 1873.8 965.5 1875.4 965.5 1877.0 966.0 1878.5 970.4 1880.1 971.9 1881.7 973.5 1883.3 973.8 1884.9 972.0 1886.5 967.1 1888.1 967.3 1889.6 966.4 1891.2 964.2 1892.8 965.0 1894.4 967.2 1896.0 967.6 1897.6 969.3 1899.2 970.8 1900.7 971.1 1902.3 973.6 1903.9 974.1 1905.5 975.7 1907.1 973.8 1908.7 974.2 1910.3 973.6 1911.8 973.0 1913.4 972.7 1915.0 972.0 1916.6 972.3 1918.2 971.2 1919.8 973.1 1921.4 971.0 1922.9 970.7 1924.5 971.5 1926.1 970.0 1927.7 971.0 1929.3 969.2 1930.9 969.8 1932.5 970.5 1934.1 969.8 1935.6 967.5 1937.2 965.3 1938.8 962.3 1940.4 963.8 1942.0 966.3 1943.6 970.5 1945.2 974.2 1946.7 975.3 1948.3 977.8 1949.9 976.8 1951.5 976.6 1953.1 976.3 1954.7 974.2 1956.3 972.9 1957.8 973.1 1959.4 973.1 1961.0 972.9 1962.6 973.0 1964.2 973.6 1965.8 972.1 1967.4 971.7 1968.9 971.6 1970.5 970.1 1972.1 968.9 1973.7 967.8 1975.3 966.7 1976.9 964.3 1978.5 962.6 1980.0 958.0 1981.6 955.9 1983.2 954.9 1984.8 953.2 1986.4 952.2 1988.0 954.2 1989.6 957.0 1991.1 957.2 1992.7 958.4 1994.3 959.8 1995.9 956.6 1997.5 954.2 1999.1 953.5 2000.7 955.5 2002.3 955.7 2003.8 958.2 2005.4 960.6 2007.0 961.1 2008.6 962.8 2010.2 964.7 2011.8 965.2 2013.4 967.1 2014.9 970.4 2016.5 970.8 2018.1 968.8 2019.7 967.3 2021.3 967.1 2022.9 968.6 2024.5 968.8 2026.0 969.5 2027.6 968.1 2029.2 969.7 2030.8 970.5 2032.4 971.3 2034.0 971.0 2035.6 970.6 2037.1 969.0 2038.7 968.4 2040.3 968.7 2041.9 969.4 2043.5 969.9 2045.1 968.8 2046.7 970.0 2048.2 970.1 2049.8 971.3 2051.4 972.4 2053.0 973.4 2054.6 972.1 2056.2 969.2 2057.8 968.5 2059.3 968.5 2060.9 966.6 2062.5 967.2 2064.1 966.7 2065.7 965.3 2067.3 963.3 2068.9 960.5 2070.4 960.8 2072.0 962.6 2073.6 963.1 2075.2 965.0 2076.8 964.9 2078.4 961.8 2080.0 959.8 2081.5 961.8 2083.1 963.8 2084.7 965.4 2086.3 969.0 2087.9 973.4 2089.5 974.5 2091.1 974.0 2092.7 974.8 2094.2 975.2 2095.8 972.1 2097.4 971.7 2099.0 972.7 2100.6 971.8 2102.2 972.8 2103.8 975.4 2105.3 978.0 2106.9 979.6 2108.5 977.0 2110.1 976.0 2111.7 972.1 2113.3 969.8 2114.9 968.7 2116.4 964.5 2118.0 964.5 2119.6 966.9 2121.2 970.4 2122.8 972.2 2124.4 974.8 2126.0 977.8 2127.5 978.0 2129.1 979.1 2130.7 978.9 2132.3 978.1 2133.9 978.0 2135.5 976.8 2137.1 972.6 2138.6 970.6 2140.2 968.4 2141.8 966.1 2143.4 967.2 2145.0 967.5 2146.6 969.7 2148.2 970.4 2149.7 972.0 2151.3 973.3 2152.9 972.4 2154.5 973.9 2156.1 973.1 2157.7 972.5 2159.3 973.7 2160.8 974.3 2162.4 975.1 2164.0 978.0 2165.6 979.9 2167.2 981.1 2168.8 981.4 2170.4 980.8 2172.0 980.8 2173.5 972.4 2175.1 964.7 2176.7 956.3 2178.3 949.5 2179.9 946.8 2181.5 948.3 2183.1 956.7 2184.6 966.7 2186.2 970.4 2187.8 973.8 2189.4 975.9 2191.0 974.6 2192.6 975.3 2194.2 974.9 2195.7 969.2 2197.3 963.1 2198.9 962.7 2200.5 965.5 2202.1 967.8 2203.7 975.4 2205.3 976.7 2206.8 977.1 2208.4 978.0 2210.0 978.9 2211.6 977.0 2213.2 976.7 2214.8 978.2 2216.4 976.9 2217.9 979.0 2219.5 978.9 2221.1 979.1 2222.7 977.3 2224.3 977.9 2225.9 976.6 2227.5 978.2 2229.0 974.8 2230.6 974.7 2232.2 973.7 2233.8 974.6 2235.4 976.2 2237.0 974.6 2238.6 976.3 2240.2 976.1 2241.7 978.2 2243.3 977.7 2244.9 977.7 2246.5 975.9 2248.1 974.2 2249.7 973.8 2251.3 971.5 2252.8 970.4 2254.4 967.9 2256.0 967.9 2257.6 964.2 2259.2 964.6 2260.8 959.0 2262.4 952.3 2263.9 942.0 2265.5 942.0 2267.1 945.5 2268.7 946.4 2270.3 945.9 2271.9 948.3 2273.5 948.2 2275.0 947.4 2276.6 948.9 2278.2 948.7 2279.8 949.4 2281.4 949.8 2283.0 950.0 2284.6 950.3 2286.1 951.5 2287.7 951.3 2289.3 950.1 2290.9 949.3 2292.5 950.5 2294.1 950.7 2295.7 950.4 2297.2 950.7 2298.8 950.7 2300.4 951.3 2302.0 951.2 2303.6 952.0 2305.2 950.9 2306.8 951.1 2308.3 951.0 2309.9 950.8 2311.5 950.8 2313.1 950.9 2314.7 949.5 2316.3 949.6 2317.9 949.3 2319.4 947.7 2321.0 948.7 2322.6 949.9 2324.2 953.7 2325.8 958.5 2327.4 963.7 2329.0 967.5 2330.6 972.2 2332.1 974.8 2333.7 974.8 2335.3 975.9 2336.9 975.2 2338.5 976.2 2340.1 977.2 2341.7 978.1 2343.2 978.2" stroke="#ff8c00" stroke-width="1.5" fill="none" stroke-linejoin="round"/><path d="M59.4 1028.7 61.0 1027.9 62.6 1029.4 64.2 1029.8 65.7 1029.7 67.3 1030.1 68.9 1030.7 70.5 1029.2 72.1 1028.7 73.7 1029.2 75.3 1029.2 76.8 1029.5 78.4 1029.4 80.0 1031.3 81.6 1031.0 83.2 1030.1 84.8 1031.2 86.4 1029.8 87.9 1031.4 89.5 1029.1 91.1 1028.2 92.7 1028.6 94.3 1029.2 95.9 1030.5 97.5 1030.8 99.0 1031.2 100.6 1030.3 102.2 1030.8 103.8 1029.9 105.4 1030.9 107.0 1030.0 108.6 1029.7 110.2 1029.4 111.7 1029.2 113.3 1027.8 114.9 1029.4 116.5 1025.8 118.1 1027.6 119.7 1026.7 121.3 1025.4 122.8 1027.6 124.4 1027.6 126.0 1026.4 127.6 1028.3 129.2 1027.7 130.8 1027.6 132.4 1026.7 133.9 1026.4 135.5 1025.2 137.1 1025.7 138.7 1024.6 140.3 1025.0 141.9 1023.7 143.5 1025.6 145.0 1024.2 146.6 1025.2 148.2 1024.0 149.8 1025.1 151.4 1025.4 153.0 1026.4 154.6 1025.9 156.1 1024.9 157.7 1024.5 159.3 1023.0 160.9 1024.2 162.5 1023.3 164.1 1026.2 165.7 1026.0 167.2 1026.2 168.8 1026.7 170.4 1026.7 172.0 1027.7 173.6 1028.8 175.2 1028.7 176.8 1029.8 178.3 1029.2 179.9 1028.8 181.5 1031.4 183.1 1028.0 184.7 1029.0 186.3 1028.3 187.9 1027.9 189.5 1027.9 191.0 1027.1 192.6 1027.0 194.2 1030.0 195.8 1026.4 197.4 1028.4 199.0 1028.2 200.6 1028.5 202.1 1029.2 203.7 1028.9 205.3 1029.0 206.9 1029.2 208.5 1028.8 210.1 1029.4 211.7 1030.6 213.2 1029.4 214.8 1030.2 216.4 1030.9 218.0 1029.6 219.6 1028.9 221.2 1029.2 222.8 1028.7 224.3 1030.0 225.9 1029.1 227.5 1027.8 229.1 1027.4 230.7 1026.4 232.3 1027.7 233.9 1027.1 235.4 1026.4 237.0 1027.1 238.6 1027.1 240.2 1025.5 241.8 1026.3 243.4 1025.3 245.0 1027.0 246.5 1025.8 248.1 1025.9 249.7 1025.3 251.3 1026.6 252.9 1025.7 254.5 1025.9 256.1 1026.7 257.6 1027.6 259.2 1027.7 260.8 1028.3 262.4 1028.7 264.0 1028.8 265.6 1028.9 267.2 1030.2 268.8 1028.9 270.3 1028.7 271.9 1028.4 273.5 1029.6 275.1 1030.5 276.7 1029.8 278.3 1031.1 279.9 1031.8 281.4 1031.4 283.0 1032.0 284.6 1031.2 286.2 1029.3 287.8 1026.5 289.4 1027.0 291.0 1026.0 292.5 1025.7 294.1 1025.1 295.7 1028.4 297.3 1028.9 298.9 1029.3 300.5 1028.3 302.1 1026.6 303.6 1026.6 305.2 1023.7 306.8 1023.6 308.4 1021.4 310.0 1022.4 311.6 1023.7 313.2 1024.0 314.7 1024.4 316.3 1026.7 317.9 1028.3 319.5 1027.4 321.1 1027.7 322.7 1028.2 324.3 1028.4 325.8 1028.1 327.4 1028.2 329.0 1027.6 330.6 1028.0 332.2 1026.4 333.8 1029.1 335.4 1029.3 336.9 1029.4 338.5 1029.1 340.1 1029.1 341.7 1029.5 343.3 1028.3 344.9 1027.2 346.5 1027.1 348.1 1026.7 349.6 1025.8 351.2 1025.5 352.8 1027.1 354.4 1026.8 356.0 1027.9 357.6 1027.5 359.2 1027.6 360.7 1027.4 362.3 1028.5 363.9 1027.9 365.5 1028.1 367.1 1029.4 368.7 1029.3 370.3 1028.7 371.8 1028.4 373.4 1029.2 375.0 1028.6 376.6 1028.1 378.2 1027.2 379.8 1027.2 381.4 1028.5 382.9 1028.8 384.5 1028.7 386.1 1029.6 387.7 1028.8 389.3 1029.8 390.9 1029.0 392.5 1026.9 394.0 1027.7 395.6 1028.0 397.2 1025.8 398.8 1025.7 400.4 1024.9 402.0 1024.0 403.6 1021.9 405.1 1022.9 406.7 1022.9 408.3 1021.4 409.9 1020.9 411.5 1021.7 413.1 1020.9 414.7 1019.1 416.2 1019.3 417.8 1018.0 419.4 1018.3 421.0 1017.1 422.6 1017.0 424.2 1016.8 425.8 1014.1 427.4 1015.6 428.9 1014.8 430.5 1015.4 432.1 1013.3 433.7 1008.1 435.3 1004.9 436.9 1006.4 438.5 1007.2 440.0 1007.1 441.6 1014.7 443.2 1017.8 444.8 1020.2 446.4 1020.2 448.0 1023.2 449.6 1021.3 451.1 1023.6 452.7 1021.9 454.3 1020.1 455.9 1019.9 457.5 1021.1 459.1 1021.4 460.7 1023.9 462.2 1023.8 463.8 1024.6 465.4 1024.0 467.0 1025.0 468.6 1022.4 470.2 1022.2 471.8 1022.8 473.3 1022.6 474.9 1022.3 476.5 1022.0 478.1 1020.9 479.7 1019.4 481.3 1018.2 482.9 1017.9 484.4 1019.1 486.0 1017.8 487.6 1019.2 489.2 1015.7 490.8 1015.0 492.4 1015.1 494.0 1012.7 495.5 1012.1 497.1 1013.6 498.7 1014.9 500.3 1013.5 501.9 1014.8 503.5 1016.3 505.1 1016.4 506.7 1018.6 508.2 1018.4 509.8 1019.1 511.4 1019.6 513.0 1018.1 514.6 1015.6 516.2 1014.7 517.8 1015.8 519.3 1013.9 520.9 1015.3 522.5 1015.2 524.1 1019.0 525.7 1019.6 527.3 1021.5 528.9 1023.3 530.4 1023.7 532.0 1017.0 533.6 1009.1 535.2 1005.9 536.8 1003.7 538.4 1006.5 540.0 1015.4 541.5 1018.1 543.1 1018.8 544.7 1021.0 546.3 1020.1 547.9 1019.8 549.5 1019.5 551.1 1015.0 552.6 1004.9 554.2 996.4 555.8 988.8 557.4 980.8 559.0 977.3 560.6 975.2 562.2 974.7 563.7 973.4 565.3 974.0 566.9 973.5 568.5 975.7 570.1 975.3 571.7 976.5 573.3 976.2 574.9 978.2 576.4 978.9 578.0 978.6 579.6 977.3 581.2 978.8 582.8 977.0 584.4 976.7 586.0 975.2 587.5 977.4 589.1 980.2 590.7 979.2 592.3 981.5 593.9 983.1 595.5 982.9 597.1 981.2 598.6 980.8 600.2 979.6 601.8 978.6 603.4 976.6 605.0 976.1 606.6 976.8 608.2 975.0 609.7 976.4 611.3 977.1 612.9 978.0 614.5 979.8 616.1 979.2 617.7 979.5 619.3 981.3 620.8 980.8 622.4 989.2 624.0 997.1 625.6 1004.6 627.2 1012.0 628.8 1016.1 630.4 1016.2 631.9 1017.2 633.5 1018.9 635.1 1019.8 636.7 1017.7 638.3 1016.3 639.9 1014.4 641.5 1015.6 643.0 1015.8 644.6 1017.7 646.2 1018.0 647.8 1018.9 649.4 1021.2 651.0 1022.7 652.6 1021.9 654.1 1024.3 655.7 1023.7 657.3 1021.6 658.9 1020.8 660.5 1020.2 662.1 1018.7 663.7 1018.4 665.3 1017.1 666.8 1017.6 668.4 1017.1 670.0 1017.6 671.6 1017.4 673.2 1016.6 674.8 1016.5 676.4 1016.7 677.9 1017.7 679.5 1018.8 681.1 1019.6 682.7 1018.0 684.3 1019.0 685.9 1017.3 687.5 1016.6 689.0 1015.9 690.6 1017.8 692.2 1017.9 693.8 1016.7 695.4 1013.6 697.0 1011.6 698.6 1012.4 700.1 1011.3 701.7 1015.7 703.3 1017.2 704.9 1017.0 706.5 1017.5 708.1 1016.0 709.7 1017.3 711.2 1016.9 712.8 1019.1 714.4 1017.3 716.0 1019.2 717.6 1019.1 719.2 1018.7 720.8 1017.8 722.3 1015.6 723.9 1016.4 725.5 1013.0 727.1 1004.5 728.7 996.6 730.3 997.0 731.9 995.9 733.4 1004.4 735.0 1010.9 736.6 1016.4 738.2 1016.2 739.8 1016.2 741.4 1017.6 743.0 1018.7 744.6 1016.3 746.1 1016.5 747.7 1013.4 749.3 1008.2 750.9 1003.3 752.5 992.3 754.1 986.8 755.7 987.8 757.2 988.3 758.8 994.4 760.4 1013.3 762.0 1018.2 763.6 1018.5 765.2 1018.7 766.8 1017.8 768.3 1018.5 769.9 1019.6 771.5 1019.0 773.1 1018.7 774.7 1018.4 776.3 1018.7 777.9 1018.1 779.4 1016.7 781.0 1016.8 782.6 1017.1 784.2 1017.8 785.8 1016.3 787.4 1013.4 789.0 1010.9 790.5 1007.5 792.1 1005.7 793.7 1007.6 795.3 1008.7 796.9 1011.0 798.5 1014.8 800.1 1017.6 801.6 1015.5 803.2 1014.5 804.8 1012.3 806.4 1012.9 808.0 1012.0 809.6 1011.4 811.2 1012.3 812.8 1014.8 814.3 1016.0 815.9 1018.3 817.5 1020.4 819.1 1019.7 820.7 1020.9 822.3 1021.4 823.9 1022.0 825.4 1022.0 827.0 1023.6 828.6 1024.6 830.2 1025.8 831.8 1028.2 833.4 1026.2 835.0 1025.1 836.5 1024.2 838.1 1023.7 839.7 1025.0 841.3 1024.3 842.9 1025.1 844.5 1023.2 846.1 1023.7 847.6 1023.2 849.2 1023.6 850.8 1024.1 852.4 1024.6 854.0 1003.3 855.6 987.9 857.2 973.7 858.7 957.9 860.3 956.4 861.9 956.0 863.5 968.4 865.1 988.6 866.7 1011.3 868.3 1023.2 869.8 1022.8 871.4 1023.6 873.0 1023.7 874.6 1024.1 876.2 1023.9 877.8 1024.4 879.4 1023.9 880.9 1027.3 882.5 1026.3 884.1 1027.0 885.7 1025.1 887.3 1022.4 888.9 1021.0 890.5 1020.8 892.0 1021.9 893.6 1022.4 895.2 1021.9 896.8 1020.7 898.4 1021.3 900.0 1022.3 901.6 1021.5 903.2 1021.4 904.7 1019.9 906.3 1022.4 907.9 1023.0 909.5 1024.1 911.1 1027.5 912.7 1029.2 914.3 1033.5 915.8 1036.0 917.4 1036.8 919.0 1035.9 920.6 1036.1 922.2 1037.1 923.8 1036.0 925.4 1037.9 926.9 1038.0 928.5 1037.4 930.1 1039.7 931.7 1038.2 933.3 1040.5 934.9 1039.6 936.5 1040.6 938.0 1040.8 939.6 1040.9 941.2 1041.9 942.8 1040.4 944.4 1039.3 946.0 1039.4 947.6 1038.0 949.1 1039.5 950.7 1039.4 952.3 1038.3 953.9 1039.6 955.5 1040.1 957.1 1040.8 958.7 1040.9 960.2 1043.1 961.8 1042.8 963.4 1043.8 965.0 1044.4 966.6 1045.5 968.2 1044.2 969.8 1044.5 971.4 1044.4 972.9 1043.6 974.5 1044.3 976.1 1043.7 977.7 1046.1 979.3 1045.7 980.9 1045.3 982.5 1045.0 984.0 1044.9 985.6 1043.3 987.2 1040.5 988.8 1038.9 990.4 1041.2 992.0 1041.8 993.6 1045.4 995.1 1049.0 996.7 1049.5 998.3 1053.4 999.9 1048.0 1001.5 1042.6 1003.1 1039.8 1004.7 1037.7 1006.2 1035.5 1007.8 1034.7 1009.4 1036.3 1011.0 1035.8 1012.6 1034.1 1014.2 1032.5 1015.8 1031.5 1017.3 1032.3 1018.9 1033.5 1020.5 1033.3 1022.1 1035.1 1023.7 1036.6 1025.3 1039.8 1026.9 1042.1 1028.4 1043.7 1030.0 1047.4 1031.6 1047.9 1033.2 1049.3 1034.8 1047.9 1036.4 1046.0 1038.0 1045.4 1039.5 1044.4 1041.1 1042.8 1042.7 1044.5 1044.3 1043.3 1045.9 1044.0 1047.5 1042.5 1049.1 1042.0 1050.6 1044.0 1052.2 1040.4 1053.8 1038.7 1055.4 1037.2 1057.0 1038.4 1058.6 1040.1 1060.2 1041.1 1061.8 1042.1 1063.3 1040.3 1064.9 1041.1 1066.5 1041.4 1068.1 1039.9 1069.7 1040.0 1071.3 1041.2 1072.9 1041.2 1074.4 1041.8 1076.0 1040.9 1077.6 1040.6 1079.2 1042.1 1080.8 1041.3 1082.4 1042.8 1084.0 1041.7 1085.5 1039.0 1087.1 1029.7 1088.7 1027.2 1090.3 1024.7 1091.9 1022.5 1093.5 1025.5 1095.1 1031.6 1096.6 1030.8 1098.2 1032.6 1099.8 1032.3 1101.4 1034.9 1103.0 1036.6 1104.6 1037.8 1106.2 1038.7 1107.7 1038.2 1109.3 1040.3 1110.9 1039.0 1112.5 1036.7 1114.1 1033.6 1115.7 1031.2 1117.3 1030.7 1118.8 1029.8 1120.4 1029.9 1122.0 1031.0 1123.6 1033.0 1125.2 1034.1 1126.8 1035.2 1128.4 1033.3 1130.0 1031.4 1131.5 1032.0 1133.1 1034.7 1134.7 1035.3 1136.3 1037.3 1137.9 1038.2 1139.5 1039.4 1141.1 1039.5 1142.6 1038.8 1144.2 1040.4 1145.8 1041.1 1147.4 1040.7 1149.0 1040.9 1150.6 1042.3 1152.2 1041.5 1153.7 1043.9 1155.3 1044.2 1156.9 1043.9 1158.5 1044.0 1160.1 1045.4 1161.7 1044.8 1163.3 1045.7 1164.8 1046.5 1166.4 1045.9 1168.0 1045.0 1169.6 1044.8 1171.2 1043.9 1172.8 1044.8 1174.4 1044.4 1175.9 1044.5 1177.5 1046.4 1179.1 1045.9 1180.7 1043.9 1182.3 1041.6 1183.9 1040.0 1185.5 1040.2 1187.0 1039.0 1188.6 1038.5 1190.2 1040.8 1191.8 1043.0 1193.4 1046.8 1195.0 1047.9 1196.6 1048.1 1198.1 1044.8 1199.7 1038.9 1201.3 1037.3 1202.9 1037.0 1204.5 1038.6 1206.1 1041.8 1207.7 1044.8 1209.2 1048.4 1210.8 1048.5 1212.4 1047.4 1214.0 1049.1 1215.6 1047.5 1217.2 1045.6 1218.8 1044.3 1220.4 1043.4 1221.9 1041.0 1223.5 1039.8 1225.1 1036.6 1226.7 1034.3 1228.3 1032.0 1229.9 1029.0 1231.5 1031.3 1233.0 1030.9 1234.6 1032.5 1236.2 1034.9 1237.8 1038.9 1239.4 1041.3 1241.0 1042.5 1242.6 1044.4 1244.1 1047.0 1245.7 1047.1 1247.3 1049.3 1248.9 1050.7 1250.5 1050.9 1252.1 1049.3 1253.7 1046.1 1255.2 1043.8 1256.8 1041.5 1258.4 1039.9 1260.0 1039.9 1261.6 1040.5 1263.2 1030.9 1264.8 1021.6 1266.3 1008.1 1267.9 994.2 1269.5 986.5 1271.1 983.1 1272.7 981.2 1274.3 981.1 1275.9 979.7 1277.4 981.0 1279.0 979.9 1280.6 979.7 1282.2 978.2 1283.8 975.7 1285.4 974.8 1287.0 976.7 1288.5 977.0 1290.1 977.5 1291.7 979.2 1293.3 981.2 1294.9 982.0 1296.5 984.1 1298.1 983.0 1299.7 981.2 1301.2 979.9 1302.8 982.0 1304.4 982.1 1306.0 982.0 1307.6 984.0 1309.2 984.6 1310.8 987.0 1312.3 986.8 1313.9 987.0 1315.5 986.7 1317.1 985.9 1318.7 983.9 1320.3 983.8 1321.9 982.1 1323.4 981.4 1325.0 983.0 1326.6 984.7 1328.2 986.7 1329.8 990.5 1331.4 993.9 1333.0 999.6 1334.5 1008.4 1336.1 1014.7 1337.7 1023.5 1339.3 1033.4 1340.9 1039.7 1342.5 1045.7 1344.1 1049.4 1345.6 1048.1 1347.2 1046.8 1348.8 1045.3 1350.4 1040.0 1352.0 1037.8 1353.6 1036.0 1355.2 1033.1 1356.7 1031.5 1358.3 1030.7 1359.9 1032.4 1361.5 1035.5 1363.1 1036.0 1364.7 1037.8 1366.3 1039.0 1367.9 1040.3 1369.4 1038.5 1371.0 1034.7 1372.6 1036.2 1374.2 1036.4 1375.8 1037.4 1377.4 1038.7 1379.0 1038.8 1380.5 1040.3 1382.1 1039.9 1383.7 1040.1 1385.3 1041.1 1386.9 1037.9 1388.5 1037.4 1390.1 1037.5 1391.6 1036.4 1393.2 1036.0 1394.8 1036.8 1396.4 1039.0 1398.0 1040.6 1399.6 1042.2 1401.2 1042.8 1402.7 1044.1 1404.3 1045.5 1405.9 1047.8 1407.5 1050.4 1409.1 1051.3 1410.7 1052.5 1412.3 1055.8 1413.8 1058.2 1415.4 1058.5 1417.0 1052.9 1418.6 1045.5 1420.2 1038.7 1421.8 1036.0 1423.4 1031.7 1424.9 1031.1 1426.5 1037.5 1428.1 1042.5 1429.7 1046.8 1431.3 1050.7 1432.9 1054.8 1434.5 1053.7 1436.0 1052.4 1437.6 1050.7 1439.2 1047.9 1440.8 1045.2 1442.4 1042.4 1444.0 1040.0 1445.6 1035.8 1447.2 1037.1 1448.7 1040.2 1450.3 1041.8 1451.9 1029.8 1453.5 1012.6 1455.1 1010.9 1456.7 1010.4 1458.3 1006.5 1459.8 1027.8 1461.4 1042.5 1463.0 1042.6 1464.6 1044.1 1466.2 1042.9 1467.8 1041.4 1469.4 1041.1 1470.9 1041.9 1472.5 1042.6 1474.1 1042.8 1475.7 1043.8 1477.3 1044.1 1478.9 1043.3 1480.5 1045.5 1482.0 1043.6 1483.6 1044.6 1485.2 1043.0 1486.8 1044.8 1488.4 1046.0 1490.0 1040.9 1491.6 1037.2 1493.1 1036.7 1494.7 1033.8 1496.3 1033.9 1497.9 1034.7 1499.5 1035.6 1501.1 1037.1 1502.7 1037.8 1504.2 1036.0 1505.8 1037.1 1507.4 1036.3 1509.0 1037.4 1510.6 1038.6 1512.2 1039.6 1513.8 1040.8 1515.3 1039.2 1516.9 1040.9 1518.5 1039.8 1520.1 1037.9 1521.7 1038.0 1523.3 1034.7 1524.9 1033.1 1526.5 1030.2 1528.0 1028.0 1529.6 1027.9 1531.2 1031.6 1532.8 1033.4 1534.4 1033.7 1536.0 1033.1 1537.6 1034.7 1539.1 1036.0 1540.7 1039.7 1542.3 1040.2 1543.9 1043.1 1545.5 1044.3 1547.1 1043.3 1548.7 1045.3 1550.2 1047.1 1551.8 1047.3 1553.4 1045.5 1555.0 1044.2 1556.6 1043.9 1558.2 1042.5 1559.8 1043.2 1561.3 1041.9 1562.9 1040.9 1564.5 1042.5 1566.1 1044.0 1567.7 1043.8 1569.3 1045.9 1570.9 1044.5 1572.4 1042.2 1574.0 1038.2 1575.6 1035.5 1577.2 1033.6 1578.8 1032.0 1580.4 1030.4 1582.0 1033.9 1583.5 1036.3 1585.1 1036.4 1586.7 1036.2 1588.3 1033.6 1589.9 1034.7 1591.5 1032.2 1593.1 1031.3 1594.6 1032.3 1596.2 1031.3 1597.8 1035.3 1599.4 1037.8 1601.0 1042.8 1602.6 1046.4 1604.2 1050.9 1605.8 1048.7 1607.3 1046.2 1608.9 1045.7 1610.5 1043.4 1612.1 1043.6 1613.7 1044.6 1615.3 1045.5 1616.9 1046.9 1618.4 1047.8 1620.0 1049.8 1621.6 1050.8 1623.2 1051.3 1624.8 1051.1 1626.4 1050.9 1628.0 1050.3 1629.5 1051.2 1631.1 1049.1 1632.7 1047.7 1634.3 1047.7 1635.9 1049.1 1637.5 1050.4 1639.1 1049.3 1640.6 1047.3 1642.2 1044.0 1643.8 1044.0 1645.4 1042.6 1647.0 1043.5 1648.6 1044.8 1650.2 1045.9 1651.7 1047.0 1653.3 1046.1 1654.9 1046.6 1656.5 1046.8 1658.1 1047.6 1659.7 1048.2 1661.3 1047.2 1662.8 1044.9 1664.4 1043.8 1666.0 1042.6 1667.6 1041.0 1669.2 1040.7 1670.8 1041.4 1672.4 1042.5 1673.9 1043.8 1675.5 1046.7 1677.1 1043.2 1678.7 1041.9 1680.3 1039.2 1681.9 1039.5 1683.5 1040.3 1685.0 1040.2 1686.6 1040.9 1688.2 1038.7 1689.8 1038.7 1691.4 1036.5 1693.0 1037.7 1694.6 1037.8 1696.2 1039.2 1697.7 1040.5 1699.3 1041.5 1700.9 1041.0 1702.5 1042.9 1704.1 1044.9 1705.7 1046.3 1707.3 1048.4 1708.8 1049.0 1710.4 1049.8 1712.0 1046.4 1713.6 1047.1 1715.2 1044.8 1716.8 1045.4 1718.4 1045.1 1719.9 1046.6 1721.5 1045.7 1723.1 1047.6 1724.7 1047.5 1726.3 1047.8 1727.9 1048.8 1729.5 1049.0 1731.0 1048.3 1732.6 1048.2 1734.2 1046.7 1735.8 1045.9 1737.4 1045.0 1739.0 1042.8 1740.6 1044.6 1742.1 1042.5 1743.7 1040.8 1745.3 1038.2 1746.9 1036.2 1748.5 1033.3 1750.1 1035.4 1751.7 1037.6 1753.2 1037.7 1754.8 1037.5 1756.4 1038.2 1758.0 1036.3 1759.6 1033.2 1761.2 1032.5 1762.8 1033.8 1764.4 1034.7 1765.9 1036.1 1767.5 1037.2 1769.1 1039.3 1770.7 1039.3 1772.3 1041.0 1773.9 1039.4 1775.5 1039.4 1777.0 1038.7 1778.6 1037.7 1780.2 1039.4 1781.8 1040.5 1783.4 1042.8 1785.0 1041.7 1786.6 1042.5 1788.1 1041.5 1789.7 1042.2 1791.3 1042.9 1792.9 1044.0 1794.5 1044.3 1796.1 1043.0 1797.7 1042.9 1799.2 1043.4 1800.8 1042.4 1802.4 1044.3 1804.0 1046.1 1805.6 1045.9 1807.2 1045.4 1808.8 1045.2 1810.3 1044.3 1811.9 1043.1 1813.5 1044.2 1815.1 1043.8 1816.7 1043.7 1818.3 1044.9 1819.9 1044.1 1821.4 1044.1 1823.0 1042.6 1824.6 1041.5 1826.2 1041.6 1827.8 1042.8 1829.4 1040.2 1831.0 1040.9 1832.5 1040.0 1834.1 1041.2 1835.7 1039.2 1837.3 1040.5 1838.9 1041.0 1840.5 1039.9 1842.1 1038.3 1843.7 1040.1 1845.2 1037.7 1846.8 1038.1 1848.4 1039.3 1850.0 1037.6 1851.6 1037.1 1853.2 1037.1 1854.8 1036.8 1856.3 1035.8 1857.9 1034.4 1859.5 1033.3 1861.1 1033.4 1862.7 1032.5 1864.3 1033.5 1865.9 1032.3 1867.4 1028.2 1869.0 1025.6 1870.6 1024.1 1872.2 1020.6 1873.8 1019.5 1875.4 1018.3 1877.0 1018.2 1878.5 1019.4 1880.1 1020.7 1881.7 1023.1 1883.3 1020.1 1884.9 1021.6 1886.5 1020.8 1888.1 1021.4 1889.6 1020.6 1891.2 1020.9 1892.8 1021.3 1894.4 1022.7 1896.0 1022.7 1897.6 1023.9 1899.2 1026.3 1900.7 1025.0 1902.3 1025.8 1903.9 1023.1 1905.5 1024.1 1907.1 1023.6 1908.7 1023.7 1910.3 1023.6 1911.8 1022.6 1913.4 1024.8 1915.0 1024.2 1916.6 1024.0 1918.2 1023.6 1919.8 1022.5 1921.4 1022.4 1922.9 1023.9 1924.5 1023.5 1926.1 1023.7 1927.7 1023.9 1929.3 1023.4 1930.9 1024.0 1932.5 1024.0 1934.1 1021.3 1935.6 1024.6 1937.2 1023.0 1938.8 1022.6 1940.4 1024.7 1942.0 1026.1 1943.6 1025.6 1945.2 1025.9 1946.7 1026.0 1948.3 1027.2 1949.9 1025.3 1951.5 1023.8 1953.1 1022.2 1954.7 1022.1 1956.3 1022.7 1957.8 1021.7 1959.4 1022.0 1961.0 1021.7 1962.6 1022.5 1964.2 1021.7 1965.8 1022.8 1967.4 1020.8 1968.9 1020.9 1970.5 1020.7 1972.1 1020.1 1973.7 1019.4 1975.3 1017.6 1976.9 1016.8 1978.5 1016.0 1980.0 1009.7 1981.6 1006.3 1983.2 1004.8 1984.8 1003.0 1986.4 1003.6 1988.0 1005.4 1989.6 1009.1 1991.1 1008.7 1992.7 1010.1 1994.3 1011.0 1995.9 1007.2 1997.5 1005.4 1999.1 1006.4 2000.7 1009.8 2002.3 1010.9 2003.8 1012.9 2005.4 1015.8 2007.0 1015.5 2008.6 1017.3 2010.2 1017.3 2011.8 1018.1 2013.4 1018.0 2014.9 1018.6 2016.5 1020.6 2018.1 1018.1 2019.7 1017.0 2021.3 1019.6 2022.9 1017.4 2024.5 1018.2 2026.0 1019.2 2027.6 1017.3 2029.2 1017.8 2030.8 1018.3 2032.4 1018.0 2034.0 1017.8 2035.6 1017.4 2037.1 1017.2 2038.7 1017.1 2040.3 1017.4 2041.9 1017.4 2043.5 1017.7 2045.1 1017.9 2046.7 1019.2 2048.2 1019.5 2049.8 1020.2 2051.4 1018.6 2053.0 1019.4 2054.6 1021.7 2056.2 1021.3 2057.8 1018.6 2059.3 1017.9 2060.9 1015.8 2062.5 1013.9 2064.1 1014.7 2065.7 1014.9 2067.3 1013.1 2068.9 1012.8 2070.4 1013.0 2072.0 1013.6 2073.6 1014.1 2075.2 1013.7 2076.8 1013.8 2078.4 1011.0 2080.0 1009.7 2081.5 1010.0 2083.1 1012.6 2084.7 1011.4 2086.3 1013.7 2087.9 1017.3 2089.5 1018.5 2091.1 1020.9 2092.7 1021.7 2094.2 1023.4 2095.8 1021.7 2097.4 1020.5 2099.0 1020.3 2100.6 1019.6 2102.2 1019.8 2103.8 1022.3 2105.3 1023.0 2106.9 1022.9 2108.5 1022.1 2110.1 1020.4 2111.7 1020.3 2113.3 1017.2 2114.9 1014.3 2116.4 1013.1 2118.0 1012.1 2119.6 1013.9 2121.2 1013.2 2122.8 1014.3 2124.4 1017.2 2126.0 1019.7 2127.5 1021.5 2129.1 1021.7 2130.7 1023.8 2132.3 1022.0 2133.9 1022.7 2135.5 1022.3 2137.1 1021.8 2138.6 1021.9 2140.2 1020.0 2141.8 1019.6 2143.4 1020.6 2145.0 1020.7 2146.6 1021.0 2148.2 1022.1 2149.7 1023.6 2151.3 1022.7 2152.9 1022.3 2154.5 1021.6 2156.1 1022.2 2157.7 1021.3 2159.3 1022.8 2160.8 1022.9 2162.4 1023.3 2164.0 1024.5 2165.6 1024.4 2167.2 1026.6 2168.8 1026.4 2170.4 1026.9 2172.0 1026.7 2173.5 1019.5 2175.1 1016.2 2176.7 1015.4 2178.3 1012.8 2179.9 1013.4 2181.5 1014.2 2183.1 1017.0 2184.6 1021.3 2186.2 1019.5 2187.8 1020.7 2189.4 1021.5 2191.0 1022.2 2192.6 1022.0 2194.2 1019.2 2195.7 1013.8 2197.3 1015.2 2198.9 1014.5 2200.5 1013.4 2202.1 1015.4 2203.7 1019.7 2205.3 1022.3 2206.8 1023.3 2208.4 1022.2 2210.0 1023.7 2211.6 1023.5 2213.2 1022.9 2214.8 1022.4 2216.4 1023.2 2217.9 1020.6 2219.5 1022.2 2221.1 1021.8 2222.7 1023.1 2224.3 1023.1 2225.9 1022.6 2227.5 1024.2 2229.0 1023.8 2230.6 1021.7 2232.2 1022.7 2233.8 1022.4 2235.4 1020.9 2237.0 1021.7 2238.6 1022.4 2240.2 1022.2 2241.7 1023.6 2243.3 1023.1 2244.9 1023.6 2246.5 1021.9 2248.1 1020.6 2249.7 1017.9 2251.3 1016.8 2252.8 1016.0 2254.4 1017.1 2256.0 1016.6 2257.6 1015.2 2259.2 1015.5 2260.8 1013.6 2262.4 1014.4 2263.9 1014.1 2265.5 1014.4 2267.1 1013.0 2268.7 1014.3 2270.3 1013.6 2271.9 1014.7 2273.5 1015.3 2275.0 1016.5 2276.6 1018.3 2278.2 1018.4 2279.8 1019.5 2281.4 1019.4 2283.0 1020.4 2284.6 1019.0 2286.1 1018.7 2287.7 1019.3 2289.3 1018.4 2290.9 1017.9 2292.5 1016.7 2294.1 1014.2 2295.7 1016.1 2297.2 1018.7 2298.8 1016.9 2300.4 1018.4 2302.0 1019.5 2303.6 1019.9 2305.2 1018.9 2306.8 1020.1 2308.3 1019.2 2309.9 1020.1 2311.5 1021.4 2313.1 1021.5 2314.7 1021.9 2316.3 1023.8 2317.9 1025.3 2319.4 1024.5 2321.0 1022.9 2322.6 1024.9 2324.2 1022.9 2325.8 1021.2 2327.4 1019.1 2329.0 1020.6 2330.6 1022.1 2332.1 1022.9 2333.7 1023.3 2335.3 1025.0 2336.9 1023.7 2338.5 1025.9 2340.1 1027.1 2341.7 1027.2 2343.2 1027.2" stroke="#ffd700" stroke-width="1.5" fill="none" stroke-linejoin="round"/></g><rect x="2276.5" y="1103.5" width="62" height="41" rx="3" fill="#fff8dc" fill-opacity="0.8" stroke="#d2b48c" stroke-width="1"/><path d="M2279 1111.5H2301" stroke="#dc143c" stroke-width="3"/><text x="2308.30" y="1114.20" font-size="9.5" text-anchor="start" textLength="24.7" lengthAdjust="spacingAndGlyphs">dB(Z)</text><path d="M2279 1123.5H2301" stroke="#ff8c00" stroke-width="3"/><text x="2308.30" y="1126.20" font-size="9.5" text-anchor="start" textLength="24.7" lengthAdjust="spacingAndGlyphs">dB(C)</text><path d="M2279 1135.5H2301" stroke="#ffd700" stroke-width="3"/><text x="2308.30" y="1138.20" font-size="9.5" text-anchor="start" textLength="24.7" lengthAdjust="spacingAndGlyphs">dB(A)</text><rect x="59.5" y="645.5" width="2284" height="504" fill="none" stroke="#000" stroke-width="1.1"/><path d="M52 1149.5H59M2344 1149.5H2351M52 1077.5H59M2344 1077.5H2351M52 1005.5H59M2344 1005.5H2351M52 933.5H59M2344 933.5H2351M52 861.5H59M2344 861.5H2351M52 789.5H59M2344 789.5H2351M52 717.5H59M2344 717.5H2351M52 645.5H59M2344 645.5H2351M59.5 1149.5v7M249.5 1149.5v7M440.5 1149.5v7M630.5 1149.5v7M820.5 1149.5v7M1010.5 1149.5v7M1201.5 1149.5v7M1391.5 1149.5v7M1581.5 1149.5v7M1772.5 1149.5v7M1962.5 1149.5v7M2152.5 1149.5v7" stroke="#000" stroke-width="0.9" fill="none"/><path d="M55.5 1131.5H59M2344 1131.5H2347.5M55.5 1113.5H59M2344 1113.5H2347.5M55.5 1095.5H59M2344 1095.5H2347.5M55.5 1059.5H59M2344 1059.5H2347.5M55.5 1041.5H59M2344 1041.5H2347.5M55.5 1023.5H59M2344 1023.5H2347.5M55.5 987.5H59M2344 987.5H2347.5M55.5 969.5H59M2344 969.5H2347.5M55.5 951.5H59M2344 951.5H2347.5M55.5 915.5H59M2344 915.5H2347.5M55.5 897.5H59M2344 897.5H2347.5M55.5 879.5H59M2344 879.5H2347.5M55.5 843.5H59M2344 843.5H2347.5M55.5 825.5H59M2344 825.5H2347.5M55.5 807.5H59M2344 807.5H2347.5M55.5 771.5H59M2344 771.5H2347.5M55.5 753.5H59M2344 753.5H2347.5M55.5 735.5H59M2344 735.5H2347.5M55.5 699.5H59M2344 699.5H2347.5M55.5 681.5H59M2344 681.5H2347.5M55.5 663.5H59M2344 663.5H2347.5M106.5 1149.5v3.5M154.5 1149.5v3.5M202.5 1149.5v3.5M297.5 1149.5v3.5M344.5 1149.5v3.5M392.5 1149.5v3.5M487.5 1149.5v3.5M535.5 1149.5v3.5M582.5 1149.5v3.5M677.5 1149.5v3.5M725.5 1149.5v3.5M773.5 1149.5v3.5M868.5 1149.5v3.5M915.5 1149.5v3.5M963.5 1149.5v3.5M1058.5 1149.5v3.5M1106.5 1149.5v3.5M1153.5 1149.5v3.5M1248.5 1149.5v3.5M1296.5 1149.5v3.5M1344.5 1149.5v3.5M1439.5 1149.5v3.5M1486.5 1149.5v3.5M1534.5 1149.5v3.5M1629.5 1149.5v3.5M1677.5 1149.5v3.5M1724.5 1149.5v3.5M1819.5 1149.5v3.5M1867.5 1149.5v3.5M1915.5 1149.5v3.5M2010.5 1149.5v3.5M2057.5 1149.5v3.5M2105.5 1149.5v3.5M2200.5 1149.5v3.5M2248.5 1149.5v3.5M2295.5 1149.5v3.5" stroke="#000" stroke-width="0.9" fill="none"/><text x="46.30" y="1152.20" font-size="10" text-anchor="end" textLength="8.8" lengthAdjust="spacingAndGlyphs">24</text><text x="2355.20" y="1152.20" font-size="10" text-anchor="start" textLength="8.8" lengthAdjust="spacingAndGlyphs">24</text><text x="46.30" y="1080.20" font-size="10" text-anchor="end" textLength="8.8" lengthAdjust="spacingAndGlyphs">36</text><text x="2355.20" y="1080.20" font-size="10" text-anchor="start" textLength="8.8" lengthAdjust="spacingAndGlyphs">36</text><text x="46.30" y="1008.20" font-size="10" text-anchor="end" textLength="8.8" lengthAdjust="spacingAndGlyphs">48</text><text x="2355.20" y="1008.20" font-size="10" text-anchor="start" textLength="8.8" lengthAdjust="spacingAndGlyphs">48</text><text x="46.30" y="936.20" font-size="10" text-anchor="end" textLength="8.8" lengthAdjust="spacingAndGlyphs">60</text><text x="2355.20" y="936.20" font-size="10" text-anchor="start" textLength="8.8" lengthAdjust="spacingAndGlyphs">60</text><text x="46.30" y="864.20" font-size="10" text-anchor="end" textLength="8.8" lengthAdjust="spacingAndGlyphs">72</text><text x="2355.20" y="864.20" font-size="10" text-anchor="start" textLength="8.8" lengthAdjust="spacingAndGlyphs">72</text><text x="46.30" y="792.20" font-size="10" text-anchor="end" textLength="8.8" lengthAdjust="spacingAndGlyphs">84</text><text x="2355.20" y="792.20" font-size="10" text-anchor="start" textLength="8.8" lengthAdjust="spacingAndGlyphs">84</text><text x="46.30" y="720.20" font-size="10" text-anchor="end" textLength="8.8" lengthAdjust="spacingAndGlyphs">96</text><text x="2355.20" y="720.20" font-size="10" text-anchor="start" textLength="8.8" lengthAdjust="spacingAndGlyphs">96</text><text x="46.30" y="648.20" font-size="10" text-anchor="end" textLength="13.4" lengthAdjust="spacingAndGlyphs">108</text><text x="2355.20" y="648.20" font-size="10" text-anchor="start" textLength="13.4" lengthAdjust="spacingAndGlyphs">108</text><text x="58.80" y="1167.90" font-size="10" text-anchor="middle" textLength="35.2" lengthAdjust="spacingAndGlyphs">00:00:00</text><text x="249.12" y="1167.90" font-size="10" text-anchor="middle" textLength="35.2" lengthAdjust="spacingAndGlyphs">02:00:00</text><text x="439.44" y="1167.90" font-size="10" text-anchor="middle" textLength="35.2" lengthAdjust="spacingAndGlyphs">04:00:00</text><text x="629.76" y="1167.90" font-size="10" text-anchor="middle" textLength="35.2" lengthAdjust="spacingAndGlyphs">06:00:00</text><text x="820.08" y="1167.90" font-size="10" text-anchor="middle" textLength="35.2" lengthAdjust="spacingAndGlyphs">08:00:00</text><text x="1010.40" y="1167.90" font-size="10" text-anchor="middle" textLength="35.2" lengthAdjust="spacingAndGlyphs">10:00:00</text><text x="1200.72" y="1167.90" font-size="10" text-anchor="middle" textLength="35.2" lengthAdjust="spacingAndGlyphs">12:00:00</text><text x="1391.04" y="1167.90" font-size="10" text-anchor="middle" textLength="35.2" lengthAdjust="spacingAndGlyphs">14:00:00</text><text x="1581.36" y="1167.90" font-size="10" text-anchor="middle" textLength="35.2" lengthAdjust="spacingAndGlyphs">16:00:00</text><text x="1771.68" y="1167.90" font-size="10" text-anchor="middle" textLength="35.2" lengthAdjust="spacingAndGlyphs">18:00:00</text><text x="1962.00" y="1167.90" font-size="10" text-anchor="middle" textLength="35.2" lengthAdjust="spacingAndGlyphs">20:00:00</text><text x="2152.32" y="1167.90" font-size="10" text-anchor="middle" textLength="35.2" lengthAdjust="spacingAndGlyphs">22:00:00</text><text x="1201.50" y="1185.00" font-size="12" text-anchor="middle" textLength="25" lengthAdjust="spacingAndGlyphs">time</text><text x="21.50" y="897.50" font-size="12" text-anchor="middle" textLength="39.7" lengthAdjust="spacingAndGlyphs" transform="rotate(-90 21.50 897.50)">dB SPL</text><text x="2385.00" y="897.50" font-size="12" text-anchor="middle" textLength="39.7" lengthAdjust="spacingAndGlyphs" transform="rotate(-90 2385.00 897.50)">dB SPL</text><text x="59.30" y="635.80" font-size="12" text-anchor="start" font-weight="bold" textLength="381.2" lengthAdjust="spacingAndGlyphs">average noise level (5 min with 15s min/max dB envelope)</text></svg></body></html>
